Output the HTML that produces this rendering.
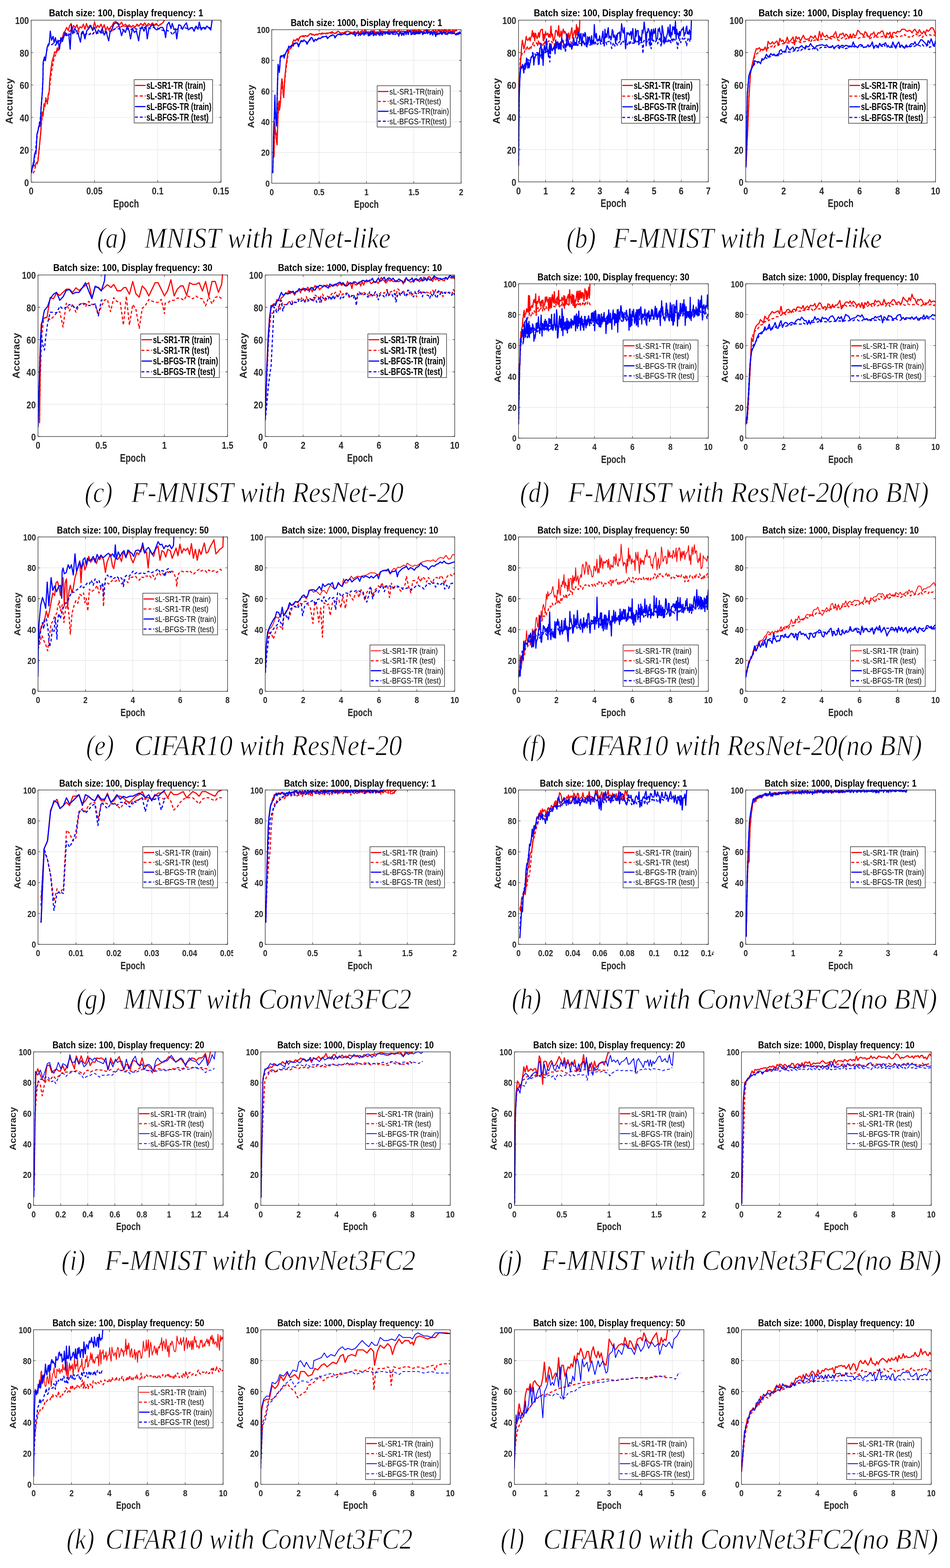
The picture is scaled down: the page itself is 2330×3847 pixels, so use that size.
<!DOCTYPE html>
<html><head><meta charset="utf-8"><title>Accuracy plots</title>
<style>html,body{margin:0;padding:0;background:#fff}svg{display:block}
text{font-family:"Liberation Sans",Arial,sans-serif}text.cap{font-family:"Liberation Serif","Times New Roman",serif;font-style:italic;stroke:#fff;stroke-width:1.3px}</style></head>
<body><svg width="2330" height="3847" viewBox="0 0 2330 3847">
<defs><clipPath id="ca1"><rect x="76.5" y="47.5" width="465.5" height="399.5"/></clipPath><clipPath id="ca2"><rect x="666.5" y="70.8" width="464.4" height="378.7"/></clipPath><clipPath id="cb1"><rect x="1271.7" y="47.5" width="465.6" height="398.8"/></clipPath><clipPath id="cb2"><rect x="1828.9" y="47.5" width="465.6" height="398.8"/></clipPath><clipPath id="cc1"><rect x="93.3" y="672.6" width="464.8" height="398.4"/></clipPath><clipPath id="cc2"><rect x="650.5" y="672.6" width="464.8" height="398.4"/></clipPath><clipPath id="cd1"><rect x="1271.7" y="694.3" width="465.6" height="380.7"/></clipPath><clipPath id="cd2"><rect x="1828.9" y="694.3" width="465.6" height="380.7"/></clipPath><clipPath id="ce1"><rect x="93.3" y="1315.4" width="464.8" height="380.8"/></clipPath><clipPath id="ce2"><rect x="650.5" y="1315.4" width="464.8" height="380.8"/></clipPath><clipPath id="cf1"><rect x="1271.7" y="1315.4" width="465.6" height="380.8"/></clipPath><clipPath id="cf2"><rect x="1828.9" y="1315.4" width="465.6" height="380.8"/></clipPath><clipPath id="cg1"><rect x="93.3" y="1936.3" width="464.8" height="380.7"/></clipPath><clipPath id="kg1"><rect x="0" y="0" width="572" height="3847"/></clipPath><clipPath id="cg2"><rect x="650.5" y="1936.3" width="464.8" height="380.7"/></clipPath><clipPath id="ch1"><rect x="1271.7" y="1936.3" width="465.6" height="380.7"/></clipPath><clipPath id="kh1"><rect x="0" y="0" width="1750" height="3847"/></clipPath><clipPath id="ch2"><rect x="1828.9" y="1936.3" width="465.6" height="380.7"/></clipPath><clipPath id="ci1"><rect x="82.4" y="2578.7" width="464.8" height="378.7"/></clipPath><clipPath id="ci2"><rect x="639.6" y="2578.7" width="464.8" height="378.7"/></clipPath><clipPath id="cj1"><rect x="1261.6" y="2578.7" width="464.8" height="378.7"/></clipPath><clipPath id="cj2"><rect x="1818.5" y="2578.7" width="465.5" height="378.7"/></clipPath><clipPath id="ck1"><rect x="82.4" y="3260.5" width="464.8" height="381.2"/></clipPath><clipPath id="ck2"><rect x="639.6" y="3260.5" width="464.8" height="381.2"/></clipPath><clipPath id="cl1"><rect x="1261.6" y="3260.5" width="464.8" height="381.2"/></clipPath><clipPath id="cl2"><rect x="1818.5" y="3260.5" width="465.5" height="381.2"/></clipPath></defs>
<rect width="2330" height="3847" fill="#fff"/>
<path d="M231.7 49.5V447.0M386.8 49.5V447.0M76.5 367.5H542.0M76.5 288.0H542.0M76.5 208.5H542.0M76.5 129.0H542.0" stroke="#e3e3e3" stroke-width="1.2" fill="none"/>
<g clip-path="url(#ca1)" fill="none" stroke-width="2.8" stroke-linejoin="round">
<path d="M80.0 412.0 83.0 405.0 86.0 408.0 88.5 400.0 91.0 402.0 93.3 394.0 95.3 372.0 97.5 350.0 99.5 330.0 101.5 300.0 103.7 275.0 105.5 285.0 107.8 255.0 110.0 262.0 112.6 240.0 114.5 250.0 116.6 249.3 118.5 230.0 120.6 225.2 121.7 199.4 124.8 171.0 128.0 149.0 131.1 139.5 134.3 126.9 137.4 130.1 140.6 117.5 143.7 123.8 146.9 108.0 150.0 98.6 153.2 92.3 156.3 79.7 159.5 76.5 163.6 67.1 167.4 74.9 170.5 63.9 174.3 57.6 177.4 73.4 180.6 62.3 184.7 68.6 188.8 60.8 192.6 73.4 196.3 65.5 200.4 68.6 204.5 59.2 208.3 71.8 212.1 57.6 216.2 70.2 220.3 62.3 224.1 67.1 227.8 71.8 231.9 54.5 236.0 68.6 239.8 62.3 243.6 67.1 247.7 59.2 251.8 70.2 255.6 60.8 259.3 74.9 263.4 65.5 266.6 73.4 270.7 67.1 274.5 63.9 279.2 54.5 283.9 52.9 288.6 56.0 293.4 60.8 298.1 54.5 302.8 63.9 307.5 59.2 312.3 65.5 317.0 60.8 321.7 67.1 326.4 62.3 331.2 67.1 335.9 59.2 340.6 63.9 345.3 57.6 350.1 62.3 354.8 56.0 359.5 63.9 364.2 57.6 369.0 62.3 373.7 56.0 378.4 62.3 383.1 57.6 387.9 63.9 392.6 60.8 397.3 57.6 400.5 54.5 403.0 49.7" stroke="#ff0000"/>
<path d="M81.0 425.0 84.0 420.0 86.0 412.0 88.0 405.0 90.0 400.0 92.0 395.0 94.0 385.0 96.0 370.0 98.0 345.0 100.0 325.0 102.0 300.0 104.0 285.0 106.0 280.0 108.0 265.0 110.0 250.0 113.0 245.0 116.0 255.0 119.0 236.0 122.0 215.0 123.3 199.4 126.4 177.3 130.2 155.3 133.3 139.5 137.4 133.2 141.5 120.6 145.3 114.3 149.1 104.9 153.2 97.0 157.9 89.1 162.6 82.8 167.4 79.7 172.1 74.9 176.8 78.1 181.5 79.7 186.3 76.5 191.0 74.9 195.7 79.7 200.4 82.8 205.2 79.7 209.9 84.4 214.6 81.2 219.3 84.4 224.1 79.7 228.8 82.8 233.5 76.5 238.2 79.7 243.0 76.5 247.7 78.1 252.4 74.9 257.1 76.5 261.9 78.1 266.6 73.4 271.3 70.2 276.0 74.9 280.8 70.2 285.5 67.1 290.2 65.5 294.9 67.1 299.7 63.9 304.4 67.1 309.1 63.9 313.8 67.1 318.6 63.9 323.3 65.5 328.0 68.6 332.7 65.5 337.5 63.9 342.2 62.3 346.9 60.8 351.6 62.3 356.4 60.8 361.1 63.9 365.8 62.3 370.5 60.8 375.3 59.2 380.0 62.3 384.7 59.2 389.4 60.8 394.2 59.2 400.5 57.6" stroke="#ff0000" stroke-dasharray="7 5"/>
<path d="M77.0 418.0 78.4 418.2 80.0 405.0 82.4 402.0 84.5 380.0 86.4 374.0 88.0 378.0 89.3 362.0 90.5 330.0 91.7 325.7 94.0 318.0 96.5 305.6 98.0 310.0 99.7 289.5 101.0 262.0 102.5 241.3 104.0 225.0 105.3 193.0 105.9 152.1 109.1 139.5 111.3 149.0 115.4 117.5 118.5 108.0 120.7 108.0 123.3 76.5 126.4 98.6 130.2 89.1 132.7 104.9 135.9 92.3 139.0 108.0 142.2 98.6 145.9 120.6 149.1 92.3 153.2 101.7 156.3 90.7 159.5 79.7 164.2 86.0 168.9 86.0 172.1 120.6 175.2 60.8 178.4 82.8 183.1 70.2 187.8 76.5 192.6 86.0 197.3 103.3 200.4 79.7 203.6 76.5 208.3 95.4 213.0 74.9 217.8 70.2 222.5 62.3 227.2 74.9 231.9 67.1 236.7 82.8 241.4 73.4 246.1 79.7 250.8 70.2 255.6 86.0 260.3 76.5 263.4 89.1 266.6 100.1 269.7 79.7 274.5 71.8 279.2 59.2 283.9 56.0 288.6 57.6 293.4 67.1 298.1 87.5 302.8 73.4 307.5 79.7 312.3 63.9 317.0 76.5 320.1 95.4 324.9 70.2 329.6 79.7 334.3 74.9 340.0 100.1 343.8 73.4 348.5 65.5 353.2 76.5 357.9 63.9 361.1 95.4 365.2 70.2 370.5 63.9 375.3 60.8 380.0 70.2 384.7 73.4 389.4 70.2 394.2 67.1 398.9 67.1 403.6 76.5 406.1 92.3 409.9 60.8 414.6 54.5 419.4 70.2 422.5 57.6 427.2 73.4 430.4 70.2 433.5 95.4 438.3 60.8 443.0 62.3 447.7 71.8 452.4 62.3 457.2 56.0 461.9 73.4 466.6 70.2 471.3 67.1 476.1 76.5 480.8 63.9 485.5 71.8 488.7 54.5 493.4 73.4 498.1 67.1 502.8 71.8 507.6 63.9 512.3 68.6 517.0 73.4 520.2 49.7" stroke="#0000ff"/>
<path d="M77.0 425.0 79.0 415.0 81.0 400.0 83.0 405.0 85.0 385.0 87.0 372.0 89.0 350.0 91.0 335.0 93.0 320.0 95.0 310.0 97.0 300.0 99.0 290.0 101.0 262.0 103.0 240.0 105.0 200.0 105.9 158.4 109.1 145.8 112.2 139.5 115.4 120.6 118.5 111.2 123.3 108.0 127.0 109.6 131.1 106.4 135.9 111.2 140.6 103.3 145.3 100.1 150.0 98.6 154.8 89.1 159.5 86.0 164.2 87.5 168.9 82.8 173.7 86.0 178.4 81.2 183.1 79.7 187.8 82.8 192.6 81.2 197.3 84.4 202.0 81.2 206.7 86.0 211.5 82.8 216.2 86.0 220.9 82.8 225.6 86.0 230.4 79.7 235.1 82.8 239.8 81.2 244.5 82.8 249.3 79.7 254.0 82.8 258.7 81.2 263.4 79.7 268.2 76.5 272.9 76.5 277.6 74.9 282.3 70.2 287.1 71.8 291.8 70.2 296.5 73.4 301.2 71.8 306.0 74.9 310.7 71.8 315.4 70.2 320.1 73.4 324.9 70.2 329.6 68.6 334.3 71.8 339.0 70.2 343.8 68.6 348.5 70.2 353.2 67.1 357.9 68.6 362.7 67.1 367.4 70.2 372.1 68.6 376.8 67.1 381.6 70.2 386.3 68.6 391.0 71.8 395.7 73.4 400.5 74.9 405.2 76.5 409.9 74.9 414.6 76.5 419.4 79.7 424.1 86.0 427.2 79.7 432.0 73.4 436.7 70.2 441.4 68.6 446.1 70.2 450.9 67.1 455.6 68.6 460.3 70.2 466.6 68.6 472.9 67.1 479.2 68.6 485.5 67.1 491.8 68.6 498.1 67.1 504.4 68.6 510.7 67.1 517.0 68.6" stroke="#0000ff" stroke-dasharray="7 5"/>
</g>
<path d="M76.5 447.0v-5.0M76.5 49.5v5.0M231.7 447.0v-5.0M231.7 49.5v5.0M386.8 447.0v-5.0M386.8 49.5v5.0M542.0 447.0v-5.0M542.0 49.5v5.0M76.5 447.0h5.0M542.0 447.0h-5.0M76.5 367.5h5.0M542.0 367.5h-5.0M76.5 288.0h5.0M542.0 288.0h-5.0M76.5 208.5h5.0M542.0 208.5h-5.0M76.5 129.0h5.0M542.0 129.0h-5.0M76.5 49.5h5.0M542.0 49.5h-5.0" stroke="#262626" stroke-width="1.1" fill="none"/>
<rect x="76.5" y="49.5" width="465.5" height="397.5" stroke="#262626" stroke-width="1.3" fill="none"/>
<text x="76.5" y="477.3" font-size="24.2" font-weight="bold" text-anchor="middle" fill="#262626" textLength="11.4" lengthAdjust="spacingAndGlyphs">0</text>
<text x="231.7" y="477.3" font-size="24.2" font-weight="bold" text-anchor="middle" fill="#262626" textLength="39.8" lengthAdjust="spacingAndGlyphs">0.05</text>
<text x="386.8" y="477.3" font-size="24.2" font-weight="bold" text-anchor="middle" fill="#262626" textLength="28.4" lengthAdjust="spacingAndGlyphs">0.1</text>
<text x="542.0" y="477.3" font-size="24.2" font-weight="bold" text-anchor="middle" fill="#262626" textLength="39.8" lengthAdjust="spacingAndGlyphs">0.15</text>
<text x="71.0" y="456.8" font-size="24.2" font-weight="bold" text-anchor="end" fill="#262626" textLength="11.4" lengthAdjust="spacingAndGlyphs">0</text>
<text x="71.0" y="377.3" font-size="24.2" font-weight="bold" text-anchor="end" fill="#262626" textLength="22.7" lengthAdjust="spacingAndGlyphs">20</text>
<text x="71.0" y="297.8" font-size="24.2" font-weight="bold" text-anchor="end" fill="#262626" textLength="22.7" lengthAdjust="spacingAndGlyphs">40</text>
<text x="71.0" y="218.3" font-size="24.2" font-weight="bold" text-anchor="end" fill="#262626" textLength="22.7" lengthAdjust="spacingAndGlyphs">60</text>
<text x="71.0" y="138.8" font-size="24.2" font-weight="bold" text-anchor="end" fill="#262626" textLength="22.7" lengthAdjust="spacingAndGlyphs">80</text>
<text x="71.0" y="59.3" font-size="24.2" font-weight="bold" text-anchor="end" fill="#262626" textLength="34.1" lengthAdjust="spacingAndGlyphs">100</text>
<text x="309.2" y="40.0" font-size="24.3" font-weight="bold" text-anchor="middle" fill="#000" textLength="378.4" lengthAdjust="spacingAndGlyphs">Batch size: 100, Display frequency: 1</text>
<text x="309.2" y="509.0" font-size="27.4" font-weight="bold" text-anchor="middle" fill="#262626" textLength="63.1" lengthAdjust="spacingAndGlyphs">Epoch</text>
<text transform="translate(31.0,248.2) rotate(-90)" x="0" y="0" font-size="23" font-weight="bold" text-anchor="middle" fill="#262626" textLength="112.5" lengthAdjust="spacingAndGlyphs">Accuracy</text>
<rect x="329.0" y="195.4" width="192.5" height="106.2" fill="#fff" stroke="#000" stroke-width="1.1"/>
<path d="M331.0 209.6h26" stroke="#ff0000" stroke-width="2.8"/>
<text x="359.0" y="217.9" font-size="23.4" font-weight="bold" text-anchor="start" fill="#000" textLength="144.8" lengthAdjust="spacingAndGlyphs">sL-SR1-TR (train)</text>
<path d="M331.0 235.5h26" stroke="#ff0000" stroke-width="2.8" stroke-dasharray="7 5"/>
<text x="359.0" y="243.8" font-size="23.4" font-weight="bold" text-anchor="start" fill="#000" textLength="138.0" lengthAdjust="spacingAndGlyphs">sL-SR1-TR (test)</text>
<path d="M331.0 261.5h26" stroke="#0000ff" stroke-width="2.8"/>
<text x="359.0" y="269.8" font-size="23.4" font-weight="bold" text-anchor="start" fill="#000" textLength="159.5" lengthAdjust="spacingAndGlyphs">sL-BFGS-TR (train)</text>
<path d="M331.0 287.4h26" stroke="#0000ff" stroke-width="2.8" stroke-dasharray="7 5"/>
<text x="359.0" y="295.7" font-size="23.4" font-weight="bold" text-anchor="start" fill="#000" textLength="152.7" lengthAdjust="spacingAndGlyphs">sL-BFGS-TR (test)</text>
<path d="M782.6 72.8V449.5M898.7 72.8V449.5M1014.8 72.8V449.5M666.5 374.2H1130.9M666.5 298.8H1130.9M666.5 223.5H1130.9M666.5 148.1H1130.9" stroke="#e3e3e3" stroke-width="1.2" fill="none"/>
<g clip-path="url(#ca2)" fill="none" stroke-width="2.8" stroke-linejoin="round">
<path d="M672.0 386.1 672.8 332.1 673.6 301.3 675.1 316.7 676.6 332.1 678.2 347.6 679.7 355.3 681.3 301.3 682.8 255.0 684.4 247.3 685.1 270.5 686.7 262.8 688.2 247.3 689.0 224.2 689.8 208.8 691.3 193.4 692.8 201.1 694.4 231.9 695.9 239.6 697.5 208.8 699.0 185.7 700.6 170.2 702.1 154.8 703.6 147.1 705.2 134.8 706.7 125.5 708.3 122.4 711.3 119.3 714.4 116.3 716.7 111.6 718.3 102.4 720.6 97.8 723.7 100.8 726.8 96.2 729.8 94.7 731.4 100.8 734.5 91.6 737.6 89.3 740.6 88.5 743.7 87.7 746.8 88.5 749.9 87.0 753.0 89.3 756.1 87.0 759.1 83.9 762.2 82.3 765.3 83.9 768.4 84.6 771.5 87.0 774.6 83.9 777.7 84.6 780.7 83.1 783.8 82.3 786.9 83.1 790.0 80.8 793.1 82.3 796.2 81.6 799.2 82.3 802.3 80.8 805.4 81.6 808.5 80.0 811.6 79.3 814.7 77.7 817.7 80.8 820.8 81.6 823.9 80.8 827.0 77.7 830.1 76.9 833.2 79.3 836.2 81.6 839.3 80.0 842.4 80.8 845.5 78.5 848.6 77.7 851.7 76.9 854.8 76.9 857.8 78.5 862.0 79.3 866.2 79.2 868.0 78.3 869.8 76.8 871.7 80.2 873.5 82.0 875.3 79.1 877.1 77.8 878.9 76.4 880.8 81.6 882.6 81.7 884.4 77.2 886.2 77.6 888.0 75.2 889.9 76.4 891.7 78.8 893.5 79.2 895.3 72.8 897.1 79.1 899.0 80.2 900.8 81.0 902.6 78.2 904.4 78.1 906.3 79.2 908.1 78.5 909.9 77.7 911.7 76.8 913.5 75.8 915.4 77.8 917.2 82.3 919.0 76.7 920.8 81.4 922.6 78.6 924.5 81.5 926.3 78.2 928.1 79.9 929.9 77.7 931.7 72.8 933.6 78.2 935.4 76.2 937.2 81.1 939.0 78.7 940.8 76.5 942.7 78.2 944.5 77.2 946.3 77.8 948.1 80.2 950.0 76.7 951.8 79.8 953.6 73.7 955.4 79.0 957.2 76.3 959.1 77.9 960.9 75.7 962.7 79.2 964.5 75.6 966.3 78.1 968.2 74.9 970.0 76.3 971.8 77.4 973.6 79.5 975.4 76.0 977.3 76.6 979.1 74.0 980.9 78.5 982.7 76.4 984.5 76.5 986.4 77.0 988.2 77.1 990.0 77.2 991.8 78.9 993.7 79.8 995.5 78.4 997.3 76.2 999.1 74.1 1000.9 75.2 1002.8 75.1 1004.6 75.7 1006.4 75.8 1008.2 77.0 1010.0 75.6 1011.9 73.3 1013.7 78.1 1015.5 78.9 1017.3 72.9 1019.1 76.7 1021.0 75.0 1022.8 75.2 1024.6 79.7 1026.4 72.8 1028.2 73.1 1030.1 76.7 1031.9 75.4 1033.7 76.8 1035.5 79.0 1037.4 77.2 1039.2 76.1 1041.0 74.4 1042.8 75.3 1044.6 76.8 1046.5 73.8 1048.3 78.6 1050.1 75.0 1051.9 74.3 1053.7 77.4 1055.6 80.8 1057.4 78.8 1059.2 76.1 1061.0 75.5 1062.8 73.1 1064.7 78.9 1066.5 76.6 1068.3 75.1 1070.1 76.9 1071.9 81.9 1073.8 74.6 1075.6 72.8 1077.4 74.1 1079.2 78.5 1081.1 77.3 1082.9 75.8 1084.7 72.8 1086.5 74.9 1088.3 76.0 1090.2 72.8 1092.0 76.4 1093.8 72.8 1095.6 77.7 1097.4 77.2 1099.3 74.5 1101.1 72.9 1102.9 74.6 1104.7 75.3 1106.5 80.1 1108.4 77.6 1110.2 77.3 1112.0 77.1 1113.8 74.6 1115.6 76.6 1117.5 74.1 1119.3 75.6 1120.3 72.8" stroke="#ff0000"/>
<path d="M672.0 378.4 673.6 316.7 676.6 324.4 679.7 332.1 681.3 293.6 683.6 262.8 686.7 255.0 689.0 231.9 691.3 208.8 693.6 216.5 695.9 224.2 698.2 201.1 700.6 177.9 702.9 159.4 705.2 142.5 707.5 128.6 709.8 122.4 712.9 119.3 716.0 114.7 719.1 105.5 722.1 100.8 725.2 99.3 728.3 97.0 731.4 99.3 734.5 93.1 737.6 90.8 740.6 90.0 743.7 89.3 746.8 90.0 749.9 88.5 753.0 89.3 756.1 87.7 759.1 85.4 762.2 84.6 765.3 85.4 768.4 85.4 771.5 87.0 774.6 85.4 777.7 85.4 780.7 84.6 783.8 83.9 786.9 83.9 790.0 83.1 793.1 83.1 796.2 83.1 799.2 83.1 802.3 82.3 805.4 82.3 808.5 81.6 811.6 81.6 814.7 80.8 817.7 81.6 820.8 82.3 823.9 81.6 827.0 80.0 830.1 79.3 833.2 80.8 836.2 82.3 839.3 81.6 842.4 81.6 845.5 80.0 848.6 79.3 851.7 79.3 854.8 78.5 857.8 79.3 862.0 80.0 866.2 80.3 868.0 79.8 869.8 80.7 871.7 81.1 873.5 78.3 875.3 80.0 877.1 80.6 878.9 76.6 880.8 80.9 882.6 82.3 884.4 82.5 886.2 80.8 888.0 78.6 889.9 78.2 891.7 77.6 893.5 76.2 895.3 76.4 897.1 78.4 899.0 77.0 900.8 78.3 902.6 80.5 904.4 77.9 906.3 79.3 908.1 79.8 909.9 75.6 911.7 77.9 913.5 80.3 915.4 79.5 917.2 74.9 919.0 79.8 920.8 77.9 922.6 78.1 924.5 78.3 926.3 78.1 928.1 80.1 929.9 80.1 931.7 79.5 933.6 79.8 935.4 77.6 937.2 76.2 939.0 80.8 940.8 78.0 942.7 80.9 944.5 80.4 946.3 79.5 948.1 78.8 950.0 79.8 951.8 83.9 953.6 76.3 955.4 79.4 957.2 80.1 959.1 77.6 960.9 80.0 962.7 81.6 964.5 77.9 966.3 78.0 968.2 80.4 970.0 77.2 971.8 78.1 973.6 80.9 975.4 75.4 977.3 78.2 979.1 80.9 980.9 77.8 982.7 78.4 984.5 76.8 986.4 81.2 988.2 76.6 990.0 76.8 991.8 77.2 993.7 77.4 995.5 76.0 997.3 77.1 999.1 78.3 1000.9 80.1 1002.8 76.3 1004.6 76.6 1006.4 77.9 1008.2 78.1 1010.0 77.0 1011.9 83.2 1013.7 77.8 1015.5 83.1 1017.3 77.9 1019.1 76.3 1021.0 74.7 1022.8 79.2 1024.6 77.4 1026.4 78.4 1028.2 82.5 1030.1 76.8 1031.9 78.2 1033.7 78.0 1035.5 79.9 1037.4 78.2 1039.2 77.9 1041.0 75.6 1042.8 77.5 1044.6 72.8 1046.5 78.8 1048.3 78.5 1050.1 78.1 1051.9 79.5 1053.7 75.1 1055.6 76.7 1057.4 80.3 1059.2 77.7 1061.0 75.7 1062.8 80.5 1064.7 77.5 1066.5 78.3 1068.3 73.3 1070.1 77.0 1071.9 78.5 1073.8 78.8 1075.6 74.1 1077.4 78.6 1079.2 73.3 1081.1 80.6 1082.9 78.0 1084.7 78.1 1086.5 78.9 1088.3 78.0 1090.2 76.2 1092.0 78.8 1093.8 80.2 1095.6 74.9 1097.4 74.7 1099.3 78.8 1101.1 76.8 1102.9 82.3 1104.7 75.4 1106.5 79.9 1108.4 78.4 1110.2 73.2 1112.0 79.7 1113.8 77.3 1115.6 79.3 1117.5 80.8 1119.3 79.5" stroke="#ff0000" stroke-dasharray="7 5"/>
<path d="M668.9 424.7 669.7 393.8 670.5 347.6 671.3 316.7 672.0 301.3 672.8 285.9 673.6 255.0 674.3 233.5 675.1 270.5 676.6 293.6 678.2 309.0 679.0 270.5 679.7 239.6 680.5 208.8 681.3 181.0 682.0 157.9 683.6 165.6 685.1 177.9 686.4 162.5 687.4 139.4 689.8 136.3 692.8 137.8 695.2 134.8 696.7 142.5 699.0 134.8 702.1 127.1 704.4 122.4 706.7 119.3 708.3 113.2 709.8 116.3 712.1 114.7 714.4 111.6 716.7 110.1 719.1 113.2 721.4 107.0 723.7 105.5 726.8 105.5 729.1 105.5 732.2 114.7 734.5 108.6 737.6 100.8 740.6 99.3 743.0 102.4 745.3 97.8 748.4 100.8 750.7 102.4 753.0 108.6 756.1 102.4 759.1 97.8 762.2 93.1 764.5 91.6 766.9 96.2 769.9 102.4 773.0 96.2 776.1 99.3 779.2 95.4 782.3 93.1 785.4 94.7 788.4 91.6 791.5 90.0 794.6 90.0 797.7 89.3 800.8 88.5 803.1 94.7 806.2 91.6 809.3 88.5 812.3 87.0 816.2 85.4 819.3 87.0 821.6 93.1 823.9 89.3 827.0 85.4 830.1 83.9 833.2 83.9 836.2 86.2 839.3 84.6 842.4 83.1 845.5 81.6 848.6 84.6 851.7 85.4 854.8 83.9 857.8 82.3 862.0 82.3 866.2 83.3 868.0 78.7 869.7 85.6 871.5 88.6 873.3 82.4 875.1 81.2 876.9 81.9 878.6 81.5 880.4 83.3 882.2 84.7 884.0 85.2 885.7 83.5 887.5 84.0 889.3 80.0 891.1 80.9 892.8 86.6 894.6 80.6 896.4 82.8 898.2 79.3 899.9 78.1 901.7 80.9 903.5 88.0 905.3 80.6 907.1 87.3 908.8 77.7 910.6 84.5 912.4 83.0 914.2 76.9 915.9 87.7 917.7 82.2 919.5 85.6 921.3 83.9 923.0 84.7 924.8 80.1 926.6 83.1 928.4 81.1 930.1 80.2 931.9 87.3 933.7 77.8 935.5 82.8 937.3 87.1 939.0 84.0 940.8 79.3 942.6 78.9 944.4 84.0 946.1 81.5 947.9 81.1 949.7 78.6 951.5 82.2 953.2 78.7 955.0 84.4 956.8 83.9 958.6 79.6 960.3 79.4 962.1 81.7 963.9 79.7 965.7 80.9 967.5 79.1 969.2 77.9 971.0 79.9 972.8 78.9 974.6 82.6 976.3 83.1 978.1 88.6 979.9 80.0 981.7 81.2 983.4 79.6 985.2 87.0 987.0 82.7 988.8 82.9 990.6 86.7 992.3 78.3 994.1 77.3 995.9 85.0 997.7 79.6 999.4 75.7 1001.2 84.7 1003.0 77.9 1004.8 76.0 1006.5 75.1 1008.3 85.0 1010.1 84.1 1011.9 80.1 1013.6 77.0 1015.4 84.6 1017.2 83.1 1019.0 84.2 1020.8 77.4 1022.5 82.5 1024.3 79.1 1026.1 78.9 1027.9 77.3 1029.6 79.6 1031.4 79.9 1033.2 77.3 1035.0 79.5 1036.7 84.8 1038.5 82.6 1040.3 78.2 1042.1 80.6 1043.8 82.1 1045.6 80.3 1047.4 72.8 1049.2 81.2 1051.0 79.6 1052.7 79.7 1054.5 82.0 1056.3 77.5 1058.1 78.5 1059.8 79.9 1061.6 85.4 1063.4 77.3 1065.2 78.9 1066.9 81.5 1068.7 89.6 1070.5 81.5 1072.3 85.0 1074.0 82.0 1075.8 82.9 1077.6 83.9 1079.4 78.2 1081.2 81.0 1082.9 77.6 1084.7 84.4 1086.5 82.0 1088.3 77.2 1090.0 80.5 1091.8 83.7 1093.6 84.3 1095.4 83.4 1097.1 81.8 1098.9 79.4 1100.7 81.1 1102.5 79.3 1104.3 79.0 1106.0 81.3 1107.8 77.7 1109.6 79.4 1111.4 82.2 1113.1 82.2 1114.9 81.8 1116.7 84.0 1118.5 85.9 1120.2 81.7 1122.0 83.4 1123.8 80.0 1125.6 83.7 1127.3 81.5 1129.1 81.2 1130.9 83.3" stroke="#0000ff"/>
<path d="M668.9 424.7 669.7 401.5 670.5 355.3 671.6 324.4 672.5 298.2 673.1 278.2 674.0 247.3 675.0 278.2 676.6 298.2 678.7 301.3 679.6 255.0 680.5 216.5 681.4 185.7 682.7 162.5 684.4 170.2 685.9 165.6 687.4 144.0 690.5 137.8 693.6 139.4 695.9 136.3 699.0 133.2 702.1 128.6 705.2 122.4 708.3 116.3 711.3 114.7 714.4 113.2 717.5 110.9 720.6 108.6 723.7 107.0 726.8 106.2 729.8 107.0 732.9 110.1 736.0 105.5 739.1 101.6 742.2 100.8 745.3 100.1 748.4 101.6 751.4 103.2 754.5 103.9 757.6 100.8 760.7 97.0 763.8 94.7 766.9 97.0 769.9 100.1 773.0 97.8 776.1 97.8 779.2 96.2 782.3 94.7 785.4 94.7 788.4 92.4 791.5 90.8 794.6 90.8 797.7 90.0 800.8 90.0 803.9 92.4 806.9 90.8 810.0 88.5 813.1 87.7 816.2 87.0 819.3 87.7 822.4 90.0 825.5 87.7 828.5 85.4 831.6 84.6 834.7 84.6 837.8 85.4 840.9 84.6 844.0 83.1 847.0 83.1 850.1 84.6 853.2 84.6 856.3 83.9 859.4 83.1 862.0 83.1 866.2 84.1 868.0 81.8 869.7 87.1 871.5 88.3 873.3 84.1 875.1 82.1 876.9 84.2 878.6 87.1 880.4 84.9 882.2 80.5 884.0 86.8 885.7 81.3 887.5 82.4 889.3 82.5 891.1 81.8 892.8 84.7 894.6 83.7 896.4 79.3 898.2 84.2 899.9 84.3 901.7 86.5 903.5 84.3 905.3 81.6 907.1 80.4 908.8 81.7 910.6 81.8 912.4 81.8 914.2 82.4 915.9 80.8 917.7 83.4 919.5 80.7 921.3 83.2 923.0 86.6 924.8 85.9 926.6 83.4 928.4 84.0 930.1 85.7 931.9 84.6 933.7 82.5 935.5 82.0 937.3 80.9 939.0 84.7 940.8 81.9 942.6 80.4 944.4 82.0 946.1 78.8 947.9 83.8 949.7 82.7 951.5 82.3 953.2 83.5 955.0 82.7 956.8 82.1 958.6 82.6 960.3 83.7 962.1 83.5 963.9 82.7 965.7 85.9 967.5 82.0 969.2 84.9 971.0 83.0 972.8 84.8 974.6 82.1 976.3 83.2 978.1 82.9 979.9 83.9 981.7 82.0 983.4 78.7 985.2 86.2 987.0 81.1 988.8 81.7 990.6 83.0 992.3 84.9 994.1 78.6 995.9 81.7 997.7 79.8 999.4 82.9 1001.2 83.7 1003.0 79.6 1004.8 80.3 1006.5 82.6 1008.3 82.4 1010.1 80.5 1011.9 83.6 1013.6 83.7 1015.4 81.9 1017.2 79.6 1019.0 79.9 1020.8 81.4 1022.5 78.9 1024.3 82.2 1026.1 83.0 1027.9 76.7 1029.6 83.0 1031.4 80.6 1033.2 80.7 1035.0 81.6 1036.7 81.4 1038.5 80.4 1040.3 80.7 1042.1 83.2 1043.8 81.9 1045.6 78.9 1047.4 80.3 1049.2 82.9 1051.0 81.8 1052.7 84.1 1054.5 84.8 1056.3 83.1 1058.1 78.4 1059.8 83.3 1061.6 86.3 1063.4 82.2 1065.2 83.5 1066.9 80.4 1068.7 79.3 1070.5 82.7 1072.3 81.7 1074.0 84.0 1075.8 79.4 1077.6 83.6 1079.4 82.0 1081.2 76.8 1082.9 84.1 1084.7 81.7 1086.5 82.2 1088.3 81.0 1090.0 81.0 1091.8 78.8 1093.6 81.0 1095.4 80.8 1097.1 84.8 1098.9 81.2 1100.7 85.0 1102.5 79.4 1104.3 82.2 1106.0 80.0 1107.8 83.2 1109.6 81.6 1111.4 81.9 1113.1 80.9 1114.9 82.4 1116.7 83.4 1118.5 83.0 1120.2 83.6 1122.0 84.2 1123.8 84.8 1125.6 85.4 1127.3 78.0 1129.1 83.8 1130.9 84.6" stroke="#0000ff" stroke-dasharray="7 5"/>
</g>
<path d="M666.5 449.5v-5.0M666.5 72.8v5.0M782.6 449.5v-5.0M782.6 72.8v5.0M898.7 449.5v-5.0M898.7 72.8v5.0M1014.8 449.5v-5.0M1014.8 72.8v5.0M1130.9 449.5v-5.0M1130.9 72.8v5.0M666.5 449.5h5.0M1130.9 449.5h-5.0M666.5 374.2h5.0M1130.9 374.2h-5.0M666.5 298.8h5.0M1130.9 298.8h-5.0M666.5 223.5h5.0M1130.9 223.5h-5.0M666.5 148.1h5.0M1130.9 148.1h-5.0M666.5 72.8h5.0M1130.9 72.8h-5.0" stroke="#262626" stroke-width="1.1" fill="none"/>
<rect x="666.5" y="72.8" width="464.4" height="376.7" stroke="#262626" stroke-width="1.3" fill="none"/>
<text x="666.5" y="478.7" font-size="22.4" font-weight="bold" text-anchor="middle" fill="#262626" textLength="10.5" lengthAdjust="spacingAndGlyphs">0</text>
<text x="782.6" y="478.7" font-size="22.4" font-weight="bold" text-anchor="middle" fill="#262626" textLength="26.3" lengthAdjust="spacingAndGlyphs">0.5</text>
<text x="898.7" y="478.7" font-size="22.4" font-weight="bold" text-anchor="middle" fill="#262626" textLength="10.5" lengthAdjust="spacingAndGlyphs">1</text>
<text x="1014.8" y="478.7" font-size="22.4" font-weight="bold" text-anchor="middle" fill="#262626" textLength="26.3" lengthAdjust="spacingAndGlyphs">1.5</text>
<text x="1130.9" y="478.7" font-size="22.4" font-weight="bold" text-anchor="middle" fill="#262626" textLength="10.5" lengthAdjust="spacingAndGlyphs">2</text>
<text x="661.5" y="457.7" font-size="22.4" font-weight="bold" text-anchor="end" fill="#262626" textLength="10.5" lengthAdjust="spacingAndGlyphs">0</text>
<text x="661.5" y="382.4" font-size="22.4" font-weight="bold" text-anchor="end" fill="#262626" textLength="21.1" lengthAdjust="spacingAndGlyphs">20</text>
<text x="661.5" y="307.0" font-size="22.4" font-weight="bold" text-anchor="end" fill="#262626" textLength="21.1" lengthAdjust="spacingAndGlyphs">40</text>
<text x="661.5" y="231.7" font-size="22.4" font-weight="bold" text-anchor="end" fill="#262626" textLength="21.1" lengthAdjust="spacingAndGlyphs">60</text>
<text x="661.5" y="156.3" font-size="22.4" font-weight="bold" text-anchor="end" fill="#262626" textLength="21.1" lengthAdjust="spacingAndGlyphs">80</text>
<text x="661.5" y="81.0" font-size="22.4" font-weight="bold" text-anchor="end" fill="#262626" textLength="31.6" lengthAdjust="spacingAndGlyphs">100</text>
<text x="898.7" y="64.0" font-size="23.2" font-weight="bold" text-anchor="middle" fill="#000" textLength="371.4" lengthAdjust="spacingAndGlyphs">Batch size: 1000, Display frequency: 1</text>
<text x="898.7" y="510.1" font-size="25.6" font-weight="bold" text-anchor="middle" fill="#262626" textLength="60.3" lengthAdjust="spacingAndGlyphs">Epoch</text>
<text transform="translate(622.8,261.1) rotate(-90)" x="0" y="0" font-size="22.7" font-weight="bold" text-anchor="middle" fill="#262626" textLength="106.5" lengthAdjust="spacingAndGlyphs">Accuracy</text>
<rect x="925.0" y="210.3" width="179.3" height="101.3" fill="#fff" stroke="#000" stroke-width="1.1"/>
<path d="M927.0 224.5h26" stroke="#ff0000" stroke-width="2.8"/>
<text x="955.0" y="231.7" font-size="20.2" font-weight="normal" text-anchor="start" fill="#000" textLength="132.7" lengthAdjust="spacingAndGlyphs">sL-SR1-TR(train)</text>
<path d="M927.0 248.8h26" stroke="#ff0000" stroke-width="2.8" stroke-dasharray="7 5"/>
<text x="955.0" y="256.0" font-size="20.2" font-weight="normal" text-anchor="start" fill="#000" textLength="126.9" lengthAdjust="spacingAndGlyphs">sL-SR1-TR(test)</text>
<path d="M927.0 273.1h26" stroke="#0000ff" stroke-width="2.8"/>
<text x="955.0" y="280.3" font-size="20.2" font-weight="normal" text-anchor="start" fill="#000" textLength="146.3" lengthAdjust="spacingAndGlyphs">sL-BFGS-TR(train)</text>
<path d="M927.0 297.4h26" stroke="#0000ff" stroke-width="2.8" stroke-dasharray="7 5"/>
<text x="955.0" y="304.6" font-size="20.2" font-weight="normal" text-anchor="start" fill="#000" textLength="140.5" lengthAdjust="spacingAndGlyphs">sL-BFGS-TR(test)</text>
<path d="M1338.2 49.5V446.3M1404.7 49.5V446.3M1471.2 49.5V446.3M1537.8 49.5V446.3M1604.3 49.5V446.3M1670.8 49.5V446.3M1271.7 366.9H1737.3M1271.7 287.6H1737.3M1271.7 208.2H1737.3M1271.7 128.9H1737.3" stroke="#e3e3e3" stroke-width="1.2" fill="none"/>
<g clip-path="url(#cb1)" fill="none" stroke-width="2.8" stroke-linejoin="round">
<path d="M1271.7 267.7 1273.6 198.2 1275.5 169.4 1277.4 143.3 1279.3 115.5 1281.2 98.7 1283.1 108.3 1285.0 120.2 1286.9 113.0 1288.7 102.5 1290.6 89.4 1292.5 96.5 1294.4 99.1 1296.3 96.9 1298.2 92.2 1300.1 100.3 1302.0 92.2 1303.9 88.7 1305.8 74.8 1307.7 91.1 1309.6 80.9 1311.5 100.1 1313.4 81.5 1315.3 88.1 1317.2 94.6 1319.1 89.4 1321.0 80.2 1322.8 91.9 1324.7 78.5 1326.6 73.5 1328.5 72.3 1330.4 72.0 1332.3 99.9 1334.2 84.0 1336.1 93.7 1338.0 77.7 1339.9 85.8 1341.8 84.0 1343.7 81.4 1345.6 91.3 1347.5 84.3 1349.4 91.9 1351.3 64.2 1353.2 88.6 1355.1 83.7 1356.9 100.7 1358.8 97.5 1360.7 91.0 1362.6 74.7 1364.5 74.6 1366.4 79.1 1368.3 87.7 1370.2 63.1 1372.1 90.9 1374.0 89.2 1375.9 76.2 1377.8 90.6 1379.7 78.3 1381.6 71.4 1383.5 81.6 1385.4 76.9 1387.3 80.5 1389.2 87.5 1391.0 111.8 1392.9 92.8 1394.8 81.0 1396.7 96.9 1398.6 86.4 1400.5 78.9 1402.4 67.9 1404.3 94.2 1406.2 85.7 1408.1 77.9 1410.0 74.5 1411.9 92.7 1413.8 60.6 1415.7 86.3 1417.6 67.2 1419.5 79.3 1421.4 72.9 1422.0 49.5" stroke="#ff0000"/>
<path d="M1271.7 267.7 1273.7 208.1 1275.7 144.6 1277.8 139.8 1279.8 133.7 1281.8 129.4 1283.8 131.2 1285.9 129.2 1287.9 119.9 1289.9 121.8 1291.9 112.8 1293.9 116.6 1296.0 123.3 1298.0 119.7 1300.0 116.2 1302.0 120.7 1304.1 109.9 1306.1 110.4 1308.1 104.2 1310.1 113.0 1312.1 109.7 1314.2 105.6 1316.2 104.7 1318.2 113.3 1320.2 100.5 1322.3 111.1 1324.3 101.9 1326.3 109.2 1328.3 109.7 1330.3 113.7 1332.4 108.0 1334.4 95.3 1336.4 110.3 1338.4 99.4 1340.5 100.4 1342.5 109.0 1344.5 101.5 1346.5 100.1 1348.6 108.5 1350.6 109.7 1352.6 101.4 1354.6 105.3 1356.6 96.4 1358.7 104.9 1360.7 112.8 1362.7 107.3 1364.7 112.9 1366.8 103.3 1368.8 103.5 1370.8 109.1 1372.8 111.5 1374.8 102.8 1376.9 109.2 1378.9 101.4 1380.9 112.5 1382.9 109.1 1385.0 110.5 1387.0 113.1 1389.0 94.5 1391.0 99.8 1393.0 111.4 1395.1 104.5 1397.1 117.5 1399.1 102.4 1401.1 103.4 1403.2 110.6 1405.2 110.7 1407.2 107.2 1409.2 105.6 1411.2 109.2 1413.3 111.2 1415.3 107.8 1417.3 108.1 1419.3 101.6 1421.4 104.6" stroke="#ff0000" stroke-dasharray="7 5"/>
<path d="M1271.7 406.6 1273.3 241.1 1275.0 194.6 1276.6 174.0 1278.2 163.4 1279.9 164.2 1281.5 157.9 1283.1 166.3 1284.7 179.1 1286.4 161.0 1288.0 155.6 1289.6 166.1 1291.3 142.3 1292.9 152.8 1294.5 167.1 1296.2 151.4 1297.8 166.4 1299.4 157.8 1301.1 150.0 1302.7 139.8 1304.3 139.4 1305.9 136.7 1307.6 130.3 1309.2 159.7 1310.8 144.5 1312.5 140.4 1314.1 135.2 1315.7 135.6 1317.4 132.5 1319.0 129.5 1320.6 158.3 1322.3 157.1 1323.9 118.1 1325.5 117.6 1327.1 106.6 1328.8 143.8 1330.4 120.3 1332.0 160.5 1333.7 125.5 1335.3 111.5 1336.9 120.8 1338.6 128.7 1340.2 95.3 1341.8 118.9 1343.5 125.8 1345.1 139.6 1346.7 119.2 1348.3 106.9 1350.0 132.6 1351.6 108.6 1353.2 120.3 1354.9 124.3 1356.5 118.9 1358.1 116.8 1359.8 111.1 1361.4 132.2 1363.0 97.8 1364.7 118.1 1366.3 104.2 1367.9 102.4 1369.5 120.7 1371.2 106.3 1372.8 118.0 1374.4 104.9 1376.1 121.6 1377.7 92.0 1379.3 101.3 1381.0 99.2 1382.6 107.8 1384.2 109.2 1385.9 110.3 1387.5 116.7 1389.1 113.5 1390.7 82.8 1392.4 93.9 1394.0 100.9 1395.6 109.5 1397.3 106.8 1398.9 114.6 1400.5 107.9 1402.2 120.5 1403.8 114.6 1405.4 100.9 1407.1 92.5 1408.7 104.5 1410.3 104.2 1411.9 104.4 1413.6 110.7 1415.2 93.2 1416.8 93.5 1418.5 81.0 1420.1 77.4 1421.7 100.7 1423.4 86.2 1425.0 82.0 1426.6 112.5 1428.3 98.3 1429.9 82.6 1431.5 84.9 1433.1 89.9 1434.8 79.6 1436.4 85.4 1438.0 114.1 1439.7 114.9 1441.3 90.2 1442.9 104.6 1444.6 91.7 1446.2 90.5 1447.8 104.4 1449.5 106.6 1451.1 87.6 1452.7 107.3 1454.3 99.2 1456.0 106.9 1457.6 60.5 1459.2 86.8 1460.9 93.5 1462.5 82.0 1464.1 99.5 1465.8 101.1 1467.4 96.5 1469.0 99.5 1470.7 87.8 1472.3 100.5 1473.9 101.4 1475.5 98.5 1477.2 86.3 1478.8 76.3 1480.4 100.3 1482.1 112.9 1483.7 71.9 1485.3 92.7 1487.0 83.3 1488.6 91.1 1490.2 76.0 1491.9 67.9 1493.5 93.6 1495.1 88.0 1496.7 89.2 1498.4 98.3 1500.0 90.6 1501.6 72.7 1503.3 75.4 1504.9 91.9 1506.5 85.9 1508.2 91.2 1509.8 106.6 1511.4 86.0 1513.1 98.3 1514.7 82.3 1516.3 80.9 1517.9 81.8 1519.6 78.3 1521.2 98.5 1522.8 87.0 1524.5 58.1 1526.1 68.5 1527.7 79.3 1529.4 80.9 1531.0 67.7 1532.6 92.8 1534.3 119.4 1535.9 101.1 1537.5 80.0 1539.1 84.3 1540.8 80.6 1542.4 82.2 1544.0 86.5 1545.7 81.7 1547.3 77.3 1548.9 96.4 1550.6 78.6 1552.2 69.8 1553.8 92.0 1555.5 106.1 1557.1 101.8 1558.7 71.1 1560.3 89.4 1562.0 76.1 1563.6 74.9 1565.2 75.1 1566.9 108.8 1568.5 88.6 1570.1 99.2 1571.8 92.3 1573.4 103.0 1575.0 74.0 1576.7 81.9 1578.3 72.1 1579.9 53.9 1581.5 69.7 1583.2 84.1 1584.8 112.3 1586.4 78.5 1588.1 80.0 1589.7 69.9 1591.3 72.5 1593.0 79.1 1594.6 112.5 1596.2 78.8 1597.9 72.2 1599.5 94.6 1601.1 83.0 1602.7 71.4 1604.4 82.4 1606.0 79.0 1607.6 69.7 1609.3 100.4 1610.9 95.0 1612.5 94.8 1614.2 71.1 1615.8 76.3 1617.4 68.1 1619.1 81.2 1620.7 83.9 1622.3 103.3 1623.9 63.1 1625.6 72.6 1627.2 84.6 1628.8 107.6 1630.5 90.7 1632.1 101.7 1633.7 95.2 1635.4 88.4 1637.0 81.9 1638.6 66.7 1640.3 79.7 1641.9 88.7 1643.5 60.7 1645.1 92.8 1646.8 79.7 1648.4 85.4 1650.0 65.7 1651.7 72.3 1653.3 65.9 1654.9 83.0 1656.6 52.1 1658.2 96.6 1659.8 72.0 1661.5 84.4 1663.1 81.8 1664.7 94.9 1666.3 77.2 1668.0 87.6 1669.6 78.6 1671.2 74.1 1672.9 71.0 1674.5 72.9 1676.1 66.3 1677.8 88.6 1679.4 80.9 1681.0 82.9 1682.7 68.9 1684.3 64.0 1685.9 83.1 1687.5 78.4 1689.2 84.3 1690.8 73.1 1692.4 80.1 1694.1 96.7 1695.8 49.5" stroke="#0000ff"/>
<path d="M1271.7 406.6 1273.7 215.2 1275.7 174.4 1277.8 168.1 1279.8 167.3 1281.8 163.1 1283.8 172.9 1285.8 159.8 1287.9 169.9 1289.9 158.3 1291.9 157.8 1293.9 142.5 1296.0 147.7 1298.0 148.2 1300.0 147.2 1302.0 141.8 1304.0 141.4 1306.1 128.7 1308.1 139.3 1310.1 141.1 1312.1 132.2 1314.1 135.9 1316.2 128.9 1318.2 129.5 1320.2 137.2 1322.2 129.9 1324.2 143.6 1326.3 129.6 1328.3 128.2 1330.3 122.1 1332.3 129.3 1334.3 129.5 1336.4 132.9 1338.4 123.4 1340.4 128.0 1342.4 125.5 1344.5 124.0 1346.5 121.4 1348.5 151.8 1350.5 119.1 1352.5 118.8 1354.6 124.6 1356.6 121.6 1358.6 117.1 1360.6 122.7 1362.6 110.2 1364.7 113.9 1366.7 116.1 1368.7 120.7 1370.7 112.5 1372.7 119.8 1374.8 110.1 1376.8 115.0 1378.8 113.6 1380.8 112.2 1382.8 121.1 1384.9 112.4 1386.9 128.6 1388.9 104.1 1390.9 109.7 1393.0 104.2 1395.0 109.5 1397.0 111.0 1399.0 109.7 1401.0 110.1 1403.1 115.6 1405.1 113.5 1407.1 114.5 1409.1 103.1 1411.1 111.1 1413.2 109.7 1415.2 108.2 1417.2 111.9 1419.2 102.3 1421.2 110.0 1423.3 106.5 1425.3 107.0 1427.3 110.6 1429.3 107.0 1431.4 98.6 1433.4 112.9 1435.4 103.5 1437.4 106.7 1439.4 108.2 1441.5 108.3 1443.5 105.7 1445.5 108.4 1447.5 111.2 1449.5 103.3 1451.6 109.6 1453.6 111.2 1455.6 111.4 1457.6 106.4 1459.6 100.0 1461.7 107.9 1463.7 105.4 1465.7 109.4 1467.7 103.2 1469.7 102.6 1471.8 103.2 1473.8 108.4 1475.8 99.6 1477.8 107.8 1479.9 104.1 1481.9 105.6 1483.9 103.9 1485.9 102.4 1487.9 109.1 1490.0 103.3 1492.0 101.9 1494.0 101.9 1496.0 99.2 1498.0 104.5 1500.1 118.8 1502.1 115.7 1504.1 104.7 1506.1 106.6 1508.1 113.1 1510.2 106.8 1512.2 107.0 1514.2 110.8 1516.2 109.6 1518.2 103.5 1520.3 101.7 1522.3 109.2 1524.3 104.7 1526.3 106.8 1528.4 101.0 1530.4 105.0 1532.4 99.4 1534.4 101.9 1536.4 105.0 1538.5 109.9 1540.5 105.0 1542.5 101.3 1544.5 110.6 1546.5 102.7 1548.6 101.0 1550.6 105.8 1552.6 105.6 1554.6 106.3 1556.6 102.7 1558.7 98.9 1560.7 106.1 1562.7 102.7 1564.7 100.7 1566.7 109.9 1568.8 103.3 1570.8 106.2 1572.8 103.4 1574.8 104.0 1576.9 131.5 1578.9 100.7 1580.9 98.0 1582.9 102.4 1584.9 100.7 1587.0 101.6 1589.0 104.2 1591.0 95.6 1593.0 110.5 1595.0 105.2 1597.1 119.3 1599.1 90.5 1601.1 103.9 1603.1 98.8 1605.1 103.3 1607.2 104.6 1609.2 99.4 1611.2 104.4 1613.2 107.6 1615.3 97.6 1617.3 96.8 1619.3 91.4 1621.3 115.0 1623.3 103.3 1625.4 105.4 1627.4 96.7 1629.4 104.0 1631.4 103.5 1633.4 96.8 1635.5 104.5 1637.5 105.3 1639.5 94.6 1641.5 101.2 1643.5 96.2 1645.6 105.1 1647.6 95.7 1649.6 102.6 1651.6 92.3 1653.6 97.7 1655.7 98.2 1657.7 100.8 1659.7 101.7 1661.7 119.0 1663.8 104.9 1665.8 103.0 1667.8 95.0 1669.8 104.5 1671.8 99.0 1673.9 93.4 1675.9 99.4 1677.9 95.3 1679.9 93.6 1681.9 100.8 1684.0 112.2 1686.0 101.9 1688.0 93.0 1690.0 92.7 1692.0 101.5 1694.1 86.0" stroke="#0000ff" stroke-dasharray="7 5"/>
</g>
<path d="M1271.7 446.3v-5.0M1271.7 49.5v5.0M1338.2 446.3v-5.0M1338.2 49.5v5.0M1404.7 446.3v-5.0M1404.7 49.5v5.0M1471.2 446.3v-5.0M1471.2 49.5v5.0M1537.8 446.3v-5.0M1537.8 49.5v5.0M1604.3 446.3v-5.0M1604.3 49.5v5.0M1670.8 446.3v-5.0M1670.8 49.5v5.0M1737.3 446.3v-5.0M1737.3 49.5v5.0M1271.7 446.3h5.0M1737.3 446.3h-5.0M1271.7 366.9h5.0M1737.3 366.9h-5.0M1271.7 287.6h5.0M1737.3 287.6h-5.0M1271.7 208.2h5.0M1737.3 208.2h-5.0M1271.7 128.9h5.0M1737.3 128.9h-5.0M1271.7 49.5h5.0M1737.3 49.5h-5.0" stroke="#262626" stroke-width="1.1" fill="none"/>
<rect x="1271.7" y="49.5" width="465.6" height="396.8" stroke="#262626" stroke-width="1.3" fill="none"/>
<text x="1271.7" y="476.6" font-size="24.2" font-weight="bold" text-anchor="middle" fill="#262626" textLength="11.4" lengthAdjust="spacingAndGlyphs">0</text>
<text x="1338.2" y="476.6" font-size="24.2" font-weight="bold" text-anchor="middle" fill="#262626" textLength="11.4" lengthAdjust="spacingAndGlyphs">1</text>
<text x="1404.7" y="476.6" font-size="24.2" font-weight="bold" text-anchor="middle" fill="#262626" textLength="11.4" lengthAdjust="spacingAndGlyphs">2</text>
<text x="1471.2" y="476.6" font-size="24.2" font-weight="bold" text-anchor="middle" fill="#262626" textLength="11.4" lengthAdjust="spacingAndGlyphs">3</text>
<text x="1537.8" y="476.6" font-size="24.2" font-weight="bold" text-anchor="middle" fill="#262626" textLength="11.4" lengthAdjust="spacingAndGlyphs">4</text>
<text x="1604.3" y="476.6" font-size="24.2" font-weight="bold" text-anchor="middle" fill="#262626" textLength="11.4" lengthAdjust="spacingAndGlyphs">5</text>
<text x="1670.8" y="476.6" font-size="24.2" font-weight="bold" text-anchor="middle" fill="#262626" textLength="11.4" lengthAdjust="spacingAndGlyphs">6</text>
<text x="1737.3" y="476.6" font-size="24.2" font-weight="bold" text-anchor="middle" fill="#262626" textLength="11.4" lengthAdjust="spacingAndGlyphs">7</text>
<text x="1266.2" y="456.1" font-size="24.2" font-weight="bold" text-anchor="end" fill="#262626" textLength="11.4" lengthAdjust="spacingAndGlyphs">0</text>
<text x="1266.2" y="376.7" font-size="24.2" font-weight="bold" text-anchor="end" fill="#262626" textLength="22.7" lengthAdjust="spacingAndGlyphs">20</text>
<text x="1266.2" y="297.4" font-size="24.2" font-weight="bold" text-anchor="end" fill="#262626" textLength="22.7" lengthAdjust="spacingAndGlyphs">40</text>
<text x="1266.2" y="218.0" font-size="24.2" font-weight="bold" text-anchor="end" fill="#262626" textLength="22.7" lengthAdjust="spacingAndGlyphs">60</text>
<text x="1266.2" y="138.7" font-size="24.2" font-weight="bold" text-anchor="end" fill="#262626" textLength="22.7" lengthAdjust="spacingAndGlyphs">80</text>
<text x="1266.2" y="59.3" font-size="24.2" font-weight="bold" text-anchor="end" fill="#262626" textLength="34.1" lengthAdjust="spacingAndGlyphs">100</text>
<text x="1504.5" y="40.0" font-size="24.3" font-weight="bold" text-anchor="middle" fill="#000" textLength="390.4" lengthAdjust="spacingAndGlyphs">Batch size: 100, Display frequency: 30</text>
<text x="1504.5" y="508.3" font-size="27.4" font-weight="bold" text-anchor="middle" fill="#262626" textLength="63.1" lengthAdjust="spacingAndGlyphs">Epoch</text>
<text transform="translate(1226.2,247.9) rotate(-90)" x="0" y="0" font-size="23" font-weight="bold" text-anchor="middle" fill="#262626" textLength="112.5" lengthAdjust="spacingAndGlyphs">Accuracy</text>
<rect x="1524.2" y="195.4" width="192.2" height="107.0" fill="#fff" stroke="#000" stroke-width="1.1"/>
<path d="M1526.2 209.6h26" stroke="#ff0000" stroke-width="2.8"/>
<text x="1554.2" y="217.9" font-size="23.4" font-weight="bold" text-anchor="start" fill="#000" textLength="144.6" lengthAdjust="spacingAndGlyphs">sL-SR1-TR (train)</text>
<path d="M1526.2 235.8h26" stroke="#ff0000" stroke-width="2.8" stroke-dasharray="7 5"/>
<text x="1554.2" y="244.1" font-size="23.4" font-weight="bold" text-anchor="start" fill="#000" textLength="137.7" lengthAdjust="spacingAndGlyphs">sL-SR1-TR (test)</text>
<path d="M1526.2 262.0h26" stroke="#0000ff" stroke-width="2.8"/>
<text x="1554.2" y="270.3" font-size="23.4" font-weight="bold" text-anchor="start" fill="#000" textLength="159.2" lengthAdjust="spacingAndGlyphs">sL-BFGS-TR (train)</text>
<path d="M1526.2 288.2h26" stroke="#0000ff" stroke-width="2.8" stroke-dasharray="7 5"/>
<text x="1554.2" y="296.5" font-size="23.4" font-weight="bold" text-anchor="start" fill="#000" textLength="152.4" lengthAdjust="spacingAndGlyphs">sL-BFGS-TR (test)</text>
<path d="M1922.0 49.5V446.3M2015.1 49.5V446.3M2108.3 49.5V446.3M2201.4 49.5V446.3M1828.9 366.9H2294.5M1828.9 287.6H2294.5M1828.9 208.2H2294.5M1828.9 128.9H2294.5" stroke="#e3e3e3" stroke-width="1.2" fill="none"/>
<g clip-path="url(#cb2)" fill="none" stroke-width="2.8" stroke-linejoin="round">
<path d="M1829.8 406.6 1833.4 329.7 1837.0 238.0 1840.6 179.2 1844.2 161.2 1847.8 145.6 1851.4 131.1 1855.0 119.3 1858.6 120.5 1862.2 116.9 1865.9 122.4 1869.5 121.0 1873.1 121.6 1876.7 115.4 1880.3 125.5 1883.9 101.3 1887.5 107.6 1891.1 107.1 1894.7 102.4 1898.3 107.9 1901.9 104.0 1905.5 100.6 1909.1 111.7 1912.7 94.2 1916.3 101.5 1919.9 98.3 1923.5 106.1 1927.1 103.5 1930.7 91.3 1934.3 102.1 1937.9 101.0 1941.5 96.1 1945.1 90.7 1948.7 109.9 1952.3 89.6 1955.9 95.3 1959.5 91.6 1963.1 100.9 1966.7 93.7 1970.3 86.6 1973.9 94.8 1977.5 97.1 1981.1 95.6 1984.7 95.7 1988.3 88.4 1991.9 91.0 1995.5 94.1 1999.1 87.1 2002.7 96.2 2006.3 97.5 2009.9 77.2 2013.5 92.5 2017.1 80.7 2020.7 89.3 2024.3 89.8 2027.9 85.9 2031.5 92.7 2035.1 92.5 2038.8 89.1 2042.4 89.9 2046.0 84.1 2049.6 77.7 2053.2 93.5 2056.8 91.8 2060.4 83.3 2064.0 84.4 2067.6 81.1 2071.2 90.5 2074.8 83.5 2078.4 86.7 2082.0 94.5 2085.6 83.8 2089.2 93.9 2092.8 83.0 2096.4 87.9 2100.0 86.5 2103.6 74.4 2107.2 77.3 2110.8 82.8 2114.4 82.7 2118.0 88.4 2121.6 77.9 2125.2 80.8 2128.8 88.2 2132.4 92.1 2136.0 83.3 2139.6 84.0 2143.2 78.5 2146.8 87.9 2150.4 86.9 2154.0 80.0 2157.6 81.5 2161.2 76.9 2164.8 75.8 2168.4 85.9 2172.0 93.1 2175.6 80.5 2179.2 84.3 2182.8 79.1 2186.4 94.0 2190.0 80.4 2193.6 79.2 2197.2 82.3 2200.8 76.6 2204.4 78.4 2208.0 77.5 2211.7 71.9 2215.3 71.6 2218.9 71.9 2222.5 75.9 2226.1 76.8 2229.7 74.4 2233.3 75.5 2236.9 80.6 2240.5 74.6 2244.1 71.7 2247.7 78.3 2251.3 81.5 2254.9 72.8 2258.5 79.3 2262.1 82.9 2265.7 76.3 2269.3 82.3 2272.9 72.9 2276.5 77.0 2280.1 73.7 2283.7 68.1 2287.3 67.9 2290.9 73.9 2294.5 84.7" stroke="#ff0000"/>
<path d="M1829.8 406.6 1833.4 329.2 1837.0 233.8 1840.6 179.7 1844.2 167.0 1847.8 151.5 1851.4 137.4 1855.0 133.0 1858.6 130.0 1862.2 130.2 1865.9 121.3 1869.5 124.9 1873.1 122.0 1876.7 120.4 1880.3 118.8 1883.9 118.4 1887.5 113.0 1891.1 115.1 1894.7 112.2 1898.3 116.5 1901.9 111.1 1905.5 111.8 1909.1 109.6 1912.7 109.0 1916.3 107.6 1919.9 107.7 1923.5 106.6 1927.1 106.1 1930.7 105.4 1934.3 105.3 1937.9 105.7 1941.5 103.6 1945.1 105.8 1948.7 99.4 1952.3 101.4 1955.9 99.5 1959.5 102.4 1963.1 104.3 1966.7 104.3 1970.3 102.5 1973.9 101.9 1977.5 101.1 1981.1 100.7 1984.7 98.4 1988.3 104.2 1991.9 95.7 1995.5 99.5 1999.1 98.1 2002.7 101.8 2006.3 97.3 2009.9 100.5 2013.5 96.2 2017.1 96.4 2020.7 96.4 2024.3 96.9 2027.9 96.8 2031.5 96.7 2035.1 94.0 2038.8 95.4 2042.4 94.9 2046.0 90.3 2049.6 94.7 2053.2 96.5 2056.8 99.0 2060.4 99.1 2064.0 93.7 2067.6 92.0 2071.2 95.6 2074.8 95.6 2078.4 93.4 2082.0 92.5 2085.6 90.7 2089.2 92.6 2092.8 93.4 2096.4 90.5 2100.0 93.6 2103.6 94.4 2107.2 93.5 2110.8 91.8 2114.4 91.9 2118.0 91.0 2121.6 90.8 2125.2 86.0 2128.8 89.9 2132.4 95.0 2136.0 93.5 2139.6 90.2 2143.2 92.1 2146.8 85.9 2150.4 91.2 2154.0 91.0 2157.6 89.9 2161.2 90.5 2164.8 88.9 2168.4 90.4 2172.0 89.2 2175.6 91.0 2179.2 95.0 2182.8 88.7 2186.4 86.2 2190.0 91.4 2193.6 90.5 2197.2 87.7 2200.8 90.3 2204.4 88.9 2208.0 89.5 2211.7 87.7 2215.3 89.2 2218.9 84.7 2222.5 88.6 2226.1 89.2 2229.7 91.5 2233.3 88.3 2236.9 90.3 2240.5 87.0 2244.1 87.1 2247.7 82.8 2251.3 89.7 2254.9 87.8 2258.5 85.8 2262.1 92.0 2265.7 86.5 2269.3 84.0 2272.9 87.5 2276.5 87.6 2280.1 85.0 2283.7 86.9 2287.3 86.7 2290.9 85.5 2294.5 88.8" stroke="#ff0000" stroke-dasharray="7 5"/>
<path d="M1829.4 410.6 1833.0 230.8 1836.6 186.2 1840.2 174.6 1843.8 167.5 1847.4 160.5 1851.0 148.8 1854.6 151.2 1858.2 151.6 1861.8 151.5 1865.4 156.4 1869.0 143.7 1872.6 146.6 1876.2 141.3 1879.8 133.1 1883.5 139.5 1887.1 137.3 1890.7 131.4 1894.3 135.2 1897.9 132.6 1901.5 137.0 1905.1 134.8 1908.7 136.7 1912.3 124.2 1915.9 121.8 1919.5 128.1 1923.1 125.6 1926.7 126.1 1930.3 112.0 1933.9 118.7 1937.5 122.9 1941.1 118.7 1944.7 115.2 1948.4 124.8 1952.0 117.0 1955.6 116.5 1959.2 118.4 1962.8 114.5 1966.4 112.0 1970.0 116.6 1973.6 118.0 1977.2 112.1 1980.8 115.1 1984.4 113.7 1988.0 106.6 1991.6 113.2 1995.2 114.8 1998.8 120.0 2002.4 112.3 2006.0 112.0 2009.7 110.7 2013.3 110.5 2016.9 109.7 2020.5 111.6 2024.1 112.0 2027.7 110.0 2031.3 115.4 2034.9 116.5 2038.5 116.5 2042.1 111.7 2045.7 119.8 2049.3 114.1 2052.9 112.8 2056.5 110.6 2060.1 116.3 2063.7 111.4 2067.3 111.5 2070.9 113.9 2074.6 111.2 2078.2 112.2 2081.8 116.1 2085.4 112.7 2089.0 115.1 2092.6 102.9 2096.2 112.0 2099.8 113.7 2103.4 117.1 2107.0 110.8 2110.6 109.2 2114.2 110.6 2117.8 116.7 2121.4 115.2 2125.0 115.4 2128.6 109.9 2132.2 114.4 2135.8 111.2 2139.5 103.0 2143.1 118.8 2146.7 111.9 2150.3 110.9 2153.9 117.3 2157.5 106.3 2161.1 111.9 2164.7 109.2 2168.3 108.3 2171.9 104.7 2175.5 113.6 2179.1 113.5 2182.7 116.3 2186.3 116.2 2189.9 103.0 2193.5 112.7 2197.1 118.3 2200.8 107.8 2204.4 103.0 2208.0 114.6 2211.6 110.3 2215.2 115.9 2218.8 118.4 2222.4 110.3 2226.0 114.4 2229.6 114.1 2233.2 108.7 2236.8 106.8 2240.4 109.2 2244.0 102.5 2247.6 110.7 2251.2 109.1 2254.8 103.6 2258.4 97.5 2262.0 98.1 2265.7 102.6 2269.3 105.9 2272.9 112.1 2276.5 99.6 2280.1 106.2 2283.7 95.4 2287.3 105.1 2290.9 113.6 2294.5 100.0" stroke="#0000ff"/>
<path d="M1829.4 410.6 1833.0 228.6 1836.6 187.8 1840.2 179.8 1843.8 167.2 1847.4 162.2 1851.0 156.4 1854.6 156.7 1858.2 154.1 1861.8 150.6 1865.4 150.3 1869.0 147.6 1872.6 146.3 1876.2 141.7 1879.8 142.3 1883.5 144.6 1887.1 139.4 1890.7 138.5 1894.3 137.8 1897.9 134.1 1901.5 133.5 1905.1 137.3 1908.7 130.7 1912.3 133.0 1915.9 131.9 1919.5 130.9 1923.1 129.2 1926.7 126.8 1930.3 130.1 1933.9 127.4 1937.5 128.0 1941.1 126.5 1944.7 126.3 1948.4 123.7 1952.0 122.7 1955.6 125.5 1959.2 122.6 1962.8 125.5 1966.4 121.5 1970.0 119.8 1973.6 121.4 1977.2 116.0 1980.8 119.4 1984.4 121.5 1988.0 119.0 1991.6 120.8 1995.2 118.1 1998.8 119.0 2002.4 118.4 2006.0 123.3 2009.7 119.4 2013.3 116.1 2016.9 115.8 2020.5 115.7 2024.1 116.6 2027.7 115.0 2031.3 115.1 2034.9 115.8 2038.5 114.5 2042.1 114.9 2045.7 117.5 2049.3 115.4 2052.9 114.6 2056.5 116.7 2060.1 120.1 2063.7 116.7 2067.3 115.6 2070.9 120.9 2074.6 118.8 2078.2 118.2 2081.8 112.6 2085.4 114.2 2089.0 116.3 2092.6 113.8 2096.2 114.8 2099.8 118.4 2103.4 116.1 2107.0 113.4 2110.6 115.7 2114.2 110.3 2117.8 115.9 2121.4 115.7 2125.0 115.3 2128.6 114.7 2132.2 114.7 2135.8 112.1 2139.5 110.4 2143.1 114.9 2146.7 117.4 2150.3 115.1 2153.9 114.0 2157.5 110.9 2161.1 112.7 2164.7 113.8 2168.3 108.4 2171.9 116.0 2175.5 116.0 2179.1 110.8 2182.7 112.3 2186.3 113.4 2189.9 115.8 2193.5 112.6 2197.1 112.7 2200.8 114.5 2204.4 113.0 2208.0 116.1 2211.6 111.0 2215.2 115.5 2218.8 111.3 2222.4 115.1 2226.0 115.1 2229.6 113.6 2233.2 114.8 2236.8 111.8 2240.4 115.0 2244.0 112.9 2247.6 111.8 2251.2 111.4 2254.8 111.4 2258.4 113.6 2262.0 109.3 2265.7 113.4 2269.3 114.3 2272.9 112.6 2276.5 109.4 2280.1 116.4 2283.7 114.1 2287.3 110.3 2290.9 112.9 2294.5 115.8" stroke="#0000ff" stroke-dasharray="7 5"/>
</g>
<path d="M1828.9 446.3v-5.0M1828.9 49.5v5.0M1922.0 446.3v-5.0M1922.0 49.5v5.0M2015.1 446.3v-5.0M2015.1 49.5v5.0M2108.3 446.3v-5.0M2108.3 49.5v5.0M2201.4 446.3v-5.0M2201.4 49.5v5.0M2294.5 446.3v-5.0M2294.5 49.5v5.0M1828.9 446.3h5.0M2294.5 446.3h-5.0M1828.9 366.9h5.0M2294.5 366.9h-5.0M1828.9 287.6h5.0M2294.5 287.6h-5.0M1828.9 208.2h5.0M2294.5 208.2h-5.0M1828.9 128.9h5.0M2294.5 128.9h-5.0M1828.9 49.5h5.0M2294.5 49.5h-5.0" stroke="#262626" stroke-width="1.1" fill="none"/>
<rect x="1828.9" y="49.5" width="465.6" height="396.8" stroke="#262626" stroke-width="1.3" fill="none"/>
<text x="1828.9" y="476.6" font-size="24.2" font-weight="bold" text-anchor="middle" fill="#262626" textLength="11.4" lengthAdjust="spacingAndGlyphs">0</text>
<text x="1922.0" y="476.6" font-size="24.2" font-weight="bold" text-anchor="middle" fill="#262626" textLength="11.4" lengthAdjust="spacingAndGlyphs">2</text>
<text x="2015.1" y="476.6" font-size="24.2" font-weight="bold" text-anchor="middle" fill="#262626" textLength="11.4" lengthAdjust="spacingAndGlyphs">4</text>
<text x="2108.3" y="476.6" font-size="24.2" font-weight="bold" text-anchor="middle" fill="#262626" textLength="11.4" lengthAdjust="spacingAndGlyphs">6</text>
<text x="2201.4" y="476.6" font-size="24.2" font-weight="bold" text-anchor="middle" fill="#262626" textLength="11.4" lengthAdjust="spacingAndGlyphs">8</text>
<text x="2294.5" y="476.6" font-size="24.2" font-weight="bold" text-anchor="middle" fill="#262626" textLength="22.7" lengthAdjust="spacingAndGlyphs">10</text>
<text x="1823.4" y="456.1" font-size="24.2" font-weight="bold" text-anchor="end" fill="#262626" textLength="11.4" lengthAdjust="spacingAndGlyphs">0</text>
<text x="1823.4" y="376.7" font-size="24.2" font-weight="bold" text-anchor="end" fill="#262626" textLength="22.7" lengthAdjust="spacingAndGlyphs">20</text>
<text x="1823.4" y="297.4" font-size="24.2" font-weight="bold" text-anchor="end" fill="#262626" textLength="22.7" lengthAdjust="spacingAndGlyphs">40</text>
<text x="1823.4" y="218.0" font-size="24.2" font-weight="bold" text-anchor="end" fill="#262626" textLength="22.7" lengthAdjust="spacingAndGlyphs">60</text>
<text x="1823.4" y="138.7" font-size="24.2" font-weight="bold" text-anchor="end" fill="#262626" textLength="22.7" lengthAdjust="spacingAndGlyphs">80</text>
<text x="1823.4" y="59.3" font-size="24.2" font-weight="bold" text-anchor="end" fill="#262626" textLength="34.1" lengthAdjust="spacingAndGlyphs">100</text>
<text x="2061.7" y="40.0" font-size="24.3" font-weight="bold" text-anchor="middle" fill="#000" textLength="402.4" lengthAdjust="spacingAndGlyphs">Batch size: 1000, Display frequency: 10</text>
<text x="2061.7" y="508.3" font-size="27.4" font-weight="bold" text-anchor="middle" fill="#262626" textLength="63.1" lengthAdjust="spacingAndGlyphs">Epoch</text>
<text transform="translate(1783.4,247.9) rotate(-90)" x="0" y="0" font-size="23" font-weight="bold" text-anchor="middle" fill="#262626" textLength="112.5" lengthAdjust="spacingAndGlyphs">Accuracy</text>
<rect x="2081.4" y="195.4" width="192.6" height="107.0" fill="#fff" stroke="#000" stroke-width="1.1"/>
<path d="M2083.4 209.6h26" stroke="#ff0000" stroke-width="2.8"/>
<text x="2111.4" y="217.9" font-size="23.4" font-weight="bold" text-anchor="start" fill="#000" textLength="144.9" lengthAdjust="spacingAndGlyphs">sL-SR1-TR (train)</text>
<path d="M2083.4 235.8h26" stroke="#ff0000" stroke-width="2.8" stroke-dasharray="7 5"/>
<text x="2111.4" y="244.1" font-size="23.4" font-weight="bold" text-anchor="start" fill="#000" textLength="138.1" lengthAdjust="spacingAndGlyphs">sL-SR1-TR (test)</text>
<path d="M2083.4 262.0h26" stroke="#0000ff" stroke-width="2.8"/>
<text x="2111.4" y="270.3" font-size="23.4" font-weight="bold" text-anchor="start" fill="#000" textLength="159.6" lengthAdjust="spacingAndGlyphs">sL-BFGS-TR (train)</text>
<path d="M2083.4 288.2h26" stroke="#0000ff" stroke-width="2.8" stroke-dasharray="7 5"/>
<text x="2111.4" y="296.5" font-size="23.4" font-weight="bold" text-anchor="start" fill="#000" textLength="152.7" lengthAdjust="spacingAndGlyphs">sL-BFGS-TR (test)</text>
<path d="M248.2 674.6V1071.0M403.2 674.6V1071.0M93.3 991.7H558.1M93.3 912.4H558.1M93.3 833.2H558.1M93.3 753.9H558.1" stroke="#e3e3e3" stroke-width="1.2" fill="none"/>
<g clip-path="url(#cc1)" fill="none" stroke-width="2.8" stroke-linejoin="round">
<path d="M96.9 1038.6 98.8 890.5 101.0 796.0 107.3 780.3 115.2 778.7 123.1 729.9 131.0 733.0 138.8 718.8 146.7 725.1 162.5 709.4 170.3 709.4 178.2 717.3 186.1 706.2 194.0 712.5 209.7 699.9 217.6 693.6 225.5 731.4 233.3 704.7 241.2 704.7 248.5 712.5 263.3 698.4 272.1 705.3 279.0 697.7 287.5 713.5 296.3 713.5 304.2 705.3 308.9 705.3 317.4 722.0 325.6 690.5 333.2 720.4 341.4 729.2 348.9 701.5 357.1 710.3 365.0 726.1 380.4 693.6 387.7 693.6 403.4 726.1 411.3 712.5 419.2 686.4 427.1 726.1 434.9 709.4 442.8 701.5 449.1 701.5 457.9 725.1 464.9 693.6 472.7 697.7 480.6 697.7 488.5 693.6 496.4 714.1 504.2 690.5 512.1 726.7 520.0 690.5 527.9 690.5 535.7 717.3 543.6 697.7 545.8 673.2" stroke="#ff0000"/>
<path d="M96.9 1032.3 98.8 922.0 102.6 821.2 107.3 781.8 115.2 777.1 123.1 785.0 131.0 777.1 138.8 767.7 146.7 764.5 154.6 802.3 162.5 744.0 170.3 762.9 178.2 745.6 186.1 766.1 194.0 748.8 201.8 742.5 209.7 752.5 217.6 739.3 225.5 747.2 233.3 745.6 241.2 770.8 248.5 751.9 256.3 736.2 263.3 734.6 271.1 764.5 279.0 730.5 286.9 739.9 294.8 740.9 302.6 797.6 309.9 726.7 317.4 797.6 325.6 747.2 333.2 758.2 341.4 805.5 348.9 756.6 357.1 748.8 365.0 734.6 372.9 738.7 380.4 741.8 387.7 741.8 395.6 734.6 403.4 769.2 405.0 744.0 411.3 743.1 419.2 736.8 427.1 736.8 434.9 731.4 442.8 731.4 450.7 736.8 457.9 725.1 464.9 728.3 472.7 733.0 480.6 726.7 488.5 731.4 496.4 733.0 504.2 750.3 512.1 728.3 520.0 745.6 527.9 729.9 535.7 726.7 545.8 734.6" stroke="#ff0000" stroke-dasharray="7 5"/>
<path d="M93.2 1048.0 97.9 877.9 99.5 827.5 102.6 792.9 108.9 761.4 116.8 751.9 123.1 733.0 131.0 722.0 138.8 717.3 146.7 736.8 154.6 728.3 162.5 712.5 170.3 710.3 178.2 721.0 186.1 717.3 194.0 717.3 201.8 706.2 209.7 693.6 217.6 714.1 225.5 733.0 233.3 702.1 241.2 706.2 248.5 714.1 256.3 688.9 257.6 673.2" stroke="#0000ff"/>
<path d="M93.2 1048.0 97.9 877.9 101.0 814.9 105.1 846.4 108.9 859.0 112.1 827.5 116.8 792.9 123.1 766.1 131.0 766.1 138.8 767.7 146.7 751.3 154.6 758.2 162.5 753.5 170.3 747.2 178.2 750.3 186.1 757.6 194.0 747.2 201.8 744.0 209.7 745.6 217.6 749.7 225.5 748.8 233.3 745.6 241.2 774.9 248.5 736.2 256.3 736.2" stroke="#0000ff" stroke-dasharray="7 5"/>
</g>
<path d="M93.3 1071.0v-5.0M93.3 674.6v5.0M248.2 1071.0v-5.0M248.2 674.6v5.0M403.2 1071.0v-5.0M403.2 674.6v5.0M558.1 1071.0v-5.0M558.1 674.6v5.0M93.3 1071.0h5.0M558.1 1071.0h-5.0M93.3 991.7h5.0M558.1 991.7h-5.0M93.3 912.4h5.0M558.1 912.4h-5.0M93.3 833.2h5.0M558.1 833.2h-5.0M93.3 753.9h5.0M558.1 753.9h-5.0M93.3 674.6h5.0M558.1 674.6h-5.0" stroke="#262626" stroke-width="1.1" fill="none"/>
<rect x="93.3" y="674.6" width="464.8" height="396.4" stroke="#262626" stroke-width="1.3" fill="none"/>
<text x="93.3" y="1101.3" font-size="24.2" font-weight="bold" text-anchor="middle" fill="#262626" textLength="11.4" lengthAdjust="spacingAndGlyphs">0</text>
<text x="248.2" y="1101.3" font-size="24.2" font-weight="bold" text-anchor="middle" fill="#262626" textLength="28.4" lengthAdjust="spacingAndGlyphs">0.5</text>
<text x="403.2" y="1101.3" font-size="24.2" font-weight="bold" text-anchor="middle" fill="#262626" textLength="11.4" lengthAdjust="spacingAndGlyphs">1</text>
<text x="558.1" y="1101.3" font-size="24.2" font-weight="bold" text-anchor="middle" fill="#262626" textLength="28.4" lengthAdjust="spacingAndGlyphs">1.5</text>
<text x="87.8" y="1080.8" font-size="24.2" font-weight="bold" text-anchor="end" fill="#262626" textLength="11.4" lengthAdjust="spacingAndGlyphs">0</text>
<text x="87.8" y="1001.5" font-size="24.2" font-weight="bold" text-anchor="end" fill="#262626" textLength="22.7" lengthAdjust="spacingAndGlyphs">20</text>
<text x="87.8" y="922.2" font-size="24.2" font-weight="bold" text-anchor="end" fill="#262626" textLength="22.7" lengthAdjust="spacingAndGlyphs">40</text>
<text x="87.8" y="843.0" font-size="24.2" font-weight="bold" text-anchor="end" fill="#262626" textLength="22.7" lengthAdjust="spacingAndGlyphs">60</text>
<text x="87.8" y="763.7" font-size="24.2" font-weight="bold" text-anchor="end" fill="#262626" textLength="22.7" lengthAdjust="spacingAndGlyphs">80</text>
<text x="87.8" y="684.4" font-size="24.2" font-weight="bold" text-anchor="end" fill="#262626" textLength="34.1" lengthAdjust="spacingAndGlyphs">100</text>
<text x="325.7" y="665.1" font-size="24.3" font-weight="bold" text-anchor="middle" fill="#000" textLength="390.4" lengthAdjust="spacingAndGlyphs">Batch size: 100, Display frequency: 30</text>
<text x="325.7" y="1133.0" font-size="27.4" font-weight="bold" text-anchor="middle" fill="#262626" textLength="63.1" lengthAdjust="spacingAndGlyphs">Epoch</text>
<text transform="translate(47.8,872.8) rotate(-90)" x="0" y="0" font-size="23" font-weight="bold" text-anchor="middle" fill="#262626" textLength="112.5" lengthAdjust="spacingAndGlyphs">Accuracy</text>
<rect x="345.0" y="819.3" width="193.0" height="107.0" fill="#fff" stroke="#000" stroke-width="1.1"/>
<path d="M347.0 833.5h26" stroke="#ff0000" stroke-width="2.8"/>
<text x="375.0" y="841.8" font-size="23.4" font-weight="bold" text-anchor="start" fill="#000" textLength="145.3" lengthAdjust="spacingAndGlyphs">sL-SR1-TR (train)</text>
<path d="M347.0 859.7h26" stroke="#ff0000" stroke-width="2.8" stroke-dasharray="7 5"/>
<text x="375.0" y="868.0" font-size="23.4" font-weight="bold" text-anchor="start" fill="#000" textLength="138.4" lengthAdjust="spacingAndGlyphs">sL-SR1-TR (test)</text>
<path d="M347.0 885.9h26" stroke="#0000ff" stroke-width="2.8"/>
<text x="375.0" y="894.2" font-size="23.4" font-weight="bold" text-anchor="start" fill="#000" textLength="160.0" lengthAdjust="spacingAndGlyphs">sL-BFGS-TR (train)</text>
<path d="M347.0 912.1h26" stroke="#0000ff" stroke-width="2.8" stroke-dasharray="7 5"/>
<text x="375.0" y="920.4" font-size="23.4" font-weight="bold" text-anchor="start" fill="#000" textLength="153.1" lengthAdjust="spacingAndGlyphs">sL-BFGS-TR (test)</text>
<path d="M743.5 674.6V1071.0M836.4 674.6V1071.0M929.4 674.6V1071.0M1022.3 674.6V1071.0M650.5 991.7H1115.3M650.5 912.4H1115.3M650.5 833.2H1115.3M650.5 753.9H1115.3" stroke="#e3e3e3" stroke-width="1.2" fill="none"/>
<g clip-path="url(#cc2)" fill="none" stroke-width="2.8" stroke-linejoin="round">
<path d="M650.5 1031.4 654.1 904.2 657.7 825.7 661.3 776.3 664.9 756.7 668.5 748.1 672.1 744.8 675.7 745.5 679.3 734.6 682.9 737.7 686.5 737.7 690.1 730.7 693.7 728.4 697.3 723.8 700.9 717.9 704.5 721.0 708.1 713.3 711.8 720.4 715.4 716.3 719.0 717.9 722.6 724.1 726.2 715.8 729.8 713.6 733.4 710.4 737.0 718.1 740.6 708.4 744.2 706.7 747.8 714.2 751.4 708.8 755.0 704.6 758.6 716.0 762.2 706.5 765.8 716.1 769.4 706.4 773.0 700.6 776.6 707.2 780.2 703.0 783.8 711.2 787.4 706.6 791.0 705.4 794.6 699.8 798.2 703.6 801.8 699.0 805.4 702.0 809.0 703.9 812.6 700.2 816.2 699.3 819.8 700.9 823.4 696.3 827.1 702.1 830.7 697.7 834.3 695.6 837.9 700.0 841.5 697.4 845.1 697.2 848.7 702.5 852.3 690.4 855.9 697.5 859.5 693.7 863.1 707.9 866.7 691.1 870.3 697.6 873.9 699.4 877.5 695.9 881.1 691.4 884.7 701.7 888.3 690.7 891.9 699.6 895.5 689.7 899.1 692.4 902.7 688.7 906.3 690.0 909.9 696.1 913.5 694.0 917.1 689.9 920.7 693.2 924.3 691.5 927.9 695.3 931.5 688.1 935.1 680.6 938.7 686.3 942.4 688.6 946.0 694.4 949.6 690.7 953.2 685.0 956.8 689.8 960.4 686.9 964.0 690.9 967.6 690.8 971.2 688.4 974.8 690.9 978.4 691.2 982.0 687.8 985.6 689.8 989.2 696.7 992.8 685.7 996.4 682.4 1000.0 687.1 1003.6 689.8 1007.2 692.3 1010.8 690.9 1014.4 688.3 1018.0 683.9 1021.6 687.3 1025.2 687.9 1028.8 691.3 1032.4 686.6 1036.0 689.9 1039.6 679.6 1043.2 685.0 1046.8 686.6 1050.4 679.2 1054.0 679.0 1057.7 685.5 1061.3 690.6 1064.9 680.6 1068.5 686.9 1072.1 682.3 1075.7 688.9 1079.3 686.3 1082.9 685.7 1086.5 687.9 1090.1 688.5 1093.7 680.3 1097.3 685.5 1100.9 678.8 1104.5 681.1 1108.1 682.8 1111.7 681.0 1115.3 684.4" stroke="#ff0000"/>
<path d="M650.5 1031.4 654.1 939.4 657.7 853.4 661.3 802.2 664.9 768.2 668.5 768.7 672.1 764.7 675.7 762.7 679.3 756.3 682.9 752.5 686.5 761.2 690.1 745.9 693.7 742.3 697.3 747.8 700.9 747.1 704.5 744.1 708.1 741.2 711.8 739.0 715.4 737.0 719.0 745.0 722.6 740.9 726.2 741.8 729.8 734.3 733.4 733.7 737.0 737.3 740.6 728.9 744.2 734.3 747.8 741.8 751.4 727.7 755.0 739.6 758.6 730.8 762.2 734.9 765.8 731.0 769.4 740.9 773.0 724.0 776.6 726.6 780.2 725.6 783.8 741.8 787.4 724.1 791.0 721.5 794.6 728.8 798.2 740.3 801.8 725.9 805.4 728.8 809.0 727.1 812.6 722.3 816.2 717.6 819.8 720.3 823.4 716.8 827.1 729.4 830.7 726.9 834.3 713.6 837.9 723.8 841.5 720.9 845.1 723.4 848.7 719.2 852.3 719.8 855.9 728.7 859.5 729.7 863.1 726.0 866.7 724.7 870.3 726.1 873.9 733.2 877.5 717.6 881.1 715.9 884.7 725.0 888.3 721.5 891.9 715.3 895.5 720.8 899.1 718.5 902.7 723.8 906.3 729.1 909.9 718.4 913.5 728.5 917.1 722.8 920.7 725.6 924.3 729.6 927.9 720.7 931.5 720.5 935.1 716.5 938.7 717.6 942.4 719.7 946.0 713.2 949.6 710.2 953.2 723.8 956.8 717.0 960.4 714.8 964.0 716.8 967.6 711.6 971.2 725.9 974.8 708.8 978.4 710.5 982.0 724.9 985.6 719.1 989.2 711.6 992.8 722.8 996.4 722.4 1000.0 722.9 1003.6 716.6 1007.2 725.8 1010.8 723.6 1014.4 717.9 1018.0 714.9 1021.6 728.4 1025.2 720.5 1028.8 717.6 1032.4 714.6 1036.0 717.3 1039.6 716.6 1043.2 715.3 1046.8 717.1 1050.4 717.9 1054.0 722.1 1057.7 713.7 1061.3 711.6 1064.9 719.4 1068.5 711.0 1072.1 718.1 1075.7 712.4 1079.3 715.5 1082.9 721.5 1086.5 727.6 1090.1 719.2 1093.7 716.9 1097.3 718.9 1100.9 716.4 1104.5 722.3 1108.1 722.4 1111.7 710.1 1115.3 715.8" stroke="#ff0000" stroke-dasharray="7 5"/>
<path d="M650.5 1031.4 654.1 913.5 657.7 834.6 661.3 779.1 664.9 749.5 668.5 752.1 672.1 747.9 675.7 749.5 679.3 739.1 682.9 736.5 686.5 725.9 690.1 717.2 693.7 723.8 697.3 722.9 700.9 719.6 704.5 721.1 708.1 720.7 711.8 714.7 715.4 716.8 719.0 714.5 722.6 720.8 726.2 714.9 729.8 716.0 733.4 708.1 737.0 710.7 740.6 711.1 744.2 710.4 747.8 708.0 751.4 710.5 755.0 711.6 758.6 710.2 762.2 706.1 765.8 705.4 769.4 711.8 773.0 711.5 776.6 702.5 780.2 703.6 783.8 700.1 787.4 700.3 791.0 702.9 794.6 701.4 798.2 700.9 801.8 704.4 805.4 706.9 809.0 696.9 812.6 699.1 816.2 702.6 819.8 697.9 823.4 699.2 827.1 695.7 830.7 693.8 834.3 692.3 837.9 696.8 841.5 693.5 845.1 700.6 848.7 700.9 852.3 700.6 855.9 695.2 859.5 693.4 863.1 695.8 866.7 693.6 870.3 691.2 873.9 693.8 877.5 696.9 881.1 693.8 884.7 691.4 888.3 688.3 891.9 688.0 895.5 690.8 899.1 687.1 902.7 690.5 906.3 687.4 909.9 687.3 913.5 682.6 917.1 692.5 920.7 692.1 924.3 688.0 927.9 681.9 931.5 690.2 935.1 688.9 938.7 684.4 942.4 680.0 946.0 689.4 949.6 684.3 953.2 681.5 956.8 683.2 960.4 687.0 964.0 682.4 967.6 687.6 971.2 691.1 974.8 688.5 978.4 684.4 982.0 687.2 985.6 688.7 989.2 692.6 992.8 691.7 996.4 680.9 1000.0 687.9 1003.6 687.0 1007.2 686.3 1010.8 682.0 1014.4 692.1 1018.0 685.4 1021.6 683.5 1025.2 688.1 1028.8 685.1 1032.4 680.7 1036.0 688.9 1039.6 687.9 1043.2 682.0 1046.8 688.9 1050.4 682.9 1054.0 686.8 1057.7 687.3 1061.3 681.9 1064.9 676.7 1068.5 680.3 1072.1 681.9 1075.7 683.4 1079.3 682.8 1082.9 685.0 1086.5 684.2 1090.1 683.0 1093.7 680.8 1097.3 685.4 1100.9 678.6 1104.5 675.2 1108.1 679.5 1111.7 677.2 1115.3 681.8" stroke="#0000ff"/>
<path d="M650.5 1031.4 654.1 996.0 657.7 952.4 661.3 922.1 664.9 897.7 668.5 825.8 672.1 753.2 675.7 759.0 679.3 767.7 682.9 760.7 686.5 742.7 690.1 737.0 693.7 762.9 697.3 750.5 700.9 748.4 704.5 746.2 708.1 743.4 711.8 741.7 715.4 750.5 719.0 740.0 722.6 742.3 726.2 741.7 729.8 743.3 733.4 735.1 737.0 739.8 740.6 737.7 744.2 735.3 747.8 741.2 751.4 735.0 755.0 735.1 758.6 738.6 762.2 734.1 765.8 736.9 769.4 729.7 773.0 730.1 776.6 741.8 780.2 736.1 783.8 727.3 787.4 741.6 791.0 729.0 794.6 734.6 798.2 730.5 801.8 735.8 805.4 733.4 809.0 725.4 812.6 737.2 816.2 724.2 819.8 735.4 823.4 724.2 827.1 724.8 830.7 728.8 834.3 733.1 837.9 726.3 841.5 730.8 845.1 725.9 848.7 723.3 852.3 717.7 855.9 725.1 859.5 730.1 863.1 724.7 866.7 731.3 870.3 724.8 873.9 749.6 877.5 720.3 881.1 725.9 884.7 719.0 888.3 720.8 891.9 723.2 895.5 721.2 899.1 725.8 902.7 729.3 906.3 716.2 909.9 722.1 913.5 725.4 917.1 723.7 920.7 715.6 924.3 721.8 927.9 735.7 931.5 724.1 935.1 722.0 938.7 724.3 942.4 728.5 946.0 729.5 949.6 714.5 953.2 725.6 956.8 720.7 960.4 720.3 964.0 727.7 967.6 720.0 971.2 740.9 974.8 725.1 978.4 718.4 982.0 725.3 985.6 718.5 989.2 715.8 992.8 724.5 996.4 728.3 1000.0 712.0 1003.6 712.5 1007.2 714.6 1010.8 725.3 1014.4 728.4 1018.0 718.2 1021.6 721.0 1025.2 716.2 1028.8 710.7 1032.4 718.0 1036.0 728.1 1039.6 716.7 1043.2 718.6 1046.8 723.7 1050.4 724.9 1054.0 731.9 1057.7 720.6 1061.3 727.8 1064.9 717.9 1068.5 727.2 1072.1 731.9 1075.7 713.7 1079.3 722.7 1082.9 714.3 1086.5 721.9 1090.1 717.2 1093.7 720.9 1097.3 718.4 1100.9 717.9 1104.5 718.4 1108.1 724.6 1111.7 717.4 1115.3 724.0" stroke="#0000ff" stroke-dasharray="7 5"/>
</g>
<path d="M650.5 1071.0v-5.0M650.5 674.6v5.0M743.5 1071.0v-5.0M743.5 674.6v5.0M836.4 1071.0v-5.0M836.4 674.6v5.0M929.4 1071.0v-5.0M929.4 674.6v5.0M1022.3 1071.0v-5.0M1022.3 674.6v5.0M1115.3 1071.0v-5.0M1115.3 674.6v5.0M650.5 1071.0h5.0M1115.3 1071.0h-5.0M650.5 991.7h5.0M1115.3 991.7h-5.0M650.5 912.4h5.0M1115.3 912.4h-5.0M650.5 833.2h5.0M1115.3 833.2h-5.0M650.5 753.9h5.0M1115.3 753.9h-5.0M650.5 674.6h5.0M1115.3 674.6h-5.0" stroke="#262626" stroke-width="1.1" fill="none"/>
<rect x="650.5" y="674.6" width="464.8" height="396.4" stroke="#262626" stroke-width="1.3" fill="none"/>
<text x="650.5" y="1101.3" font-size="24.2" font-weight="bold" text-anchor="middle" fill="#262626" textLength="11.4" lengthAdjust="spacingAndGlyphs">0</text>
<text x="743.5" y="1101.3" font-size="24.2" font-weight="bold" text-anchor="middle" fill="#262626" textLength="11.4" lengthAdjust="spacingAndGlyphs">2</text>
<text x="836.4" y="1101.3" font-size="24.2" font-weight="bold" text-anchor="middle" fill="#262626" textLength="11.4" lengthAdjust="spacingAndGlyphs">4</text>
<text x="929.4" y="1101.3" font-size="24.2" font-weight="bold" text-anchor="middle" fill="#262626" textLength="11.4" lengthAdjust="spacingAndGlyphs">6</text>
<text x="1022.3" y="1101.3" font-size="24.2" font-weight="bold" text-anchor="middle" fill="#262626" textLength="11.4" lengthAdjust="spacingAndGlyphs">8</text>
<text x="1115.3" y="1101.3" font-size="24.2" font-weight="bold" text-anchor="middle" fill="#262626" textLength="22.7" lengthAdjust="spacingAndGlyphs">10</text>
<text x="645.0" y="1080.8" font-size="24.2" font-weight="bold" text-anchor="end" fill="#262626" textLength="11.4" lengthAdjust="spacingAndGlyphs">0</text>
<text x="645.0" y="1001.5" font-size="24.2" font-weight="bold" text-anchor="end" fill="#262626" textLength="22.7" lengthAdjust="spacingAndGlyphs">20</text>
<text x="645.0" y="922.2" font-size="24.2" font-weight="bold" text-anchor="end" fill="#262626" textLength="22.7" lengthAdjust="spacingAndGlyphs">40</text>
<text x="645.0" y="843.0" font-size="24.2" font-weight="bold" text-anchor="end" fill="#262626" textLength="22.7" lengthAdjust="spacingAndGlyphs">60</text>
<text x="645.0" y="763.7" font-size="24.2" font-weight="bold" text-anchor="end" fill="#262626" textLength="22.7" lengthAdjust="spacingAndGlyphs">80</text>
<text x="645.0" y="684.4" font-size="24.2" font-weight="bold" text-anchor="end" fill="#262626" textLength="34.1" lengthAdjust="spacingAndGlyphs">100</text>
<text x="882.9" y="665.1" font-size="24.3" font-weight="bold" text-anchor="middle" fill="#000" textLength="402.4" lengthAdjust="spacingAndGlyphs">Batch size: 1000, Display frequency: 10</text>
<text x="882.9" y="1133.0" font-size="27.4" font-weight="bold" text-anchor="middle" fill="#262626" textLength="63.1" lengthAdjust="spacingAndGlyphs">Epoch</text>
<text transform="translate(605.0,872.8) rotate(-90)" x="0" y="0" font-size="23" font-weight="bold" text-anchor="middle" fill="#262626" textLength="112.5" lengthAdjust="spacingAndGlyphs">Accuracy</text>
<rect x="902.2" y="819.3" width="193.0" height="107.0" fill="#fff" stroke="#000" stroke-width="1.1"/>
<path d="M904.2 833.5h26" stroke="#ff0000" stroke-width="2.8"/>
<text x="932.2" y="841.8" font-size="23.4" font-weight="bold" text-anchor="start" fill="#000" textLength="145.3" lengthAdjust="spacingAndGlyphs">sL-SR1-TR (train)</text>
<path d="M904.2 859.7h26" stroke="#ff0000" stroke-width="2.8" stroke-dasharray="7 5"/>
<text x="932.2" y="868.0" font-size="23.4" font-weight="bold" text-anchor="start" fill="#000" textLength="138.4" lengthAdjust="spacingAndGlyphs">sL-SR1-TR (test)</text>
<path d="M904.2 885.9h26" stroke="#0000ff" stroke-width="2.8"/>
<text x="932.2" y="894.2" font-size="23.4" font-weight="bold" text-anchor="start" fill="#000" textLength="160.0" lengthAdjust="spacingAndGlyphs">sL-BFGS-TR (train)</text>
<path d="M904.2 912.1h26" stroke="#0000ff" stroke-width="2.8" stroke-dasharray="7 5"/>
<text x="932.2" y="920.4" font-size="23.4" font-weight="bold" text-anchor="start" fill="#000" textLength="153.1" lengthAdjust="spacingAndGlyphs">sL-BFGS-TR (test)</text>
<path d="M1364.8 696.3V1075.0M1457.9 696.3V1075.0M1551.1 696.3V1075.0M1644.2 696.3V1075.0M1271.7 999.3H1737.3M1271.7 923.5H1737.3M1271.7 847.8H1737.3M1271.7 772.0H1737.3" stroke="#e3e3e3" stroke-width="1.2" fill="none"/>
<g clip-path="url(#cd1)" fill="none" stroke-width="2.8" stroke-linejoin="round">
<path d="M1271.7 1029.6 1272.9 975.7 1274.0 919.5 1275.2 889.7 1276.4 846.9 1277.6 813.8 1278.7 827.0 1279.9 804.7 1281.1 802.4 1282.2 784.1 1283.4 776.9 1284.6 766.2 1285.8 761.4 1286.9 779.1 1288.1 770.7 1289.3 770.0 1290.4 766.7 1291.6 757.3 1292.8 759.4 1294.0 765.5 1295.1 762.9 1296.3 724.9 1297.5 767.9 1298.7 725.8 1299.8 762.5 1301.0 760.9 1302.2 752.9 1303.3 752.6 1304.5 749.2 1305.7 754.8 1306.9 751.1 1308.0 742.8 1309.2 736.0 1310.4 741.3 1311.5 734.1 1312.7 743.1 1313.9 721.0 1315.1 773.9 1316.2 747.1 1317.4 739.7 1318.6 743.9 1319.7 738.3 1320.9 738.3 1322.1 726.7 1323.3 742.9 1324.4 742.5 1325.6 751.6 1326.8 739.5 1327.9 744.7 1329.1 736.6 1330.3 743.6 1331.5 736.5 1332.6 745.4 1333.8 753.3 1335.0 746.5 1336.1 746.7 1337.3 728.8 1338.5 741.2 1339.7 735.3 1340.8 728.2 1342.0 732.6 1343.2 740.9 1344.4 735.4 1345.5 762.2 1346.7 730.0 1347.9 746.4 1349.0 757.2 1350.2 729.9 1351.4 741.1 1352.6 754.8 1353.7 729.7 1354.9 722.7 1356.1 736.2 1357.2 743.2 1358.4 729.8 1359.6 715.4 1360.8 744.7 1361.9 739.2 1363.1 742.6 1364.3 733.5 1365.4 734.1 1366.6 729.0 1367.8 738.8 1369.0 730.4 1370.1 712.6 1371.3 749.6 1372.5 737.4 1373.6 736.0 1374.8 738.4 1376.0 736.8 1377.2 737.0 1378.3 729.1 1379.5 737.2 1380.7 732.8 1381.9 734.2 1383.0 725.1 1384.2 756.5 1385.4 727.3 1386.5 748.7 1387.7 741.1 1388.9 734.2 1390.1 745.0 1391.2 728.7 1392.4 730.4 1393.6 723.3 1394.7 722.2 1395.9 744.7 1397.1 710.8 1398.3 729.7 1399.4 726.0 1400.6 740.4 1401.8 742.4 1402.9 721.9 1404.1 727.8 1405.3 749.4 1406.5 724.0 1407.6 726.8 1408.8 751.8 1410.0 754.9 1411.1 736.0 1412.3 738.8 1413.5 728.4 1414.7 717.1 1415.8 714.2 1417.0 738.1 1418.2 741.2 1419.3 714.2 1420.5 730.9 1421.7 734.7 1422.9 713.3 1424.0 722.4 1425.2 731.1 1426.4 717.6 1427.6 731.6 1428.7 718.0 1429.9 719.1 1431.1 724.8 1432.2 739.1 1433.4 729.0 1434.6 708.6 1435.8 713.6 1436.9 716.4 1438.1 734.9 1439.3 713.9 1440.4 733.3 1441.6 724.7 1442.8 718.5 1444.0 704.7 1445.1 731.5 1446.3 720.5 1447.0 696.3" stroke="#ff0000"/>
<path d="M1271.7 1029.6 1273.1 968.1 1274.4 907.3 1275.8 865.9 1277.2 850.9 1278.6 833.5 1279.9 830.2 1281.3 816.1 1282.7 806.7 1284.0 795.8 1285.4 793.9 1286.8 793.2 1288.2 787.6 1289.5 785.5 1290.9 792.7 1292.3 784.8 1293.6 784.6 1295.0 775.3 1296.4 775.9 1297.8 772.9 1299.1 768.7 1300.5 769.3 1301.9 775.5 1303.2 771.9 1304.6 766.0 1306.0 769.4 1307.4 769.7 1308.7 763.0 1310.1 762.6 1311.5 765.9 1312.8 765.0 1314.2 759.3 1315.6 763.4 1317.0 764.3 1318.3 757.8 1319.7 754.8 1321.1 764.2 1322.4 761.6 1323.8 756.0 1325.2 758.2 1326.6 755.1 1327.9 755.4 1329.3 747.7 1330.7 763.0 1332.0 754.1 1333.4 758.7 1334.8 762.7 1336.2 758.1 1337.5 756.5 1338.9 750.8 1340.3 754.3 1341.6 756.5 1343.0 756.4 1344.4 752.1 1345.8 750.4 1347.1 756.3 1348.5 751.4 1349.9 751.4 1351.2 752.7 1352.6 752.8 1354.0 752.4 1355.4 753.2 1356.7 754.0 1358.1 751.1 1359.5 751.3 1360.8 751.6 1362.2 754.4 1363.6 746.5 1365.0 750.0 1366.3 737.5 1367.7 739.2 1369.1 749.5 1370.5 740.7 1371.8 752.5 1373.2 755.2 1374.6 751.6 1375.9 749.6 1377.3 747.5 1378.7 740.6 1380.1 751.9 1381.4 748.2 1382.8 744.2 1384.2 747.2 1385.5 741.7 1386.9 744.1 1388.3 741.4 1389.7 743.6 1391.0 746.3 1392.4 746.2 1393.8 751.2 1395.1 746.2 1396.5 746.0 1397.9 747.3 1399.3 747.9 1400.6 747.4 1402.0 741.3 1403.4 746.6 1404.7 745.1 1406.1 744.3 1407.5 751.7 1408.9 747.1 1410.2 746.8 1411.6 755.2 1413.0 744.5 1414.3 748.3 1415.7 745.5 1417.1 742.0 1418.5 746.5 1419.8 747.3 1421.2 745.4 1422.6 741.2 1423.9 749.3 1425.3 749.2 1426.7 745.6 1428.1 746.9 1429.4 741.1 1430.8 745.3 1432.2 744.5 1433.5 745.9 1434.9 750.5 1436.3 742.3 1437.7 743.8 1439.0 744.9 1440.4 747.5 1441.8 740.3 1443.1 739.4 1444.5 740.3 1445.9 744.2 1447.3 747.7 1448.6 746.2" stroke="#ff0000" stroke-dasharray="7 5"/>
<path d="M1271.7 1040.9 1272.8 971.6 1273.9 896.1 1275.0 889.4 1276.1 831.4 1277.3 830.3 1278.4 828.9 1279.5 827.9 1280.6 808.1 1281.7 814.8 1282.8 811.7 1283.9 839.3 1285.0 815.7 1286.1 790.7 1287.3 808.9 1288.4 826.8 1289.5 819.2 1290.6 792.2 1291.7 780.5 1292.8 818.0 1293.9 793.9 1295.0 826.7 1296.1 806.6 1297.3 788.5 1298.4 828.2 1299.5 799.0 1300.6 818.3 1301.7 806.9 1302.8 804.1 1303.9 809.5 1305.0 814.0 1306.1 794.9 1307.3 798.5 1308.4 807.1 1309.5 837.2 1310.6 821.9 1311.7 831.0 1312.8 826.5 1313.9 816.5 1315.0 793.4 1316.1 813.0 1317.3 792.1 1318.4 805.8 1319.5 797.3 1320.6 777.4 1321.7 804.1 1322.8 809.7 1323.9 818.2 1325.0 797.9 1326.1 790.7 1327.3 773.2 1328.4 806.4 1329.5 824.5 1330.6 793.5 1331.7 795.8 1332.8 801.1 1333.9 810.0 1335.0 788.1 1336.2 809.6 1337.3 783.4 1338.4 801.2 1339.5 791.5 1340.6 787.9 1341.7 810.2 1342.8 795.8 1343.9 805.8 1345.0 804.2 1346.2 781.3 1347.3 782.4 1348.4 793.8 1349.5 790.7 1350.6 783.4 1351.7 803.9 1352.8 771.4 1353.9 808.1 1355.0 796.9 1356.2 810.8 1357.3 805.2 1358.4 791.3 1359.5 769.8 1360.6 797.6 1361.7 796.5 1362.8 809.8 1363.9 798.8 1365.0 760.2 1366.2 773.8 1367.3 829.3 1368.4 827.3 1369.5 810.5 1370.6 791.9 1371.7 781.9 1372.8 775.5 1373.9 803.5 1375.0 792.9 1376.2 783.0 1377.3 810.9 1378.4 757.4 1379.5 771.8 1380.6 823.5 1381.7 776.5 1382.8 797.5 1383.9 790.6 1385.0 807.9 1386.2 797.7 1387.3 789.5 1388.4 810.2 1389.5 803.5 1390.6 781.3 1391.7 817.0 1392.8 789.7 1393.9 787.5 1395.0 806.7 1396.2 790.6 1397.3 790.2 1398.4 801.0 1399.5 798.5 1400.6 782.4 1401.7 804.6 1402.8 785.8 1403.9 793.2 1405.0 787.6 1406.2 797.9 1407.3 790.7 1408.4 775.7 1409.5 794.3 1410.6 774.9 1411.7 811.9 1412.8 791.4 1413.9 770.2 1415.0 786.4 1416.2 805.7 1417.3 775.6 1418.4 798.5 1419.5 763.1 1420.6 788.1 1421.7 783.0 1422.8 792.7 1423.9 810.2 1425.0 783.2 1426.2 775.9 1427.3 797.1 1428.4 783.0 1429.5 802.9 1430.6 793.4 1431.7 810.4 1432.8 799.8 1433.9 782.5 1435.0 776.2 1436.2 797.3 1437.3 804.4 1438.4 789.0 1439.5 798.3 1440.6 785.2 1441.7 781.4 1442.8 790.0 1443.9 774.8 1445.0 786.3 1446.2 799.1 1447.3 783.6 1448.4 792.3 1449.5 788.6 1450.6 769.0 1451.7 782.5 1452.8 767.1 1453.9 767.6 1455.1 786.8 1456.2 777.6 1457.3 764.1 1458.4 811.4 1459.5 787.9 1460.6 761.6 1461.7 771.2 1462.8 793.3 1463.9 790.3 1465.1 787.4 1466.2 777.8 1467.3 771.3 1468.4 788.3 1469.5 801.7 1470.6 772.0 1471.7 783.2 1472.8 802.8 1473.9 800.3 1475.1 770.1 1476.2 794.9 1477.3 784.3 1478.4 777.6 1479.5 789.1 1480.6 773.1 1481.7 766.7 1482.8 788.7 1483.9 780.9 1485.1 782.8 1486.2 818.3 1487.3 799.2 1488.4 789.3 1489.5 782.5 1490.6 773.4 1491.7 793.5 1492.8 760.1 1493.9 771.2 1495.1 791.6 1496.2 787.7 1497.3 768.7 1498.4 791.7 1499.5 783.3 1500.6 808.2 1501.7 781.9 1502.8 768.1 1503.9 760.3 1505.1 781.7 1506.2 769.6 1507.3 798.2 1508.4 769.3 1509.5 792.4 1510.6 771.7 1511.7 791.5 1512.8 791.7 1513.9 759.8 1515.1 815.0 1516.2 759.3 1517.3 789.4 1518.4 769.5 1519.5 765.1 1520.6 783.2 1521.7 760.2 1522.8 749.9 1523.9 756.3 1525.1 778.2 1526.2 766.0 1527.3 765.9 1528.4 788.1 1529.5 770.4 1530.6 775.8 1531.7 778.7 1532.8 778.6 1533.9 778.8 1535.1 784.3 1536.2 761.2 1537.3 768.2 1538.4 775.8 1539.5 774.8 1540.6 785.2 1541.7 779.6 1542.8 810.5 1543.9 759.8 1545.1 758.0 1546.2 801.7 1547.3 797.4 1548.4 774.3 1549.5 798.0 1550.6 763.7 1551.7 770.2 1552.8 776.7 1553.9 758.9 1555.1 774.8 1556.2 793.3 1557.3 786.6 1558.4 772.6 1559.5 766.7 1560.6 798.1 1561.7 759.9 1562.8 796.4 1564.0 760.4 1565.1 801.9 1566.2 768.8 1567.3 758.3 1568.4 760.0 1569.5 775.3 1570.6 759.1 1571.7 752.9 1572.8 765.1 1574.0 795.4 1575.1 770.3 1576.2 779.6 1577.3 771.0 1578.4 774.5 1579.5 775.7 1580.6 767.6 1581.7 758.6 1582.8 770.3 1584.0 790.3 1585.1 794.5 1586.2 798.1 1587.3 767.7 1588.4 780.8 1589.5 778.0 1590.6 767.1 1591.7 762.6 1592.8 788.7 1594.0 779.3 1595.1 776.0 1596.2 782.8 1597.3 765.0 1598.4 758.8 1599.5 773.6 1600.6 761.5 1601.7 775.6 1602.8 775.4 1604.0 783.5 1605.1 772.5 1606.2 758.8 1607.3 751.4 1608.4 777.7 1609.5 771.7 1610.6 756.7 1611.7 783.9 1612.8 781.7 1614.0 774.1 1615.1 773.9 1616.2 777.6 1617.3 762.3 1618.4 780.7 1619.5 798.8 1620.6 757.0 1621.7 764.6 1622.8 738.1 1624.0 771.0 1625.1 753.2 1626.2 764.9 1627.3 780.7 1628.4 781.5 1629.5 778.1 1630.6 787.0 1631.7 782.5 1632.8 763.2 1634.0 743.6 1635.1 747.3 1636.2 772.6 1637.3 759.9 1638.4 771.0 1639.5 775.8 1640.6 784.9 1641.7 787.4 1642.8 761.8 1644.0 742.8 1645.1 755.0 1646.2 778.3 1647.3 786.8 1648.4 747.9 1649.5 783.5 1650.6 798.1 1651.7 796.1 1652.8 747.4 1654.0 788.2 1655.1 751.9 1656.2 768.1 1657.3 755.7 1658.4 747.1 1659.5 736.8 1660.6 765.2 1661.7 800.2 1662.8 768.5 1664.0 767.0 1665.1 782.7 1666.2 771.7 1667.3 775.9 1668.4 744.3 1669.5 744.9 1670.6 766.6 1671.7 765.7 1672.8 759.2 1674.0 745.2 1675.1 775.5 1676.2 763.1 1677.3 735.4 1678.4 762.8 1679.5 747.6 1680.6 798.4 1681.7 770.3 1682.9 752.5 1684.0 779.8 1685.1 774.9 1686.2 764.3 1687.3 767.9 1688.4 778.3 1689.5 764.2 1690.6 768.6 1691.7 781.7 1692.9 729.5 1694.0 773.4 1695.1 786.5 1696.2 765.6 1697.3 775.8 1698.4 759.5 1699.5 759.1 1700.6 748.7 1701.7 779.0 1702.9 759.7 1704.0 775.5 1705.1 764.0 1706.2 762.3 1707.3 753.3 1708.4 772.6 1709.5 762.5 1710.6 758.4 1711.7 775.4 1712.9 735.1 1714.0 748.3 1715.1 766.3 1716.2 753.9 1717.3 737.2 1718.4 754.6 1719.5 745.2 1720.6 725.6 1721.7 762.5 1722.9 785.3 1724.0 750.7 1725.1 758.4 1726.2 747.3 1727.3 754.2 1728.4 754.6 1729.5 764.4 1730.6 749.6 1731.7 755.5 1732.9 751.1 1734.0 748.0 1735.1 723.6 1736.2 758.3 1737.3 747.4" stroke="#0000ff"/>
<path d="M1271.7 1040.9 1273.3 948.7 1274.8 897.1 1276.4 849.0 1277.9 835.7 1279.5 843.6 1281.0 842.6 1282.6 843.6 1284.2 828.9 1285.7 828.2 1287.3 821.3 1288.8 830.1 1290.4 817.0 1291.9 814.3 1293.5 828.7 1295.1 817.8 1296.6 813.5 1298.2 815.5 1299.7 816.7 1301.3 817.7 1302.8 815.9 1304.4 815.4 1306.0 818.6 1307.5 816.7 1309.1 811.2 1310.6 804.9 1312.2 812.1 1313.7 816.9 1315.3 809.5 1316.9 802.7 1318.4 814.3 1320.0 811.1 1321.5 811.0 1323.1 804.7 1324.6 812.0 1326.2 808.4 1327.8 802.9 1329.3 808.1 1330.9 807.5 1332.4 806.0 1334.0 808.8 1335.5 799.9 1337.1 806.3 1338.7 807.7 1340.2 804.9 1341.8 810.0 1343.3 799.4 1344.9 813.6 1346.4 807.4 1348.0 798.3 1349.6 808.1 1351.1 806.1 1352.7 797.3 1354.2 805.7 1355.8 801.2 1357.3 804.4 1358.9 803.8 1360.5 792.0 1362.0 804.3 1363.6 798.0 1365.1 803.7 1366.7 792.9 1368.2 802.5 1369.8 799.1 1371.4 792.8 1372.9 793.9 1374.5 798.0 1376.0 799.5 1377.6 803.4 1379.1 794.5 1380.7 793.2 1382.3 810.8 1383.8 806.5 1385.4 797.8 1386.9 801.2 1388.5 793.1 1390.0 790.3 1391.6 796.1 1393.2 804.9 1394.7 799.1 1396.3 792.2 1397.8 804.6 1399.4 788.8 1400.9 797.4 1402.5 792.8 1404.1 793.2 1405.6 797.5 1407.2 797.2 1408.7 799.0 1410.3 791.9 1411.8 791.3 1413.4 790.6 1415.0 799.1 1416.5 804.2 1418.1 797.3 1419.6 799.1 1421.2 786.5 1422.7 780.5 1424.3 791.9 1425.9 799.9 1427.4 798.4 1429.0 791.0 1430.5 788.1 1432.1 789.3 1433.6 776.6 1435.2 788.5 1436.8 795.2 1438.3 784.9 1439.9 790.0 1441.4 795.4 1443.0 775.9 1444.5 791.2 1446.1 790.6 1447.7 788.7 1449.2 787.4 1450.8 794.1 1452.3 780.3 1453.9 786.7 1455.4 798.3 1457.0 795.6 1458.6 791.2 1460.1 789.9 1461.7 784.7 1463.2 784.8 1464.8 787.4 1466.3 795.8 1467.9 790.1 1469.5 781.1 1471.0 786.1 1472.6 785.7 1474.1 785.4 1475.7 783.0 1477.2 784.7 1478.8 787.4 1480.4 783.9 1481.9 780.3 1483.5 781.7 1485.0 787.1 1486.6 788.0 1488.1 777.1 1489.7 795.3 1491.3 782.5 1492.8 788.3 1494.4 784.6 1495.9 778.7 1497.5 788.1 1499.0 792.8 1500.6 781.2 1502.2 785.2 1503.7 780.5 1505.3 782.3 1506.8 779.5 1508.4 780.5 1510.0 791.6 1511.5 782.2 1513.1 781.6 1514.6 782.3 1516.2 781.8 1517.7 786.0 1519.3 784.6 1520.9 784.0 1522.4 784.2 1524.0 786.4 1525.5 788.5 1527.1 784.8 1528.6 768.6 1530.2 784.3 1531.8 765.5 1533.3 770.4 1534.9 782.1 1536.4 788.7 1538.0 776.4 1539.5 776.4 1541.1 782.4 1542.7 779.8 1544.2 784.7 1545.8 780.1 1547.3 769.6 1548.9 781.6 1550.4 787.7 1552.0 775.0 1553.6 777.2 1555.1 773.6 1556.7 777.8 1558.2 783.6 1559.8 780.6 1561.3 784.0 1562.9 777.4 1564.5 773.7 1566.0 777.6 1567.6 778.7 1569.1 784.1 1570.7 774.7 1572.2 777.7 1573.8 777.5 1575.4 776.6 1576.9 780.3 1578.5 775.0 1580.0 784.8 1581.6 774.2 1583.1 770.9 1584.7 778.0 1586.3 770.3 1587.8 768.2 1589.4 768.9 1590.9 780.3 1592.5 775.6 1594.0 770.2 1595.6 775.8 1597.2 768.7 1598.7 769.4 1600.3 779.9 1601.8 783.1 1603.4 776.0 1604.9 772.6 1606.5 770.6 1608.1 773.3 1609.6 774.2 1611.2 769.8 1612.7 772.6 1614.3 776.0 1615.8 765.7 1617.4 771.9 1619.0 768.8 1620.5 778.2 1622.1 774.6 1623.6 775.5 1625.2 769.3 1626.7 780.6 1628.3 780.5 1629.9 786.6 1631.4 769.1 1633.0 767.4 1634.5 766.9 1636.1 779.0 1637.6 777.3 1639.2 770.4 1640.8 771.2 1642.3 769.1 1643.9 772.0 1645.4 782.8 1647.0 777.7 1648.5 780.3 1650.1 771.3 1651.7 770.6 1653.2 771.6 1654.8 777.2 1656.3 765.7 1657.9 766.3 1659.4 766.1 1661.0 764.4 1662.6 772.7 1664.1 769.3 1665.7 776.3 1667.2 761.7 1668.8 775.1 1670.3 766.8 1671.9 774.3 1673.5 774.3 1675.0 774.1 1676.6 768.5 1678.1 759.7 1679.7 773.3 1681.2 769.2 1682.8 762.3 1684.4 766.4 1685.9 771.3 1687.5 769.4 1689.0 775.1 1690.6 771.1 1692.1 774.4 1693.7 769.5 1695.3 775.7 1696.8 769.0 1698.4 772.3 1699.9 768.0 1701.5 763.8 1703.0 768.0 1704.6 771.3 1706.2 769.1 1707.7 765.2 1709.3 768.7 1710.8 767.0 1712.4 766.8 1713.9 776.2 1715.5 768.0 1717.1 762.4 1718.6 766.6 1720.2 771.3 1721.7 771.9 1723.3 782.3 1724.8 767.7 1726.4 761.3 1728.0 769.8 1729.5 773.2 1731.1 766.4 1732.6 775.1 1734.2 781.6 1735.7 775.3 1737.3 766.8" stroke="#0000ff" stroke-dasharray="7 5"/>
</g>
<path d="M1271.7 1075.0v-5.0M1271.7 696.3v5.0M1364.8 1075.0v-5.0M1364.8 696.3v5.0M1457.9 1075.0v-5.0M1457.9 696.3v5.0M1551.1 1075.0v-5.0M1551.1 696.3v5.0M1644.2 1075.0v-5.0M1644.2 696.3v5.0M1737.3 1075.0v-5.0M1737.3 696.3v5.0M1271.7 1075.0h5.0M1737.3 1075.0h-5.0M1271.7 999.3h5.0M1737.3 999.3h-5.0M1271.7 923.5h5.0M1737.3 923.5h-5.0M1271.7 847.8h5.0M1737.3 847.8h-5.0M1271.7 772.0h5.0M1737.3 772.0h-5.0M1271.7 696.3h5.0M1737.3 696.3h-5.0" stroke="#262626" stroke-width="1.1" fill="none"/>
<rect x="1271.7" y="696.3" width="465.6" height="378.7" stroke="#262626" stroke-width="1.3" fill="none"/>
<text x="1271.7" y="1104.2" font-size="22.4" font-weight="bold" text-anchor="middle" fill="#262626" textLength="10.5" lengthAdjust="spacingAndGlyphs">0</text>
<text x="1364.8" y="1104.2" font-size="22.4" font-weight="bold" text-anchor="middle" fill="#262626" textLength="10.5" lengthAdjust="spacingAndGlyphs">2</text>
<text x="1457.9" y="1104.2" font-size="22.4" font-weight="bold" text-anchor="middle" fill="#262626" textLength="10.5" lengthAdjust="spacingAndGlyphs">4</text>
<text x="1551.1" y="1104.2" font-size="22.4" font-weight="bold" text-anchor="middle" fill="#262626" textLength="10.5" lengthAdjust="spacingAndGlyphs">6</text>
<text x="1644.2" y="1104.2" font-size="22.4" font-weight="bold" text-anchor="middle" fill="#262626" textLength="10.5" lengthAdjust="spacingAndGlyphs">8</text>
<text x="1737.3" y="1104.2" font-size="22.4" font-weight="bold" text-anchor="middle" fill="#262626" textLength="21.1" lengthAdjust="spacingAndGlyphs">10</text>
<text x="1266.7" y="1083.2" font-size="22.4" font-weight="bold" text-anchor="end" fill="#262626" textLength="10.5" lengthAdjust="spacingAndGlyphs">0</text>
<text x="1266.7" y="1007.5" font-size="22.4" font-weight="bold" text-anchor="end" fill="#262626" textLength="21.1" lengthAdjust="spacingAndGlyphs">20</text>
<text x="1266.7" y="931.7" font-size="22.4" font-weight="bold" text-anchor="end" fill="#262626" textLength="21.1" lengthAdjust="spacingAndGlyphs">40</text>
<text x="1266.7" y="856.0" font-size="22.4" font-weight="bold" text-anchor="end" fill="#262626" textLength="21.1" lengthAdjust="spacingAndGlyphs">60</text>
<text x="1266.7" y="780.2" font-size="22.4" font-weight="bold" text-anchor="end" fill="#262626" textLength="21.1" lengthAdjust="spacingAndGlyphs">80</text>
<text x="1266.7" y="704.5" font-size="22.4" font-weight="bold" text-anchor="end" fill="#262626" textLength="31.6" lengthAdjust="spacingAndGlyphs">100</text>
<text x="1504.5" y="687.5" font-size="23.2" font-weight="bold" text-anchor="middle" fill="#000" textLength="372.3" lengthAdjust="spacingAndGlyphs">Batch size: 100, Display frequency: 30</text>
<text x="1504.5" y="1135.6" font-size="25.6" font-weight="bold" text-anchor="middle" fill="#262626" textLength="60.3" lengthAdjust="spacingAndGlyphs">Epoch</text>
<text transform="translate(1228.0,885.6) rotate(-90)" x="0" y="0" font-size="22.7" font-weight="bold" text-anchor="middle" fill="#262626" textLength="106.5" lengthAdjust="spacingAndGlyphs">Accuracy</text>
<rect x="1528.2" y="834.2" width="183.8" height="102.1" fill="#fff" stroke="#000" stroke-width="1.1"/>
<path d="M1530.2 848.4h26" stroke="#ff0000" stroke-width="2.8"/>
<text x="1558.2" y="855.6" font-size="20.2" font-weight="normal" text-anchor="start" fill="#000" textLength="137.3" lengthAdjust="spacingAndGlyphs">sL-SR1-TR (train)</text>
<path d="M1530.2 873.0h26" stroke="#ff0000" stroke-width="2.8" stroke-dasharray="7 5"/>
<text x="1558.2" y="880.2" font-size="20.2" font-weight="normal" text-anchor="start" fill="#000" textLength="131.5" lengthAdjust="spacingAndGlyphs">sL-SR1-TR (test)</text>
<path d="M1530.2 897.5h26" stroke="#0000ff" stroke-width="2.8"/>
<text x="1558.2" y="904.7" font-size="20.2" font-weight="normal" text-anchor="start" fill="#000" textLength="150.8" lengthAdjust="spacingAndGlyphs">sL-BFGS-TR (train)</text>
<path d="M1530.2 922.1h26" stroke="#0000ff" stroke-width="2.8" stroke-dasharray="7 5"/>
<text x="1558.2" y="929.3" font-size="20.2" font-weight="normal" text-anchor="start" fill="#000" textLength="145.0" lengthAdjust="spacingAndGlyphs">sL-BFGS-TR (test)</text>
<path d="M1922.0 696.3V1075.0M2015.1 696.3V1075.0M2108.3 696.3V1075.0M2201.4 696.3V1075.0M1828.9 999.3H2294.5M1828.9 923.5H2294.5M1828.9 847.8H2294.5M1828.9 772.0H2294.5" stroke="#e3e3e3" stroke-width="1.2" fill="none"/>
<g clip-path="url(#cd2)" fill="none" stroke-width="2.8" stroke-linejoin="round">
<path d="M1828.9 1040.9 1832.5 1031.4 1836.1 969.9 1839.7 908.4 1843.3 829.3 1846.9 838.0 1850.6 810.4 1854.2 800.2 1857.8 796.0 1861.4 793.7 1865.0 783.9 1868.6 787.7 1872.2 792.5 1875.8 775.9 1879.4 780.5 1883.0 783.4 1886.6 773.7 1890.3 769.5 1893.9 763.9 1897.5 767.6 1901.1 766.8 1904.7 764.5 1908.3 762.4 1911.9 769.8 1915.5 751.5 1919.1 769.9 1922.7 766.4 1926.4 767.0 1930.0 760.5 1933.6 758.9 1937.2 761.9 1940.8 767.0 1944.4 760.2 1948.0 758.2 1951.6 761.6 1955.2 753.5 1958.8 753.3 1962.4 754.6 1966.1 757.1 1969.7 749.6 1973.3 761.3 1976.9 753.7 1980.5 751.0 1984.1 756.7 1987.7 748.9 1991.3 749.7 1994.9 750.3 1998.5 744.6 2002.1 755.5 2005.8 749.8 2009.4 742.7 2013.0 744.6 2016.6 754.5 2020.2 754.3 2023.8 752.0 2027.4 758.8 2031.0 745.3 2034.6 747.8 2038.2 756.5 2041.8 746.8 2045.5 754.4 2049.1 748.1 2052.7 749.2 2056.3 743.9 2059.9 736.9 2063.5 758.0 2067.1 752.9 2070.7 746.7 2074.3 741.4 2077.9 740.9 2081.6 744.0 2085.2 738.3 2088.8 746.3 2092.4 739.1 2096.0 741.6 2099.6 747.8 2103.2 748.6 2106.8 744.8 2110.4 754.2 2114.0 742.4 2117.6 756.9 2121.3 742.5 2124.9 747.8 2128.5 739.6 2132.1 746.5 2135.7 747.5 2139.3 744.4 2142.9 746.1 2146.5 736.5 2150.1 741.5 2153.7 738.1 2157.3 740.1 2161.0 748.1 2164.6 746.0 2168.2 734.5 2171.8 745.3 2175.4 745.5 2179.0 742.4 2182.6 744.9 2186.2 739.8 2189.8 735.1 2193.4 736.2 2197.0 743.1 2200.7 743.2 2204.3 740.0 2207.9 745.8 2211.5 742.8 2215.1 729.1 2218.7 734.3 2222.3 737.6 2225.9 741.3 2229.5 730.4 2233.1 737.5 2236.8 721.9 2240.4 732.1 2244.0 732.8 2247.6 744.7 2251.2 734.7 2254.8 736.7 2258.4 733.8 2262.0 737.6 2265.6 746.8 2269.2 748.0 2272.8 743.3 2276.5 743.0 2280.1 735.1 2283.7 741.7 2287.3 739.2 2290.9 738.7 2294.5 741.5" stroke="#ff0000"/>
<path d="M1828.9 1040.9 1832.5 1036.6 1836.1 982.9 1839.7 909.3 1843.3 840.0 1846.9 820.9 1850.6 812.8 1854.2 810.9 1857.8 808.1 1861.4 802.3 1865.0 797.3 1868.6 796.7 1872.2 795.1 1875.8 788.6 1879.4 789.6 1883.0 788.8 1886.6 784.6 1890.3 786.1 1893.9 781.9 1897.5 781.2 1901.1 778.8 1904.7 776.8 1908.3 777.2 1911.9 773.4 1915.5 773.7 1919.1 770.0 1922.7 768.1 1926.4 772.0 1930.0 770.4 1933.6 766.1 1937.2 765.5 1940.8 762.1 1944.4 764.1 1948.0 767.6 1951.6 762.1 1955.2 760.1 1958.8 764.0 1962.4 762.8 1966.1 764.9 1969.7 761.4 1973.3 761.2 1976.9 762.6 1980.5 758.8 1984.1 759.8 1987.7 757.0 1991.3 758.9 1994.9 764.0 1998.5 758.6 2002.1 757.0 2005.8 758.7 2009.4 757.0 2013.0 759.8 2016.6 755.9 2020.2 756.8 2023.8 762.3 2027.4 754.2 2031.0 753.8 2034.6 754.6 2038.2 755.8 2041.8 752.7 2045.5 752.9 2049.1 754.2 2052.7 753.0 2056.3 755.1 2059.9 752.3 2063.5 753.9 2067.1 747.5 2070.7 748.8 2074.3 749.3 2077.9 752.2 2081.6 751.4 2085.2 749.3 2088.8 753.3 2092.4 749.0 2096.0 753.4 2099.6 755.0 2103.2 748.3 2106.8 748.3 2110.4 750.9 2114.0 747.9 2117.6 749.4 2121.3 754.3 2124.9 753.2 2128.5 750.9 2132.1 747.6 2135.7 746.2 2139.3 753.2 2142.9 752.0 2146.5 746.2 2150.1 750.3 2153.7 750.2 2157.3 746.7 2161.0 748.2 2164.6 747.3 2168.2 746.7 2171.8 751.3 2175.4 747.1 2179.0 745.9 2182.6 751.7 2186.2 745.8 2189.8 746.9 2193.4 749.6 2197.0 746.3 2200.7 746.7 2204.3 749.4 2207.9 748.3 2211.5 743.8 2215.1 746.6 2218.7 748.9 2222.3 748.8 2225.9 745.3 2229.5 747.0 2233.1 748.1 2236.8 747.8 2240.4 746.9 2244.0 747.0 2247.6 744.4 2251.2 746.8 2254.8 748.2 2258.4 750.6 2262.0 748.3 2265.6 745.5 2269.2 743.3 2272.8 747.1 2276.5 748.9 2280.1 747.7 2283.7 746.0 2287.3 746.2 2290.9 750.1 2294.5 745.1" stroke="#ff0000" stroke-dasharray="7 5"/>
<path d="M1828.9 1040.9 1832.5 1017.6 1836.1 960.7 1839.7 891.9 1843.3 863.1 1846.9 853.8 1850.6 846.8 1854.2 836.5 1857.8 825.9 1861.4 819.1 1865.0 817.3 1868.6 814.7 1872.2 812.7 1875.8 801.9 1879.4 809.8 1883.0 805.4 1886.6 795.4 1890.3 810.4 1893.9 803.1 1897.5 800.3 1901.1 791.3 1904.7 804.4 1908.3 805.6 1911.9 794.4 1915.5 786.8 1919.1 803.3 1922.7 794.2 1926.4 790.8 1930.0 792.5 1933.6 797.1 1937.2 793.2 1940.8 790.9 1944.4 791.8 1948.0 795.2 1951.6 787.9 1955.2 784.8 1958.8 782.8 1962.4 785.5 1966.1 777.9 1969.7 782.5 1973.3 786.9 1976.9 786.4 1980.5 796.3 1984.1 785.8 1987.7 795.2 1991.3 786.6 1994.9 786.4 1998.5 776.9 2002.1 784.9 2005.8 781.2 2009.4 784.2 2013.0 790.1 2016.6 777.9 2020.2 782.0 2023.8 780.3 2027.4 781.6 2031.0 787.2 2034.6 779.0 2038.2 776.1 2041.8 774.7 2045.5 780.4 2049.1 788.3 2052.7 783.8 2056.3 777.3 2059.9 781.9 2063.5 776.4 2067.1 789.5 2070.7 780.6 2074.3 771.5 2077.9 774.4 2081.6 775.8 2085.2 784.2 2088.8 782.5 2092.4 780.9 2096.0 779.8 2099.6 778.5 2103.2 773.7 2106.8 774.7 2110.4 777.2 2114.0 772.4 2117.6 778.7 2121.3 784.6 2124.9 782.4 2128.5 785.6 2132.1 784.4 2135.7 784.1 2139.3 781.4 2142.9 781.9 2146.5 776.3 2150.1 779.7 2153.7 777.2 2157.3 776.9 2161.0 774.0 2164.6 792.0 2168.2 777.0 2171.8 779.8 2175.4 785.7 2179.0 774.1 2182.6 775.7 2186.2 776.4 2189.8 783.2 2193.4 781.2 2197.0 781.3 2200.7 774.3 2204.3 772.6 2207.9 771.7 2211.5 782.4 2215.1 778.8 2218.7 783.9 2222.3 779.1 2225.9 780.3 2229.5 780.4 2233.1 780.2 2236.8 777.5 2240.4 783.5 2244.0 782.0 2247.6 776.8 2251.2 785.3 2254.8 785.4 2258.4 779.3 2262.0 780.9 2265.6 772.9 2269.2 782.3 2272.8 774.6 2276.5 778.3 2280.1 777.9 2283.7 776.0 2287.3 771.7 2290.9 774.4 2294.5 774.4" stroke="#0000ff"/>
<path d="M1828.9 1040.9 1832.5 1024.7 1836.1 955.1 1839.7 889.3 1843.3 859.3 1846.9 848.0 1850.6 842.2 1854.2 837.5 1857.8 832.7 1861.4 824.6 1865.0 819.8 1868.6 818.1 1872.2 814.1 1875.8 808.1 1879.4 806.8 1883.0 807.4 1886.6 804.3 1890.3 803.1 1893.9 807.4 1897.5 801.3 1901.1 803.0 1904.7 800.8 1908.3 797.7 1911.9 800.3 1915.5 795.3 1919.1 799.0 1922.7 796.3 1926.4 800.7 1930.0 799.8 1933.6 798.1 1937.2 797.0 1940.8 797.6 1944.4 793.5 1948.0 795.1 1951.6 794.3 1955.2 794.7 1958.8 794.7 1962.4 795.3 1966.1 795.0 1969.7 791.4 1973.3 794.6 1976.9 793.7 1980.5 793.4 1984.1 790.9 1987.7 792.1 1991.3 791.8 1994.9 790.3 1998.5 790.7 2002.1 789.7 2005.8 790.5 2009.4 786.2 2013.0 784.2 2016.6 789.7 2020.2 789.9 2023.8 789.2 2027.4 789.8 2031.0 788.7 2034.6 789.6 2038.2 788.7 2041.8 787.5 2045.5 788.7 2049.1 788.1 2052.7 789.1 2056.3 787.7 2059.9 787.5 2063.5 788.2 2067.1 787.0 2070.7 787.5 2074.3 786.1 2077.9 787.0 2081.6 787.2 2085.2 786.2 2088.8 785.4 2092.4 787.0 2096.0 784.3 2099.6 783.8 2103.2 784.7 2106.8 787.3 2110.4 786.9 2114.0 786.8 2117.6 784.0 2121.3 785.7 2124.9 781.7 2128.5 782.9 2132.1 785.8 2135.7 786.9 2139.3 784.0 2142.9 785.3 2146.5 785.5 2150.1 785.9 2153.7 782.2 2157.3 784.6 2161.0 787.1 2164.6 785.5 2168.2 784.3 2171.8 785.8 2175.4 783.9 2179.0 785.0 2182.6 785.3 2186.2 784.3 2189.8 786.1 2193.4 784.9 2197.0 781.0 2200.7 784.6 2204.3 784.7 2207.9 786.1 2211.5 783.3 2215.1 784.6 2218.7 783.7 2222.3 783.4 2225.9 781.8 2229.5 781.1 2233.1 782.4 2236.8 782.1 2240.4 782.5 2244.0 779.9 2247.6 781.6 2251.2 782.5 2254.8 781.4 2258.4 782.0 2262.0 782.6 2265.6 782.5 2269.2 781.3 2272.8 779.0 2276.5 781.9 2280.1 782.1 2283.7 781.4 2287.3 782.3 2290.9 783.2 2294.5 780.0" stroke="#0000ff" stroke-dasharray="7 5"/>
</g>
<path d="M1828.9 1075.0v-5.0M1828.9 696.3v5.0M1922.0 1075.0v-5.0M1922.0 696.3v5.0M2015.1 1075.0v-5.0M2015.1 696.3v5.0M2108.3 1075.0v-5.0M2108.3 696.3v5.0M2201.4 1075.0v-5.0M2201.4 696.3v5.0M2294.5 1075.0v-5.0M2294.5 696.3v5.0M1828.9 1075.0h5.0M2294.5 1075.0h-5.0M1828.9 999.3h5.0M2294.5 999.3h-5.0M1828.9 923.5h5.0M2294.5 923.5h-5.0M1828.9 847.8h5.0M2294.5 847.8h-5.0M1828.9 772.0h5.0M2294.5 772.0h-5.0M1828.9 696.3h5.0M2294.5 696.3h-5.0" stroke="#262626" stroke-width="1.1" fill="none"/>
<rect x="1828.9" y="696.3" width="465.6" height="378.7" stroke="#262626" stroke-width="1.3" fill="none"/>
<text x="1828.9" y="1104.2" font-size="22.4" font-weight="bold" text-anchor="middle" fill="#262626" textLength="10.5" lengthAdjust="spacingAndGlyphs">0</text>
<text x="1922.0" y="1104.2" font-size="22.4" font-weight="bold" text-anchor="middle" fill="#262626" textLength="10.5" lengthAdjust="spacingAndGlyphs">2</text>
<text x="2015.1" y="1104.2" font-size="22.4" font-weight="bold" text-anchor="middle" fill="#262626" textLength="10.5" lengthAdjust="spacingAndGlyphs">4</text>
<text x="2108.3" y="1104.2" font-size="22.4" font-weight="bold" text-anchor="middle" fill="#262626" textLength="10.5" lengthAdjust="spacingAndGlyphs">6</text>
<text x="2201.4" y="1104.2" font-size="22.4" font-weight="bold" text-anchor="middle" fill="#262626" textLength="10.5" lengthAdjust="spacingAndGlyphs">8</text>
<text x="2294.5" y="1104.2" font-size="22.4" font-weight="bold" text-anchor="middle" fill="#262626" textLength="21.1" lengthAdjust="spacingAndGlyphs">10</text>
<text x="1823.9" y="1083.2" font-size="22.4" font-weight="bold" text-anchor="end" fill="#262626" textLength="10.5" lengthAdjust="spacingAndGlyphs">0</text>
<text x="1823.9" y="1007.5" font-size="22.4" font-weight="bold" text-anchor="end" fill="#262626" textLength="21.1" lengthAdjust="spacingAndGlyphs">20</text>
<text x="1823.9" y="931.7" font-size="22.4" font-weight="bold" text-anchor="end" fill="#262626" textLength="21.1" lengthAdjust="spacingAndGlyphs">40</text>
<text x="1823.9" y="856.0" font-size="22.4" font-weight="bold" text-anchor="end" fill="#262626" textLength="21.1" lengthAdjust="spacingAndGlyphs">60</text>
<text x="1823.9" y="780.2" font-size="22.4" font-weight="bold" text-anchor="end" fill="#262626" textLength="21.1" lengthAdjust="spacingAndGlyphs">80</text>
<text x="1823.9" y="704.5" font-size="22.4" font-weight="bold" text-anchor="end" fill="#262626" textLength="31.6" lengthAdjust="spacingAndGlyphs">100</text>
<text x="2061.7" y="687.5" font-size="23.2" font-weight="bold" text-anchor="middle" fill="#000" textLength="383.7" lengthAdjust="spacingAndGlyphs">Batch size: 1000, Display frequency: 10</text>
<text x="2061.7" y="1135.6" font-size="25.6" font-weight="bold" text-anchor="middle" fill="#262626" textLength="60.3" lengthAdjust="spacingAndGlyphs">Epoch</text>
<text transform="translate(1785.2,885.6) rotate(-90)" x="0" y="0" font-size="22.7" font-weight="bold" text-anchor="middle" fill="#262626" textLength="106.5" lengthAdjust="spacingAndGlyphs">Accuracy</text>
<rect x="2085.9" y="834.2" width="183.3" height="102.1" fill="#fff" stroke="#000" stroke-width="1.1"/>
<path d="M2087.9 848.4h26" stroke="#ff0000" stroke-width="2.8"/>
<text x="2115.9" y="855.6" font-size="20.2" font-weight="normal" text-anchor="start" fill="#000" textLength="136.8" lengthAdjust="spacingAndGlyphs">sL-SR1-TR (train)</text>
<path d="M2087.9 873.0h26" stroke="#ff0000" stroke-width="2.8" stroke-dasharray="7 5"/>
<text x="2115.9" y="880.2" font-size="20.2" font-weight="normal" text-anchor="start" fill="#000" textLength="131.0" lengthAdjust="spacingAndGlyphs">sL-SR1-TR (test)</text>
<path d="M2087.9 897.5h26" stroke="#0000ff" stroke-width="2.8"/>
<text x="2115.9" y="904.7" font-size="20.2" font-weight="normal" text-anchor="start" fill="#000" textLength="150.3" lengthAdjust="spacingAndGlyphs">sL-BFGS-TR (train)</text>
<path d="M2087.9 922.1h26" stroke="#0000ff" stroke-width="2.8" stroke-dasharray="7 5"/>
<text x="2115.9" y="929.3" font-size="20.2" font-weight="normal" text-anchor="start" fill="#000" textLength="144.5" lengthAdjust="spacingAndGlyphs">sL-BFGS-TR (test)</text>
<path d="M209.5 1317.4V1696.2M325.7 1317.4V1696.2M441.9 1317.4V1696.2M93.3 1620.4H558.1M93.3 1544.7H558.1M93.3 1468.9H558.1M93.3 1393.2H558.1" stroke="#e3e3e3" stroke-width="1.2" fill="none"/>
<g clip-path="url(#ce1)" fill="none" stroke-width="2.8" stroke-linejoin="round">
<path d="M93.2 1587.2 96.3 1562.0 101.0 1536.8 105.8 1530.5 110.5 1514.8 113.6 1499.0 117.7 1514.8 121.5 1499.0 125.3 1477.0 129.4 1454.9 134.1 1461.2 137.3 1429.7 141.0 1426.6 145.1 1442.3 148.3 1461.2 152.4 1436.0 154.6 1417.1 157.7 1486.4 159.9 1429.7 163.1 1420.3 165.6 1492.7 169.4 1448.6 172.5 1436.0 176.6 1454.9 179.8 1442.3 183.9 1417.1 187.7 1404.5 191.4 1388.8 195.5 1376.2 198.7 1429.7 200.9 1391.9 205.0 1379.3 208.1 1398.2 212.9 1385.6 217.6 1365.1 222.3 1379.3 227.0 1373.0 231.8 1369.9 236.5 1382.5 240.6 1369.9 244.4 1373.0 249.1 1363.6 253.8 1373.0 258.5 1404.5 262.6 1379.3 266.4 1369.9 271.1 1360.4 275.9 1388.8 279.0 1395.1 283.7 1366.7 288.5 1373.0 293.2 1365.1 297.9 1377.7 302.6 1352.5 307.4 1365.1 312.1 1360.4 316.8 1351.0 321.5 1369.9 326.3 1380.9 331.0 1368.3 335.7 1355.7 340.4 1360.4 345.2 1347.8 349.9 1341.5 354.6 1357.3 359.3 1354.1 363.4 1393.5 367.2 1351.0 371.9 1357.3 376.7 1365.1 381.4 1347.8 387.7 1339.9 392.4 1374.6 397.1 1351.0 401.9 1354.1 406.6 1366.7 411.3 1347.8 417.6 1351.0 422.3 1369.9 427.1 1357.3 431.8 1344.7 436.5 1363.6 441.2 1335.2 446.0 1357.3 450.7 1346.2 455.4 1351.0 460.1 1344.7 464.9 1360.4 469.6 1333.6 474.3 1369.9 479.0 1347.8 483.8 1374.6 488.5 1347.8 493.2 1360.4 497.9 1343.1 501.1 1332.1 505.8 1357.3 510.5 1354.1 515.3 1341.5 520.0 1333.6 524.7 1324.2 529.4 1358.8 534.2 1354.1 538.9 1347.8 543.6 1344.7 546.8 1341.5 547.4 1316.3" stroke="#ff0000"/>
<path d="M93.2 1593.5 97.9 1577.8 102.6 1558.9 107.3 1571.5 112.1 1580.9 116.8 1596.7 121.5 1558.9 125.3 1530.5 129.4 1524.2 134.1 1511.6 138.8 1505.3 142.0 1486.4 145.1 1473.8 148.3 1499.0 153.0 1483.3 156.8 1527.4 160.9 1492.7 165.6 1473.8 169.4 1511.6 172.5 1555.7 176.6 1505.3 181.4 1486.4 186.1 1473.8 190.8 1480.1 195.5 1458.1 200.3 1461.2 205.0 1454.9 208.1 1478.5 211.3 1467.5 215.4 1499.0 219.2 1445.5 223.9 1451.8 228.6 1448.6 233.3 1445.5 238.1 1436.0 242.8 1454.9 247.5 1442.3 252.2 1442.3 253.8 1488.0 257.0 1432.9 261.7 1428.1 266.4 1432.9 271.1 1428.1 275.9 1423.4 280.6 1426.6 285.3 1425.0 290.0 1420.3 294.8 1429.7 299.5 1432.9 304.2 1421.8 308.9 1423.4 313.7 1429.7 318.4 1414.0 323.1 1417.1 327.8 1414.0 332.6 1414.0 337.3 1420.3 342.0 1423.4 346.7 1415.5 351.5 1417.1 356.2 1412.4 360.9 1414.0 365.6 1410.8 370.4 1417.1 375.1 1410.8 379.8 1421.8 384.5 1410.8 389.3 1404.5 394.0 1410.8 398.7 1406.1 403.4 1414.0 408.2 1401.4 412.9 1404.5 417.6 1401.4 422.3 1401.4 427.1 1407.7 431.8 1420.3 433.4 1439.2 436.5 1410.8 441.2 1402.9 446.0 1401.4 450.7 1402.9 455.4 1401.4 460.1 1402.9 464.9 1399.8 469.6 1404.5 474.3 1409.2 479.0 1404.5 483.8 1399.8 488.5 1396.6 493.2 1401.4 497.9 1398.2 502.7 1399.8 507.4 1404.5 512.1 1398.2 516.8 1402.9 521.6 1401.4 526.3 1399.8 531.0 1404.5 535.7 1401.4 540.5 1396.6 546.8 1402.9" stroke="#ff0000" stroke-dasharray="7 5"/>
<path d="M93.2 1659.7 93.8 1593.5 95.7 1530.5 99.5 1486.4 104.2 1465.9 108.9 1480.1 112.1 1492.7 115.8 1428.1 119.9 1486.4 125.3 1417.1 129.4 1448.6 134.1 1437.6 138.8 1451.8 143.6 1439.2 148.3 1436.0 151.4 1467.5 152.4 1401.4 154.6 1393.5 157.7 1407.7 162.5 1404.5 167.2 1385.6 171.3 1395.1 175.1 1385.6 179.8 1410.8 183.9 1358.8 187.7 1401.4 191.4 1391.9 195.5 1377.7 200.3 1395.1 204.0 1373.0 208.1 1368.3 211.3 1385.6 214.4 1369.9 219.2 1376.2 223.9 1373.0 228.6 1365.1 233.3 1379.3 238.1 1360.4 242.8 1369.9 247.5 1362.0 252.2 1368.3 257.0 1365.1 261.7 1360.4 266.4 1357.3 271.1 1365.1 275.9 1358.8 280.6 1366.7 282.8 1336.8 285.3 1371.4 290.0 1354.1 294.8 1365.1 299.5 1355.7 304.2 1351.0 308.9 1368.3 313.7 1349.4 318.4 1354.1 323.1 1357.3 327.8 1365.1 332.6 1351.0 338.9 1349.4 345.2 1354.1 349.9 1332.1 354.6 1355.7 359.3 1347.8 364.1 1343.1 368.8 1351.0 373.5 1360.4 378.2 1354.1 383.0 1341.5 387.7 1328.9 392.4 1336.8 397.1 1335.2 401.9 1346.2 406.6 1338.4 411.3 1341.5 416.0 1336.8 420.8 1346.2 425.5 1338.4 426.4 1316.3" stroke="#0000ff"/>
<path d="M93.2 1625.0 93.8 1562.0 96.3 1574.6 99.5 1549.4 104.2 1527.4 107.3 1543.1 110.5 1517.9 113.6 1517.9 117.7 1543.1 121.5 1587.2 125.3 1571.5 128.4 1543.1 132.5 1549.4 135.7 1514.8 139.8 1568.3 140.4 1536.8 143.6 1505.3 148.3 1517.9 152.4 1495.9 156.2 1489.6 159.9 1480.1 164.0 1477.0 168.1 1470.7 171.9 1461.2 176.6 1451.8 181.4 1453.3 186.1 1448.6 190.8 1445.5 195.5 1442.3 200.3 1436.0 205.0 1442.3 209.7 1436.0 214.4 1429.7 219.2 1432.9 223.9 1423.4 228.6 1436.0 233.3 1420.3 238.1 1429.7 242.8 1423.4 247.5 1442.3 252.2 1429.7 253.8 1464.4 258.5 1420.3 263.3 1410.8 268.0 1417.1 272.7 1414.0 277.4 1420.3 282.2 1417.1 286.9 1414.0 291.6 1420.3 296.3 1417.1 301.1 1423.4 302.6 1439.2 307.4 1414.0 312.1 1410.8 316.8 1414.0 321.5 1407.7 326.3 1401.4 331.0 1407.7 335.7 1404.5 340.4 1407.7 345.2 1406.1 349.9 1404.5 354.6 1407.7 359.3 1404.5 364.1 1401.4 368.8 1406.1 373.5 1404.5 378.2 1401.4 383.0 1399.8 387.7 1395.1 392.4 1404.5 397.1 1399.8 401.9 1401.4 405.0 1414.0 408.2 1398.2 412.9 1395.1 417.6 1404.5 422.3 1401.4 425.5 1401.4" stroke="#0000ff" stroke-dasharray="7 5"/>
</g>
<path d="M93.3 1696.2v-5.0M93.3 1317.4v5.0M209.5 1696.2v-5.0M209.5 1317.4v5.0M325.7 1696.2v-5.0M325.7 1317.4v5.0M441.9 1696.2v-5.0M441.9 1317.4v5.0M558.1 1696.2v-5.0M558.1 1317.4v5.0M93.3 1696.2h5.0M558.1 1696.2h-5.0M93.3 1620.4h5.0M558.1 1620.4h-5.0M93.3 1544.7h5.0M558.1 1544.7h-5.0M93.3 1468.9h5.0M558.1 1468.9h-5.0M93.3 1393.2h5.0M558.1 1393.2h-5.0M93.3 1317.4h5.0M558.1 1317.4h-5.0" stroke="#262626" stroke-width="1.1" fill="none"/>
<rect x="93.3" y="1317.4" width="464.8" height="378.8" stroke="#262626" stroke-width="1.3" fill="none"/>
<text x="93.3" y="1725.4" font-size="22.4" font-weight="bold" text-anchor="middle" fill="#262626" textLength="10.5" lengthAdjust="spacingAndGlyphs">0</text>
<text x="209.5" y="1725.4" font-size="22.4" font-weight="bold" text-anchor="middle" fill="#262626" textLength="10.5" lengthAdjust="spacingAndGlyphs">2</text>
<text x="325.7" y="1725.4" font-size="22.4" font-weight="bold" text-anchor="middle" fill="#262626" textLength="10.5" lengthAdjust="spacingAndGlyphs">4</text>
<text x="441.9" y="1725.4" font-size="22.4" font-weight="bold" text-anchor="middle" fill="#262626" textLength="10.5" lengthAdjust="spacingAndGlyphs">6</text>
<text x="558.1" y="1725.4" font-size="22.4" font-weight="bold" text-anchor="middle" fill="#262626" textLength="10.5" lengthAdjust="spacingAndGlyphs">8</text>
<text x="88.3" y="1704.4" font-size="22.4" font-weight="bold" text-anchor="end" fill="#262626" textLength="10.5" lengthAdjust="spacingAndGlyphs">0</text>
<text x="88.3" y="1628.6" font-size="22.4" font-weight="bold" text-anchor="end" fill="#262626" textLength="21.1" lengthAdjust="spacingAndGlyphs">20</text>
<text x="88.3" y="1552.9" font-size="22.4" font-weight="bold" text-anchor="end" fill="#262626" textLength="21.1" lengthAdjust="spacingAndGlyphs">40</text>
<text x="88.3" y="1477.1" font-size="22.4" font-weight="bold" text-anchor="end" fill="#262626" textLength="21.1" lengthAdjust="spacingAndGlyphs">60</text>
<text x="88.3" y="1401.4" font-size="22.4" font-weight="bold" text-anchor="end" fill="#262626" textLength="21.1" lengthAdjust="spacingAndGlyphs">80</text>
<text x="88.3" y="1325.6" font-size="22.4" font-weight="bold" text-anchor="end" fill="#262626" textLength="31.6" lengthAdjust="spacingAndGlyphs">100</text>
<text x="325.7" y="1308.6" font-size="23.2" font-weight="bold" text-anchor="middle" fill="#000" textLength="372.3" lengthAdjust="spacingAndGlyphs">Batch size: 100, Display frequency: 50</text>
<text x="325.7" y="1756.8" font-size="25.6" font-weight="bold" text-anchor="middle" fill="#262626" textLength="60.3" lengthAdjust="spacingAndGlyphs">Epoch</text>
<text transform="translate(49.6,1506.8) rotate(-90)" x="0" y="0" font-size="22.7" font-weight="bold" text-anchor="middle" fill="#262626" textLength="106.5" lengthAdjust="spacingAndGlyphs">Accuracy</text>
<rect x="350.2" y="1455.4" width="183.4" height="102.1" fill="#fff" stroke="#000" stroke-width="1.1"/>
<path d="M352.2 1469.6h26" stroke="#ff0000" stroke-width="2.8"/>
<text x="380.2" y="1476.8" font-size="20.2" font-weight="normal" text-anchor="start" fill="#000" textLength="136.9" lengthAdjust="spacingAndGlyphs">sL-SR1-TR (train)</text>
<path d="M352.2 1494.2h26" stroke="#ff0000" stroke-width="2.8" stroke-dasharray="7 5"/>
<text x="380.2" y="1501.4" font-size="20.2" font-weight="normal" text-anchor="start" fill="#000" textLength="131.1" lengthAdjust="spacingAndGlyphs">sL-SR1-TR (test)</text>
<path d="M352.2 1518.7h26" stroke="#0000ff" stroke-width="2.8"/>
<text x="380.2" y="1525.9" font-size="20.2" font-weight="normal" text-anchor="start" fill="#000" textLength="150.4" lengthAdjust="spacingAndGlyphs">sL-BFGS-TR (train)</text>
<path d="M352.2 1543.3h26" stroke="#0000ff" stroke-width="2.8" stroke-dasharray="7 5"/>
<text x="380.2" y="1550.5" font-size="20.2" font-weight="normal" text-anchor="start" fill="#000" textLength="144.6" lengthAdjust="spacingAndGlyphs">sL-BFGS-TR (test)</text>
<path d="M743.5 1317.4V1696.2M836.4 1317.4V1696.2M929.4 1317.4V1696.2M1022.3 1317.4V1696.2M650.5 1620.4H1115.3M650.5 1544.7H1115.3M650.5 1468.9H1115.3M650.5 1393.2H1115.3" stroke="#e3e3e3" stroke-width="1.2" fill="none"/>
<g clip-path="url(#ce2)" fill="none" stroke-width="2.8" stroke-linejoin="round">
<path d="M650.7 1650.6 653.0 1586.9 656.1 1558.3 660.9 1542.4 665.7 1539.2 670.5 1529.6 675.2 1516.9 678.4 1513.7 683.2 1516.9 688.0 1507.3 692.8 1504.2 697.5 1507.3 702.3 1497.8 707.1 1494.6 711.9 1481.9 716.6 1483.5 721.4 1478.7 726.2 1477.1 731.0 1478.7 735.7 1469.1 740.5 1466.0 746.9 1464.4 751.7 1469.1 754.8 1461.2 759.6 1448.4 764.4 1448.4 769.2 1453.2 773.9 1450.0 778.7 1453.2 785.1 1459.6 789.9 1450.0 794.6 1448.4 801.0 1456.4 805.8 1443.7 810.6 1435.7 815.3 1440.5 820.1 1445.3 824.9 1442.1 829.7 1432.5 834.4 1435.7 839.2 1438.9 842.4 1419.8 847.2 1430.9 851.9 1429.3 856.7 1421.4 861.5 1413.4 866.3 1419.8 871.0 1416.6 877.4 1413.4 882.2 1415.0 887.0 1415.0 891.7 1411.8 896.5 1411.8 902.9 1408.7 907.7 1405.5 914.0 1405.5 918.8 1405.5 923.6 1408.7 928.3 1410.2 933.1 1402.3 937.9 1400.7 942.7 1400.7 947.5 1397.5 952.2 1400.7 957.0 1408.7 961.8 1399.1 966.6 1394.3 971.3 1397.5 976.1 1391.1 980.9 1392.7 985.7 1389.6 990.4 1386.4 995.2 1389.6 998.4 1381.6 1003.2 1384.8 1007.9 1388.0 1012.7 1389.6 1017.5 1386.4 1022.3 1388.0 1027.0 1384.8 1031.8 1381.6 1036.6 1378.4 1043.0 1376.8 1049.3 1375.2 1055.7 1376.8 1062.1 1373.6 1068.4 1378.4 1074.8 1370.4 1081.2 1367.3 1087.5 1370.4 1093.9 1362.5 1100.3 1372.0 1105.0 1370.4 1109.8 1360.9 1115.6 1360.9" stroke="#ff0000" stroke-width="2"/>
<path d="M650.7 1650.6 653.0 1586.9 656.1 1567.8 660.9 1551.9 665.7 1555.1 670.5 1567.8 675.2 1551.9 680.0 1539.2 684.8 1536.0 689.6 1539.2 692.8 1545.6 695.9 1513.7 700.7 1510.5 707.1 1520.1 711.9 1507.3 716.6 1491.4 723.0 1486.7 727.8 1489.8 734.1 1478.7 740.5 1481.9 746.9 1475.5 751.7 1475.5 756.4 1485.1 761.2 1491.4 767.6 1529.6 772.3 1475.5 777.1 1489.8 781.9 1526.5 786.7 1491.4 790.8 1563.1 794.6 1478.7 801.0 1485.1 805.8 1481.9 809.9 1510.5 815.3 1478.7 820.1 1475.5 826.5 1475.5 831.2 1472.3 836.0 1491.4 840.8 1462.8 847.2 1493.0 851.9 1459.6 856.7 1456.4 861.5 1466.0 866.3 1472.3 871.0 1458.0 875.8 1451.6 880.6 1466.0 885.4 1446.9 890.1 1456.4 894.9 1472.3 899.7 1453.2 904.5 1446.9 909.2 1438.9 914.0 1462.8 918.8 1448.4 923.6 1443.7 928.3 1437.3 933.1 1442.1 936.3 1429.3 941.1 1442.1 945.9 1437.3 950.6 1437.3 955.4 1466.0 960.2 1430.9 965.0 1446.9 969.7 1435.7 974.5 1437.3 979.3 1445.3 984.1 1451.6 988.8 1442.1 993.6 1434.1 996.8 1413.4 1001.6 1437.3 1007.9 1454.8 1012.7 1424.6 1017.5 1424.6 1022.3 1430.9 1027.0 1415.0 1031.8 1427.8 1036.6 1415.0 1041.4 1419.8 1046.1 1427.8 1050.9 1416.6 1055.7 1424.6 1060.5 1430.9 1065.2 1418.2 1071.6 1416.6 1076.4 1421.4 1081.2 1411.8 1085.9 1418.2 1090.7 1432.5 1095.5 1416.6 1100.3 1410.2 1105.0 1410.2 1109.8 1413.4 1115.6 1405.5" stroke="#ff0000" stroke-dasharray="7 5"/>
<path d="M650.7 1650.6 653.0 1583.8 656.1 1551.9 660.9 1539.2 665.7 1529.6 670.5 1520.1 675.2 1513.7 678.4 1501.0 683.2 1502.6 688.0 1513.7 692.1 1489.8 695.9 1510.5 700.7 1504.2 705.5 1494.6 710.3 1478.7 715.0 1485.1 719.8 1483.5 724.6 1475.5 729.4 1477.1 735.7 1472.3 740.5 1462.8 745.3 1459.6 750.1 1466.0 754.8 1461.2 758.0 1448.4 764.4 1446.9 769.2 1446.9 773.9 1450.0 778.7 1445.3 783.5 1438.9 788.3 1448.4 791.5 1432.5 796.2 1438.9 801.0 1435.7 805.8 1432.5 810.6 1434.1 815.3 1429.3 820.1 1445.3 824.9 1442.1 829.7 1429.3 834.4 1435.7 839.2 1438.9 844.0 1427.8 848.8 1421.4 853.5 1424.6 858.3 1419.8 863.1 1427.8 867.9 1423.0 872.6 1419.8 877.4 1416.6 882.2 1426.2 887.0 1413.4 891.7 1416.6 896.5 1413.4 901.3 1415.0 906.1 1418.2 910.8 1413.4 915.6 1418.2 920.4 1413.4 925.2 1410.2 928.3 1419.8 933.1 1403.9 937.9 1400.7 942.7 1399.1 947.5 1400.7 952.2 1395.9 957.0 1407.1 961.8 1402.3 966.6 1402.3 971.3 1399.1 974.5 1415.0 977.7 1403.9 982.5 1399.1 987.2 1394.3 992.0 1392.7 996.8 1389.6 1001.6 1397.5 1006.3 1392.7 1011.1 1394.3 1015.9 1399.1 1020.7 1392.7 1027.0 1389.6 1031.8 1381.6 1036.6 1388.0 1041.4 1389.6 1046.1 1391.1 1050.9 1397.5 1055.7 1391.1 1060.5 1388.0 1065.2 1389.6 1070.0 1384.8 1074.8 1383.2 1079.6 1378.4 1084.4 1381.6 1089.1 1376.8 1093.9 1381.6 1100.3 1383.2 1105.0 1381.6 1109.8 1380.0 1115.6 1378.4" stroke="#0000ff"/>
<path d="M650.7 1650.6 654.6 1602.9 659.3 1564.7 664.1 1551.9 668.9 1545.6 673.7 1539.2 680.0 1532.8 684.8 1520.1 689.6 1529.6 692.8 1536.0 695.9 1507.3 702.3 1510.5 707.1 1520.1 711.9 1494.6 718.2 1489.8 724.6 1488.2 729.4 1493.0 734.1 1485.1 738.9 1481.9 742.1 1510.5 746.9 1488.2 751.7 1481.9 756.4 1478.7 762.8 1475.5 769.2 1472.3 773.9 1485.1 778.7 1470.7 785.1 1469.1 789.9 1475.5 794.6 1464.4 799.4 1475.5 804.2 1472.3 809.0 1466.0 813.7 1469.1 818.5 1466.0 823.3 1496.2 828.1 1453.2 832.8 1456.4 837.6 1464.4 842.4 1458.0 848.8 1454.8 855.1 1456.4 861.5 1450.0 867.9 1451.6 874.2 1448.4 880.6 1450.0 885.4 1453.2 890.1 1451.6 894.9 1466.0 899.7 1477.1 904.5 1459.6 909.2 1442.1 914.0 1469.1 918.8 1453.2 923.6 1448.4 928.3 1453.2 933.1 1440.5 937.9 1435.7 942.7 1451.6 947.5 1437.3 952.2 1438.9 957.0 1437.3 961.8 1443.7 966.6 1440.5 971.3 1442.1 976.1 1438.9 982.5 1440.5 988.8 1445.3 995.2 1443.7 1001.6 1442.1 1007.9 1446.9 1014.3 1443.7 1020.7 1437.3 1025.5 1435.7 1030.2 1438.9 1035.0 1440.5 1039.8 1445.3 1044.6 1437.3 1049.3 1430.9 1054.1 1432.5 1058.9 1434.1 1063.7 1429.3 1068.4 1440.5 1073.2 1430.9 1078.0 1435.7 1082.8 1432.5 1087.5 1427.8 1090.7 1445.3 1095.5 1435.7 1100.3 1443.7 1105.0 1432.5 1109.8 1430.9 1115.6 1427.8" stroke="#0000ff" stroke-dasharray="7 5"/>
</g>
<path d="M650.5 1696.2v-5.0M650.5 1317.4v5.0M743.5 1696.2v-5.0M743.5 1317.4v5.0M836.4 1696.2v-5.0M836.4 1317.4v5.0M929.4 1696.2v-5.0M929.4 1317.4v5.0M1022.3 1696.2v-5.0M1022.3 1317.4v5.0M1115.3 1696.2v-5.0M1115.3 1317.4v5.0M650.5 1696.2h5.0M1115.3 1696.2h-5.0M650.5 1620.4h5.0M1115.3 1620.4h-5.0M650.5 1544.7h5.0M1115.3 1544.7h-5.0M650.5 1468.9h5.0M1115.3 1468.9h-5.0M650.5 1393.2h5.0M1115.3 1393.2h-5.0M650.5 1317.4h5.0M1115.3 1317.4h-5.0" stroke="#262626" stroke-width="1.1" fill="none"/>
<rect x="650.5" y="1317.4" width="464.8" height="378.8" stroke="#262626" stroke-width="1.3" fill="none"/>
<text x="650.5" y="1725.4" font-size="22.4" font-weight="bold" text-anchor="middle" fill="#262626" textLength="10.5" lengthAdjust="spacingAndGlyphs">0</text>
<text x="743.5" y="1725.4" font-size="22.4" font-weight="bold" text-anchor="middle" fill="#262626" textLength="10.5" lengthAdjust="spacingAndGlyphs">2</text>
<text x="836.4" y="1725.4" font-size="22.4" font-weight="bold" text-anchor="middle" fill="#262626" textLength="10.5" lengthAdjust="spacingAndGlyphs">4</text>
<text x="929.4" y="1725.4" font-size="22.4" font-weight="bold" text-anchor="middle" fill="#262626" textLength="10.5" lengthAdjust="spacingAndGlyphs">6</text>
<text x="1022.3" y="1725.4" font-size="22.4" font-weight="bold" text-anchor="middle" fill="#262626" textLength="10.5" lengthAdjust="spacingAndGlyphs">8</text>
<text x="1115.3" y="1725.4" font-size="22.4" font-weight="bold" text-anchor="middle" fill="#262626" textLength="21.1" lengthAdjust="spacingAndGlyphs">10</text>
<text x="645.5" y="1704.4" font-size="22.4" font-weight="bold" text-anchor="end" fill="#262626" textLength="10.5" lengthAdjust="spacingAndGlyphs">0</text>
<text x="645.5" y="1628.6" font-size="22.4" font-weight="bold" text-anchor="end" fill="#262626" textLength="21.1" lengthAdjust="spacingAndGlyphs">20</text>
<text x="645.5" y="1552.9" font-size="22.4" font-weight="bold" text-anchor="end" fill="#262626" textLength="21.1" lengthAdjust="spacingAndGlyphs">40</text>
<text x="645.5" y="1477.1" font-size="22.4" font-weight="bold" text-anchor="end" fill="#262626" textLength="21.1" lengthAdjust="spacingAndGlyphs">60</text>
<text x="645.5" y="1401.4" font-size="22.4" font-weight="bold" text-anchor="end" fill="#262626" textLength="21.1" lengthAdjust="spacingAndGlyphs">80</text>
<text x="645.5" y="1325.6" font-size="22.4" font-weight="bold" text-anchor="end" fill="#262626" textLength="31.6" lengthAdjust="spacingAndGlyphs">100</text>
<text x="882.9" y="1308.6" font-size="23.2" font-weight="bold" text-anchor="middle" fill="#000" textLength="383.7" lengthAdjust="spacingAndGlyphs">Batch size: 1000, Display frequency: 10</text>
<text x="882.9" y="1756.8" font-size="25.6" font-weight="bold" text-anchor="middle" fill="#262626" textLength="60.3" lengthAdjust="spacingAndGlyphs">Epoch</text>
<text transform="translate(606.8,1506.8) rotate(-90)" x="0" y="0" font-size="22.7" font-weight="bold" text-anchor="middle" fill="#262626" textLength="106.5" lengthAdjust="spacingAndGlyphs">Accuracy</text>
<rect x="907.4" y="1582.4" width="183.0" height="101.8" fill="#fff" stroke="#000" stroke-width="1.1"/>
<path d="M909.4 1596.6h26" stroke="#ff0000" stroke-width="2.0"/>
<text x="937.4" y="1603.8" font-size="20.2" font-weight="normal" text-anchor="start" fill="#000" textLength="136.5" lengthAdjust="spacingAndGlyphs">sL-SR1-TR (train)</text>
<path d="M909.4 1621.1h26" stroke="#ff0000" stroke-width="2.8" stroke-dasharray="7 5"/>
<text x="937.4" y="1628.3" font-size="20.2" font-weight="normal" text-anchor="start" fill="#000" textLength="130.8" lengthAdjust="spacingAndGlyphs">sL-SR1-TR (test)</text>
<path d="M909.4 1645.5h26" stroke="#0000ff" stroke-width="2.8"/>
<text x="937.4" y="1652.7" font-size="20.2" font-weight="normal" text-anchor="start" fill="#000" textLength="150.0" lengthAdjust="spacingAndGlyphs">sL-BFGS-TR (train)</text>
<path d="M909.4 1670.0h26" stroke="#0000ff" stroke-width="2.8" stroke-dasharray="7 5"/>
<text x="937.4" y="1677.2" font-size="20.2" font-weight="normal" text-anchor="start" fill="#000" textLength="144.2" lengthAdjust="spacingAndGlyphs">sL-BFGS-TR (test)</text>
<path d="M1364.8 1317.4V1696.2M1457.9 1317.4V1696.2M1551.1 1317.4V1696.2M1644.2 1317.4V1696.2M1271.7 1620.4H1737.3M1271.7 1544.7H1737.3M1271.7 1468.9H1737.3M1271.7 1393.2H1737.3" stroke="#e3e3e3" stroke-width="1.2" fill="none"/>
<g clip-path="url(#cf1)" fill="none" stroke-width="2.8" stroke-linejoin="round">
<path d="M1271.7 1650.7 1273.5 1647.7 1275.3 1606.7 1277.1 1635.3 1278.9 1640.6 1280.7 1610.2 1282.5 1606.0 1284.3 1593.1 1286.1 1601.2 1287.9 1570.8 1289.7 1576.4 1291.5 1547.3 1293.3 1572.3 1295.1 1575.0 1296.9 1558.0 1298.7 1563.7 1300.5 1583.0 1302.3 1557.4 1304.1 1572.9 1305.9 1543.0 1307.7 1562.9 1309.5 1545.7 1311.2 1555.9 1313.0 1535.8 1314.8 1516.5 1316.6 1514.5 1318.4 1533.7 1320.2 1539.7 1322.0 1508.8 1323.8 1524.1 1325.6 1521.8 1327.4 1498.8 1329.2 1521.2 1331.0 1490.4 1332.8 1482.8 1334.6 1492.1 1336.4 1499.8 1338.2 1485.7 1340.0 1457.6 1341.8 1470.4 1343.6 1451.3 1345.4 1462.5 1347.2 1458.7 1349.0 1456.7 1350.8 1456.5 1352.6 1453.0 1354.4 1444.6 1356.2 1438.9 1358.0 1455.9 1359.8 1465.5 1361.6 1460.6 1363.4 1463.2 1365.2 1476.8 1367.0 1448.0 1368.8 1456.8 1370.6 1420.5 1372.4 1451.1 1374.2 1461.1 1376.0 1435.4 1377.8 1439.2 1379.6 1426.0 1381.4 1434.1 1383.2 1409.5 1385.0 1442.6 1386.8 1428.6 1388.5 1436.5 1390.3 1436.2 1392.1 1451.1 1393.9 1419.6 1395.7 1449.2 1397.5 1421.1 1399.3 1419.1 1401.1 1418.9 1402.9 1444.7 1404.7 1411.7 1406.5 1431.1 1408.3 1415.6 1410.1 1424.9 1411.9 1392.9 1413.7 1425.9 1415.5 1420.3 1417.3 1412.6 1419.1 1435.2 1420.9 1421.1 1422.7 1416.8 1424.5 1409.6 1426.3 1416.8 1428.1 1387.2 1429.9 1384.4 1431.7 1392.9 1433.5 1408.9 1435.3 1398.9 1437.1 1378.3 1438.9 1381.4 1440.7 1394.9 1442.5 1410.0 1444.3 1386.1 1446.1 1390.0 1447.9 1398.1 1449.7 1399.9 1451.5 1414.9 1453.3 1415.6 1455.1 1411.7 1456.9 1389.5 1458.7 1389.7 1460.5 1401.6 1462.3 1394.6 1464.1 1371.9 1465.8 1406.1 1467.6 1395.3 1469.4 1405.2 1471.2 1361.9 1473.0 1393.0 1474.8 1368.2 1476.6 1376.5 1478.4 1394.8 1480.2 1377.1 1482.0 1382.2 1483.8 1377.9 1485.6 1381.1 1487.4 1374.7 1489.2 1374.6 1491.0 1392.3 1492.8 1371.3 1494.6 1391.4 1496.4 1397.8 1498.2 1384.9 1500.0 1391.1 1501.8 1387.6 1503.6 1392.6 1505.4 1366.3 1507.2 1365.6 1509.0 1385.6 1510.8 1358.9 1512.6 1377.6 1514.4 1386.2 1516.2 1389.5 1518.0 1370.0 1519.8 1376.6 1521.6 1371.6 1523.4 1335.3 1525.2 1361.9 1527.0 1375.3 1528.8 1388.4 1530.6 1379.5 1532.4 1383.3 1534.2 1382.2 1536.0 1405.8 1537.8 1372.1 1539.6 1388.9 1541.4 1344.4 1543.2 1377.3 1544.9 1361.5 1546.7 1369.3 1548.5 1384.4 1550.3 1371.1 1552.1 1379.6 1553.9 1378.9 1555.7 1374.3 1557.5 1399.9 1559.3 1354.7 1561.1 1365.7 1562.9 1375.1 1564.7 1354.3 1566.5 1386.1 1568.3 1406.7 1570.1 1369.1 1571.9 1384.0 1573.7 1373.3 1575.5 1379.6 1577.3 1375.2 1579.1 1385.4 1580.9 1372.7 1582.7 1361.9 1584.5 1366.6 1586.3 1348.2 1588.1 1363.3 1589.9 1365.6 1591.7 1368.2 1593.5 1363.5 1595.3 1372.8 1597.1 1388.0 1598.9 1384.9 1600.7 1394.7 1602.5 1373.5 1604.3 1368.7 1606.1 1363.8 1607.9 1354.8 1609.7 1375.9 1611.5 1398.3 1613.3 1378.6 1615.1 1369.7 1616.9 1394.7 1618.7 1385.8 1620.5 1383.8 1622.2 1341.8 1624.0 1354.0 1625.8 1378.0 1627.6 1374.9 1629.4 1367.0 1631.2 1364.8 1633.0 1365.1 1634.8 1383.4 1636.6 1380.7 1638.4 1349.1 1640.2 1367.7 1642.0 1353.4 1643.8 1367.2 1645.6 1363.4 1647.4 1362.9 1649.2 1370.1 1651.0 1350.2 1652.8 1354.8 1654.6 1366.8 1656.4 1363.7 1658.2 1344.3 1660.0 1378.3 1661.8 1354.3 1663.6 1350.0 1665.4 1343.8 1667.2 1345.3 1669.0 1375.4 1670.8 1353.5 1672.6 1369.0 1674.4 1353.1 1676.2 1361.8 1678.0 1351.9 1679.8 1372.7 1681.6 1361.3 1683.4 1356.2 1685.2 1356.0 1687.0 1350.9 1688.8 1338.4 1690.6 1375.2 1692.4 1361.9 1694.2 1385.4 1696.0 1354.9 1697.8 1342.0 1699.5 1360.9 1701.3 1347.7 1703.1 1336.5 1704.9 1358.2 1706.7 1351.9 1708.5 1351.5 1710.3 1374.4 1712.1 1380.8 1713.9 1370.0 1715.7 1376.5 1717.5 1356.8 1719.3 1395.4 1721.1 1392.8 1722.9 1390.3 1724.7 1363.0 1726.5 1369.4 1728.3 1368.7 1730.1 1371.2 1731.9 1373.0 1733.7 1377.2 1735.5 1364.1 1737.3 1369.8" stroke="#ff0000" stroke-width="2"/>
<path d="M1271.7 1650.7 1273.8 1639.6 1276.0 1634.0 1278.1 1624.8 1280.2 1626.0 1282.3 1618.5 1284.5 1612.9 1286.6 1605.6 1288.7 1590.9 1290.8 1587.9 1293.0 1588.5 1295.1 1584.2 1297.2 1572.6 1299.3 1577.3 1301.5 1570.9 1303.6 1563.1 1305.7 1556.1 1307.8 1551.9 1310.0 1554.8 1312.1 1553.6 1314.2 1548.9 1316.3 1539.1 1318.5 1535.9 1320.6 1528.7 1322.7 1526.6 1324.9 1522.2 1327.0 1526.8 1329.1 1523.6 1331.2 1516.0 1333.4 1510.9 1335.5 1512.0 1337.6 1500.6 1339.7 1508.4 1341.9 1499.1 1344.0 1498.7 1346.1 1490.2 1348.2 1488.1 1350.4 1489.5 1352.5 1485.2 1354.6 1479.9 1356.7 1485.8 1358.9 1484.3 1361.0 1483.4 1363.1 1479.3 1365.2 1480.1 1367.4 1481.8 1369.5 1471.0 1371.6 1476.9 1373.7 1479.7 1375.9 1467.6 1378.0 1472.9 1380.1 1464.8 1382.3 1461.3 1384.4 1468.0 1386.5 1467.2 1388.6 1457.0 1390.8 1466.4 1392.9 1463.2 1395.0 1460.2 1397.1 1458.7 1399.3 1449.5 1401.4 1453.4 1403.5 1458.5 1405.6 1444.6 1407.8 1446.4 1409.9 1448.0 1412.0 1439.3 1414.1 1442.0 1416.3 1441.8 1418.4 1446.4 1420.5 1443.4 1422.6 1436.8 1424.8 1439.4 1426.9 1442.1 1429.0 1445.7 1431.2 1438.0 1433.3 1438.4 1435.4 1434.6 1437.5 1435.5 1439.7 1434.4 1441.8 1437.3 1443.9 1435.6 1446.0 1438.4 1448.2 1435.0 1450.3 1434.5 1452.4 1434.3 1454.5 1438.3 1456.7 1433.4 1458.8 1435.2 1460.9 1438.2 1463.0 1433.9 1465.2 1431.2 1467.3 1435.1 1469.4 1427.0 1471.5 1431.3 1473.7 1428.2 1475.8 1429.4 1477.9 1438.3 1480.1 1438.3 1482.2 1429.2 1484.3 1432.2 1486.4 1432.3 1488.6 1427.9 1490.7 1428.2 1492.8 1428.2 1494.9 1432.5 1497.1 1423.3 1499.2 1436.6 1501.3 1424.0 1503.4 1429.5 1505.6 1424.1 1507.7 1426.8 1509.8 1425.8 1511.9 1421.3 1514.1 1429.0 1516.2 1434.5 1518.3 1428.8 1520.4 1435.2 1522.6 1428.6 1524.7 1428.9 1526.8 1423.9 1528.9 1427.9 1531.1 1424.0 1533.2 1430.9 1535.3 1423.8 1537.5 1425.6 1539.6 1420.9 1541.7 1415.6 1543.8 1421.4 1546.0 1420.6 1548.1 1427.2 1550.2 1426.1 1552.3 1416.5 1554.5 1429.5 1556.6 1423.9 1558.7 1420.8 1560.8 1418.7 1563.0 1424.1 1565.1 1421.7 1567.2 1419.4 1569.3 1416.2 1571.5 1420.7 1573.6 1421.6 1575.7 1415.7 1577.8 1416.3 1580.0 1421.9 1582.1 1418.3 1584.2 1419.8 1586.4 1418.8 1588.5 1425.2 1590.6 1417.7 1592.7 1418.6 1594.9 1422.9 1597.0 1418.1 1599.1 1420.9 1601.2 1419.4 1603.4 1417.6 1605.5 1407.8 1607.6 1411.1 1609.7 1418.9 1611.9 1409.7 1614.0 1415.0 1616.1 1408.1 1618.2 1410.0 1620.4 1407.2 1622.5 1408.5 1624.6 1414.2 1626.7 1415.1 1628.9 1412.6 1631.0 1412.6 1633.1 1409.4 1635.3 1405.1 1637.4 1413.7 1639.5 1407.3 1641.6 1413.2 1643.8 1413.2 1645.9 1419.4 1648.0 1415.3 1650.1 1413.2 1652.3 1416.5 1654.4 1418.4 1656.5 1415.6 1658.6 1411.4 1660.8 1412.2 1662.9 1418.2 1665.0 1412.2 1667.1 1416.5 1669.3 1417.4 1671.4 1410.4 1673.5 1413.9 1675.6 1415.2 1677.8 1415.9 1679.9 1427.6 1682.0 1412.3 1684.1 1410.2 1686.3 1425.8 1688.4 1425.8 1690.5 1417.7 1692.7 1411.7 1694.8 1414.1 1696.9 1413.2 1699.0 1418.3 1701.2 1418.9 1703.3 1413.4 1705.4 1419.7 1707.5 1409.8 1709.7 1411.6 1711.8 1414.6 1713.9 1417.0 1716.0 1407.7 1718.2 1413.9 1720.3 1420.4 1722.4 1416.8 1724.5 1420.8 1726.7 1410.0 1728.8 1417.2 1730.9 1413.0 1733.0 1410.9 1735.2 1407.5 1737.3 1417.9" stroke="#ff0000" stroke-dasharray="7 5"/>
<path d="M1271.7 1662.1 1273.1 1655.1 1274.5 1648.5 1275.9 1658.7 1277.4 1623.9 1278.8 1610.1 1280.2 1613.0 1281.6 1604.9 1283.0 1620.9 1284.4 1573.1 1285.9 1586.4 1287.3 1594.3 1288.7 1576.6 1290.1 1577.7 1291.5 1579.4 1292.9 1582.0 1294.3 1576.0 1295.8 1568.1 1297.2 1560.4 1298.6 1558.1 1300.0 1563.1 1301.4 1553.3 1302.8 1568.2 1304.2 1587.8 1305.7 1585.8 1307.1 1548.6 1308.5 1586.8 1309.9 1573.1 1311.3 1559.7 1312.7 1544.5 1314.2 1590.3 1315.6 1575.2 1317.0 1569.4 1318.4 1567.6 1319.8 1555.6 1321.2 1542.8 1322.6 1545.1 1324.1 1510.8 1325.5 1529.4 1326.9 1574.2 1328.3 1576.2 1329.7 1556.6 1331.1 1556.9 1332.6 1534.8 1334.0 1541.3 1335.4 1537.9 1336.8 1550.1 1338.2 1542.6 1339.6 1543.1 1341.0 1551.9 1342.5 1539.1 1343.9 1569.4 1345.3 1532.5 1346.7 1537.4 1348.1 1501.7 1349.5 1547.0 1351.0 1569.4 1352.4 1555.0 1353.8 1547.7 1355.2 1556.2 1356.6 1563.0 1358.0 1549.4 1359.4 1564.7 1360.9 1524.9 1362.3 1565.4 1363.7 1532.6 1365.1 1525.7 1366.5 1533.8 1367.9 1518.9 1369.3 1533.4 1370.8 1525.7 1372.2 1552.1 1373.6 1557.4 1375.0 1546.0 1376.4 1535.2 1377.8 1521.8 1379.3 1555.4 1380.7 1546.1 1382.1 1547.9 1383.5 1523.0 1384.9 1543.7 1386.3 1517.1 1387.7 1539.5 1389.2 1545.2 1390.6 1544.6 1392.0 1559.7 1393.4 1573.8 1394.8 1541.9 1396.2 1544.4 1397.7 1500.1 1399.1 1525.6 1400.5 1518.2 1401.9 1529.5 1403.3 1534.4 1404.7 1553.7 1406.1 1550.6 1407.6 1508.6 1409.0 1537.8 1410.4 1537.4 1411.8 1518.2 1413.2 1533.1 1414.6 1533.1 1416.1 1498.0 1417.5 1523.0 1418.9 1534.6 1420.3 1534.5 1421.7 1539.1 1423.1 1522.2 1424.5 1518.9 1426.0 1536.3 1427.4 1530.9 1428.8 1551.4 1430.2 1531.3 1431.6 1515.7 1433.0 1541.2 1434.4 1527.8 1435.9 1536.8 1437.3 1532.8 1438.7 1520.7 1440.1 1540.1 1441.5 1507.5 1442.9 1504.7 1444.4 1506.1 1445.8 1538.0 1447.2 1553.1 1448.6 1532.3 1450.0 1521.4 1451.4 1523.8 1452.8 1525.7 1454.3 1522.3 1455.7 1528.0 1457.1 1512.3 1458.5 1544.0 1459.9 1516.3 1461.3 1514.1 1462.8 1530.6 1464.2 1465.1 1465.6 1517.2 1467.0 1517.4 1468.4 1539.9 1469.8 1517.2 1471.2 1517.6 1472.7 1503.7 1474.1 1528.1 1475.5 1503.6 1476.9 1540.8 1478.3 1520.1 1479.7 1547.6 1481.1 1520.3 1482.6 1508.6 1484.0 1543.5 1485.4 1509.2 1486.8 1512.6 1488.2 1544.0 1489.6 1534.5 1491.1 1527.5 1492.5 1511.4 1493.9 1497.9 1495.3 1529.3 1496.7 1533.8 1498.1 1524.8 1499.5 1560.3 1501.0 1511.7 1502.4 1520.8 1503.8 1523.1 1505.2 1497.7 1506.6 1522.2 1508.0 1528.8 1509.5 1501.7 1510.9 1523.7 1512.3 1515.8 1513.7 1520.9 1515.1 1516.2 1516.5 1512.1 1517.9 1510.2 1519.4 1532.3 1520.8 1494.4 1522.2 1519.9 1523.6 1520.0 1525.0 1500.5 1526.4 1519.9 1527.9 1505.3 1529.3 1495.0 1530.7 1498.0 1532.1 1517.9 1533.5 1495.7 1534.9 1513.8 1536.3 1522.1 1537.8 1522.5 1539.2 1504.7 1540.6 1519.4 1542.0 1489.0 1543.4 1496.2 1544.8 1499.4 1546.2 1490.6 1547.7 1493.3 1549.1 1518.9 1550.5 1469.5 1551.9 1528.8 1553.3 1504.0 1554.7 1533.9 1556.2 1510.1 1557.6 1512.3 1559.0 1526.2 1560.4 1497.1 1561.8 1503.4 1563.2 1504.7 1564.6 1520.2 1566.1 1483.1 1567.5 1507.4 1568.9 1492.8 1570.3 1526.1 1571.7 1481.8 1573.1 1508.3 1574.6 1488.2 1576.0 1508.8 1577.4 1503.3 1578.8 1495.0 1580.2 1502.6 1581.6 1469.7 1583.0 1504.1 1584.5 1505.1 1585.9 1484.6 1587.3 1498.0 1588.7 1514.5 1590.1 1504.4 1591.5 1488.5 1592.9 1498.5 1594.4 1482.3 1595.8 1516.5 1597.2 1494.3 1598.6 1510.0 1600.0 1503.8 1601.4 1507.3 1602.9 1510.5 1604.3 1462.2 1605.7 1495.0 1607.1 1485.4 1608.5 1491.3 1609.9 1467.3 1611.3 1504.8 1612.8 1515.5 1614.2 1486.5 1615.6 1509.9 1617.0 1473.4 1618.4 1509.1 1619.8 1499.0 1621.3 1484.8 1622.7 1511.2 1624.1 1498.7 1625.5 1489.2 1626.9 1515.8 1628.3 1495.2 1629.7 1514.6 1631.2 1495.9 1632.6 1468.6 1634.0 1471.9 1635.4 1495.6 1636.8 1495.5 1638.2 1503.3 1639.7 1480.2 1641.1 1481.0 1642.5 1512.2 1643.9 1505.2 1645.3 1510.3 1646.7 1488.4 1648.1 1487.3 1649.6 1488.7 1651.0 1481.5 1652.4 1481.8 1653.8 1490.5 1655.2 1482.3 1656.6 1497.9 1658.0 1478.9 1659.5 1474.5 1660.9 1522.0 1662.3 1465.4 1663.7 1491.0 1665.1 1478.8 1666.5 1489.0 1668.0 1466.3 1669.4 1489.8 1670.8 1483.1 1672.2 1497.2 1673.6 1488.8 1675.0 1482.3 1676.4 1503.3 1677.9 1491.2 1679.3 1496.9 1680.7 1487.2 1682.1 1473.8 1683.5 1486.0 1684.9 1468.6 1686.4 1498.0 1687.8 1493.0 1689.2 1490.4 1690.6 1501.2 1692.0 1481.6 1693.4 1497.7 1694.8 1498.1 1696.3 1482.6 1697.7 1497.7 1699.1 1486.0 1700.5 1486.9 1701.9 1468.7 1703.3 1463.3 1704.8 1476.6 1706.2 1494.4 1707.6 1471.5 1709.0 1446.8 1710.4 1488.6 1711.8 1486.3 1713.2 1462.8 1714.7 1483.4 1716.1 1487.2 1717.5 1464.2 1718.9 1494.6 1720.3 1466.1 1721.7 1492.9 1723.1 1472.4 1724.6 1481.1 1726.0 1492.1 1727.4 1466.8 1728.8 1500.5 1730.2 1470.0 1731.6 1480.9 1733.1 1462.1 1734.5 1495.5 1735.9 1463.1 1737.3 1446.1" stroke="#0000ff"/>
<path d="M1271.7 1662.1 1273.5 1652.7 1275.3 1639.1 1277.1 1630.3 1278.9 1618.8 1280.7 1597.3 1282.5 1598.2 1284.3 1595.6 1286.1 1586.4 1287.9 1579.2 1289.7 1579.0 1291.5 1576.8 1293.3 1582.5 1295.1 1571.7 1296.9 1571.6 1298.7 1578.1 1300.5 1574.7 1302.3 1567.1 1304.1 1572.3 1305.9 1571.0 1307.7 1569.9 1309.5 1561.9 1311.2 1567.1 1313.0 1563.5 1314.8 1559.2 1316.6 1555.4 1318.4 1554.8 1320.2 1555.6 1322.0 1555.9 1323.8 1566.1 1325.6 1557.5 1327.4 1552.1 1329.2 1552.5 1331.0 1557.6 1332.8 1552.1 1334.6 1554.7 1336.4 1553.2 1338.2 1554.4 1340.0 1556.8 1341.8 1559.3 1343.6 1557.7 1345.4 1552.9 1347.2 1537.4 1349.0 1557.7 1350.8 1546.9 1352.6 1543.7 1354.4 1543.8 1356.2 1546.4 1358.0 1545.3 1359.8 1544.2 1361.6 1547.1 1363.4 1546.5 1365.2 1544.3 1367.0 1543.8 1368.8 1542.7 1370.6 1546.9 1372.4 1537.8 1374.2 1540.4 1376.0 1544.2 1377.8 1548.9 1379.6 1547.7 1381.4 1543.6 1383.2 1542.4 1385.0 1545.3 1386.8 1537.3 1388.5 1546.7 1390.3 1534.5 1392.1 1547.7 1393.9 1537.0 1395.7 1544.3 1397.5 1546.7 1399.3 1540.1 1401.1 1539.7 1402.9 1539.0 1404.7 1535.6 1406.5 1539.4 1408.3 1542.6 1410.1 1536.8 1411.9 1532.0 1413.7 1533.4 1415.5 1543.5 1417.3 1540.6 1419.1 1538.8 1420.9 1538.1 1422.7 1545.8 1424.5 1539.5 1426.3 1540.4 1428.1 1541.0 1429.9 1527.2 1431.7 1533.3 1433.5 1532.9 1435.3 1530.6 1437.1 1534.3 1438.9 1530.1 1440.7 1529.6 1442.5 1530.4 1444.3 1531.3 1446.1 1528.0 1447.9 1530.6 1449.7 1532.7 1451.5 1530.1 1453.3 1528.8 1455.1 1533.3 1456.9 1529.8 1458.7 1532.7 1460.5 1529.8 1462.3 1527.1 1464.1 1523.6 1465.8 1519.7 1467.6 1523.8 1469.4 1531.9 1471.2 1529.1 1473.0 1537.6 1474.8 1530.2 1476.6 1531.0 1478.4 1526.0 1480.2 1525.0 1482.0 1521.3 1483.8 1524.4 1485.6 1531.2 1487.4 1526.3 1489.2 1514.8 1491.0 1521.3 1492.8 1520.7 1494.6 1521.9 1496.4 1533.2 1498.2 1523.6 1500.0 1522.5 1501.8 1526.8 1503.6 1523.9 1505.4 1517.7 1507.2 1520.7 1509.0 1520.3 1510.8 1521.8 1512.6 1519.4 1514.4 1517.9 1516.2 1518.9 1518.0 1523.5 1519.8 1522.2 1521.6 1525.4 1523.4 1514.0 1525.2 1518.2 1527.0 1512.3 1528.8 1512.5 1530.6 1522.1 1532.4 1517.1 1534.2 1513.9 1536.0 1524.6 1537.8 1514.7 1539.6 1515.4 1541.4 1517.7 1543.2 1512.1 1544.9 1519.8 1546.7 1513.3 1548.5 1508.1 1550.3 1515.7 1552.1 1508.1 1553.9 1515.4 1555.7 1513.0 1557.5 1507.5 1559.3 1509.8 1561.1 1507.7 1562.9 1505.9 1564.7 1503.9 1566.5 1515.0 1568.3 1502.5 1570.1 1510.7 1571.9 1507.9 1573.7 1510.5 1575.5 1501.9 1577.3 1506.6 1579.1 1516.4 1580.9 1511.8 1582.7 1510.4 1584.5 1508.9 1586.3 1507.5 1588.1 1506.2 1589.9 1509.1 1591.7 1507.8 1593.5 1507.6 1595.3 1508.5 1597.1 1500.9 1598.9 1505.9 1600.7 1504.7 1602.5 1503.0 1604.3 1508.0 1606.1 1498.3 1607.9 1504.8 1609.7 1499.1 1611.5 1504.9 1613.3 1499.6 1615.1 1502.9 1616.9 1506.3 1618.7 1505.5 1620.5 1509.6 1622.2 1499.1 1624.0 1507.2 1625.8 1509.4 1627.6 1496.7 1629.4 1503.3 1631.2 1499.1 1633.0 1501.3 1634.8 1507.5 1636.6 1501.2 1638.4 1495.5 1640.2 1502.1 1642.0 1508.4 1643.8 1495.6 1645.6 1500.6 1647.4 1498.7 1649.2 1502.3 1651.0 1497.6 1652.8 1503.2 1654.6 1505.3 1656.4 1494.4 1658.2 1496.9 1660.0 1491.3 1661.8 1502.7 1663.6 1496.7 1665.4 1501.9 1667.2 1488.9 1669.0 1499.7 1670.8 1494.7 1672.6 1502.1 1674.4 1498.3 1676.2 1498.5 1678.0 1495.7 1679.8 1496.2 1681.6 1491.1 1683.4 1494.2 1685.2 1490.3 1687.0 1497.8 1688.8 1493.8 1690.6 1502.9 1692.4 1491.7 1694.2 1496.1 1696.0 1504.9 1697.8 1494.1 1699.5 1497.4 1701.3 1487.5 1703.1 1495.7 1704.9 1491.8 1706.7 1491.6 1708.5 1488.4 1710.3 1483.0 1712.1 1490.3 1713.9 1493.7 1715.7 1488.7 1717.5 1490.9 1719.3 1491.2 1721.1 1490.1 1722.9 1495.2 1724.7 1486.0 1726.5 1487.2 1728.3 1488.0 1730.1 1489.1 1731.9 1489.3 1733.7 1485.7 1735.5 1490.7 1737.3 1489.5" stroke="#0000ff" stroke-dasharray="7 5"/>
</g>
<path d="M1271.7 1696.2v-5.0M1271.7 1317.4v5.0M1364.8 1696.2v-5.0M1364.8 1317.4v5.0M1457.9 1696.2v-5.0M1457.9 1317.4v5.0M1551.1 1696.2v-5.0M1551.1 1317.4v5.0M1644.2 1696.2v-5.0M1644.2 1317.4v5.0M1737.3 1696.2v-5.0M1737.3 1317.4v5.0M1271.7 1696.2h5.0M1737.3 1696.2h-5.0M1271.7 1620.4h5.0M1737.3 1620.4h-5.0M1271.7 1544.7h5.0M1737.3 1544.7h-5.0M1271.7 1468.9h5.0M1737.3 1468.9h-5.0M1271.7 1393.2h5.0M1737.3 1393.2h-5.0M1271.7 1317.4h5.0M1737.3 1317.4h-5.0" stroke="#262626" stroke-width="1.1" fill="none"/>
<rect x="1271.7" y="1317.4" width="465.6" height="378.8" stroke="#262626" stroke-width="1.3" fill="none"/>
<text x="1271.7" y="1725.4" font-size="22.4" font-weight="bold" text-anchor="middle" fill="#262626" textLength="10.5" lengthAdjust="spacingAndGlyphs">0</text>
<text x="1364.8" y="1725.4" font-size="22.4" font-weight="bold" text-anchor="middle" fill="#262626" textLength="10.5" lengthAdjust="spacingAndGlyphs">2</text>
<text x="1457.9" y="1725.4" font-size="22.4" font-weight="bold" text-anchor="middle" fill="#262626" textLength="10.5" lengthAdjust="spacingAndGlyphs">4</text>
<text x="1551.1" y="1725.4" font-size="22.4" font-weight="bold" text-anchor="middle" fill="#262626" textLength="10.5" lengthAdjust="spacingAndGlyphs">6</text>
<text x="1644.2" y="1725.4" font-size="22.4" font-weight="bold" text-anchor="middle" fill="#262626" textLength="10.5" lengthAdjust="spacingAndGlyphs">8</text>
<text x="1737.3" y="1725.4" font-size="22.4" font-weight="bold" text-anchor="middle" fill="#262626" textLength="21.1" lengthAdjust="spacingAndGlyphs">10</text>
<text x="1266.7" y="1704.4" font-size="22.4" font-weight="bold" text-anchor="end" fill="#262626" textLength="10.5" lengthAdjust="spacingAndGlyphs">0</text>
<text x="1266.7" y="1628.6" font-size="22.4" font-weight="bold" text-anchor="end" fill="#262626" textLength="21.1" lengthAdjust="spacingAndGlyphs">20</text>
<text x="1266.7" y="1552.9" font-size="22.4" font-weight="bold" text-anchor="end" fill="#262626" textLength="21.1" lengthAdjust="spacingAndGlyphs">40</text>
<text x="1266.7" y="1477.1" font-size="22.4" font-weight="bold" text-anchor="end" fill="#262626" textLength="21.1" lengthAdjust="spacingAndGlyphs">60</text>
<text x="1266.7" y="1401.4" font-size="22.4" font-weight="bold" text-anchor="end" fill="#262626" textLength="21.1" lengthAdjust="spacingAndGlyphs">80</text>
<text x="1266.7" y="1325.6" font-size="22.4" font-weight="bold" text-anchor="end" fill="#262626" textLength="31.6" lengthAdjust="spacingAndGlyphs">100</text>
<text x="1504.5" y="1308.6" font-size="23.2" font-weight="bold" text-anchor="middle" fill="#000" textLength="372.3" lengthAdjust="spacingAndGlyphs">Batch size: 100, Display frequency: 50</text>
<text x="1504.5" y="1756.8" font-size="25.6" font-weight="bold" text-anchor="middle" fill="#262626" textLength="60.3" lengthAdjust="spacingAndGlyphs">Epoch</text>
<text transform="translate(1228.0,1506.8) rotate(-90)" x="0" y="0" font-size="22.7" font-weight="bold" text-anchor="middle" fill="#262626" textLength="106.5" lengthAdjust="spacingAndGlyphs">Accuracy</text>
<rect x="1528.2" y="1582.4" width="184.6" height="101.8" fill="#fff" stroke="#000" stroke-width="1.1"/>
<path d="M1530.2 1596.6h26" stroke="#ff0000" stroke-width="2.0"/>
<text x="1558.2" y="1603.8" font-size="20.2" font-weight="normal" text-anchor="start" fill="#000" textLength="138.0" lengthAdjust="spacingAndGlyphs">sL-SR1-TR (train)</text>
<path d="M1530.2 1621.1h26" stroke="#ff0000" stroke-width="2.8" stroke-dasharray="7 5"/>
<text x="1558.2" y="1628.3" font-size="20.2" font-weight="normal" text-anchor="start" fill="#000" textLength="132.2" lengthAdjust="spacingAndGlyphs">sL-SR1-TR (test)</text>
<path d="M1530.2 1645.5h26" stroke="#0000ff" stroke-width="2.8"/>
<text x="1558.2" y="1652.7" font-size="20.2" font-weight="normal" text-anchor="start" fill="#000" textLength="151.6" lengthAdjust="spacingAndGlyphs">sL-BFGS-TR (train)</text>
<path d="M1530.2 1670.0h26" stroke="#0000ff" stroke-width="2.8" stroke-dasharray="7 5"/>
<text x="1558.2" y="1677.2" font-size="20.2" font-weight="normal" text-anchor="start" fill="#000" textLength="145.8" lengthAdjust="spacingAndGlyphs">sL-BFGS-TR (test)</text>
<path d="M1922.0 1317.4V1696.2M2015.1 1317.4V1696.2M2108.3 1317.4V1696.2M2201.4 1317.4V1696.2M1828.9 1620.4H2294.5M1828.9 1544.7H2294.5M1828.9 1468.9H2294.5M1828.9 1393.2H2294.5" stroke="#e3e3e3" stroke-width="1.2" fill="none"/>
<g clip-path="url(#cf2)" fill="none" stroke-width="2.8" stroke-linejoin="round">
<path d="M1828.9 1650.7 1832.5 1642.0 1836.1 1621.9 1839.7 1619.2 1843.3 1614.8 1846.9 1597.4 1850.6 1592.1 1854.2 1584.1 1857.8 1584.2 1861.4 1573.5 1865.0 1571.7 1868.6 1570.9 1872.2 1567.9 1875.8 1560.7 1879.4 1559.0 1883.0 1549.8 1886.6 1550.8 1890.3 1554.6 1893.9 1549.3 1897.5 1553.5 1901.1 1548.0 1904.7 1550.6 1908.3 1550.2 1911.9 1546.5 1915.5 1537.4 1919.1 1547.9 1922.7 1538.8 1926.4 1537.4 1930.0 1540.3 1933.6 1534.4 1937.2 1532.6 1940.8 1519.7 1944.4 1529.1 1948.0 1528.1 1951.6 1518.6 1955.2 1522.1 1958.8 1511.0 1962.4 1521.7 1966.1 1518.9 1969.7 1521.4 1973.3 1517.8 1976.9 1509.7 1980.5 1507.1 1984.1 1508.6 1987.7 1508.3 1991.3 1510.4 1994.9 1497.8 1998.5 1494.9 2002.1 1495.0 2005.8 1489.5 2009.4 1499.7 2013.0 1505.0 2016.6 1510.0 2020.2 1503.5 2023.8 1497.2 2027.4 1490.8 2031.0 1495.4 2034.6 1499.6 2038.2 1483.3 2041.8 1480.3 2045.5 1492.5 2049.1 1481.3 2052.7 1497.5 2056.3 1483.2 2059.9 1495.8 2063.5 1489.7 2067.1 1480.7 2070.7 1483.2 2074.3 1474.3 2077.9 1484.6 2081.6 1476.8 2085.2 1475.2 2088.8 1479.3 2092.4 1476.4 2096.0 1472.3 2099.6 1473.9 2103.2 1473.0 2106.8 1474.5 2110.4 1480.9 2114.0 1476.9 2117.6 1476.3 2121.3 1464.6 2124.9 1476.9 2128.5 1474.0 2132.1 1482.6 2135.7 1466.6 2139.3 1470.4 2142.9 1465.1 2146.5 1463.7 2150.1 1463.3 2153.7 1456.7 2157.3 1456.8 2161.0 1457.8 2164.6 1456.5 2168.2 1462.3 2171.8 1467.9 2175.4 1458.6 2179.0 1460.2 2182.6 1455.9 2186.2 1462.0 2189.8 1458.9 2193.4 1461.3 2197.0 1453.8 2200.7 1456.3 2204.3 1458.6 2207.9 1452.7 2211.5 1458.4 2215.1 1458.1 2218.7 1455.9 2222.3 1452.3 2225.9 1453.1 2229.5 1447.1 2233.1 1453.2 2236.8 1449.6 2240.4 1454.8 2244.0 1457.1 2247.6 1449.2 2251.2 1439.8 2254.8 1437.4 2258.4 1439.3 2262.0 1450.4 2265.6 1444.6 2269.2 1445.0 2272.8 1442.8 2276.5 1440.2 2280.1 1440.0 2283.7 1436.4 2287.3 1431.9 2290.9 1429.2 2294.5 1438.4" stroke="#ff0000" stroke-width="2"/>
<path d="M1828.9 1650.7 1832.5 1638.5 1836.1 1630.7 1839.7 1620.8 1843.3 1606.6 1846.9 1606.8 1850.6 1595.9 1854.2 1589.4 1857.8 1589.2 1861.4 1580.6 1865.0 1571.8 1868.6 1574.1 1872.2 1572.8 1875.8 1566.6 1879.4 1563.6 1883.0 1557.2 1886.6 1556.7 1890.3 1556.6 1893.9 1557.2 1897.5 1552.4 1901.1 1553.8 1904.7 1552.2 1908.3 1545.3 1911.9 1546.4 1915.5 1548.5 1919.1 1541.6 1922.7 1541.0 1926.4 1544.8 1930.0 1536.2 1933.6 1541.9 1937.2 1535.2 1940.8 1534.6 1944.4 1535.6 1948.0 1534.5 1951.6 1523.6 1955.2 1526.7 1958.8 1526.4 1962.4 1524.8 1966.1 1521.6 1969.7 1517.9 1973.3 1517.5 1976.9 1514.6 1980.5 1516.1 1984.1 1516.8 1987.7 1508.3 1991.3 1504.7 1994.9 1511.8 1998.5 1508.5 2002.1 1503.7 2005.8 1501.9 2009.4 1505.4 2013.0 1504.5 2016.6 1497.7 2020.2 1498.4 2023.8 1501.7 2027.4 1499.8 2031.0 1496.6 2034.6 1493.9 2038.2 1495.2 2041.8 1490.7 2045.5 1492.3 2049.1 1490.1 2052.7 1486.0 2056.3 1487.2 2059.9 1489.7 2063.5 1491.8 2067.1 1484.3 2070.7 1487.5 2074.3 1487.9 2077.9 1483.5 2081.6 1489.1 2085.2 1484.2 2088.8 1482.6 2092.4 1483.9 2096.0 1486.9 2099.6 1484.1 2103.2 1481.1 2106.8 1483.7 2110.4 1477.3 2114.0 1477.7 2117.6 1482.3 2121.3 1480.1 2124.9 1475.7 2128.5 1472.7 2132.1 1475.1 2135.7 1472.9 2139.3 1469.9 2142.9 1472.3 2146.5 1478.4 2150.1 1467.2 2153.7 1468.7 2157.3 1470.9 2161.0 1462.6 2164.6 1469.4 2168.2 1469.8 2171.8 1467.5 2175.4 1461.6 2179.0 1470.5 2182.6 1465.7 2186.2 1466.2 2189.8 1460.1 2193.4 1465.8 2197.0 1457.0 2200.7 1463.8 2204.3 1463.4 2207.9 1466.8 2211.5 1464.4 2215.1 1458.7 2218.7 1460.0 2222.3 1462.9 2225.9 1455.4 2229.5 1454.9 2233.1 1462.0 2236.8 1459.2 2240.4 1460.6 2244.0 1458.4 2247.6 1456.2 2251.2 1459.1 2254.8 1456.3 2258.4 1451.6 2262.0 1457.9 2265.6 1454.5 2269.2 1451.2 2272.8 1451.9 2276.5 1456.2 2280.1 1450.4 2283.7 1453.2 2287.3 1453.1 2290.9 1449.6 2294.5 1449.5" stroke="#ff0000" stroke-dasharray="7 5"/>
<path d="M1828.9 1662.1 1832.5 1643.6 1836.1 1630.0 1839.7 1618.3 1843.3 1613.6 1846.9 1602.9 1850.6 1584.9 1854.2 1597.1 1857.8 1589.7 1861.4 1577.4 1865.0 1588.1 1868.6 1580.4 1872.2 1583.2 1875.8 1572.4 1879.4 1588.3 1883.0 1569.5 1886.6 1571.5 1890.3 1571.8 1893.9 1578.5 1897.5 1555.1 1901.1 1566.5 1904.7 1574.7 1908.3 1571.4 1911.9 1572.6 1915.5 1561.5 1919.1 1558.8 1922.7 1564.2 1926.4 1559.4 1930.0 1563.6 1933.6 1564.2 1937.2 1558.3 1940.8 1553.5 1944.4 1557.8 1948.0 1564.7 1951.6 1554.3 1955.2 1570.1 1958.8 1553.0 1962.4 1549.3 1966.1 1556.7 1969.7 1553.8 1973.3 1557.1 1976.9 1557.8 1980.5 1564.8 1984.1 1568.5 1987.7 1554.2 1991.3 1554.5 1994.9 1563.9 1998.5 1562.6 2002.1 1551.1 2005.8 1549.6 2009.4 1545.4 2013.0 1547.6 2016.6 1560.3 2020.2 1563.0 2023.8 1550.7 2027.4 1556.1 2031.0 1550.9 2034.6 1544.8 2038.2 1541.2 2041.8 1560.3 2045.5 1548.8 2049.1 1558.4 2052.7 1556.7 2056.3 1541.1 2059.9 1556.9 2063.5 1557.8 2067.1 1548.0 2070.7 1555.1 2074.3 1550.4 2077.9 1551.1 2081.6 1549.8 2085.2 1537.4 2088.8 1547.8 2092.4 1548.6 2096.0 1545.3 2099.6 1540.9 2103.2 1551.9 2106.8 1549.1 2110.4 1556.9 2114.0 1536.2 2117.6 1551.5 2121.3 1542.3 2124.9 1541.6 2128.5 1548.6 2132.1 1550.2 2135.7 1547.2 2139.3 1540.0 2142.9 1555.7 2146.5 1545.9 2150.1 1538.1 2153.7 1545.9 2157.3 1534.9 2161.0 1551.3 2164.6 1546.0 2168.2 1539.2 2171.8 1547.1 2175.4 1560.2 2179.0 1551.7 2182.6 1547.2 2186.2 1538.9 2189.8 1540.4 2193.4 1548.1 2197.0 1539.6 2200.7 1551.3 2204.3 1537.0 2207.9 1547.0 2211.5 1539.3 2215.1 1549.2 2218.7 1543.8 2222.3 1539.2 2225.9 1553.0 2229.5 1544.2 2233.1 1550.2 2236.8 1543.2 2240.4 1545.4 2244.0 1537.5 2247.6 1547.9 2251.2 1552.4 2254.8 1539.6 2258.4 1542.8 2262.0 1546.7 2265.6 1549.5 2269.2 1545.0 2272.8 1534.9 2276.5 1535.4 2280.1 1540.1 2283.7 1536.5 2287.3 1543.6 2290.9 1536.0 2294.5 1533.2" stroke="#0000ff"/>
<path d="M1828.9 1662.1 1832.5 1645.3 1836.1 1630.4 1839.7 1618.1 1843.3 1609.9 1846.9 1602.1 1850.6 1591.4 1854.2 1588.8 1857.8 1585.7 1861.4 1582.1 1865.0 1578.0 1868.6 1579.5 1872.2 1574.2 1875.8 1570.5 1879.4 1566.7 1883.0 1569.2 1886.6 1568.3 1890.3 1566.2 1893.9 1565.2 1897.5 1568.1 1901.1 1563.7 1904.7 1561.3 1908.3 1560.3 1911.9 1563.3 1915.5 1559.1 1919.1 1561.4 1922.7 1559.3 1926.4 1555.8 1930.0 1558.1 1933.6 1561.7 1937.2 1559.3 1940.8 1557.2 1944.4 1554.6 1948.0 1558.3 1951.6 1556.9 1955.2 1556.8 1958.8 1555.3 1962.4 1554.9 1966.1 1556.3 1969.7 1555.0 1973.3 1559.5 1976.9 1555.8 1980.5 1555.7 1984.1 1554.7 1987.7 1553.7 1991.3 1553.2 1994.9 1554.4 1998.5 1552.7 2002.1 1552.1 2005.8 1552.3 2009.4 1552.5 2013.0 1551.4 2016.6 1550.5 2020.2 1550.8 2023.8 1551.5 2027.4 1552.7 2031.0 1549.7 2034.6 1549.7 2038.2 1549.7 2041.8 1549.7 2045.5 1550.0 2049.1 1546.2 2052.7 1547.6 2056.3 1548.3 2059.9 1547.2 2063.5 1548.2 2067.1 1545.1 2070.7 1548.1 2074.3 1548.6 2077.9 1546.9 2081.6 1547.0 2085.2 1544.7 2088.8 1547.4 2092.4 1545.5 2096.0 1543.1 2099.6 1544.8 2103.2 1541.2 2106.8 1544.8 2110.4 1546.2 2114.0 1544.6 2117.6 1541.1 2121.3 1541.4 2124.9 1544.9 2128.5 1544.0 2132.1 1542.0 2135.7 1544.5 2139.3 1544.1 2142.9 1545.9 2146.5 1543.3 2150.1 1541.2 2153.7 1543.8 2157.3 1545.5 2161.0 1542.7 2164.6 1543.9 2168.2 1541.5 2171.8 1543.9 2175.4 1541.1 2179.0 1541.4 2182.6 1541.4 2186.2 1545.2 2189.8 1544.9 2193.4 1542.2 2197.0 1544.8 2200.7 1544.3 2204.3 1543.4 2207.9 1542.3 2211.5 1543.3 2215.1 1541.3 2218.7 1541.5 2222.3 1542.1 2225.9 1543.2 2229.5 1543.8 2233.1 1541.0 2236.8 1539.3 2240.4 1541.9 2244.0 1541.9 2247.6 1543.6 2251.2 1544.4 2254.8 1540.3 2258.4 1543.3 2262.0 1542.7 2265.6 1541.1 2269.2 1539.4 2272.8 1542.2 2276.5 1540.3 2280.1 1538.2 2283.7 1541.2 2287.3 1545.0 2290.9 1542.1 2294.5 1539.8" stroke="#0000ff" stroke-dasharray="7 5"/>
</g>
<path d="M1828.9 1696.2v-5.0M1828.9 1317.4v5.0M1922.0 1696.2v-5.0M1922.0 1317.4v5.0M2015.1 1696.2v-5.0M2015.1 1317.4v5.0M2108.3 1696.2v-5.0M2108.3 1317.4v5.0M2201.4 1696.2v-5.0M2201.4 1317.4v5.0M2294.5 1696.2v-5.0M2294.5 1317.4v5.0M1828.9 1696.2h5.0M2294.5 1696.2h-5.0M1828.9 1620.4h5.0M2294.5 1620.4h-5.0M1828.9 1544.7h5.0M2294.5 1544.7h-5.0M1828.9 1468.9h5.0M2294.5 1468.9h-5.0M1828.9 1393.2h5.0M2294.5 1393.2h-5.0M1828.9 1317.4h5.0M2294.5 1317.4h-5.0" stroke="#262626" stroke-width="1.1" fill="none"/>
<rect x="1828.9" y="1317.4" width="465.6" height="378.8" stroke="#262626" stroke-width="1.3" fill="none"/>
<text x="1828.9" y="1725.4" font-size="22.4" font-weight="bold" text-anchor="middle" fill="#262626" textLength="10.5" lengthAdjust="spacingAndGlyphs">0</text>
<text x="1922.0" y="1725.4" font-size="22.4" font-weight="bold" text-anchor="middle" fill="#262626" textLength="10.5" lengthAdjust="spacingAndGlyphs">2</text>
<text x="2015.1" y="1725.4" font-size="22.4" font-weight="bold" text-anchor="middle" fill="#262626" textLength="10.5" lengthAdjust="spacingAndGlyphs">4</text>
<text x="2108.3" y="1725.4" font-size="22.4" font-weight="bold" text-anchor="middle" fill="#262626" textLength="10.5" lengthAdjust="spacingAndGlyphs">6</text>
<text x="2201.4" y="1725.4" font-size="22.4" font-weight="bold" text-anchor="middle" fill="#262626" textLength="10.5" lengthAdjust="spacingAndGlyphs">8</text>
<text x="2294.5" y="1725.4" font-size="22.4" font-weight="bold" text-anchor="middle" fill="#262626" textLength="21.1" lengthAdjust="spacingAndGlyphs">10</text>
<text x="1823.9" y="1704.4" font-size="22.4" font-weight="bold" text-anchor="end" fill="#262626" textLength="10.5" lengthAdjust="spacingAndGlyphs">0</text>
<text x="1823.9" y="1628.6" font-size="22.4" font-weight="bold" text-anchor="end" fill="#262626" textLength="21.1" lengthAdjust="spacingAndGlyphs">20</text>
<text x="1823.9" y="1552.9" font-size="22.4" font-weight="bold" text-anchor="end" fill="#262626" textLength="21.1" lengthAdjust="spacingAndGlyphs">40</text>
<text x="1823.9" y="1477.1" font-size="22.4" font-weight="bold" text-anchor="end" fill="#262626" textLength="21.1" lengthAdjust="spacingAndGlyphs">60</text>
<text x="1823.9" y="1401.4" font-size="22.4" font-weight="bold" text-anchor="end" fill="#262626" textLength="21.1" lengthAdjust="spacingAndGlyphs">80</text>
<text x="1823.9" y="1325.6" font-size="22.4" font-weight="bold" text-anchor="end" fill="#262626" textLength="31.6" lengthAdjust="spacingAndGlyphs">100</text>
<text x="2061.7" y="1308.6" font-size="23.2" font-weight="bold" text-anchor="middle" fill="#000" textLength="383.7" lengthAdjust="spacingAndGlyphs">Batch size: 1000, Display frequency: 10</text>
<text x="2061.7" y="1756.8" font-size="25.6" font-weight="bold" text-anchor="middle" fill="#262626" textLength="60.3" lengthAdjust="spacingAndGlyphs">Epoch</text>
<text transform="translate(1785.2,1506.8) rotate(-90)" x="0" y="0" font-size="22.7" font-weight="bold" text-anchor="middle" fill="#262626" textLength="106.5" lengthAdjust="spacingAndGlyphs">Accuracy</text>
<rect x="2085.9" y="1582.4" width="183.3" height="101.8" fill="#fff" stroke="#000" stroke-width="1.1"/>
<path d="M2087.9 1596.6h26" stroke="#ff0000" stroke-width="2.0"/>
<text x="2115.9" y="1603.8" font-size="20.2" font-weight="normal" text-anchor="start" fill="#000" textLength="136.8" lengthAdjust="spacingAndGlyphs">sL-SR1-TR (train)</text>
<path d="M2087.9 1621.1h26" stroke="#ff0000" stroke-width="2.8" stroke-dasharray="7 5"/>
<text x="2115.9" y="1628.3" font-size="20.2" font-weight="normal" text-anchor="start" fill="#000" textLength="131.0" lengthAdjust="spacingAndGlyphs">sL-SR1-TR (test)</text>
<path d="M2087.9 1645.5h26" stroke="#0000ff" stroke-width="2.8"/>
<text x="2115.9" y="1652.7" font-size="20.2" font-weight="normal" text-anchor="start" fill="#000" textLength="150.3" lengthAdjust="spacingAndGlyphs">sL-BFGS-TR (train)</text>
<path d="M2087.9 1670.0h26" stroke="#0000ff" stroke-width="2.8" stroke-dasharray="7 5"/>
<text x="2115.9" y="1677.2" font-size="20.2" font-weight="normal" text-anchor="start" fill="#000" textLength="144.5" lengthAdjust="spacingAndGlyphs">sL-BFGS-TR (test)</text>
<path d="M186.3 1938.3V2317.0M279.2 1938.3V2317.0M372.2 1938.3V2317.0M465.1 1938.3V2317.0M93.3 2241.3H558.1M93.3 2165.5H558.1M93.3 2089.8H558.1M93.3 2014.0H558.1" stroke="#e3e3e3" stroke-width="1.2" fill="none"/>
<g clip-path="url(#cg1)" fill="none" stroke-width="2.8" stroke-linejoin="round">
<path d="M100.7 2264.0 108.2 2082.2 116.5 2063.3 124.0 1987.5 132.3 1968.6 139.8 1961.0 147.2 1983.7 155.6 1976.2 163.0 1968.6 170.5 1976.2 178.8 1953.4 186.3 1953.4 193.7 1949.7 202.1 1972.4 209.5 1964.8 216.9 1953.4 225.3 1961.0 232.7 1964.8 240.2 1953.4 248.5 1964.8 256.0 1964.8 263.4 1945.9 271.8 1968.6 279.2 1964.8 286.7 1953.4 295.0 1953.4 302.5 1957.2 309.9 1964.8 318.3 1968.6 325.7 1961.0 333.1 1953.4 341.5 1949.7 348.9 1942.1 356.4 1957.2 364.7 1957.2 372.2 1961.0 379.6 1953.4 388.0 1945.9 395.4 1945.9 402.9 1942.1 411.2 1957.2 418.7 1942.1 426.1 1949.7 434.5 1949.7 441.9 1945.9 449.3 1942.1 457.7 1957.2 465.1 1949.7 472.6 1942.1 480.9 1945.9 488.4 1953.4 495.8 1942.1 504.2 1942.1 511.6 1945.9 519.1 1949.7 527.4 1953.4 534.9 1942.1 544.2 1938.3" stroke="#ff0000"/>
<path d="M100.7 2203.4 108.2 2089.8 116.5 2108.7 124.0 2146.6 132.3 2211.0 139.8 2180.7 147.2 2192.0 155.6 2176.9 163.0 2036.8 170.5 2044.3 178.8 2063.3 186.3 2055.7 193.7 1995.1 202.1 1983.7 209.5 1991.3 216.9 1976.2 225.3 1968.6 232.7 1968.6 240.2 2010.3 248.5 1972.4 256.0 1968.6 263.4 1972.4 271.8 1972.4 279.2 1968.6 286.7 1976.2 295.0 1983.7 302.5 1972.4 309.9 1964.8 318.3 1972.4 325.7 1972.4 333.1 1964.8 341.5 1961.0 348.9 1957.2 356.4 1961.0 364.7 1957.2 372.2 1961.0 379.6 1961.0 388.0 1957.2 395.4 1957.2 402.9 1961.0 411.2 1957.2 418.7 1964.8 426.1 1987.5 434.5 1980.0 441.9 1968.6 449.3 1961.0 457.7 1957.2 465.1 1957.2 472.6 1957.2 480.9 1964.8 488.4 1972.4 495.8 1961.0 504.2 1957.2 511.6 1957.2 519.1 1961.0 527.4 1964.8 534.9 1957.2 544.2 1957.2" stroke="#ff0000" stroke-dasharray="7 5"/>
<path d="M100.7 2264.0 108.2 2082.2 116.5 2063.3 124.0 1991.3 132.3 1964.8 139.8 1968.6 147.2 1983.7 155.6 1976.2 163.0 1957.2 170.5 1972.4 178.8 1964.8 186.3 1957.2 193.7 1949.7 202.1 1976.2 209.5 1949.7 216.9 1953.4 225.3 1961.0 232.7 1964.8 240.2 1949.7 248.5 1961.0 256.0 1961.0 263.4 1949.7 271.8 1968.6 279.2 1961.0 286.7 1949.7 295.0 1961.0 302.5 1953.4 309.9 1957.2 318.3 1953.4 325.7 1953.4 333.1 1949.7 341.5 1945.9 348.9 1949.7 356.4 1957.2 364.7 1949.7 372.2 1964.8 379.6 1949.7 388.0 1953.4 395.4 1945.9 404.7 1938.3" stroke="#0000ff"/>
<path d="M100.7 2222.3 108.2 2082.2 116.5 2108.7 124.0 2146.6 132.3 2233.7 139.8 2192.0 147.2 2188.2 155.6 2192.0 163.0 2063.3 170.5 2078.4 178.8 2063.3 186.3 2040.5 193.7 1991.3 202.1 1987.5 209.5 1995.1 216.9 1987.5 225.3 1976.2 232.7 1972.4 240.2 2025.4 248.5 1968.6 256.0 1976.2 263.4 1983.7 271.8 1972.4 279.2 1972.4 286.7 1976.2 295.0 1968.6 302.5 1968.6 309.9 1972.4 318.3 1980.0 325.7 1964.8 333.1 1968.6 341.5 1961.0 348.9 1957.2 356.4 1991.3 364.7 1957.2 372.2 1961.0 379.6 1961.0 388.0 1957.2 395.4 1987.5 404.7 1957.2" stroke="#0000ff" stroke-dasharray="7 5"/>
</g>
<path d="M93.3 2317.0v-5.0M93.3 1938.3v5.0M186.3 2317.0v-5.0M186.3 1938.3v5.0M279.2 2317.0v-5.0M279.2 1938.3v5.0M372.2 2317.0v-5.0M372.2 1938.3v5.0M465.1 2317.0v-5.0M465.1 1938.3v5.0M558.1 2317.0v-5.0M558.1 1938.3v5.0M93.3 2317.0h5.0M558.1 2317.0h-5.0M93.3 2241.3h5.0M558.1 2241.3h-5.0M93.3 2165.5h5.0M558.1 2165.5h-5.0M93.3 2089.8h5.0M558.1 2089.8h-5.0M93.3 2014.0h5.0M558.1 2014.0h-5.0M93.3 1938.3h5.0M558.1 1938.3h-5.0" stroke="#262626" stroke-width="1.1" fill="none"/>
<rect x="93.3" y="1938.3" width="464.8" height="378.7" stroke="#262626" stroke-width="1.3" fill="none"/>
<text x="93.3" y="2346.2" font-size="22.4" font-weight="bold" text-anchor="middle" fill="#262626" textLength="10.5" lengthAdjust="spacingAndGlyphs" clip-path="url(#kg1)">0</text>
<text x="186.3" y="2346.2" font-size="22.4" font-weight="bold" text-anchor="middle" fill="#262626" textLength="36.8" lengthAdjust="spacingAndGlyphs" clip-path="url(#kg1)">0.01</text>
<text x="279.2" y="2346.2" font-size="22.4" font-weight="bold" text-anchor="middle" fill="#262626" textLength="36.8" lengthAdjust="spacingAndGlyphs" clip-path="url(#kg1)">0.02</text>
<text x="372.2" y="2346.2" font-size="22.4" font-weight="bold" text-anchor="middle" fill="#262626" textLength="36.8" lengthAdjust="spacingAndGlyphs" clip-path="url(#kg1)">0.03</text>
<text x="465.1" y="2346.2" font-size="22.4" font-weight="bold" text-anchor="middle" fill="#262626" textLength="36.8" lengthAdjust="spacingAndGlyphs" clip-path="url(#kg1)">0.04</text>
<text x="558.1" y="2346.2" font-size="22.4" font-weight="bold" text-anchor="middle" fill="#262626" textLength="36.8" lengthAdjust="spacingAndGlyphs" clip-path="url(#kg1)">0.05</text>
<text x="88.3" y="2325.2" font-size="22.4" font-weight="bold" text-anchor="end" fill="#262626" textLength="10.5" lengthAdjust="spacingAndGlyphs">0</text>
<text x="88.3" y="2249.5" font-size="22.4" font-weight="bold" text-anchor="end" fill="#262626" textLength="21.1" lengthAdjust="spacingAndGlyphs">20</text>
<text x="88.3" y="2173.7" font-size="22.4" font-weight="bold" text-anchor="end" fill="#262626" textLength="21.1" lengthAdjust="spacingAndGlyphs">40</text>
<text x="88.3" y="2098.0" font-size="22.4" font-weight="bold" text-anchor="end" fill="#262626" textLength="21.1" lengthAdjust="spacingAndGlyphs">60</text>
<text x="88.3" y="2022.2" font-size="22.4" font-weight="bold" text-anchor="end" fill="#262626" textLength="21.1" lengthAdjust="spacingAndGlyphs">80</text>
<text x="88.3" y="1946.5" font-size="22.4" font-weight="bold" text-anchor="end" fill="#262626" textLength="31.6" lengthAdjust="spacingAndGlyphs">100</text>
<text x="325.7" y="1929.5" font-size="23.2" font-weight="bold" text-anchor="middle" fill="#000" textLength="360.9" lengthAdjust="spacingAndGlyphs">Batch size: 100, Display frequency: 1</text>
<text x="325.7" y="2377.6" font-size="25.6" font-weight="bold" text-anchor="middle" fill="#262626" textLength="60.3" lengthAdjust="spacingAndGlyphs">Epoch</text>
<text transform="translate(49.6,2127.7) rotate(-90)" x="0" y="0" font-size="22.7" font-weight="bold" text-anchor="middle" fill="#262626" textLength="106.5" lengthAdjust="spacingAndGlyphs">Accuracy</text>
<rect x="350.2" y="2077.4" width="183.4" height="100.9" fill="#fff" stroke="#000" stroke-width="1.1"/>
<path d="M352.2 2091.6h26" stroke="#ff0000" stroke-width="2.8"/>
<text x="380.2" y="2098.8" font-size="20.2" font-weight="normal" text-anchor="start" fill="#000" textLength="136.9" lengthAdjust="spacingAndGlyphs">sL-SR1-TR (train)</text>
<path d="M352.2 2115.8h26" stroke="#ff0000" stroke-width="2.8" stroke-dasharray="7 5"/>
<text x="380.2" y="2123.0" font-size="20.2" font-weight="normal" text-anchor="start" fill="#000" textLength="131.1" lengthAdjust="spacingAndGlyphs">sL-SR1-TR (test)</text>
<path d="M352.2 2139.9h26" stroke="#0000ff" stroke-width="2.8"/>
<text x="380.2" y="2147.1" font-size="20.2" font-weight="normal" text-anchor="start" fill="#000" textLength="150.4" lengthAdjust="spacingAndGlyphs">sL-BFGS-TR (train)</text>
<path d="M352.2 2164.1h26" stroke="#0000ff" stroke-width="2.8" stroke-dasharray="7 5"/>
<text x="380.2" y="2171.3" font-size="20.2" font-weight="normal" text-anchor="start" fill="#000" textLength="144.6" lengthAdjust="spacingAndGlyphs">sL-BFGS-TR (test)</text>
<path d="M766.7 1938.3V2317.0M882.9 1938.3V2317.0M999.1 1938.3V2317.0M650.5 2241.3H1115.3M650.5 2165.5H1115.3M650.5 2089.8H1115.3M650.5 2014.0H1115.3" stroke="#e3e3e3" stroke-width="1.2" fill="none"/>
<g clip-path="url(#cg2)" fill="none" stroke-width="2.8" stroke-linejoin="round">
<path d="M651.7 2264.0 653.3 2192.5 654.9 2120.7 656.5 2073.7 658.1 2029.0 659.7 2005.0 661.3 1991.2 662.9 1978.1 664.5 1975.6 666.1 1971.2 667.7 1964.0 669.3 1958.5 670.9 1957.6 672.5 1949.7 674.1 1949.1 675.7 1950.4 677.4 1949.3 679.0 1950.6 680.6 1948.0 682.2 1945.2 683.8 1948.1 685.4 1945.4 687.0 1947.6 688.6 1945.7 690.2 1945.1 691.8 1943.6 693.4 1945.5 695.0 1949.2 696.6 1947.1 698.2 1947.9 699.8 1948.3 701.4 1946.2 703.0 1946.3 704.7 1945.0 706.3 1945.6 707.9 1943.5 709.5 1947.6 711.1 1947.5 712.7 1946.7 714.3 1944.3 715.9 1946.2 717.5 1942.6 719.1 1945.3 720.7 1946.5 722.3 1944.6 723.9 1940.6 725.5 1942.4 727.1 1943.5 728.7 1942.3 730.3 1943.6 732.0 1945.7 733.6 1945.3 735.2 1944.1 736.8 1941.7 738.4 1945.4 740.0 1944.9 741.6 1940.1 743.2 1942.1 744.8 1944.8 746.4 1942.4 748.0 1944.0 749.6 1942.9 751.2 1943.7 752.8 1943.1 754.4 1944.4 756.0 1947.2 757.6 1943.9 759.2 1943.9 760.9 1940.9 762.5 1946.3 764.1 1941.4 765.7 1944.9 767.3 1943.3 768.9 1941.1 770.5 1940.6 772.1 1942.8 773.7 1942.7 775.3 1939.4 776.9 1944.0 778.5 1938.3 780.1 1943.1 781.7 1942.9 783.3 1943.2 784.9 1944.6 786.5 1940.0 788.2 1941.0 789.8 1942.0 791.4 1942.7 793.0 1938.3 794.6 1942.3 796.2 1947.0 797.8 1938.5 799.4 1941.6 801.0 1942.1 802.6 1939.3 804.2 1941.4 805.8 1941.9 807.4 1939.5 809.0 1941.8 810.6 1940.1 812.2 1940.7 813.8 1940.6 815.5 1942.9 817.1 1941.2 818.7 1938.3 820.3 1940.8 821.9 1946.5 823.5 1941.5 825.1 1944.2 826.7 1942.2 828.3 1942.4 829.9 1940.8 831.5 1940.0 833.1 1941.6 834.7 1940.2 836.3 1939.5 837.9 1940.6 839.5 1942.7 841.1 1941.6 842.7 1940.5 844.4 1938.3 846.0 1941.4 847.6 1941.9 849.2 1943.6 850.8 1938.7 852.4 1938.3 854.0 1943.8 855.6 1941.9 857.2 1941.3 858.8 1940.0 860.4 1941.7 862.0 1940.2 863.6 1942.6 865.2 1942.5 866.8 1939.3 868.4 1938.5 870.0 1939.5 871.7 1943.4 873.3 1943.1 874.9 1938.3 876.5 1940.3 878.1 1942.1 879.7 1941.2 881.3 1942.1 882.9 1944.3 884.5 1939.5 886.1 1939.1 887.7 1942.3 889.3 1939.6 890.9 1939.1 892.5 1938.3 894.1 1938.3 895.7 1939.3 897.3 1945.7 899.0 1942.8 900.6 1939.4 902.2 1940.7 903.8 1940.7 905.4 1940.1 907.0 1940.2 908.6 1941.7 910.2 1942.6 911.8 1942.2 913.4 1941.0 915.0 1938.8 916.6 1940.6 918.2 1940.3 919.8 1939.7 921.4 1940.4 923.0 1942.4 924.6 1940.6 926.3 1941.3 927.9 1942.4 929.5 1941.5 931.1 1941.8 932.7 1940.1 934.3 1944.1 935.9 1942.7 937.5 1939.8 939.1 1942.6 940.7 1944.3 942.3 1940.7 943.9 1939.8 945.5 1941.2 947.1 1939.1 948.7 1938.3 950.3 1938.3 951.9 1941.7 953.5 1940.1 955.2 1938.3 956.8 1938.4 958.4 1941.7 960.0 1941.3 961.6 1939.6 963.2 1940.2 964.8 1938.3 966.4 1938.9 968.0 1942.1 969.6 1941.1 971.2 1938.7 972.5 1938.3" stroke="#ff0000"/>
<path d="M651.7 2264.0 653.3 2220.3 654.9 2175.9 656.5 2149.0 658.1 2132.1 659.7 2106.4 661.3 2101.5 662.9 2078.5 664.5 2042.2 666.1 2022.7 667.7 2005.1 669.3 1992.4 670.9 1982.2 672.5 1976.9 674.1 1970.3 675.7 1968.9 677.4 1970.6 679.0 1962.1 680.6 1968.8 682.2 1962.3 683.8 1960.5 685.4 1960.2 687.0 1955.0 688.6 1954.0 690.2 1955.1 691.8 1957.0 693.4 1956.0 695.0 1957.6 696.6 1955.2 698.2 1959.6 699.8 1953.4 701.4 1955.5 703.0 1953.6 704.7 1950.7 706.3 1951.8 707.9 1951.7 709.5 1951.4 711.1 1949.9 712.7 1951.4 714.3 1953.1 715.9 1949.1 717.5 1950.1 719.1 1950.3 720.7 1950.2 722.3 1951.8 723.9 1951.2 725.5 1950.3 727.1 1948.5 728.7 1953.0 730.3 1952.2 732.0 1944.8 733.6 1951.4 735.2 1949.0 736.8 1946.0 738.4 1949.3 740.0 1947.7 741.6 1954.0 743.2 1948.3 744.8 1950.0 746.4 1946.1 748.0 1948.1 749.6 1949.0 751.2 1943.3 752.8 1947.6 754.4 1945.4 756.0 1949.8 757.6 1945.9 759.2 1951.8 760.9 1948.2 762.5 1952.7 764.1 1943.8 765.7 1952.4 767.3 1946.3 768.9 1947.2 770.5 1947.4 772.1 1946.4 773.7 1946.6 775.3 1947.2 776.9 1946.8 778.5 1950.3 780.1 1945.6 781.7 1946.1 783.3 1952.1 784.9 1947.0 786.5 1942.5 788.2 1946.8 789.8 1945.6 791.4 1948.1 793.0 1945.7 794.6 1949.1 796.2 1949.4 797.8 1945.1 799.4 1944.1 801.0 1945.8 802.6 1947.6 804.2 1945.8 805.8 1947.6 807.4 1952.1 809.0 1946.0 810.6 1944.1 812.2 1947.2 813.8 1948.6 815.5 1947.9 817.1 1944.1 818.7 1946.6 820.3 1942.2 821.9 1941.7 823.5 1945.3 825.1 1945.5 826.7 1943.3 828.3 1948.4 829.9 1944.5 831.5 1946.2 833.1 1944.2 834.7 1945.3 836.3 1945.7 837.9 1943.7 839.5 1945.6 841.1 1947.5 842.7 1943.4 844.4 1946.5 846.0 1941.8 847.6 1944.7 849.2 1941.7 850.8 1945.0 852.4 1942.7 854.0 1946.6 855.6 1945.7 857.2 1940.4 858.8 1946.5 860.4 1950.8 862.0 1945.8 863.6 1944.6 865.2 1944.3 866.8 1944.6 868.4 1947.1 870.0 1946.1 871.7 1944.4 873.3 1946.7 874.9 1946.2 876.5 1946.3 878.1 1946.1 879.7 1939.7 881.3 1944.9 882.9 1945.0 884.5 1945.5 886.1 1946.6 887.7 1942.3 889.3 1945.1 890.9 1942.3 892.5 1946.3 894.1 1944.2 895.7 1946.5 897.3 1941.0 899.0 1941.8 900.6 1943.7 902.2 1942.3 903.8 1939.6 905.4 1945.1 907.0 1942.2 908.6 1946.7 910.2 1944.1 911.8 1942.4 913.4 1946.1 915.0 1944.6 916.6 1942.0 918.2 1941.2 919.8 1939.0 921.4 1946.1 923.0 1945.0 924.6 1943.8 926.3 1947.5 927.9 1941.8 929.5 1947.3 931.1 1945.9 932.7 1944.7 934.3 1948.3 935.9 1946.7 937.5 1942.2 939.1 1945.3 940.7 1941.2 942.3 1942.4 943.9 1941.9 945.5 1941.2 947.1 1943.5 948.7 1947.7 950.3 1946.5 951.9 1943.4 953.5 1946.5 955.2 1942.2 956.8 1943.0 958.4 1947.8 960.0 1944.1 961.6 1947.0 963.2 1947.0 964.8 1940.8 966.4 1946.1 968.0 1943.7 969.6 1942.6 971.2 1943.5" stroke="#ff0000" stroke-dasharray="7 5"/>
<path d="M651.7 2264.0 653.3 2197.6 654.9 2129.7 656.5 2069.1 658.1 2025.7 659.7 2005.2 661.4 1994.9 663.0 1981.9 664.6 1972.0 666.2 1972.0 667.8 1966.4 669.4 1964.4 671.1 1962.1 672.7 1956.1 674.3 1950.2 675.9 1950.0 677.5 1945.7 679.1 1952.5 680.8 1949.1 682.4 1946.2 684.0 1948.7 685.6 1947.4 687.2 1948.8 688.8 1948.3 690.5 1946.0 692.1 1944.1 693.7 1944.9 695.3 1948.2 696.9 1945.4 698.5 1948.6 700.2 1950.2 701.8 1945.8 703.4 1944.9 705.0 1947.7 706.6 1946.0 708.2 1943.8 709.9 1942.1 711.5 1945.9 713.1 1945.1 714.7 1943.6 716.3 1945.0 717.9 1944.2 719.6 1942.4 721.2 1942.7 722.8 1940.2 724.4 1943.2 726.0 1941.0 727.6 1939.6 729.2 1943.6 730.9 1943.3 732.5 1943.2 734.1 1943.3 735.7 1940.5 737.3 1942.2 738.9 1944.8 740.6 1942.6 742.2 1941.9 743.8 1943.4 745.4 1945.2 747.0 1940.9 748.6 1939.9 750.3 1943.1 751.9 1946.9 753.5 1941.6 755.1 1938.8 756.7 1941.8 758.3 1941.3 760.0 1943.1 761.6 1940.1 763.2 1941.5 764.8 1947.1 766.4 1938.3 768.0 1942.6 769.7 1941.8 771.3 1942.5 772.9 1942.5 774.5 1942.0 776.1 1943.1 777.7 1939.1 779.4 1941.8 781.0 1941.8 782.6 1942.8 784.2 1942.1 785.8 1945.1 787.4 1941.9 789.1 1940.7 790.7 1941.5 792.3 1942.9 793.9 1940.1 795.5 1945.7 797.1 1938.3 798.8 1942.3 800.4 1941.6 802.0 1943.7 803.6 1941.8 805.2 1939.6 806.8 1943.0 808.5 1940.0 810.1 1941.5 811.7 1939.8 813.3 1942.0 814.9 1939.1 816.5 1940.7 818.2 1942.1 819.8 1942.1 821.4 1944.7 823.0 1938.7 824.6 1941.6 826.2 1939.5 827.9 1938.3 829.5 1942.0 831.1 1942.4 832.7 1941.6 834.3 1939.4 835.9 1939.4 837.5 1940.2 839.2 1940.5 840.8 1938.7 842.4 1938.7 844.0 1938.5 845.6 1942.2 847.2 1938.7 848.9 1941.7 850.5 1939.9 852.1 1939.8 853.7 1941.0 855.3 1939.0 856.9 1942.8 858.6 1938.8 860.2 1939.1 861.8 1938.3 863.4 1941.2 865.0 1939.6 866.6 1940.1 868.3 1939.3 869.9 1939.5 871.5 1938.3 873.1 1941.0 874.7 1942.8 876.3 1939.3 878.0 1943.3 879.6 1940.9 881.2 1938.3 882.8 1940.9 884.4 1938.6 886.0 1938.4 887.7 1938.3 889.3 1939.4 890.9 1940.5 892.5 1941.1 894.1 1942.3 895.7 1940.9 897.4 1940.6 899.0 1940.0 900.6 1942.8 902.2 1938.4 903.8 1940.0 905.4 1943.0 907.1 1938.3 908.7 1938.9 910.3 1939.5 911.9 1939.6 913.5 1940.3 915.1 1942.3 916.8 1939.7 918.4 1938.6 920.0 1939.1 921.6 1941.4 923.2 1940.2 924.8 1940.8 926.5 1941.9 928.1 1941.6 929.7 1944.7 931.3 1941.8 932.9 1939.9 934.5 1938.9 936.2 1940.0 937.8 1940.6 939.4 1939.3 941.0 1938.3 942.2 1938.3" stroke="#0000ff"/>
<path d="M651.7 2264.0 653.3 2194.8 654.9 2142.9 656.5 2111.7 658.1 2078.8 659.7 2053.5 661.4 2028.5 663.0 2009.2 664.6 2005.0 666.2 1997.2 667.8 1994.1 669.4 1986.8 671.1 1979.9 672.7 1980.8 674.3 1975.6 675.9 1970.2 677.5 1971.3 679.1 1967.2 680.8 1965.5 682.4 1964.0 684.0 1964.9 685.6 1963.0 687.2 1962.5 688.8 1960.6 690.5 1960.6 692.1 1955.5 693.7 1955.2 695.3 1953.4 696.9 1956.2 698.5 1951.0 700.2 1952.8 701.8 1949.2 703.4 1952.4 705.0 1951.1 706.6 1951.4 708.2 1948.4 709.9 1950.2 711.5 1948.6 713.1 1947.9 714.7 1950.6 716.3 1949.5 717.9 1946.6 719.6 1947.0 721.2 1945.1 722.8 1949.1 724.4 1946.1 726.0 1946.3 727.6 1945.7 729.2 1946.3 730.9 1946.7 732.5 1948.9 734.1 1948.6 735.7 1949.1 737.3 1947.4 738.9 1947.4 740.6 1947.4 742.2 1942.9 743.8 1947.8 745.4 1944.4 747.0 1945.5 748.6 1945.3 750.3 1949.5 751.9 1943.5 753.5 1945.3 755.1 1945.9 756.7 1944.7 758.3 1945.2 760.0 1943.3 761.6 1946.8 763.2 1947.4 764.8 1943.4 766.4 1944.7 768.0 1944.9 769.7 1945.2 771.3 1946.1 772.9 1943.6 774.5 1946.0 776.1 1944.5 777.7 1942.7 779.4 1943.2 781.0 1944.7 782.6 1943.4 784.2 1944.2 785.8 1943.7 787.4 1943.3 789.1 1942.8 790.7 1941.2 792.3 1946.0 793.9 1944.8 795.5 1943.9 797.1 1944.1 798.8 1943.2 800.4 1944.3 802.0 1942.8 803.6 1943.0 805.2 1946.1 806.8 1941.8 808.5 1940.9 810.1 1944.4 811.7 1942.8 813.3 1945.4 814.9 1943.7 816.5 1943.3 818.2 1946.0 819.8 1943.4 821.4 1942.3 823.0 1943.4 824.6 1945.1 826.2 1942.8 827.9 1940.8 829.5 1944.5 831.1 1945.0 832.7 1945.3 834.3 1941.2 835.9 1939.9 837.5 1944.3 839.2 1945.2 840.8 1944.3 842.4 1945.0 844.0 1941.3 845.6 1939.8 847.2 1943.1 848.9 1943.6 850.5 1943.2 852.1 1943.2 853.7 1945.6 855.3 1942.2 856.9 1941.2 858.6 1945.2 860.2 1944.0 861.8 1941.8 863.4 1944.6 865.0 1942.2 866.6 1942.3 868.3 1942.9 869.9 1946.8 871.5 1944.8 873.1 1941.7 874.7 1941.7 876.3 1945.3 878.0 1944.5 879.6 1941.2 881.2 1944.4 882.8 1945.2 884.4 1943.3 886.0 1943.0 887.7 1939.0 889.3 1944.1 890.9 1939.3 892.5 1941.7 894.1 1947.1 895.7 1944.4 897.4 1941.6 899.0 1945.2 900.6 1941.2 902.2 1940.3 903.8 1942.1 905.4 1938.9 907.1 1944.8 908.7 1944.8 910.3 1941.7 911.9 1942.9 913.5 1944.5 915.1 1945.2 916.8 1940.4 918.4 1940.0 920.0 1941.6 921.6 1944.0 923.2 1942.8 924.8 1938.9 926.5 1941.5 928.1 1942.7 929.7 1942.0 931.3 1945.1 932.9 1939.9 934.5 1940.3 936.2 1943.3 937.8 1942.5 939.4 1942.4 941.0 1941.7" stroke="#0000ff" stroke-dasharray="7 5"/>
</g>
<path d="M650.5 2317.0v-5.0M650.5 1938.3v5.0M766.7 2317.0v-5.0M766.7 1938.3v5.0M882.9 2317.0v-5.0M882.9 1938.3v5.0M999.1 2317.0v-5.0M999.1 1938.3v5.0M1115.3 2317.0v-5.0M1115.3 1938.3v5.0M650.5 2317.0h5.0M1115.3 2317.0h-5.0M650.5 2241.3h5.0M1115.3 2241.3h-5.0M650.5 2165.5h5.0M1115.3 2165.5h-5.0M650.5 2089.8h5.0M1115.3 2089.8h-5.0M650.5 2014.0h5.0M1115.3 2014.0h-5.0M650.5 1938.3h5.0M1115.3 1938.3h-5.0" stroke="#262626" stroke-width="1.1" fill="none"/>
<rect x="650.5" y="1938.3" width="464.8" height="378.7" stroke="#262626" stroke-width="1.3" fill="none"/>
<text x="650.5" y="2346.2" font-size="22.4" font-weight="bold" text-anchor="middle" fill="#262626" textLength="10.5" lengthAdjust="spacingAndGlyphs">0</text>
<text x="766.7" y="2346.2" font-size="22.4" font-weight="bold" text-anchor="middle" fill="#262626" textLength="26.3" lengthAdjust="spacingAndGlyphs">0.5</text>
<text x="882.9" y="2346.2" font-size="22.4" font-weight="bold" text-anchor="middle" fill="#262626" textLength="10.5" lengthAdjust="spacingAndGlyphs">1</text>
<text x="999.1" y="2346.2" font-size="22.4" font-weight="bold" text-anchor="middle" fill="#262626" textLength="26.3" lengthAdjust="spacingAndGlyphs">1.5</text>
<text x="1115.3" y="2346.2" font-size="22.4" font-weight="bold" text-anchor="middle" fill="#262626" textLength="10.5" lengthAdjust="spacingAndGlyphs">2</text>
<text x="645.5" y="2325.2" font-size="22.4" font-weight="bold" text-anchor="end" fill="#262626" textLength="10.5" lengthAdjust="spacingAndGlyphs">0</text>
<text x="645.5" y="2249.5" font-size="22.4" font-weight="bold" text-anchor="end" fill="#262626" textLength="21.1" lengthAdjust="spacingAndGlyphs">20</text>
<text x="645.5" y="2173.7" font-size="22.4" font-weight="bold" text-anchor="end" fill="#262626" textLength="21.1" lengthAdjust="spacingAndGlyphs">40</text>
<text x="645.5" y="2098.0" font-size="22.4" font-weight="bold" text-anchor="end" fill="#262626" textLength="21.1" lengthAdjust="spacingAndGlyphs">60</text>
<text x="645.5" y="2022.2" font-size="22.4" font-weight="bold" text-anchor="end" fill="#262626" textLength="21.1" lengthAdjust="spacingAndGlyphs">80</text>
<text x="645.5" y="1946.5" font-size="22.4" font-weight="bold" text-anchor="end" fill="#262626" textLength="31.6" lengthAdjust="spacingAndGlyphs">100</text>
<text x="882.9" y="1929.5" font-size="23.2" font-weight="bold" text-anchor="middle" fill="#000" textLength="372.3" lengthAdjust="spacingAndGlyphs">Batch size: 1000, Display frequency: 1</text>
<text x="882.9" y="2377.6" font-size="25.6" font-weight="bold" text-anchor="middle" fill="#262626" textLength="60.3" lengthAdjust="spacingAndGlyphs">Epoch</text>
<text transform="translate(606.8,2127.7) rotate(-90)" x="0" y="0" font-size="22.7" font-weight="bold" text-anchor="middle" fill="#262626" textLength="106.5" lengthAdjust="spacingAndGlyphs">Accuracy</text>
<rect x="907.4" y="2077.4" width="183.0" height="100.9" fill="#fff" stroke="#000" stroke-width="1.1"/>
<path d="M909.4 2091.6h26" stroke="#ff0000" stroke-width="2.8"/>
<text x="937.4" y="2098.8" font-size="20.2" font-weight="normal" text-anchor="start" fill="#000" textLength="136.5" lengthAdjust="spacingAndGlyphs">sL-SR1-TR (train)</text>
<path d="M909.4 2115.8h26" stroke="#ff0000" stroke-width="2.8" stroke-dasharray="7 5"/>
<text x="937.4" y="2123.0" font-size="20.2" font-weight="normal" text-anchor="start" fill="#000" textLength="130.8" lengthAdjust="spacingAndGlyphs">sL-SR1-TR (test)</text>
<path d="M909.4 2139.9h26" stroke="#0000ff" stroke-width="2.8"/>
<text x="937.4" y="2147.1" font-size="20.2" font-weight="normal" text-anchor="start" fill="#000" textLength="150.0" lengthAdjust="spacingAndGlyphs">sL-BFGS-TR (train)</text>
<path d="M909.4 2164.1h26" stroke="#0000ff" stroke-width="2.8" stroke-dasharray="7 5"/>
<text x="937.4" y="2171.3" font-size="20.2" font-weight="normal" text-anchor="start" fill="#000" textLength="144.2" lengthAdjust="spacingAndGlyphs">sL-BFGS-TR (test)</text>
<path d="M1338.2 1938.3V2317.0M1404.7 1938.3V2317.0M1471.2 1938.3V2317.0M1537.8 1938.3V2317.0M1604.3 1938.3V2317.0M1670.8 1938.3V2317.0M1271.7 2241.3H1737.3M1271.7 2165.5H1737.3M1271.7 2089.8H1737.3M1271.7 2014.0H1737.3" stroke="#e3e3e3" stroke-width="1.2" fill="none"/>
<g clip-path="url(#ch1)" fill="none" stroke-width="2.8" stroke-linejoin="round">
<path d="M1275.0 2229.9 1277.2 2235.2 1279.4 2202.1 1281.6 2206.8 1283.9 2197.7 1286.1 2183.8 1288.3 2194.8 1290.5 2171.5 1292.7 2150.3 1294.9 2125.8 1297.1 2128.8 1299.3 2099.4 1301.5 2092.1 1303.7 2089.0 1305.9 2073.8 1308.1 2057.4 1310.4 2035.8 1312.6 2025.5 1314.8 2017.1 1317.0 2004.1 1319.2 2008.0 1321.4 1998.0 1323.6 2003.2 1325.8 1988.4 1328.0 1998.9 1330.2 1984.6 1332.4 1991.5 1334.6 1987.3 1336.8 1987.3 1339.1 1997.5 1341.3 1991.3 1343.5 1983.4 1345.7 1981.4 1347.9 1989.1 1350.1 1985.4 1352.3 1976.0 1354.5 1978.9 1356.7 1981.4 1358.9 1973.1 1361.1 1966.7 1363.3 1964.7 1365.5 1984.4 1367.8 1957.8 1370.0 1962.7 1372.2 1944.8 1374.4 1946.7 1376.6 1953.3 1378.8 1966.8 1381.0 1962.7 1383.2 1958.0 1385.4 1959.9 1387.6 1960.4 1389.8 1954.8 1392.0 1958.5 1394.2 1950.4 1396.5 1962.1 1398.7 1953.3 1400.9 1955.4 1403.1 1952.6 1405.3 1965.0 1407.5 1946.0 1409.7 1950.2 1411.9 1959.1 1414.1 1956.6 1416.3 1946.1 1418.5 1947.3 1420.7 1961.6 1423.0 1959.8 1425.2 1956.1 1427.4 1956.0 1429.6 1945.1 1431.8 1956.1 1434.0 1957.1 1436.2 1959.3 1438.4 1955.6 1440.6 1952.6 1442.8 1956.8 1445.0 1941.9 1447.2 1956.2 1449.4 1954.4 1451.7 1954.5 1453.9 1962.3 1456.1 1956.9 1458.3 1960.2 1460.5 1938.3 1462.7 1950.1 1464.9 1938.3 1467.1 1956.9 1469.3 1952.6 1471.5 1959.8 1473.7 1950.1 1475.9 1942.6 1478.1 1958.0 1480.4 1952.2 1482.6 1959.5 1484.8 1962.2 1487.0 1951.4 1489.2 1949.1 1491.4 1938.9 1493.6 1953.6 1495.8 1950.7 1498.0 1951.2 1500.2 1965.6 1502.4 1946.0 1504.6 1952.7 1506.8 1956.1 1509.1 1955.0 1511.3 1947.3 1513.5 1962.4 1515.7 1952.2 1517.9 1940.8 1520.1 1946.3 1522.3 1946.8 1524.5 1959.0 1526.7 1954.1 1528.9 1954.5 1531.1 1957.3 1533.3 1940.4 1535.5 1943.2 1537.8 1952.2 1538.8 1938.3" stroke="#ff0000"/>
<path d="M1275.0 2229.9 1277.5 2220.6 1280.0 2204.1 1282.4 2193.0 1284.9 2192.0 1287.4 2191.1 1289.9 2174.2 1292.3 2173.4 1294.8 2154.3 1297.3 2149.7 1299.7 2138.7 1302.2 2113.3 1304.7 2084.6 1307.2 2059.3 1309.6 2056.2 1312.1 2045.8 1314.6 2035.2 1317.0 2026.1 1319.5 2020.1 1322.0 2005.0 1324.5 2005.5 1326.9 1999.1 1329.4 1993.7 1331.9 2004.0 1334.3 2001.7 1336.8 2003.0 1339.3 1993.3 1341.8 2000.8 1344.2 1987.0 1346.7 1985.5 1349.2 1982.9 1351.6 1982.7 1354.1 1985.5 1356.6 1979.5 1359.1 1976.8 1361.5 1971.0 1364.0 1975.4 1366.5 1968.7 1368.9 1971.4 1371.4 1966.6 1373.9 1976.9 1376.4 1969.5 1378.8 1971.3 1381.3 1972.0 1383.8 1970.2 1386.2 1970.0 1388.7 1964.0 1391.2 1967.2 1393.7 1962.5 1396.1 1966.3 1398.6 1965.1 1401.1 1966.4 1403.5 1965.3 1406.0 1961.2 1408.5 1958.3 1411.0 1967.4 1413.4 1972.3 1415.9 1967.4 1418.4 1960.3 1420.8 1964.1 1423.3 1963.4 1425.8 1960.8 1428.3 1963.3 1430.7 1962.7 1433.2 1957.9 1435.7 1962.6 1438.1 1959.2 1440.6 1951.7 1443.1 1959.2 1445.6 1965.8 1448.0 1961.9 1450.5 1962.2 1453.0 1962.9 1455.4 1959.9 1457.9 1961.7 1460.4 1961.1 1462.9 1963.5 1465.3 1961.2 1467.8 1968.2 1470.3 1954.4 1472.7 1966.5 1475.2 1958.7 1477.7 1955.6 1480.2 1959.4 1482.6 1962.7 1485.1 1959.7 1487.6 1953.9 1490.0 1961.8 1492.5 1957.0 1495.0 1962.0 1497.5 1956.7 1499.9 1957.7 1502.4 1958.8 1504.9 1956.9 1507.3 1951.6 1509.8 1962.6 1512.3 1953.9 1514.8 1957.5 1517.2 1958.8 1519.7 1960.7 1522.2 1961.3 1524.6 1958.4 1527.1 1955.4 1529.6 1965.7 1532.1 1957.4 1534.5 1961.8 1537.0 1959.7 1539.5 1957.1 1541.9 1957.2 1544.4 1950.8" stroke="#ff0000" stroke-dasharray="7 5"/>
<path d="M1275.0 2301.9 1277.2 2269.4 1279.4 2227.9 1281.5 2236.6 1283.7 2187.9 1285.8 2186.5 1288.0 2174.2 1290.2 2133.7 1292.3 2118.4 1294.5 2116.7 1296.7 2098.2 1298.8 2070.9 1301.0 2074.4 1303.2 2056.6 1305.3 2034.5 1307.5 2045.9 1309.7 2026.0 1311.8 2034.3 1314.0 2029.2 1316.1 2007.8 1318.3 2004.7 1320.5 2007.2 1322.6 1995.0 1324.8 2000.8 1327.0 2007.5 1329.1 1996.3 1331.3 2011.1 1333.5 2007.5 1335.6 2009.6 1337.8 2020.6 1340.0 1999.4 1342.1 2012.5 1344.3 1991.2 1346.4 2001.9 1348.6 1987.0 1350.8 1982.5 1352.9 1985.9 1355.1 1990.6 1357.3 1980.6 1359.4 1978.7 1361.6 1975.9 1363.8 1976.3 1365.9 1985.3 1368.1 1964.3 1370.3 1954.8 1372.4 1966.0 1374.6 1967.5 1376.8 1968.8 1378.9 1966.2 1381.1 1964.2 1383.2 1956.6 1385.4 1965.3 1387.6 1969.8 1389.7 1962.2 1391.9 1968.1 1394.1 1960.6 1396.2 1971.0 1398.4 1969.2 1400.6 1969.4 1402.7 1965.3 1404.9 1960.1 1407.1 1955.5 1409.2 1965.2 1411.4 1954.0 1413.5 1965.7 1415.7 1971.8 1417.9 1957.3 1420.0 1959.4 1422.2 1976.9 1424.4 1968.3 1426.5 1967.8 1428.7 1957.6 1430.9 1965.9 1433.0 1968.9 1435.2 1961.0 1437.4 1970.4 1439.5 1970.3 1441.7 1954.2 1443.8 1958.0 1446.0 1952.9 1448.2 1973.3 1450.3 1962.2 1452.5 1956.2 1454.7 1956.9 1456.8 1965.2 1459.0 1950.4 1461.2 1946.2 1463.3 1949.7 1465.5 1954.9 1467.7 1969.4 1469.8 1984.3 1472.0 1956.0 1474.1 1987.6 1476.3 1961.8 1478.5 1962.5 1480.6 1945.2 1482.8 1954.3 1485.0 1941.9 1487.1 1956.3 1489.3 1957.8 1491.5 1953.0 1493.6 1956.6 1495.8 1963.2 1498.0 1969.6 1500.1 1952.3 1502.3 1960.8 1504.4 1952.0 1506.6 1948.7 1508.8 1959.0 1510.9 1959.3 1513.1 1958.2 1515.3 1964.1 1517.4 1945.7 1519.6 1972.1 1521.8 1943.5 1523.9 1952.0 1526.1 1947.5 1528.3 1948.8 1530.4 1962.9 1532.6 1963.0 1534.7 1970.5 1536.9 1974.8 1539.1 1966.1 1541.2 1950.1 1543.4 1956.2 1545.6 1957.9 1547.7 1951.2 1549.9 1966.4 1552.1 1961.3 1554.2 1973.1 1556.4 1970.2 1558.6 1955.7 1560.7 1952.4 1562.9 1956.5 1565.0 1961.6 1567.2 1942.7 1569.4 1980.3 1571.5 1968.4 1573.7 1977.5 1575.9 1959.1 1578.0 1954.6 1580.2 1959.2 1582.4 1946.3 1584.5 1941.3 1586.7 1961.8 1588.9 1955.5 1591.0 1953.4 1593.2 1963.4 1595.4 1946.8 1597.5 1947.8 1599.7 1955.0 1601.8 1955.9 1604.0 1955.2 1606.2 1938.7 1608.3 1950.5 1610.5 1954.5 1612.7 1943.0 1614.8 1952.5 1617.0 1952.7 1619.2 1970.6 1621.3 1955.9 1623.5 1943.6 1625.7 1956.0 1627.8 1956.2 1630.0 1958.2 1632.1 1943.2 1634.3 1952.8 1636.5 1951.8 1638.6 1966.2 1640.8 1959.3 1643.0 1947.7 1645.1 1941.9 1647.3 1956.0 1649.5 1957.3 1651.6 1952.8 1653.8 1968.7 1656.0 1951.1 1658.1 1963.1 1660.3 1972.1 1662.4 1959.9 1664.6 1955.3 1666.8 1960.7 1668.9 1975.0 1671.1 1952.4 1673.3 1987.2 1675.4 1957.3 1677.6 1957.9 1679.8 1948.2 1681.9 1976.0 1684.1 1940.1 1685.7 1938.3" stroke="#0000ff"/>
<path d="M1275.0 2279.1 1277.3 2247.5 1279.6 2237.4 1281.9 2204.4 1284.2 2192.4 1286.5 2174.6 1288.7 2163.7 1291.0 2138.0 1293.3 2127.0 1295.6 2101.4 1297.9 2086.6 1300.2 2074.3 1302.4 2063.0 1304.7 2057.0 1307.0 2044.4 1309.3 2038.3 1311.6 2032.8 1313.9 2021.0 1316.2 2019.8 1318.4 2018.1 1320.7 2014.6 1323.0 2012.1 1325.3 2010.5 1327.6 2000.8 1329.9 2009.0 1332.2 1998.5 1334.4 1998.0 1336.7 1997.0 1339.0 1999.3 1341.3 1996.4 1343.6 2001.2 1345.9 1993.7 1348.2 1990.8 1350.4 1990.7 1352.7 1990.0 1355.0 1981.8 1357.3 1985.8 1359.6 1981.8 1361.9 1980.3 1364.2 1976.0 1366.4 1973.5 1368.7 1978.8 1371.0 1977.0 1373.3 1981.7 1375.6 1972.8 1377.9 1976.6 1380.1 1969.4 1382.4 1971.3 1384.7 1965.4 1387.0 1965.8 1389.3 1976.1 1391.6 1963.2 1393.9 1974.9 1396.1 1968.9 1398.4 1970.4 1400.7 1974.4 1403.0 1964.8 1405.3 1968.0 1407.6 1967.4 1409.9 1975.4 1412.1 1968.2 1414.4 1966.5 1416.7 1963.2 1419.0 1969.0 1421.3 1966.3 1423.6 1964.2 1425.9 1963.4 1428.1 1966.6 1430.4 1963.7 1432.7 1968.3 1435.0 1965.1 1437.3 1957.9 1439.6 1960.9 1441.9 1958.5 1444.1 1967.4 1446.4 1964.9 1448.7 1959.7 1451.0 1963.8 1453.3 1966.8 1455.6 1958.8 1457.8 1968.0 1460.1 1964.7 1462.4 1964.6 1464.7 1964.0 1467.0 1960.0 1469.3 1957.0 1471.6 1961.8 1473.8 1961.5 1476.1 1963.9 1478.4 1965.3 1480.7 1969.5 1483.0 1957.4 1485.3 1960.5 1487.6 1968.0 1489.8 1967.3 1492.1 1961.2 1494.4 1966.0 1496.7 1958.0 1499.0 1962.8 1501.3 1964.9 1503.6 1964.5 1505.8 1962.7 1508.1 1963.9 1510.4 1965.2 1512.7 1962.8 1515.0 1962.8 1517.3 1961.9 1519.5 1967.3 1521.8 1961.5 1524.1 1958.4 1526.4 1963.6 1528.7 1965.6 1531.0 1961.2 1533.3 1970.7 1535.5 1972.4 1537.8 1968.2 1540.1 1966.3 1542.4 1962.2 1544.7 1965.7 1547.0 1967.8 1549.3 1974.3 1551.5 1971.7 1553.8 1968.3 1556.1 1966.3 1558.4 1962.6 1560.7 1970.8 1563.0 1972.8 1565.3 1966.6 1567.5 1966.5 1569.8 1969.8 1572.1 1963.6 1574.4 1963.3 1576.7 1965.8 1579.0 1964.6 1581.3 1974.3 1583.5 1957.5 1585.8 1965.4 1588.1 1974.1 1590.4 1967.7 1592.7 1967.2 1595.0 1964.4 1597.2 1960.9 1599.5 1963.2 1601.8 1958.1 1604.1 1964.6 1606.4 1959.9 1608.7 1960.9 1611.0 1963.2 1613.2 1968.6 1615.5 1967.6 1617.8 1960.2 1620.1 1961.9 1622.4 1961.7 1624.7 1961.5 1627.0 1963.2 1629.2 1961.8 1631.5 1960.7 1633.8 1961.0 1636.1 1957.7 1638.4 1958.5 1640.7 1960.5 1643.0 1952.1 1645.2 1959.7 1647.5 1959.7 1649.8 1962.0 1652.1 1962.6 1654.4 1958.6 1656.7 1955.1 1659.0 1954.4 1661.2 1957.7 1663.5 1953.1 1665.8 1964.0 1668.1 1951.5 1670.4 1951.6 1672.7 1965.1 1674.9 1957.1 1677.2 1954.8 1679.5 1956.2 1681.8 1952.3 1684.1 1955.1" stroke="#0000ff" stroke-dasharray="7 5"/>
</g>
<path d="M1271.7 2317.0v-5.0M1271.7 1938.3v5.0M1338.2 2317.0v-5.0M1338.2 1938.3v5.0M1404.7 2317.0v-5.0M1404.7 1938.3v5.0M1471.2 2317.0v-5.0M1471.2 1938.3v5.0M1537.8 2317.0v-5.0M1537.8 1938.3v5.0M1604.3 2317.0v-5.0M1604.3 1938.3v5.0M1670.8 2317.0v-5.0M1670.8 1938.3v5.0M1737.3 2317.0v-5.0M1737.3 1938.3v5.0M1271.7 2317.0h5.0M1737.3 2317.0h-5.0M1271.7 2241.3h5.0M1737.3 2241.3h-5.0M1271.7 2165.5h5.0M1737.3 2165.5h-5.0M1271.7 2089.8h5.0M1737.3 2089.8h-5.0M1271.7 2014.0h5.0M1737.3 2014.0h-5.0M1271.7 1938.3h5.0M1737.3 1938.3h-5.0" stroke="#262626" stroke-width="1.1" fill="none"/>
<rect x="1271.7" y="1938.3" width="465.6" height="378.7" stroke="#262626" stroke-width="1.3" fill="none"/>
<text x="1271.7" y="2346.2" font-size="22.4" font-weight="bold" text-anchor="middle" fill="#262626" textLength="10.5" lengthAdjust="spacingAndGlyphs" clip-path="url(#kh1)">0</text>
<text x="1338.2" y="2346.2" font-size="22.4" font-weight="bold" text-anchor="middle" fill="#262626" textLength="36.8" lengthAdjust="spacingAndGlyphs" clip-path="url(#kh1)">0.02</text>
<text x="1404.7" y="2346.2" font-size="22.4" font-weight="bold" text-anchor="middle" fill="#262626" textLength="36.8" lengthAdjust="spacingAndGlyphs" clip-path="url(#kh1)">0.04</text>
<text x="1471.2" y="2346.2" font-size="22.4" font-weight="bold" text-anchor="middle" fill="#262626" textLength="36.8" lengthAdjust="spacingAndGlyphs" clip-path="url(#kh1)">0.06</text>
<text x="1537.8" y="2346.2" font-size="22.4" font-weight="bold" text-anchor="middle" fill="#262626" textLength="36.8" lengthAdjust="spacingAndGlyphs" clip-path="url(#kh1)">0.08</text>
<text x="1604.3" y="2346.2" font-size="22.4" font-weight="bold" text-anchor="middle" fill="#262626" textLength="26.3" lengthAdjust="spacingAndGlyphs" clip-path="url(#kh1)">0.1</text>
<text x="1670.8" y="2346.2" font-size="22.4" font-weight="bold" text-anchor="middle" fill="#262626" textLength="36.8" lengthAdjust="spacingAndGlyphs" clip-path="url(#kh1)">0.12</text>
<text x="1737.3" y="2346.2" font-size="22.4" font-weight="bold" text-anchor="middle" fill="#262626" textLength="36.8" lengthAdjust="spacingAndGlyphs" clip-path="url(#kh1)">0.14</text>
<text x="1266.7" y="2325.2" font-size="22.4" font-weight="bold" text-anchor="end" fill="#262626" textLength="10.5" lengthAdjust="spacingAndGlyphs">0</text>
<text x="1266.7" y="2249.5" font-size="22.4" font-weight="bold" text-anchor="end" fill="#262626" textLength="21.1" lengthAdjust="spacingAndGlyphs">20</text>
<text x="1266.7" y="2173.7" font-size="22.4" font-weight="bold" text-anchor="end" fill="#262626" textLength="21.1" lengthAdjust="spacingAndGlyphs">40</text>
<text x="1266.7" y="2098.0" font-size="22.4" font-weight="bold" text-anchor="end" fill="#262626" textLength="21.1" lengthAdjust="spacingAndGlyphs">60</text>
<text x="1266.7" y="2022.2" font-size="22.4" font-weight="bold" text-anchor="end" fill="#262626" textLength="21.1" lengthAdjust="spacingAndGlyphs">80</text>
<text x="1266.7" y="1946.5" font-size="22.4" font-weight="bold" text-anchor="end" fill="#262626" textLength="31.6" lengthAdjust="spacingAndGlyphs">100</text>
<text x="1504.5" y="1929.5" font-size="23.2" font-weight="bold" text-anchor="middle" fill="#000" textLength="360.9" lengthAdjust="spacingAndGlyphs">Batch size: 100, Display frequency: 1</text>
<text x="1504.5" y="2377.6" font-size="25.6" font-weight="bold" text-anchor="middle" fill="#262626" textLength="60.3" lengthAdjust="spacingAndGlyphs">Epoch</text>
<text transform="translate(1228.0,2127.7) rotate(-90)" x="0" y="0" font-size="22.7" font-weight="bold" text-anchor="middle" fill="#262626" textLength="106.5" lengthAdjust="spacingAndGlyphs">Accuracy</text>
<rect x="1528.2" y="2077.4" width="184.6" height="100.9" fill="#fff" stroke="#000" stroke-width="1.1"/>
<path d="M1530.2 2091.6h26" stroke="#ff0000" stroke-width="2.8"/>
<text x="1558.2" y="2098.8" font-size="20.2" font-weight="normal" text-anchor="start" fill="#000" textLength="138.0" lengthAdjust="spacingAndGlyphs">sL-SR1-TR (train)</text>
<path d="M1530.2 2115.8h26" stroke="#ff0000" stroke-width="2.8" stroke-dasharray="7 5"/>
<text x="1558.2" y="2123.0" font-size="20.2" font-weight="normal" text-anchor="start" fill="#000" textLength="132.2" lengthAdjust="spacingAndGlyphs">sL-SR1-TR (test)</text>
<path d="M1530.2 2139.9h26" stroke="#0000ff" stroke-width="2.8"/>
<text x="1558.2" y="2147.1" font-size="20.2" font-weight="normal" text-anchor="start" fill="#000" textLength="151.6" lengthAdjust="spacingAndGlyphs">sL-BFGS-TR (train)</text>
<path d="M1530.2 2164.1h26" stroke="#0000ff" stroke-width="2.8" stroke-dasharray="7 5"/>
<text x="1558.2" y="2171.3" font-size="20.2" font-weight="normal" text-anchor="start" fill="#000" textLength="145.8" lengthAdjust="spacingAndGlyphs">sL-BFGS-TR (test)</text>
<path d="M1945.3 1938.3V2317.0M2061.7 1938.3V2317.0M2178.1 1938.3V2317.0M1828.9 2241.3H2294.5M1828.9 2165.5H2294.5M1828.9 2089.8H2294.5M1828.9 2014.0H2294.5" stroke="#e3e3e3" stroke-width="1.2" fill="none"/>
<g clip-path="url(#ch2)" fill="none" stroke-width="2.8" stroke-linejoin="round">
<path d="M1830.1 2298.1 1831.3 2240.1 1832.5 2182.0 1833.6 2139.7 1834.8 2110.7 1836.0 2116.7 1837.2 2113.4 1838.4 2071.8 1839.6 2028.8 1840.8 2018.9 1842.0 2001.7 1843.2 1991.8 1844.4 1986.2 1845.6 1974.2 1846.8 1966.3 1848.0 1966.1 1849.2 1964.9 1850.3 1968.6 1851.5 1961.9 1852.7 1965.3 1853.9 1966.7 1855.1 1961.0 1856.3 1955.4 1857.5 1959.8 1858.7 1958.0 1859.9 1955.7 1861.1 1957.6 1862.3 1953.0 1863.5 1956.8 1864.7 1954.7 1865.9 1957.1 1867.1 1952.1 1868.2 1951.8 1869.4 1950.7 1870.6 1951.3 1871.8 1954.0 1873.0 1949.3 1874.2 1949.8 1875.4 1947.3 1876.6 1950.5 1877.8 1948.9 1879.0 1946.8 1880.2 1946.6 1881.4 1953.0 1882.6 1947.9 1883.8 1952.4 1885.0 1950.9 1886.1 1948.6 1887.3 1948.3 1888.5 1946.6 1889.7 1947.1 1890.9 1948.2 1892.1 1952.0 1893.3 1949.1 1894.5 1951.6 1895.7 1950.5 1896.9 1947.7 1898.1 1947.3 1899.3 1945.8 1900.5 1944.3 1901.7 1948.4 1902.9 1944.9 1904.0 1950.0 1905.2 1947.3 1906.4 1949.8 1907.6 1945.8 1908.8 1945.7 1910.0 1944.0 1911.2 1949.1 1912.4 1946.9 1913.6 1944.9 1914.8 1946.3 1916.0 1948.4 1917.2 1949.0 1918.4 1945.0 1919.6 1943.4 1920.8 1945.6 1921.9 1943.3 1923.1 1946.8 1924.3 1943.1 1925.5 1945.9 1926.7 1945.6 1927.9 1946.4 1929.1 1945.6 1930.3 1942.8 1931.5 1943.7 1932.7 1939.7 1933.9 1945.0 1935.1 1945.0 1936.3 1946.3 1937.5 1942.5 1938.6 1943.8 1939.8 1943.3 1941.0 1945.7 1942.2 1944.9 1943.4 1942.9 1944.6 1944.5 1945.8 1944.9 1947.0 1942.6 1948.2 1946.2 1949.4 1945.2 1950.6 1947.7 1951.8 1945.7 1953.0 1942.6 1954.2 1944.6 1955.4 1943.2 1956.5 1943.6 1957.7 1942.5 1958.9 1940.8 1960.1 1946.6 1961.3 1941.5 1962.5 1944.0 1963.7 1942.5 1964.9 1946.8 1966.1 1948.5 1967.3 1939.9 1968.5 1943.8 1969.7 1944.1 1970.9 1946.2 1972.1 1947.1 1973.3 1941.5 1974.4 1943.7 1975.6 1941.3 1976.8 1943.2 1978.0 1945.4 1979.2 1942.0 1980.4 1947.4 1981.6 1942.8 1982.8 1941.0 1984.0 1942.3 1985.2 1946.2 1986.4 1942.5 1987.6 1943.5 1988.8 1941.6 1990.0 1943.3 1991.2 1944.9 1992.3 1944.9 1993.5 1945.3 1994.7 1942.2 1995.9 1945.2 1997.1 1945.3 1998.3 1944.9 1999.5 1941.5 2000.7 1943.3 2001.9 1942.9 2003.1 1940.1 2004.3 1945.6 2005.5 1940.3 2006.7 1942.3 2007.9 1942.8 2009.1 1944.5 2010.2 1943.9 2011.4 1940.3 2012.6 1941.2 2013.8 1942.1 2015.0 1943.2 2016.2 1943.8 2017.4 1943.0 2018.6 1944.5 2019.8 1941.7 2021.0 1940.9 2022.2 1944.0 2023.4 1943.0 2024.6 1943.7 2025.8 1942.9 2026.9 1940.3 2028.1 1940.9 2029.3 1941.9 2030.5 1941.3 2031.7 1944.1 2032.9 1940.0 2034.1 1941.0 2035.3 1940.5 2036.5 1941.8 2037.7 1943.9 2038.9 1939.2 2040.1 1943.2 2041.3 1942.6 2042.5 1942.5 2043.7 1943.8 2044.8 1942.5 2046.0 1942.6 2047.2 1939.2 2048.4 1941.4 2049.6 1943.6 2050.8 1942.1 2052.0 1942.9 2053.2 1942.1 2054.4 1941.4 2055.6 1942.0 2056.8 1941.6 2058.0 1942.1 2059.2 1942.7 2060.4 1941.0 2061.6 1943.0 2062.7 1944.4 2063.9 1942.4 2065.1 1939.8 2066.3 1941.9 2067.5 1940.7 2068.5 1938.3" stroke="#ff0000"/>
<path d="M1830.1 2298.1 1831.3 2238.7 1832.5 2182.3 1833.6 2142.8 1834.8 2111.4 1836.0 2115.1 1837.2 2112.2 1838.4 2068.9 1839.6 2031.4 1840.8 2017.3 1842.0 2005.7 1843.2 1992.0 1844.4 1983.1 1845.6 1974.8 1846.8 1970.1 1848.0 1968.0 1849.2 1965.7 1850.3 1965.9 1851.5 1962.5 1852.7 1961.0 1853.9 1958.1 1855.1 1960.2 1856.3 1955.6 1857.5 1959.6 1858.7 1957.1 1859.9 1958.2 1861.1 1953.9 1862.3 1956.0 1863.5 1956.0 1864.7 1954.0 1865.9 1957.1 1867.1 1954.6 1868.2 1954.8 1869.4 1950.8 1870.6 1951.7 1871.8 1950.0 1873.0 1949.7 1874.2 1947.6 1875.4 1950.2 1876.6 1950.9 1877.8 1948.0 1879.0 1951.1 1880.2 1949.4 1881.4 1949.3 1882.6 1947.9 1883.8 1952.5 1885.0 1947.6 1886.1 1948.3 1887.3 1949.9 1888.5 1950.0 1889.7 1946.6 1890.9 1949.3 1892.1 1951.0 1893.3 1947.4 1894.5 1950.0 1895.7 1947.4 1896.9 1947.3 1898.1 1944.7 1899.3 1948.3 1900.5 1947.8 1901.7 1949.1 1902.9 1945.3 1904.0 1945.4 1905.2 1948.1 1906.4 1947.2 1907.6 1945.9 1908.8 1945.5 1910.0 1947.3 1911.2 1941.8 1912.4 1945.9 1913.6 1944.8 1914.8 1943.8 1916.0 1948.9 1917.2 1946.7 1918.4 1944.7 1919.6 1946.2 1920.8 1945.5 1921.9 1946.1 1923.1 1947.9 1924.3 1946.8 1925.5 1945.2 1926.7 1943.3 1927.9 1947.1 1929.1 1943.5 1930.3 1944.3 1931.5 1944.9 1932.7 1945.1 1933.9 1946.8 1935.1 1943.5 1936.3 1943.0 1937.5 1942.0 1938.6 1945.9 1939.8 1943.5 1941.0 1942.8 1942.2 1942.1 1943.4 1942.5 1944.6 1948.1 1945.8 1944.0 1947.0 1947.1 1948.2 1942.5 1949.4 1940.0 1950.6 1943.5 1951.8 1942.4 1953.0 1940.9 1954.2 1945.7 1955.4 1945.6 1956.5 1944.7 1957.7 1942.1 1958.9 1944.5 1960.1 1940.8 1961.3 1942.0 1962.5 1943.6 1963.7 1945.5 1964.9 1943.0 1966.1 1942.9 1967.3 1940.4 1968.5 1941.4 1969.7 1943.7 1970.9 1942.9 1972.1 1942.4 1973.3 1944.2 1974.4 1942.4 1975.6 1945.5 1976.8 1941.6 1978.0 1944.5 1979.2 1941.7 1980.4 1942.1 1981.6 1945.0 1982.8 1942.8 1984.0 1945.2 1985.2 1940.4 1986.4 1944.6 1987.6 1944.7 1988.8 1942.7 1990.0 1943.9 1991.2 1945.5 1992.3 1944.7 1993.5 1942.2 1994.7 1945.8 1995.9 1942.9 1997.1 1945.3 1998.3 1945.4 1999.5 1943.0 2000.7 1945.2 2001.9 1944.6 2003.1 1941.9 2004.3 1946.0 2005.5 1940.3 2006.7 1941.1 2007.9 1939.3 2009.1 1941.2 2010.2 1943.0 2011.4 1942.5 2012.6 1942.2 2013.8 1943.1 2015.0 1942.8 2016.2 1940.9 2017.4 1943.3 2018.6 1944.9 2019.8 1942.2 2021.0 1944.0 2022.2 1944.1 2023.4 1940.7 2024.6 1943.2 2025.8 1943.3 2026.9 1941.9 2028.1 1944.3 2029.3 1941.2 2030.5 1943.7 2031.7 1941.8 2032.9 1943.9 2034.1 1942.5 2035.3 1942.2 2036.5 1944.0 2037.7 1943.7 2038.9 1939.9 2040.1 1942.6 2041.3 1940.9 2042.5 1943.4 2043.7 1945.2 2044.8 1939.7 2046.0 1940.8 2047.2 1941.7 2048.4 1941.6 2049.6 1942.4 2050.8 1943.8 2052.0 1943.3 2053.2 1942.6 2054.4 1943.0 2055.6 1941.4 2056.8 1943.1 2058.0 1944.1 2059.2 1944.4 2060.4 1941.2 2061.6 1939.3 2062.7 1942.0 2063.9 1943.1 2065.1 1940.8 2066.3 1944.3 2067.5 1942.7" stroke="#ff0000" stroke-dasharray="7 5"/>
<path d="M1830.1 2298.1 1831.5 2218.1 1832.9 2151.1 1834.3 2104.3 1835.7 2066.8 1837.1 2038.3 1838.5 2012.9 1840.0 2001.2 1841.4 1992.7 1842.8 1983.3 1844.2 1975.8 1845.6 1968.6 1847.0 1961.4 1848.5 1959.2 1849.9 1962.3 1851.3 1964.1 1852.7 1957.5 1854.1 1957.5 1855.5 1958.5 1856.9 1957.2 1858.4 1954.0 1859.8 1952.8 1861.2 1954.9 1862.6 1954.7 1864.0 1950.9 1865.4 1951.9 1866.8 1954.1 1868.3 1951.8 1869.7 1950.2 1871.1 1951.5 1872.5 1951.0 1873.9 1950.4 1875.3 1948.0 1876.7 1951.0 1878.2 1948.0 1879.6 1952.5 1881.0 1949.2 1882.4 1949.6 1883.8 1948.3 1885.2 1947.8 1886.6 1947.8 1888.1 1942.2 1889.5 1946.0 1890.9 1953.6 1892.3 1950.1 1893.7 1945.9 1895.1 1953.5 1896.5 1949.2 1898.0 1947.1 1899.4 1948.8 1900.8 1947.7 1902.2 1950.3 1903.6 1946.8 1905.0 1949.3 1906.4 1947.6 1907.9 1949.0 1909.3 1949.5 1910.7 1946.6 1912.1 1947.2 1913.5 1945.6 1914.9 1945.4 1916.3 1944.5 1917.8 1945.1 1919.2 1944.0 1920.6 1945.9 1922.0 1945.0 1923.4 1946.5 1924.8 1944.0 1926.2 1944.9 1927.7 1949.1 1929.1 1942.0 1930.5 1945.4 1931.9 1945.2 1933.3 1945.1 1934.7 1946.3 1936.1 1942.4 1937.6 1944.2 1939.0 1944.0 1940.4 1943.1 1941.8 1942.5 1943.2 1943.4 1944.6 1941.9 1946.0 1942.8 1947.5 1945.7 1948.9 1942.7 1950.3 1943.9 1951.7 1944.6 1953.1 1945.8 1954.5 1943.5 1955.9 1946.0 1957.4 1944.2 1958.8 1944.4 1960.2 1941.9 1961.6 1947.0 1963.0 1944.5 1964.4 1944.2 1965.8 1944.7 1967.3 1939.9 1968.7 1939.4 1970.1 1942.9 1971.5 1943.6 1972.9 1943.9 1974.3 1939.7 1975.7 1944.0 1977.2 1943.2 1978.6 1944.3 1980.0 1939.3 1981.4 1942.3 1982.8 1944.4 1984.2 1944.3 1985.6 1945.4 1987.1 1941.7 1988.5 1942.8 1989.9 1943.4 1991.3 1944.4 1992.7 1949.0 1994.1 1943.4 1995.5 1945.7 1997.0 1945.7 1998.4 1939.0 1999.8 1942.5 2001.2 1944.3 2002.6 1943.1 2004.0 1941.1 2005.4 1943.3 2006.9 1938.3 2008.3 1942.3 2009.7 1941.2 2011.1 1944.0 2012.5 1940.0 2013.9 1938.3 2015.3 1942.0 2016.8 1940.8 2018.2 1946.2 2019.6 1941.0 2021.0 1943.7 2022.4 1939.9 2023.8 1940.6 2025.2 1943.6 2026.7 1940.7 2028.1 1940.7 2029.5 1943.0 2030.9 1945.0 2032.3 1939.9 2033.7 1941.2 2035.1 1941.6 2036.6 1941.9 2038.0 1939.6 2039.4 1946.3 2040.8 1942.1 2042.2 1941.8 2043.6 1941.3 2045.0 1942.3 2046.5 1940.6 2047.9 1942.6 2049.3 1940.9 2050.7 1940.7 2052.1 1940.8 2053.5 1943.4 2054.9 1940.7 2056.4 1940.4 2057.8 1939.4 2059.2 1942.4 2060.6 1944.0 2062.0 1940.5 2063.4 1939.8 2064.8 1941.5 2066.3 1944.9 2067.7 1939.3 2069.1 1943.3 2070.5 1943.4 2071.9 1941.4 2073.3 1942.8 2074.7 1941.7 2076.2 1938.8 2077.6 1942.2 2079.0 1939.5 2080.4 1941.3 2081.8 1940.3 2083.2 1938.7 2084.6 1944.2 2086.1 1943.8 2087.5 1943.6 2088.9 1938.3 2090.3 1940.0 2091.7 1941.5 2093.1 1944.6 2094.5 1941.2 2096.0 1939.3 2097.4 1941.1 2098.8 1940.9 2100.2 1940.7 2101.6 1940.5 2103.0 1939.2 2104.4 1942.6 2105.9 1938.7 2107.3 1939.1 2108.7 1941.8 2110.1 1939.8 2111.5 1939.2 2112.9 1940.4 2114.3 1941.5 2115.8 1941.6 2117.2 1938.3 2118.6 1939.1 2120.0 1943.7 2121.4 1940.6 2122.8 1941.1 2124.2 1942.7 2125.7 1939.0 2127.1 1942.4 2128.5 1941.7 2129.9 1941.2 2131.3 1940.4 2132.7 1942.0 2134.1 1941.4 2135.6 1941.5 2137.0 1938.3 2138.4 1941.4 2139.8 1938.3 2141.2 1939.2 2142.6 1939.0 2144.0 1939.9 2145.5 1942.5 2146.9 1939.0 2148.3 1945.3 2149.7 1938.7 2151.1 1944.4 2152.5 1941.0 2153.9 1941.4 2155.4 1945.2 2156.8 1940.9 2158.2 1938.3 2159.6 1939.6 2161.0 1940.3 2162.4 1939.3 2163.8 1940.6 2165.3 1939.9 2166.7 1940.1 2168.1 1938.8 2169.5 1938.3 2170.9 1939.8 2172.3 1938.8 2173.7 1940.1 2175.2 1941.3 2176.6 1940.2 2178.0 1940.7 2179.4 1944.2 2180.8 1938.3 2182.2 1938.4 2183.6 1939.5 2185.1 1943.2 2186.5 1940.4 2187.9 1938.3 2189.3 1941.1 2190.7 1940.4 2192.1 1940.1 2193.5 1939.3 2195.0 1942.5 2196.4 1938.3 2197.8 1938.3 2199.2 1940.3 2200.6 1939.1 2202.0 1939.2 2203.4 1940.6 2204.9 1938.3 2206.3 1940.3 2207.7 1938.9 2209.1 1938.3 2210.5 1938.3 2211.9 1941.3 2213.3 1939.6 2214.8 1942.3 2216.2 1940.2 2217.6 1941.2 2219.0 1939.2 2220.4 1942.6 2221.8 1943.7 2223.2 1938.3 2224.7 1941.2" stroke="#0000ff"/>
<path d="M1830.1 2298.1 1831.5 2216.8 1832.9 2147.6 1834.3 2103.8 1835.7 2068.7 1837.1 2037.9 1838.5 2012.0 1840.0 2002.6 1841.4 1992.8 1842.8 1985.0 1844.2 1975.7 1845.6 1969.9 1847.0 1963.0 1848.5 1962.0 1849.9 1959.7 1851.3 1961.6 1852.7 1959.2 1854.1 1959.1 1855.5 1956.1 1856.9 1955.4 1858.4 1955.1 1859.8 1956.0 1861.2 1953.0 1862.6 1953.6 1864.0 1951.9 1865.4 1954.1 1866.8 1952.3 1868.3 1957.6 1869.7 1952.3 1871.1 1950.8 1872.5 1949.6 1873.9 1950.9 1875.3 1948.7 1876.7 1946.4 1878.2 1947.2 1879.6 1948.6 1881.0 1949.0 1882.4 1948.4 1883.8 1948.2 1885.2 1949.3 1886.6 1948.8 1888.1 1947.9 1889.5 1946.6 1890.9 1946.2 1892.3 1948.1 1893.7 1949.0 1895.1 1946.8 1896.5 1949.3 1898.0 1946.0 1899.4 1946.2 1900.8 1947.5 1902.2 1945.4 1903.6 1945.6 1905.0 1948.1 1906.4 1946.9 1907.9 1945.2 1909.3 1946.5 1910.7 1945.0 1912.1 1943.7 1913.5 1945.1 1914.9 1945.8 1916.3 1944.5 1917.8 1945.1 1919.2 1947.2 1920.6 1945.9 1922.0 1947.3 1923.4 1944.0 1924.8 1945.8 1926.2 1942.9 1927.7 1945.8 1929.1 1943.3 1930.5 1943.3 1931.9 1946.2 1933.3 1948.4 1934.7 1945.3 1936.1 1945.1 1937.6 1942.7 1939.0 1943.0 1940.4 1943.4 1941.8 1942.7 1943.2 1942.7 1944.6 1944.9 1946.0 1942.4 1947.5 1943.2 1948.9 1943.1 1950.3 1945.6 1951.7 1943.8 1953.1 1945.4 1954.5 1945.9 1955.9 1943.7 1957.4 1945.6 1958.8 1946.4 1960.2 1945.0 1961.6 1942.5 1963.0 1943.4 1964.4 1941.7 1965.8 1945.0 1967.3 1942.5 1968.7 1944.4 1970.1 1943.8 1971.5 1942.4 1972.9 1943.4 1974.3 1942.8 1975.7 1944.0 1977.2 1945.6 1978.6 1943.1 1980.0 1942.6 1981.4 1943.0 1982.8 1944.6 1984.2 1944.3 1985.6 1946.7 1987.1 1943.2 1988.5 1946.2 1989.9 1943.7 1991.3 1944.0 1992.7 1941.9 1994.1 1947.0 1995.5 1947.0 1997.0 1946.1 1998.4 1941.9 1999.8 1943.2 2001.2 1940.8 2002.6 1944.0 2004.0 1941.2 2005.4 1941.4 2006.9 1942.6 2008.3 1943.0 2009.7 1943.1 2011.1 1943.8 2012.5 1939.9 2013.9 1943.0 2015.3 1943.9 2016.8 1944.9 2018.2 1944.8 2019.6 1942.2 2021.0 1946.3 2022.4 1943.3 2023.8 1940.1 2025.2 1944.0 2026.7 1944.3 2028.1 1942.1 2029.5 1942.6 2030.9 1942.7 2032.3 1943.7 2033.7 1942.6 2035.1 1940.9 2036.6 1941.4 2038.0 1943.8 2039.4 1944.2 2040.8 1941.4 2042.2 1942.9 2043.6 1944.2 2045.0 1941.7 2046.5 1943.2 2047.9 1941.5 2049.3 1941.9 2050.7 1942.8 2052.1 1944.6 2053.5 1944.1 2054.9 1941.4 2056.4 1944.3 2057.8 1944.9 2059.2 1942.7 2060.6 1939.6 2062.0 1941.5 2063.4 1941.7 2064.8 1942.4 2066.3 1943.0 2067.7 1941.9 2069.1 1941.8 2070.5 1939.8 2071.9 1943.8 2073.3 1942.8 2074.7 1944.4 2076.2 1943.5 2077.6 1943.9 2079.0 1943.2 2080.4 1942.2 2081.8 1938.3 2083.2 1941.2 2084.6 1943.0 2086.1 1943.3 2087.5 1938.4 2088.9 1941.3 2090.3 1942.7 2091.7 1942.2 2093.1 1942.2 2094.5 1939.1 2096.0 1940.9 2097.4 1940.8 2098.8 1940.0 2100.2 1941.6 2101.6 1944.2 2103.0 1943.0 2104.4 1943.1 2105.9 1940.8 2107.3 1941.3 2108.7 1941.7 2110.1 1942.8 2111.5 1943.6 2112.9 1941.9 2114.3 1941.6 2115.8 1941.5 2117.2 1942.2 2118.6 1939.9 2120.0 1940.1 2121.4 1940.1 2122.8 1942.5 2124.2 1941.7 2125.7 1944.2 2127.1 1942.1 2128.5 1940.0 2129.9 1943.0 2131.3 1940.4 2132.7 1941.0 2134.1 1941.0 2135.6 1941.1 2137.0 1941.9 2138.4 1943.7 2139.8 1940.7 2141.2 1943.8 2142.6 1941.6 2144.0 1939.9 2145.5 1941.9 2146.9 1939.7 2148.3 1940.8 2149.7 1940.2 2151.1 1939.4 2152.5 1942.7 2153.9 1942.3 2155.4 1941.6 2156.8 1938.3 2158.2 1942.8 2159.6 1939.6 2161.0 1941.3 2162.4 1938.3 2163.8 1940.3 2165.3 1941.1 2166.7 1944.2 2168.1 1940.4 2169.5 1940.8 2170.9 1941.6 2172.3 1941.0 2173.7 1940.2 2175.2 1943.6 2176.6 1939.9 2178.0 1942.7 2179.4 1941.6 2180.8 1940.6 2182.2 1938.5 2183.6 1938.9 2185.1 1940.7 2186.5 1941.4 2187.9 1938.4 2189.3 1938.8 2190.7 1938.3 2192.1 1941.9 2193.5 1939.9 2195.0 1940.2 2196.4 1941.9 2197.8 1941.8 2199.2 1939.8 2200.6 1940.9 2202.0 1940.2 2203.4 1939.6 2204.9 1941.4 2206.3 1941.0 2207.7 1940.1 2209.1 1943.2 2210.5 1941.8 2211.9 1940.5 2213.3 1942.4 2214.8 1940.0 2216.2 1940.2 2217.6 1942.0 2219.0 1939.1 2220.4 1942.1 2221.8 1943.4 2223.2 1941.9 2224.7 1939.7" stroke="#0000ff" stroke-dasharray="7 5"/>
</g>
<path d="M1828.9 2317.0v-5.0M1828.9 1938.3v5.0M1945.3 2317.0v-5.0M1945.3 1938.3v5.0M2061.7 2317.0v-5.0M2061.7 1938.3v5.0M2178.1 2317.0v-5.0M2178.1 1938.3v5.0M2294.5 2317.0v-5.0M2294.5 1938.3v5.0M1828.9 2317.0h5.0M2294.5 2317.0h-5.0M1828.9 2241.3h5.0M2294.5 2241.3h-5.0M1828.9 2165.5h5.0M2294.5 2165.5h-5.0M1828.9 2089.8h5.0M2294.5 2089.8h-5.0M1828.9 2014.0h5.0M2294.5 2014.0h-5.0M1828.9 1938.3h5.0M2294.5 1938.3h-5.0" stroke="#262626" stroke-width="1.1" fill="none"/>
<rect x="1828.9" y="1938.3" width="465.6" height="378.7" stroke="#262626" stroke-width="1.3" fill="none"/>
<text x="1828.9" y="2346.2" font-size="22.4" font-weight="bold" text-anchor="middle" fill="#262626" textLength="10.5" lengthAdjust="spacingAndGlyphs">0</text>
<text x="1945.3" y="2346.2" font-size="22.4" font-weight="bold" text-anchor="middle" fill="#262626" textLength="10.5" lengthAdjust="spacingAndGlyphs">1</text>
<text x="2061.7" y="2346.2" font-size="22.4" font-weight="bold" text-anchor="middle" fill="#262626" textLength="10.5" lengthAdjust="spacingAndGlyphs">2</text>
<text x="2178.1" y="2346.2" font-size="22.4" font-weight="bold" text-anchor="middle" fill="#262626" textLength="10.5" lengthAdjust="spacingAndGlyphs">3</text>
<text x="2294.5" y="2346.2" font-size="22.4" font-weight="bold" text-anchor="middle" fill="#262626" textLength="10.5" lengthAdjust="spacingAndGlyphs">4</text>
<text x="1823.9" y="2325.2" font-size="22.4" font-weight="bold" text-anchor="end" fill="#262626" textLength="10.5" lengthAdjust="spacingAndGlyphs">0</text>
<text x="1823.9" y="2249.5" font-size="22.4" font-weight="bold" text-anchor="end" fill="#262626" textLength="21.1" lengthAdjust="spacingAndGlyphs">20</text>
<text x="1823.9" y="2173.7" font-size="22.4" font-weight="bold" text-anchor="end" fill="#262626" textLength="21.1" lengthAdjust="spacingAndGlyphs">40</text>
<text x="1823.9" y="2098.0" font-size="22.4" font-weight="bold" text-anchor="end" fill="#262626" textLength="21.1" lengthAdjust="spacingAndGlyphs">60</text>
<text x="1823.9" y="2022.2" font-size="22.4" font-weight="bold" text-anchor="end" fill="#262626" textLength="21.1" lengthAdjust="spacingAndGlyphs">80</text>
<text x="1823.9" y="1946.5" font-size="22.4" font-weight="bold" text-anchor="end" fill="#262626" textLength="31.6" lengthAdjust="spacingAndGlyphs">100</text>
<text x="2061.7" y="1929.5" font-size="23.2" font-weight="bold" text-anchor="middle" fill="#000" textLength="372.3" lengthAdjust="spacingAndGlyphs">Batch size: 1000, Display frequency: 1</text>
<text x="2061.7" y="2377.6" font-size="25.6" font-weight="bold" text-anchor="middle" fill="#262626" textLength="60.3" lengthAdjust="spacingAndGlyphs">Epoch</text>
<text transform="translate(1785.2,2127.7) rotate(-90)" x="0" y="0" font-size="22.7" font-weight="bold" text-anchor="middle" fill="#262626" textLength="106.5" lengthAdjust="spacingAndGlyphs">Accuracy</text>
<rect x="2085.9" y="2077.4" width="183.3" height="100.9" fill="#fff" stroke="#000" stroke-width="1.1"/>
<path d="M2087.9 2091.6h26" stroke="#ff0000" stroke-width="2.8"/>
<text x="2115.9" y="2098.8" font-size="20.2" font-weight="normal" text-anchor="start" fill="#000" textLength="136.8" lengthAdjust="spacingAndGlyphs">sL-SR1-TR (train)</text>
<path d="M2087.9 2115.8h26" stroke="#ff0000" stroke-width="2.8" stroke-dasharray="7 5"/>
<text x="2115.9" y="2123.0" font-size="20.2" font-weight="normal" text-anchor="start" fill="#000" textLength="131.0" lengthAdjust="spacingAndGlyphs">sL-SR1-TR (test)</text>
<path d="M2087.9 2139.9h26" stroke="#0000ff" stroke-width="2.8"/>
<text x="2115.9" y="2147.1" font-size="20.2" font-weight="normal" text-anchor="start" fill="#000" textLength="150.3" lengthAdjust="spacingAndGlyphs">sL-BFGS-TR (train)</text>
<path d="M2087.9 2164.1h26" stroke="#0000ff" stroke-width="2.8" stroke-dasharray="7 5"/>
<text x="2115.9" y="2171.3" font-size="20.2" font-weight="normal" text-anchor="start" fill="#000" textLength="144.5" lengthAdjust="spacingAndGlyphs">sL-BFGS-TR (test)</text>
<path d="M148.8 2580.7V2957.4M215.2 2580.7V2957.4M281.6 2580.7V2957.4M348.0 2580.7V2957.4M414.4 2580.7V2957.4M480.8 2580.7V2957.4M82.4 2882.1H547.2M82.4 2806.7H547.2M82.4 2731.4H547.2M82.4 2656.0H547.2" stroke="#e3e3e3" stroke-width="1.2" fill="none"/>
<g clip-path="url(#ci1)" fill="none" stroke-width="2.8" stroke-linejoin="round">
<path d="M83.8 2890.0 85.7 2764.0 87.9 2638.0 92.6 2622.3 97.3 2634.9 103.6 2647.5 109.9 2653.8 114.7 2616.0 121.0 2612.8 127.3 2631.7 132.0 2627.0 138.3 2622.3 143.0 2627.0 147.7 2628.6 154.0 2614.4 158.8 2627.0 165.1 2614.4 171.4 2595.5 176.1 2604.9 182.4 2622.3 187.1 2590.8 193.4 2608.1 199.1 2590.8 204.4 2606.5 209.2 2609.7 215.5 2590.8 221.1 2614.4 226.5 2604.9 232.8 2606.5 237.5 2595.5 243.2 2597.1 248.5 2595.5 254.8 2600.2 259.6 2606.5 265.9 2622.3 271.5 2595.5 276.9 2609.7 281.6 2604.9 287.3 2600.2 292.6 2592.3 297.4 2609.7 303.7 2623.8 308.4 2612.8 313.7 2611.2 319.4 2623.8 325.7 2601.8 332.0 2603.4 336.7 2608.1 343.0 2614.4 348.4 2595.5 354.1 2616.0 360.4 2612.8 366.7 2617.5 371.4 2622.3 376.1 2627.0 381.8 2614.4 387.1 2612.8 392.5 2609.7 398.2 2606.5 403.8 2604.9 409.2 2598.6 414.5 2592.3 420.2 2595.5 426.5 2601.8 431.2 2604.9 437.5 2601.8 443.8 2597.1 448.6 2604.9 454.9 2611.2 459.6 2604.9 464.9 2601.8 470.6 2595.5 476.3 2597.1 481.6 2601.8 487.9 2595.5 494.2 2595.5 499.0 2592.3 503.7 2584.5 510.0 2608.1 516.3 2579.7" stroke="#ff0000"/>
<path d="M83.8 2905.8 86.3 2732.5 88.8 2694.7 91.0 2669.5 94.2 2652.2 98.3 2658.5 103.6 2688.4 108.4 2663.2 111.5 2653.8 116.2 2647.5 121.0 2652.2 125.7 2645.9 130.4 2639.6 136.1 2645.9 143.0 2641.2 147.7 2636.4 152.5 2631.7 157.2 2633.3 161.9 2630.1 168.2 2630.1 174.5 2628.6 180.8 2628.6 187.1 2627.0 192.8 2628.6 199.1 2631.7 204.4 2636.4 209.8 2628.6 215.5 2625.4 221.8 2630.1 228.1 2627.0 234.4 2625.4 240.7 2623.8 247.0 2625.4 253.3 2625.4 259.6 2628.6 265.9 2627.0 272.2 2623.8 278.5 2630.1 284.8 2627.0 290.4 2622.3 295.8 2627.0 302.1 2625.4 307.4 2628.6 313.1 2625.4 319.4 2627.0 325.7 2630.1 332.0 2627.0 338.3 2623.8 344.6 2619.1 350.9 2620.7 357.2 2623.8 363.5 2627.0 369.8 2625.4 374.5 2633.3 380.8 2625.4 387.1 2622.3 393.4 2622.3 399.7 2623.8 406.0 2623.8 412.3 2625.4 418.6 2622.3 424.9 2622.3 431.2 2620.7 437.5 2619.1 443.8 2622.3 450.1 2620.7 456.4 2617.5 462.7 2619.1 469.0 2620.7 475.3 2617.5 481.6 2619.1 487.9 2620.7 494.2 2619.1 500.5 2620.7 506.8 2622.3 513.1 2617.5" stroke="#ff0000" stroke-dasharray="7 5"/>
<path d="M83.2 2937.3 84.7 2827.0 86.9 2628.6 92.6 2638.0 98.9 2625.4 105.2 2644.3 111.5 2625.4 116.2 2609.7 121.6 2606.5 127.3 2627.0 132.0 2633.3 138.3 2622.3 143.0 2606.5 149.3 2622.3 154.0 2609.7 160.3 2612.8 165.7 2620.7 171.4 2587.6 176.1 2606.5 182.4 2606.5 187.1 2595.5 193.4 2611.2 199.7 2601.8 206.0 2617.5 212.3 2611.2 220.2 2595.5 226.5 2601.8 232.8 2595.5 239.1 2603.4 247.0 2606.5 253.3 2609.7 259.6 2595.5 264.3 2625.4 270.6 2603.4 276.9 2617.5 283.2 2598.6 287.9 2606.5 294.2 2603.4 298.9 2603.4 304.3 2625.4 310.0 2598.6 315.6 2622.3 321.0 2611.2 325.7 2600.2 332.0 2591.4 336.7 2609.7 343.0 2616.0 348.4 2609.7 354.1 2623.8 360.4 2612.8 365.1 2611.2 370.4 2616.0 376.1 2628.6 381.8 2603.4 387.1 2595.5 392.5 2603.4 398.2 2606.5 403.8 2601.8 409.2 2603.4 414.5 2597.1 420.2 2589.2 426.5 2598.6 431.2 2606.5 437.5 2600.2 443.8 2595.5 448.6 2600.2 454.9 2616.0 459.6 2604.9 464.9 2595.5 470.6 2601.8 476.3 2603.4 481.6 2604.9 487.9 2612.8 494.2 2604.9 499.0 2598.6 503.7 2589.2 509.0 2614.4 514.7 2604.9 520.4 2587.6 525.7 2598.6 527.9 2579.7" stroke="#0000ff" stroke-width="2"/>
<path d="M83.8 2921.5 85.7 2748.3 87.9 2682.1 91.0 2663.2 94.2 2650.6 98.9 2647.5 103.6 2649.0 108.4 2645.9 113.1 2642.7 117.8 2641.2 122.5 2650.6 127.3 2653.8 132.0 2650.6 136.7 2658.5 141.4 2647.5 146.2 2639.6 150.9 2633.3 157.2 2634.9 161.9 2641.2 168.2 2633.3 174.5 2631.7 180.8 2628.6 187.1 2630.1 193.4 2633.3 199.7 2638.0 205.4 2645.9 212.3 2641.2 218.6 2639.6 224.9 2636.4 231.2 2633.3 237.5 2636.4 243.8 2642.7 250.1 2638.0 256.4 2638.0 262.7 2638.0 269.0 2636.4 275.3 2638.0 281.6 2631.7 287.9 2627.0 294.2 2625.4 300.5 2627.0 306.8 2630.1 313.1 2628.6 319.4 2634.9 325.7 2630.1 332.0 2631.7 338.3 2628.6 344.6 2625.4 350.9 2623.8 357.2 2625.4 363.5 2627.0 368.2 2625.4 374.5 2630.1 380.8 2628.6 387.1 2627.0 393.4 2625.4 399.7 2625.4 406.0 2627.0 412.3 2625.4 418.6 2623.8 424.9 2625.4 431.2 2622.3 437.5 2623.8 443.8 2627.0 450.1 2622.3 456.4 2622.3 462.7 2623.8 469.0 2620.7 475.3 2619.1 481.6 2620.7 487.9 2622.3 494.2 2622.3 500.5 2627.0 503.7 2631.7 510.0 2627.0 516.3 2625.4 521.0 2625.4 525.7 2620.7" stroke="#0000ff" stroke-dasharray="7 5" stroke-width="2"/>
</g>
<path d="M82.4 2957.4v-5.0M82.4 2580.7v5.0M148.8 2957.4v-5.0M148.8 2580.7v5.0M215.2 2957.4v-5.0M215.2 2580.7v5.0M281.6 2957.4v-5.0M281.6 2580.7v5.0M348.0 2957.4v-5.0M348.0 2580.7v5.0M414.4 2957.4v-5.0M414.4 2580.7v5.0M480.8 2957.4v-5.0M480.8 2580.7v5.0M547.2 2957.4v-5.0M547.2 2580.7v5.0M82.4 2957.4h5.0M547.2 2957.4h-5.0M82.4 2882.1h5.0M547.2 2882.1h-5.0M82.4 2806.7h5.0M547.2 2806.7h-5.0M82.4 2731.4h5.0M547.2 2731.4h-5.0M82.4 2656.0h5.0M547.2 2656.0h-5.0M82.4 2580.7h5.0M547.2 2580.7h-5.0" stroke="#262626" stroke-width="1.1" fill="none"/>
<rect x="82.4" y="2580.7" width="464.8" height="376.7" stroke="#262626" stroke-width="1.3" fill="none"/>
<text x="82.4" y="2986.6" font-size="22.4" font-weight="bold" text-anchor="middle" fill="#262626" textLength="10.5" lengthAdjust="spacingAndGlyphs">0</text>
<text x="148.8" y="2986.6" font-size="22.4" font-weight="bold" text-anchor="middle" fill="#262626" textLength="26.3" lengthAdjust="spacingAndGlyphs">0.2</text>
<text x="215.2" y="2986.6" font-size="22.4" font-weight="bold" text-anchor="middle" fill="#262626" textLength="26.3" lengthAdjust="spacingAndGlyphs">0.4</text>
<text x="281.6" y="2986.6" font-size="22.4" font-weight="bold" text-anchor="middle" fill="#262626" textLength="26.3" lengthAdjust="spacingAndGlyphs">0.6</text>
<text x="348.0" y="2986.6" font-size="22.4" font-weight="bold" text-anchor="middle" fill="#262626" textLength="26.3" lengthAdjust="spacingAndGlyphs">0.8</text>
<text x="414.4" y="2986.6" font-size="22.4" font-weight="bold" text-anchor="middle" fill="#262626" textLength="10.5" lengthAdjust="spacingAndGlyphs">1</text>
<text x="480.8" y="2986.6" font-size="22.4" font-weight="bold" text-anchor="middle" fill="#262626" textLength="26.3" lengthAdjust="spacingAndGlyphs">1.2</text>
<text x="547.2" y="2986.6" font-size="22.4" font-weight="bold" text-anchor="middle" fill="#262626" textLength="26.3" lengthAdjust="spacingAndGlyphs">1.4</text>
<text x="77.4" y="2965.6" font-size="22.4" font-weight="bold" text-anchor="end" fill="#262626" textLength="10.5" lengthAdjust="spacingAndGlyphs">0</text>
<text x="77.4" y="2890.3" font-size="22.4" font-weight="bold" text-anchor="end" fill="#262626" textLength="21.1" lengthAdjust="spacingAndGlyphs">20</text>
<text x="77.4" y="2814.9" font-size="22.4" font-weight="bold" text-anchor="end" fill="#262626" textLength="21.1" lengthAdjust="spacingAndGlyphs">40</text>
<text x="77.4" y="2739.6" font-size="22.4" font-weight="bold" text-anchor="end" fill="#262626" textLength="21.1" lengthAdjust="spacingAndGlyphs">60</text>
<text x="77.4" y="2664.2" font-size="22.4" font-weight="bold" text-anchor="end" fill="#262626" textLength="21.1" lengthAdjust="spacingAndGlyphs">80</text>
<text x="77.4" y="2588.9" font-size="22.4" font-weight="bold" text-anchor="end" fill="#262626" textLength="31.6" lengthAdjust="spacingAndGlyphs">100</text>
<text x="314.8" y="2571.9" font-size="23.2" font-weight="bold" text-anchor="middle" fill="#000" textLength="372.3" lengthAdjust="spacingAndGlyphs">Batch size: 100, Display frequency: 20</text>
<text x="314.8" y="3018.0" font-size="25.6" font-weight="bold" text-anchor="middle" fill="#262626" textLength="60.3" lengthAdjust="spacingAndGlyphs">Epoch</text>
<text transform="translate(38.7,2769.1) rotate(-90)" x="0" y="0" font-size="22.7" font-weight="bold" text-anchor="middle" fill="#262626" textLength="106.5" lengthAdjust="spacingAndGlyphs">Accuracy</text>
<rect x="339.0" y="2718.2" width="183.7" height="101.8" fill="#fff" stroke="#000" stroke-width="1.1"/>
<path d="M341.0 2732.4h26" stroke="#ff0000" stroke-width="2.8"/>
<text x="369.0" y="2739.6" font-size="20.2" font-weight="normal" text-anchor="start" fill="#000" textLength="137.2" lengthAdjust="spacingAndGlyphs">sL-SR1-TR (train)</text>
<path d="M341.0 2756.9h26" stroke="#ff0000" stroke-width="2.8" stroke-dasharray="7 5"/>
<text x="369.0" y="2764.1" font-size="20.2" font-weight="normal" text-anchor="start" fill="#000" textLength="131.4" lengthAdjust="spacingAndGlyphs">sL-SR1-TR (test)</text>
<path d="M341.0 2781.3h26" stroke="#0000ff" stroke-width="2.0"/>
<text x="369.0" y="2788.5" font-size="20.2" font-weight="normal" text-anchor="start" fill="#000" textLength="150.7" lengthAdjust="spacingAndGlyphs">sL-BFGS-TR (train)</text>
<path d="M341.0 2805.8h26" stroke="#0000ff" stroke-width="2.0" stroke-dasharray="7 5"/>
<text x="369.0" y="2813.0" font-size="20.2" font-weight="normal" text-anchor="start" fill="#000" textLength="144.9" lengthAdjust="spacingAndGlyphs">sL-BFGS-TR (test)</text>
<path d="M732.6 2580.7V2957.4M825.5 2580.7V2957.4M918.5 2580.7V2957.4M1011.4 2580.7V2957.4M639.6 2882.1H1104.4M639.6 2806.7H1104.4M639.6 2731.4H1104.4M639.6 2656.0H1104.4" stroke="#e3e3e3" stroke-width="1.2" fill="none"/>
<g clip-path="url(#ci2)" fill="none" stroke-width="2.8" stroke-linejoin="round">
<path d="M640.5 2863.2 644.9 2645.7 649.4 2626.9 653.8 2621.9 658.2 2621.3 662.6 2617.6 667.0 2618.8 671.4 2612.5 675.9 2613.6 680.3 2614.4 684.7 2611.1 689.1 2609.5 693.5 2604.7 697.9 2609.4 702.3 2608.3 706.8 2604.2 711.2 2602.6 715.6 2605.4 720.0 2606.4 724.4 2600.4 728.8 2602.3 733.3 2599.6 737.7 2595.9 742.1 2599.5 746.5 2600.5 750.9 2604.2 755.3 2600.5 759.8 2598.3 764.2 2606.6 768.6 2595.3 773.0 2597.8 777.4 2596.5 781.8 2592.0 786.2 2598.2 790.7 2594.2 795.1 2593.2 799.5 2584.8 803.9 2596.2 808.3 2593.2 812.7 2598.4 817.2 2588.0 821.6 2588.0 826.0 2595.0 830.4 2593.8 834.8 2593.1 839.2 2588.4 843.6 2594.2 848.1 2591.0 852.5 2593.2 856.9 2588.2 861.3 2590.4 865.7 2591.1 870.1 2590.9 874.6 2592.0 879.0 2591.1 883.4 2589.3 887.8 2594.5 892.2 2587.9 896.6 2588.6 901.1 2592.4 905.5 2589.6 909.9 2588.2 914.3 2587.1 918.7 2586.1 923.1 2586.1 927.5 2585.5 932.0 2583.2 936.4 2583.0 940.8 2584.1 945.2 2584.5 949.6 2585.6 954.0 2585.5 958.5 2584.0 962.9 2584.4 967.3 2586.8 971.7 2584.8 976.1 2582.1 980.5 2580.9 984.9 2584.4 989.4 2592.6 993.8 2580.7 998.2 2583.0 1002.6 2583.1 1007.0 2581.2 1011.4 2581.8 1012.9 2580.7" stroke="#ff0000"/>
<path d="M640.5 2863.2 644.9 2746.0 649.4 2652.7 653.8 2641.7 658.2 2636.2 662.6 2626.1 667.0 2629.3 671.4 2625.1 675.9 2632.7 680.3 2625.6 684.7 2624.8 689.1 2624.5 693.5 2624.7 697.9 2624.5 702.3 2623.6 706.8 2623.5 711.2 2625.1 715.6 2622.7 720.0 2619.5 724.4 2618.3 728.8 2621.1 733.3 2621.8 737.7 2618.1 742.1 2619.6 746.5 2619.0 750.9 2617.3 755.3 2620.6 759.8 2617.9 764.2 2617.7 768.6 2618.1 773.0 2619.6 777.4 2613.9 781.8 2614.0 786.2 2617.1 790.7 2613.8 795.1 2617.2 799.5 2617.7 803.9 2613.3 808.3 2615.3 812.7 2612.5 817.2 2610.4 821.6 2615.1 826.0 2613.5 830.4 2614.8 834.8 2613.8 839.2 2611.7 843.6 2611.9 848.1 2611.3 852.5 2607.3 856.9 2613.1 861.3 2607.7 865.7 2610.6 870.1 2613.4 874.6 2612.2 879.0 2606.5 883.4 2609.7 887.8 2611.5 892.2 2607.4 896.6 2608.4 901.1 2609.6 905.5 2611.0 909.9 2612.6 914.3 2609.5 918.7 2609.4 923.1 2612.6 927.5 2611.7 932.0 2608.9 936.4 2611.8 940.8 2612.3 945.2 2612.1 949.6 2613.5 954.0 2613.2 958.5 2604.5 962.9 2608.3 967.3 2608.8 971.7 2610.7 976.1 2607.6 980.5 2611.9 984.9 2611.2 989.4 2610.6 993.8 2611.8 998.2 2607.3 1002.6 2608.4 1007.0 2608.9 1011.4 2607.0" stroke="#ff0000" stroke-dasharray="7 5"/>
<path d="M640.5 2938.6 645.0 2648.1 649.4 2622.9 653.9 2621.8 658.3 2617.2 662.8 2609.2 667.3 2612.3 671.7 2609.3 676.2 2611.2 680.6 2615.2 685.1 2610.0 689.5 2611.6 694.0 2614.5 698.4 2618.0 702.9 2601.8 707.4 2611.8 711.8 2605.5 716.3 2605.3 720.7 2606.7 725.2 2606.3 729.6 2603.1 734.1 2607.8 738.5 2604.9 743.0 2597.0 747.4 2598.6 751.9 2603.6 756.4 2602.1 760.8 2594.0 765.3 2603.3 769.7 2595.3 774.2 2598.8 778.6 2600.1 783.1 2604.8 787.5 2599.5 792.0 2595.2 796.4 2600.7 800.9 2597.8 805.4 2596.0 809.8 2596.8 814.3 2591.7 818.7 2599.8 823.2 2591.1 827.6 2598.0 832.1 2590.2 836.5 2595.3 841.0 2595.6 845.4 2592.9 849.9 2595.5 854.4 2593.5 858.8 2598.1 863.3 2593.5 867.7 2587.1 872.2 2590.7 876.6 2589.1 881.1 2595.4 885.5 2591.9 890.0 2593.5 894.5 2591.4 898.9 2587.0 903.4 2585.7 907.8 2588.8 912.3 2594.3 916.7 2589.1 921.2 2591.5 925.6 2585.1 930.1 2584.4 934.5 2586.9 939.0 2585.9 943.5 2587.8 947.9 2589.3 952.4 2589.0 956.8 2587.0 961.3 2585.0 965.7 2584.7 970.2 2584.2 974.6 2584.4 979.1 2585.6 983.5 2585.8 988.0 2591.6 992.5 2588.4 996.9 2582.5 1001.4 2587.2 1005.8 2584.7 1010.3 2584.6 1014.7 2585.7 1019.2 2582.2 1023.6 2580.7 1028.1 2580.7 1032.5 2585.1 1037.0 2580.7" stroke="#0000ff" stroke-width="2"/>
<path d="M640.5 2938.6 645.0 2651.7 649.4 2634.1 653.9 2634.4 658.3 2631.4 662.8 2625.8 667.3 2624.2 671.7 2629.5 676.2 2629.2 680.6 2628.0 685.1 2622.8 689.5 2625.5 694.0 2620.5 698.4 2621.9 702.9 2622.2 707.4 2619.0 711.8 2617.4 716.3 2618.0 720.7 2616.6 725.2 2615.0 729.6 2613.1 734.1 2613.5 738.5 2613.1 743.0 2614.2 747.4 2617.4 751.9 2610.3 756.4 2614.0 760.8 2616.7 765.3 2612.4 769.7 2612.8 774.2 2609.9 778.6 2612.1 783.1 2611.5 787.5 2615.7 792.0 2613.5 796.4 2610.1 800.9 2614.6 805.4 2612.4 809.8 2612.4 814.3 2612.7 818.7 2611.4 823.2 2613.7 827.6 2610.9 832.1 2611.5 836.5 2612.5 841.0 2612.7 845.4 2609.3 849.9 2607.2 854.4 2610.3 858.8 2607.5 863.3 2612.7 867.7 2610.8 872.2 2608.0 876.6 2605.9 881.1 2609.4 885.5 2609.8 890.0 2609.6 894.5 2611.5 898.9 2611.0 903.4 2607.4 907.8 2610.2 912.3 2611.0 916.7 2609.1 921.2 2608.5 925.6 2608.2 930.1 2609.9 934.5 2609.4 939.0 2606.0 943.5 2606.3 947.9 2609.8 952.4 2607.7 956.8 2607.1 961.3 2604.6 965.7 2606.8 970.2 2605.0 974.6 2607.8 979.1 2607.5 983.5 2611.8 988.0 2606.0 992.5 2605.4 996.9 2607.6 1001.4 2611.6 1005.8 2604.1 1010.3 2608.8 1014.7 2605.9 1019.2 2607.2 1023.6 2608.3 1028.1 2609.1 1032.5 2604.2 1037.0 2604.5" stroke="#0000ff" stroke-dasharray="7 5" stroke-width="2"/>
</g>
<path d="M639.6 2957.4v-5.0M639.6 2580.7v5.0M732.6 2957.4v-5.0M732.6 2580.7v5.0M825.5 2957.4v-5.0M825.5 2580.7v5.0M918.5 2957.4v-5.0M918.5 2580.7v5.0M1011.4 2957.4v-5.0M1011.4 2580.7v5.0M1104.4 2957.4v-5.0M1104.4 2580.7v5.0M639.6 2957.4h5.0M1104.4 2957.4h-5.0M639.6 2882.1h5.0M1104.4 2882.1h-5.0M639.6 2806.7h5.0M1104.4 2806.7h-5.0M639.6 2731.4h5.0M1104.4 2731.4h-5.0M639.6 2656.0h5.0M1104.4 2656.0h-5.0M639.6 2580.7h5.0M1104.4 2580.7h-5.0" stroke="#262626" stroke-width="1.1" fill="none"/>
<rect x="639.6" y="2580.7" width="464.8" height="376.7" stroke="#262626" stroke-width="1.3" fill="none"/>
<text x="639.6" y="2986.6" font-size="22.4" font-weight="bold" text-anchor="middle" fill="#262626" textLength="10.5" lengthAdjust="spacingAndGlyphs">0</text>
<text x="732.6" y="2986.6" font-size="22.4" font-weight="bold" text-anchor="middle" fill="#262626" textLength="10.5" lengthAdjust="spacingAndGlyphs">2</text>
<text x="825.5" y="2986.6" font-size="22.4" font-weight="bold" text-anchor="middle" fill="#262626" textLength="10.5" lengthAdjust="spacingAndGlyphs">4</text>
<text x="918.5" y="2986.6" font-size="22.4" font-weight="bold" text-anchor="middle" fill="#262626" textLength="10.5" lengthAdjust="spacingAndGlyphs">6</text>
<text x="1011.4" y="2986.6" font-size="22.4" font-weight="bold" text-anchor="middle" fill="#262626" textLength="10.5" lengthAdjust="spacingAndGlyphs">8</text>
<text x="1104.4" y="2986.6" font-size="22.4" font-weight="bold" text-anchor="middle" fill="#262626" textLength="21.1" lengthAdjust="spacingAndGlyphs">10</text>
<text x="634.6" y="2965.6" font-size="22.4" font-weight="bold" text-anchor="end" fill="#262626" textLength="10.5" lengthAdjust="spacingAndGlyphs">0</text>
<text x="634.6" y="2890.3" font-size="22.4" font-weight="bold" text-anchor="end" fill="#262626" textLength="21.1" lengthAdjust="spacingAndGlyphs">20</text>
<text x="634.6" y="2814.9" font-size="22.4" font-weight="bold" text-anchor="end" fill="#262626" textLength="21.1" lengthAdjust="spacingAndGlyphs">40</text>
<text x="634.6" y="2739.6" font-size="22.4" font-weight="bold" text-anchor="end" fill="#262626" textLength="21.1" lengthAdjust="spacingAndGlyphs">60</text>
<text x="634.6" y="2664.2" font-size="22.4" font-weight="bold" text-anchor="end" fill="#262626" textLength="21.1" lengthAdjust="spacingAndGlyphs">80</text>
<text x="634.6" y="2588.9" font-size="22.4" font-weight="bold" text-anchor="end" fill="#262626" textLength="31.6" lengthAdjust="spacingAndGlyphs">100</text>
<text x="872.0" y="2571.9" font-size="23.2" font-weight="bold" text-anchor="middle" fill="#000" textLength="383.7" lengthAdjust="spacingAndGlyphs">Batch size: 1000, Display frequency: 10</text>
<text x="872.0" y="3018.0" font-size="25.6" font-weight="bold" text-anchor="middle" fill="#262626" textLength="60.3" lengthAdjust="spacingAndGlyphs">Epoch</text>
<text transform="translate(595.9,2769.1) rotate(-90)" x="0" y="0" font-size="22.7" font-weight="bold" text-anchor="middle" fill="#262626" textLength="106.5" lengthAdjust="spacingAndGlyphs">Accuracy</text>
<rect x="896.5" y="2718.2" width="183.0" height="101.8" fill="#fff" stroke="#000" stroke-width="1.1"/>
<path d="M898.5 2732.4h26" stroke="#ff0000" stroke-width="2.8"/>
<text x="926.5" y="2739.6" font-size="20.2" font-weight="normal" text-anchor="start" fill="#000" textLength="136.5" lengthAdjust="spacingAndGlyphs">sL-SR1-TR (train)</text>
<path d="M898.5 2756.9h26" stroke="#ff0000" stroke-width="2.8" stroke-dasharray="7 5"/>
<text x="926.5" y="2764.1" font-size="20.2" font-weight="normal" text-anchor="start" fill="#000" textLength="130.8" lengthAdjust="spacingAndGlyphs">sL-SR1-TR (test)</text>
<path d="M898.5 2781.3h26" stroke="#0000ff" stroke-width="2.0"/>
<text x="926.5" y="2788.5" font-size="20.2" font-weight="normal" text-anchor="start" fill="#000" textLength="150.0" lengthAdjust="spacingAndGlyphs">sL-BFGS-TR (train)</text>
<path d="M898.5 2805.8h26" stroke="#0000ff" stroke-width="2.0" stroke-dasharray="7 5"/>
<text x="926.5" y="2813.0" font-size="20.2" font-weight="normal" text-anchor="start" fill="#000" textLength="144.2" lengthAdjust="spacingAndGlyphs">sL-BFGS-TR (test)</text>
<path d="M1377.8 2580.7V2957.4M1494.0 2580.7V2957.4M1610.2 2580.7V2957.4M1261.6 2882.1H1726.4M1261.6 2806.7H1726.4M1261.6 2731.4H1726.4M1261.6 2656.0H1726.4" stroke="#e3e3e3" stroke-width="1.2" fill="none"/>
<g clip-path="url(#cj1)" fill="none" stroke-width="2.8" stroke-linejoin="round">
<path d="M1262.4 2921.5 1263.7 2732.5 1265.9 2682.1 1269.0 2652.2 1272.2 2656.9 1275.3 2669.5 1278.5 2660.1 1281.6 2644.3 1284.8 2617.5 1287.9 2630.1 1292.0 2614.4 1295.2 2628.6 1299.0 2625.4 1302.1 2622.3 1306.8 2627.0 1310.0 2622.3 1314.1 2622.3 1317.9 2641.2 1322.6 2590.8 1325.7 2598.6 1328.9 2636.4 1331.1 2660.1 1333.6 2604.9 1336.8 2603.4 1339.9 2604.9 1343.1 2620.7 1347.8 2608.1 1352.5 2601.8 1357.2 2616.0 1362.0 2612.8 1366.7 2603.4 1371.4 2592.3 1376.1 2601.8 1380.9 2616.0 1384.0 2595.5 1388.7 2612.8 1392.8 2600.2 1396.6 2616.0 1401.3 2606.5 1406.1 2612.8 1409.2 2600.2 1413.9 2628.6 1418.7 2625.4 1423.4 2612.8 1428.1 2606.5 1431.3 2587.6 1434.4 2612.8 1439.1 2603.4 1443.9 2625.4 1447.0 2616.0 1450.8 2606.5 1454.9 2622.3 1458.0 2603.4 1462.1 2619.1 1465.9 2614.4 1469.7 2609.7 1473.8 2606.5 1477.9 2604.9 1481.7 2612.8 1485.4 2603.4 1488.0 2593.9 1491.7 2581.3" stroke="#ff0000"/>
<path d="M1262.4 2921.5 1264.3 2732.5 1267.5 2675.8 1272.2 2666.4 1276.9 2664.8 1281.6 2650.6 1286.4 2647.5 1291.1 2642.7 1295.8 2639.6 1300.5 2641.2 1305.3 2638.0 1310.0 2641.2 1314.7 2636.4 1319.4 2638.0 1324.2 2639.6 1328.9 2634.9 1333.6 2636.4 1338.3 2638.0 1343.1 2634.9 1347.8 2630.1 1352.5 2630.1 1358.8 2630.1 1365.1 2628.6 1371.4 2627.0 1377.7 2627.0 1384.0 2630.1 1390.3 2633.3 1396.6 2630.1 1402.9 2628.6 1409.2 2627.0 1415.5 2630.1 1421.8 2628.6 1428.1 2627.0 1434.4 2623.8 1440.7 2625.4 1447.0 2627.0 1453.3 2625.4 1459.6 2625.4 1465.9 2625.4 1472.2 2625.4 1478.5 2625.4 1484.8 2627.0 1491.1 2625.4" stroke="#ff0000" stroke-dasharray="7 5"/>
<path d="M1262.4 2953.0 1263.7 2764.0 1265.9 2679.0 1269.0 2669.5 1272.2 2672.7 1275.3 2682.1 1278.5 2663.2 1281.6 2644.3 1286.4 2636.4 1289.5 2633.3 1293.3 2636.4 1297.4 2642.7 1300.5 2645.9 1303.7 2638.0 1308.4 2633.3 1313.1 2630.1 1317.9 2633.3 1321.0 2608.1 1324.2 2603.4 1327.3 2638.0 1331.1 2631.7 1335.2 2611.2 1339.3 2638.0 1342.4 2622.3 1346.2 2627.0 1350.0 2616.0 1354.1 2606.5 1358.2 2622.3 1362.0 2627.0 1366.7 2612.8 1371.4 2622.3 1375.2 2606.5 1379.3 2612.8 1383.4 2601.8 1387.2 2622.3 1390.9 2609.7 1395.0 2606.5 1399.1 2630.1 1402.9 2604.9 1407.6 2616.0 1411.7 2616.0 1415.5 2627.0 1419.3 2609.7 1423.4 2628.6 1428.1 2609.7 1431.3 2603.4 1435.0 2622.3 1438.2 2593.9 1442.3 2636.4 1446.4 2609.7 1450.2 2619.1 1453.9 2638.0 1458.0 2619.1 1462.1 2625.4 1465.9 2622.3 1469.7 2609.7 1473.8 2608.1 1478.5 2606.5 1482.3 2604.9 1486.4 2603.4 1490.5 2616.0 1493.6 2600.2 1497.4 2589.2 1500.6 2604.9 1505.3 2600.2 1510.0 2606.5 1514.7 2600.2 1519.5 2612.8 1524.2 2604.9 1528.9 2603.4 1533.6 2598.6 1536.8 2593.9 1540.9 2611.2 1545.3 2609.7 1549.4 2603.4 1554.1 2597.1 1558.8 2630.1 1562.0 2603.4 1566.1 2597.1 1569.9 2604.9 1573.6 2609.7 1577.7 2619.1 1581.8 2603.4 1585.6 2606.5 1588.8 2600.2 1591.9 2616.0 1595.1 2600.2 1598.2 2616.0 1601.4 2603.4 1604.5 2609.7 1609.2 2603.4 1614.0 2593.9 1618.7 2590.8 1623.4 2604.9 1627.2 2601.8 1631.3 2597.1 1634.4 2604.9 1637.6 2606.5 1641.7 2587.6 1645.5 2609.7 1649.2 2614.4 1651.8 2581.3" stroke="#0000ff" stroke-width="2"/>
<path d="M1262.4 2953.0 1264.3 2732.5 1267.5 2682.1 1272.2 2669.5 1276.9 2660.1 1281.6 2663.2 1287.9 2664.8 1291.1 2652.2 1295.8 2645.9 1300.5 2649.0 1305.3 2644.3 1310.0 2644.3 1314.7 2641.2 1319.4 2636.4 1324.2 2641.2 1328.9 2641.2 1333.6 2642.7 1338.3 2644.3 1343.1 2639.6 1347.8 2638.0 1352.5 2642.7 1357.2 2639.6 1362.0 2649.0 1366.7 2638.0 1371.4 2636.4 1376.1 2639.6 1380.9 2641.2 1385.6 2638.0 1390.3 2636.4 1395.0 2636.4 1399.8 2639.6 1404.5 2636.4 1409.2 2639.6 1413.9 2638.0 1418.7 2636.4 1423.4 2634.9 1428.1 2638.0 1432.8 2636.4 1437.6 2638.0 1440.1 2650.6 1443.9 2633.3 1448.6 2631.7 1453.3 2633.3 1458.0 2630.1 1462.8 2630.1 1467.5 2628.6 1472.2 2630.1 1476.9 2628.6 1481.7 2630.1 1486.4 2631.7 1491.1 2633.3 1495.8 2639.6 1500.6 2633.3 1505.3 2630.1 1510.0 2627.0 1514.7 2625.4 1519.5 2625.4 1524.2 2627.0 1528.9 2625.4 1533.6 2627.0 1538.4 2627.0 1543.1 2625.4 1547.8 2627.0 1552.5 2627.0 1557.3 2628.6 1560.4 2636.4 1563.6 2628.6 1568.3 2625.4 1573.0 2623.8 1577.7 2625.4 1582.5 2622.3 1587.2 2623.8 1591.9 2622.3 1596.6 2625.4 1601.4 2622.3 1606.1 2622.3 1610.8 2623.8 1615.5 2623.8 1620.3 2625.4 1625.0 2627.0 1629.7 2625.4 1634.4 2623.8 1639.2 2623.8 1643.9 2622.3 1648.6 2619.1" stroke="#0000ff" stroke-dasharray="7 5" stroke-width="2"/>
</g>
<path d="M1261.6 2957.4v-5.0M1261.6 2580.7v5.0M1377.8 2957.4v-5.0M1377.8 2580.7v5.0M1494.0 2957.4v-5.0M1494.0 2580.7v5.0M1610.2 2957.4v-5.0M1610.2 2580.7v5.0M1726.4 2957.4v-5.0M1726.4 2580.7v5.0M1261.6 2957.4h5.0M1726.4 2957.4h-5.0M1261.6 2882.1h5.0M1726.4 2882.1h-5.0M1261.6 2806.7h5.0M1726.4 2806.7h-5.0M1261.6 2731.4h5.0M1726.4 2731.4h-5.0M1261.6 2656.0h5.0M1726.4 2656.0h-5.0M1261.6 2580.7h5.0M1726.4 2580.7h-5.0" stroke="#262626" stroke-width="1.1" fill="none"/>
<rect x="1261.6" y="2580.7" width="464.8" height="376.7" stroke="#262626" stroke-width="1.3" fill="none"/>
<text x="1261.6" y="2986.6" font-size="22.4" font-weight="bold" text-anchor="middle" fill="#262626" textLength="10.5" lengthAdjust="spacingAndGlyphs">0</text>
<text x="1377.8" y="2986.6" font-size="22.4" font-weight="bold" text-anchor="middle" fill="#262626" textLength="26.3" lengthAdjust="spacingAndGlyphs">0.5</text>
<text x="1494.0" y="2986.6" font-size="22.4" font-weight="bold" text-anchor="middle" fill="#262626" textLength="10.5" lengthAdjust="spacingAndGlyphs">1</text>
<text x="1610.2" y="2986.6" font-size="22.4" font-weight="bold" text-anchor="middle" fill="#262626" textLength="26.3" lengthAdjust="spacingAndGlyphs">1.5</text>
<text x="1726.4" y="2986.6" font-size="22.4" font-weight="bold" text-anchor="middle" fill="#262626" textLength="10.5" lengthAdjust="spacingAndGlyphs">2</text>
<text x="1256.6" y="2965.6" font-size="22.4" font-weight="bold" text-anchor="end" fill="#262626" textLength="10.5" lengthAdjust="spacingAndGlyphs">0</text>
<text x="1256.6" y="2890.3" font-size="22.4" font-weight="bold" text-anchor="end" fill="#262626" textLength="21.1" lengthAdjust="spacingAndGlyphs">20</text>
<text x="1256.6" y="2814.9" font-size="22.4" font-weight="bold" text-anchor="end" fill="#262626" textLength="21.1" lengthAdjust="spacingAndGlyphs">40</text>
<text x="1256.6" y="2739.6" font-size="22.4" font-weight="bold" text-anchor="end" fill="#262626" textLength="21.1" lengthAdjust="spacingAndGlyphs">60</text>
<text x="1256.6" y="2664.2" font-size="22.4" font-weight="bold" text-anchor="end" fill="#262626" textLength="21.1" lengthAdjust="spacingAndGlyphs">80</text>
<text x="1256.6" y="2588.9" font-size="22.4" font-weight="bold" text-anchor="end" fill="#262626" textLength="31.6" lengthAdjust="spacingAndGlyphs">100</text>
<text x="1494.0" y="2571.9" font-size="23.2" font-weight="bold" text-anchor="middle" fill="#000" textLength="372.3" lengthAdjust="spacingAndGlyphs">Batch size: 100, Display frequency: 20</text>
<text x="1494.0" y="3018.0" font-size="25.6" font-weight="bold" text-anchor="middle" fill="#262626" textLength="60.3" lengthAdjust="spacingAndGlyphs">Epoch</text>
<text transform="translate(1217.9,2769.1) rotate(-90)" x="0" y="0" font-size="22.7" font-weight="bold" text-anchor="middle" fill="#262626" textLength="106.5" lengthAdjust="spacingAndGlyphs">Accuracy</text>
<rect x="1518.2" y="2718.2" width="183.3" height="101.8" fill="#fff" stroke="#000" stroke-width="1.1"/>
<path d="M1520.2 2732.4h26" stroke="#ff0000" stroke-width="2.8"/>
<text x="1548.2" y="2739.6" font-size="20.2" font-weight="normal" text-anchor="start" fill="#000" textLength="136.8" lengthAdjust="spacingAndGlyphs">sL-SR1-TR (train)</text>
<path d="M1520.2 2756.9h26" stroke="#ff0000" stroke-width="2.8" stroke-dasharray="7 5"/>
<text x="1548.2" y="2764.1" font-size="20.2" font-weight="normal" text-anchor="start" fill="#000" textLength="131.0" lengthAdjust="spacingAndGlyphs">sL-SR1-TR (test)</text>
<path d="M1520.2 2781.3h26" stroke="#0000ff" stroke-width="2.0"/>
<text x="1548.2" y="2788.5" font-size="20.2" font-weight="normal" text-anchor="start" fill="#000" textLength="150.3" lengthAdjust="spacingAndGlyphs">sL-BFGS-TR (train)</text>
<path d="M1520.2 2805.8h26" stroke="#0000ff" stroke-width="2.0" stroke-dasharray="7 5"/>
<text x="1548.2" y="2813.0" font-size="20.2" font-weight="normal" text-anchor="start" fill="#000" textLength="144.5" lengthAdjust="spacingAndGlyphs">sL-BFGS-TR (test)</text>
<path d="M1911.6 2580.7V2957.4M2004.7 2580.7V2957.4M2097.8 2580.7V2957.4M2190.9 2580.7V2957.4M1818.5 2882.1H2284.0M1818.5 2806.7H2284.0M1818.5 2731.4H2284.0M1818.5 2656.0H2284.0" stroke="#e3e3e3" stroke-width="1.2" fill="none"/>
<g clip-path="url(#cj2)" fill="none" stroke-width="2.8" stroke-linejoin="round">
<path d="M1819.4 2949.9 1823.0 2700.1 1826.6 2655.5 1830.2 2652.1 1833.8 2645.7 1837.4 2643.1 1841.0 2636.1 1844.6 2627.6 1848.2 2632.8 1851.8 2623.8 1855.4 2625.4 1859.0 2623.7 1862.6 2624.4 1866.2 2621.6 1869.8 2621.9 1873.5 2620.0 1877.1 2619.9 1880.7 2620.8 1884.3 2619.4 1887.9 2616.3 1891.5 2618.1 1895.1 2615.4 1898.7 2616.6 1902.3 2620.6 1905.9 2611.7 1909.5 2614.2 1913.1 2610.7 1916.7 2612.2 1920.3 2617.0 1923.9 2611.5 1927.5 2612.9 1931.1 2618.2 1934.7 2613.8 1938.3 2614.7 1941.9 2608.8 1945.5 2609.6 1949.1 2617.8 1952.7 2612.7 1956.3 2609.6 1959.9 2612.0 1963.5 2614.4 1967.1 2607.6 1970.7 2616.7 1974.3 2605.7 1977.9 2606.1 1981.5 2608.7 1985.1 2604.6 1988.7 2614.5 1992.3 2610.4 1995.9 2607.9 1999.5 2609.7 2003.1 2608.6 2006.7 2607.8 2010.3 2609.2 2013.9 2604.9 2017.5 2602.3 2021.1 2605.3 2024.7 2608.9 2028.3 2608.4 2031.9 2607.0 2035.5 2604.9 2039.1 2604.3 2042.7 2608.3 2046.3 2599.3 2049.9 2608.7 2053.5 2603.5 2057.1 2602.0 2060.7 2602.8 2064.3 2602.7 2067.9 2605.4 2071.5 2599.5 2075.1 2601.3 2078.7 2604.4 2082.3 2600.6 2085.9 2598.6 2089.5 2602.3 2093.1 2599.2 2096.7 2602.6 2100.3 2591.6 2103.9 2601.9 2107.5 2595.8 2111.1 2593.7 2114.7 2596.1 2118.3 2596.1 2121.9 2595.2 2125.5 2599.4 2129.1 2596.7 2132.7 2596.7 2136.3 2590.5 2139.9 2596.6 2143.5 2593.2 2147.2 2596.3 2150.8 2597.1 2154.4 2591.1 2158.0 2591.3 2161.6 2593.8 2165.2 2593.8 2168.8 2593.2 2172.4 2594.5 2176.0 2596.7 2179.6 2589.9 2183.2 2594.5 2186.8 2597.5 2190.4 2596.4 2194.0 2593.2 2197.6 2586.1 2201.2 2587.1 2204.8 2591.7 2208.4 2597.2 2212.0 2593.9 2215.6 2595.8 2219.2 2593.6 2222.8 2591.2 2226.4 2590.0 2230.0 2594.0 2233.6 2594.2 2237.2 2590.7 2240.8 2596.4 2244.4 2590.7 2248.0 2591.8 2251.6 2589.9 2255.2 2595.1 2258.8 2589.5 2262.4 2589.3 2266.0 2596.5 2269.6 2593.4 2273.2 2598.9 2276.8 2591.0 2280.4 2585.7 2284.0 2591.4" stroke="#ff0000"/>
<path d="M1819.4 2949.9 1823.0 2814.4 1826.6 2685.7 1830.2 2651.4 1833.8 2648.5 1837.4 2645.2 1841.0 2641.1 1844.6 2633.3 1848.2 2630.8 1851.8 2631.8 1855.4 2631.0 1859.0 2628.8 1862.6 2633.0 1866.2 2631.9 1869.8 2632.7 1873.5 2628.9 1877.1 2628.2 1880.7 2626.3 1884.3 2629.5 1887.9 2625.3 1891.5 2625.5 1895.1 2625.3 1898.7 2624.2 1902.3 2622.2 1905.9 2626.8 1909.5 2621.8 1913.1 2622.1 1916.7 2621.2 1920.3 2618.4 1923.9 2623.4 1927.5 2620.8 1931.1 2621.1 1934.7 2620.3 1938.3 2618.8 1941.9 2618.9 1945.5 2619.9 1949.1 2618.2 1952.7 2617.9 1956.3 2618.2 1959.9 2619.5 1963.5 2616.5 1967.1 2618.2 1970.7 2618.6 1974.3 2618.7 1977.9 2618.6 1981.5 2613.8 1985.1 2615.9 1988.7 2617.2 1992.3 2617.4 1995.9 2616.3 1999.5 2616.1 2003.1 2614.8 2006.7 2618.8 2010.3 2616.6 2013.9 2616.8 2017.5 2615.1 2021.1 2617.5 2024.7 2616.3 2028.3 2618.4 2031.9 2611.2 2035.5 2615.5 2039.1 2615.3 2042.7 2610.1 2046.3 2616.1 2049.9 2618.7 2053.5 2611.2 2057.1 2611.0 2060.7 2611.6 2064.3 2612.2 2067.9 2610.6 2071.5 2615.9 2075.1 2617.9 2078.7 2614.4 2082.3 2610.7 2085.9 2612.3 2089.5 2613.4 2093.1 2612.0 2096.7 2610.6 2100.3 2612.3 2103.9 2612.2 2107.5 2611.0 2111.1 2612.6 2114.7 2614.0 2118.3 2614.4 2121.9 2613.1 2125.5 2613.0 2129.1 2610.8 2132.7 2611.3 2136.3 2612.6 2139.9 2612.5 2143.5 2610.2 2147.2 2611.6 2150.8 2610.3 2154.4 2612.9 2158.0 2610.9 2161.6 2612.0 2165.2 2613.3 2168.8 2614.8 2172.4 2611.0 2176.0 2609.4 2179.6 2609.0 2183.2 2610.6 2186.8 2610.9 2190.4 2613.1 2194.0 2610.5 2197.6 2612.2 2201.2 2611.9 2204.8 2612.7 2208.4 2611.4 2212.0 2611.3 2215.6 2613.3 2219.2 2610.1 2222.8 2610.6 2226.4 2608.5 2230.0 2608.9 2233.6 2610.6 2237.2 2608.3 2240.8 2611.8 2244.4 2614.6 2248.0 2611.0 2251.6 2611.6 2255.2 2612.9 2258.8 2613.5 2262.4 2608.1 2266.0 2612.8 2269.6 2611.7 2273.2 2611.6 2276.8 2610.1 2280.4 2609.9 2284.0 2608.5" stroke="#ff0000" stroke-dasharray="7 5"/>
<path d="M1819.4 2953.6 1823.0 2698.0 1826.6 2659.6 1830.2 2653.3 1833.8 2646.1 1837.4 2646.4 1841.0 2636.1 1844.6 2639.7 1848.2 2635.5 1851.8 2638.3 1855.4 2632.4 1859.0 2629.1 1862.6 2627.6 1866.2 2628.5 1869.8 2635.7 1873.5 2629.7 1877.1 2627.2 1880.7 2623.4 1884.3 2626.2 1887.9 2622.7 1891.5 2623.5 1895.1 2625.5 1898.7 2618.7 1902.3 2620.0 1905.9 2621.3 1909.5 2618.7 1913.1 2614.5 1916.7 2619.4 1920.3 2622.8 1923.9 2616.9 1927.5 2625.6 1931.1 2618.7 1934.7 2615.4 1938.3 2617.4 1941.9 2617.9 1945.5 2621.0 1949.1 2621.2 1952.7 2617.5 1956.3 2621.7 1959.9 2611.8 1963.5 2617.5 1967.1 2613.1 1970.7 2612.8 1974.3 2616.3 1977.9 2612.9 1981.5 2614.9 1985.1 2615.4 1988.7 2616.3 1992.3 2617.2 1995.9 2614.4 1999.5 2616.1 2003.1 2620.1 2006.7 2614.6 2010.3 2615.7 2013.9 2620.3 2017.5 2613.7 2021.1 2618.0 2024.7 2618.3 2028.3 2613.0 2031.9 2622.2 2035.5 2606.4 2039.1 2618.0 2042.7 2607.2 2046.3 2619.1 2049.9 2615.6 2053.5 2619.1 2057.1 2617.2 2060.7 2616.1 2064.3 2613.1 2067.9 2617.1 2071.5 2611.9 2075.1 2616.4 2078.7 2608.8 2082.3 2613.8 2085.9 2614.9 2089.5 2614.6 2093.1 2612.4 2096.7 2619.5 2100.3 2612.2 2103.9 2617.0 2107.5 2613.6 2111.1 2612.8 2114.7 2619.0 2118.3 2615.6 2121.9 2616.7 2125.5 2615.4 2129.1 2609.7 2132.7 2608.1 2136.3 2607.4 2139.9 2614.7 2143.5 2615.8 2147.2 2614.8 2150.8 2613.9 2154.4 2610.8 2158.0 2611.4 2161.6 2618.0 2165.2 2609.4 2168.8 2610.4 2172.4 2616.6 2176.0 2617.1 2179.6 2614.2 2183.2 2617.7 2186.8 2615.3 2190.4 2614.8 2194.0 2608.4 2197.6 2611.4 2201.2 2619.3 2204.8 2612.1 2208.4 2616.7 2212.0 2612.4 2215.6 2609.7 2219.2 2610.5 2222.8 2614.7 2226.4 2609.5 2230.0 2613.5 2233.6 2612.3 2237.2 2610.7 2240.8 2612.2 2244.4 2610.9 2248.0 2616.7 2251.6 2616.0 2255.2 2616.4 2258.8 2613.2 2262.4 2615.0 2266.0 2614.6 2269.6 2610.7 2273.2 2616.2 2276.8 2616.5 2280.4 2615.9 2284.0 2615.4" stroke="#0000ff" stroke-width="2"/>
<path d="M1819.4 2953.6 1823.0 2700.8 1826.6 2666.3 1830.2 2653.5 1833.8 2650.1 1837.4 2644.3 1841.0 2641.9 1844.6 2639.5 1848.2 2636.1 1851.8 2635.7 1855.4 2632.4 1859.0 2632.4 1862.6 2629.3 1866.2 2631.7 1869.8 2630.6 1873.5 2631.3 1877.1 2629.7 1880.7 2628.5 1884.3 2629.1 1887.9 2627.9 1891.5 2628.8 1895.1 2626.5 1898.7 2628.7 1902.3 2624.6 1905.9 2626.2 1909.5 2626.9 1913.1 2628.3 1916.7 2626.0 1920.3 2622.0 1923.9 2624.6 1927.5 2626.8 1931.1 2625.8 1934.7 2627.7 1938.3 2623.0 1941.9 2626.3 1945.5 2624.8 1949.1 2623.5 1952.7 2624.5 1956.3 2627.5 1959.9 2623.2 1963.5 2622.4 1967.1 2625.9 1970.7 2623.0 1974.3 2624.0 1977.9 2624.1 1981.5 2624.7 1985.1 2618.8 1988.7 2622.8 1992.3 2624.8 1995.9 2620.8 1999.5 2623.4 2003.1 2621.0 2006.7 2622.7 2010.3 2625.1 2013.9 2621.8 2017.5 2622.8 2021.1 2618.5 2024.7 2620.3 2028.3 2623.6 2031.9 2622.0 2035.5 2622.6 2039.1 2624.9 2042.7 2621.7 2046.3 2623.4 2049.9 2623.4 2053.5 2620.5 2057.1 2621.3 2060.7 2622.9 2064.3 2619.5 2067.9 2621.2 2071.5 2616.6 2075.1 2623.9 2078.7 2620.8 2082.3 2622.1 2085.9 2621.9 2089.5 2620.7 2093.1 2619.5 2096.7 2622.7 2100.3 2619.6 2103.9 2618.9 2107.5 2620.2 2111.1 2621.1 2114.7 2620.3 2118.3 2622.2 2121.9 2619.5 2125.5 2619.0 2129.1 2619.7 2132.7 2620.7 2136.3 2624.6 2139.9 2619.6 2143.5 2620.9 2147.2 2617.7 2150.8 2623.2 2154.4 2618.3 2158.0 2617.9 2161.6 2621.2 2165.2 2619.3 2168.8 2616.9 2172.4 2621.8 2176.0 2618.0 2179.6 2621.3 2183.2 2622.0 2186.8 2622.3 2190.4 2618.7 2194.0 2617.2 2197.6 2620.6 2201.2 2619.6 2204.8 2621.1 2208.4 2620.0 2212.0 2617.5 2215.6 2623.0 2219.2 2619.1 2222.8 2623.8 2226.4 2619.9 2230.0 2616.3 2233.6 2619.4 2237.2 2620.3 2240.8 2617.2 2244.4 2621.4 2248.0 2620.7 2251.6 2621.9 2255.2 2618.6 2258.8 2618.5 2262.4 2620.5 2266.0 2619.7 2269.6 2621.1 2273.2 2620.1 2276.8 2620.8 2280.4 2619.6 2284.0 2620.0" stroke="#0000ff" stroke-dasharray="7 5" stroke-width="2"/>
</g>
<path d="M1818.5 2957.4v-5.0M1818.5 2580.7v5.0M1911.6 2957.4v-5.0M1911.6 2580.7v5.0M2004.7 2957.4v-5.0M2004.7 2580.7v5.0M2097.8 2957.4v-5.0M2097.8 2580.7v5.0M2190.9 2957.4v-5.0M2190.9 2580.7v5.0M2284.0 2957.4v-5.0M2284.0 2580.7v5.0M1818.5 2957.4h5.0M2284.0 2957.4h-5.0M1818.5 2882.1h5.0M2284.0 2882.1h-5.0M1818.5 2806.7h5.0M2284.0 2806.7h-5.0M1818.5 2731.4h5.0M2284.0 2731.4h-5.0M1818.5 2656.0h5.0M2284.0 2656.0h-5.0M1818.5 2580.7h5.0M2284.0 2580.7h-5.0" stroke="#262626" stroke-width="1.1" fill="none"/>
<rect x="1818.5" y="2580.7" width="465.5" height="376.7" stroke="#262626" stroke-width="1.3" fill="none"/>
<text x="1818.5" y="2986.6" font-size="22.4" font-weight="bold" text-anchor="middle" fill="#262626" textLength="10.5" lengthAdjust="spacingAndGlyphs">0</text>
<text x="1911.6" y="2986.6" font-size="22.4" font-weight="bold" text-anchor="middle" fill="#262626" textLength="10.5" lengthAdjust="spacingAndGlyphs">2</text>
<text x="2004.7" y="2986.6" font-size="22.4" font-weight="bold" text-anchor="middle" fill="#262626" textLength="10.5" lengthAdjust="spacingAndGlyphs">4</text>
<text x="2097.8" y="2986.6" font-size="22.4" font-weight="bold" text-anchor="middle" fill="#262626" textLength="10.5" lengthAdjust="spacingAndGlyphs">6</text>
<text x="2190.9" y="2986.6" font-size="22.4" font-weight="bold" text-anchor="middle" fill="#262626" textLength="10.5" lengthAdjust="spacingAndGlyphs">8</text>
<text x="2284.0" y="2986.6" font-size="22.4" font-weight="bold" text-anchor="middle" fill="#262626" textLength="21.1" lengthAdjust="spacingAndGlyphs">10</text>
<text x="1813.5" y="2965.6" font-size="22.4" font-weight="bold" text-anchor="end" fill="#262626" textLength="10.5" lengthAdjust="spacingAndGlyphs">0</text>
<text x="1813.5" y="2890.3" font-size="22.4" font-weight="bold" text-anchor="end" fill="#262626" textLength="21.1" lengthAdjust="spacingAndGlyphs">20</text>
<text x="1813.5" y="2814.9" font-size="22.4" font-weight="bold" text-anchor="end" fill="#262626" textLength="21.1" lengthAdjust="spacingAndGlyphs">40</text>
<text x="1813.5" y="2739.6" font-size="22.4" font-weight="bold" text-anchor="end" fill="#262626" textLength="21.1" lengthAdjust="spacingAndGlyphs">60</text>
<text x="1813.5" y="2664.2" font-size="22.4" font-weight="bold" text-anchor="end" fill="#262626" textLength="21.1" lengthAdjust="spacingAndGlyphs">80</text>
<text x="1813.5" y="2588.9" font-size="22.4" font-weight="bold" text-anchor="end" fill="#262626" textLength="31.6" lengthAdjust="spacingAndGlyphs">100</text>
<text x="2051.2" y="2571.9" font-size="23.2" font-weight="bold" text-anchor="middle" fill="#000" textLength="383.7" lengthAdjust="spacingAndGlyphs">Batch size: 1000, Display frequency: 10</text>
<text x="2051.2" y="3018.0" font-size="25.6" font-weight="bold" text-anchor="middle" fill="#262626" textLength="60.3" lengthAdjust="spacingAndGlyphs">Epoch</text>
<text transform="translate(1774.8,2769.1) rotate(-90)" x="0" y="0" font-size="22.7" font-weight="bold" text-anchor="middle" fill="#262626" textLength="106.5" lengthAdjust="spacingAndGlyphs">Accuracy</text>
<rect x="2076.6" y="2718.2" width="183.0" height="101.8" fill="#fff" stroke="#000" stroke-width="1.1"/>
<path d="M2078.6 2732.4h26" stroke="#ff0000" stroke-width="2.8"/>
<text x="2106.6" y="2739.6" font-size="20.2" font-weight="normal" text-anchor="start" fill="#000" textLength="136.5" lengthAdjust="spacingAndGlyphs">sL-SR1-TR (train)</text>
<path d="M2078.6 2756.9h26" stroke="#ff0000" stroke-width="2.8" stroke-dasharray="7 5"/>
<text x="2106.6" y="2764.1" font-size="20.2" font-weight="normal" text-anchor="start" fill="#000" textLength="130.8" lengthAdjust="spacingAndGlyphs">sL-SR1-TR (test)</text>
<path d="M2078.6 2781.3h26" stroke="#0000ff" stroke-width="2.0"/>
<text x="2106.6" y="2788.5" font-size="20.2" font-weight="normal" text-anchor="start" fill="#000" textLength="150.0" lengthAdjust="spacingAndGlyphs">sL-BFGS-TR (train)</text>
<path d="M2078.6 2805.8h26" stroke="#0000ff" stroke-width="2.0" stroke-dasharray="7 5"/>
<text x="2106.6" y="2813.0" font-size="20.2" font-weight="normal" text-anchor="start" fill="#000" textLength="144.2" lengthAdjust="spacingAndGlyphs">sL-BFGS-TR (test)</text>
<path d="M175.4 3262.5V3641.7M268.3 3262.5V3641.7M361.3 3262.5V3641.7M454.2 3262.5V3641.7M82.4 3565.9H547.2M82.4 3490.0H547.2M82.4 3414.2H547.2M82.4 3338.3H547.2" stroke="#e3e3e3" stroke-width="1.2" fill="none"/>
<g clip-path="url(#ck1)" fill="none" stroke-width="2.8" stroke-linejoin="round">
<path d="M82.4 3565.9 84.2 3485.4 86.0 3408.1 87.8 3409.9 89.6 3421.2 91.4 3419.3 93.2 3395.9 95.0 3404.5 96.8 3384.9 98.6 3400.5 100.3 3366.3 102.1 3363.7 103.9 3395.2 105.7 3390.8 107.5 3371.7 109.3 3395.4 111.1 3402.0 112.9 3399.3 114.7 3380.7 116.5 3376.9 118.3 3391.7 120.1 3395.1 121.9 3362.5 123.7 3383.1 125.5 3401.9 127.3 3383.2 129.1 3370.3 130.9 3368.9 132.6 3356.0 134.4 3375.0 136.2 3380.5 138.0 3380.8 139.8 3358.8 141.6 3363.6 143.4 3364.8 145.2 3357.2 147.0 3369.7 148.8 3362.4 150.6 3359.5 152.4 3366.8 154.2 3347.2 156.0 3360.2 157.8 3361.0 159.6 3351.9 161.4 3362.1 163.2 3375.3 165.0 3341.3 166.7 3383.2 168.5 3360.6 170.3 3344.2 172.1 3362.4 173.9 3350.3 175.7 3358.6 177.5 3346.4 179.3 3373.8 181.1 3353.5 182.9 3332.7 184.7 3359.2 186.5 3347.8 188.3 3351.6 190.1 3331.8 191.9 3366.5 193.7 3362.2 195.5 3355.9 197.3 3351.1 199.0 3352.0 200.8 3333.6 202.6 3357.5 204.4 3364.3 206.2 3355.3 208.0 3355.3 209.8 3335.1 211.6 3341.2 213.4 3326.1 215.2 3354.2 217.0 3351.4 218.8 3338.0 220.6 3336.8 222.4 3318.7 224.2 3336.5 226.0 3321.7 227.8 3343.0 229.6 3335.5 231.4 3345.1 233.1 3340.7 234.9 3331.0 236.7 3329.2 238.5 3332.1 240.3 3323.4 242.1 3351.3 243.9 3322.8 245.7 3311.4 247.5 3346.8 249.3 3317.9 251.1 3319.7 252.9 3311.9 254.7 3334.9 256.5 3325.4 258.3 3329.6 260.1 3316.6 261.9 3338.0 263.7 3327.6 265.4 3324.7 267.2 3324.7 269.0 3306.2 270.8 3328.3 272.6 3339.9 274.4 3305.1 276.2 3315.4 278.0 3322.0 279.8 3326.8 281.6 3318.9 283.4 3319.2 285.2 3335.3 287.0 3313.9 288.8 3305.4 290.6 3309.2 292.4 3330.5 294.2 3324.1 296.0 3313.9 297.8 3308.4 299.5 3316.6 301.3 3312.4 303.1 3327.9 304.9 3314.6 306.7 3315.1 308.5 3285.3 310.3 3323.6 312.1 3300.5 313.9 3310.2 315.7 3295.1 317.5 3311.6 319.3 3329.5 321.1 3314.1 322.9 3308.5 324.7 3330.3 326.5 3327.8 328.3 3323.0 330.1 3310.9 331.8 3335.2 333.6 3318.7 335.4 3318.3 337.2 3342.8 339.0 3313.9 340.8 3318.2 342.6 3313.2 344.4 3321.2 346.2 3333.0 348.0 3329.4 349.8 3314.5 351.6 3290.6 353.4 3307.1 355.2 3315.4 357.0 3313.7 358.8 3287.8 360.6 3313.4 362.4 3305.5 364.2 3286.7 365.9 3330.4 367.7 3312.0 369.5 3292.9 371.3 3303.4 373.1 3324.4 374.9 3317.2 376.7 3314.7 378.5 3302.1 380.3 3307.2 382.1 3320.4 383.9 3307.4 385.7 3324.6 387.5 3308.9 389.3 3303.5 391.1 3307.8 392.9 3296.4 394.7 3298.2 396.5 3282.0 398.2 3314.1 400.0 3295.2 401.8 3289.8 403.6 3301.4 405.4 3310.1 407.2 3285.3 409.0 3302.6 410.8 3316.5 412.6 3300.9 414.4 3329.2 416.2 3304.4 418.0 3295.5 419.8 3300.1 421.6 3290.2 423.4 3294.7 425.2 3304.3 427.0 3314.2 428.8 3316.5 430.6 3314.9 432.3 3302.5 434.1 3278.0 435.9 3290.1 437.7 3293.1 439.5 3297.9 441.3 3294.9 443.1 3282.2 444.9 3300.1 446.7 3291.1 448.5 3290.9 450.3 3280.8 452.1 3314.0 453.9 3300.5 455.7 3290.3 457.5 3281.8 459.3 3308.8 461.1 3295.0 462.9 3289.1 464.6 3304.8 466.4 3298.2 468.2 3290.1 470.0 3311.2 471.8 3288.7 473.6 3310.7 475.4 3289.8 477.2 3278.4 479.0 3294.0 480.8 3288.4 482.6 3304.9 484.4 3302.1 486.2 3301.7 488.0 3308.6 489.8 3301.9 491.6 3287.7 493.4 3294.1 495.2 3287.3 497.0 3305.0 498.7 3302.9 500.5 3296.3 502.3 3303.4 504.1 3291.7 505.9 3292.2 507.7 3284.9 509.5 3296.1 511.3 3287.0 513.1 3302.6 514.9 3288.7 516.7 3279.3 518.5 3287.3 520.3 3275.7 522.1 3296.8 523.9 3283.6 525.7 3298.2 527.5 3295.2 529.3 3291.6 531.0 3297.4 532.8 3306.1 534.6 3273.3 536.4 3297.5 538.2 3312.9 540.0 3276.6 541.8 3290.5 543.6 3280.5 545.4 3286.0 547.2 3278.8" stroke="#ff0000" stroke-width="2"/>
<path d="M82.4 3565.9 84.4 3525.6 86.5 3511.4 88.5 3497.2 90.5 3484.8 92.5 3474.3 94.6 3462.7 96.6 3464.6 98.6 3458.5 100.7 3460.6 102.7 3458.3 104.7 3455.3 106.8 3447.4 108.8 3445.1 110.8 3437.5 112.8 3438.8 114.9 3437.3 116.9 3433.8 118.9 3433.1 121.0 3432.7 123.0 3434.3 125.0 3425.3 127.1 3428.9 129.1 3420.4 131.1 3426.8 133.1 3425.7 135.2 3425.3 137.2 3423.5 139.2 3426.4 141.3 3427.8 143.3 3413.0 145.3 3423.5 147.4 3428.0 149.4 3424.2 151.4 3420.2 153.4 3423.1 155.5 3415.2 157.5 3414.9 159.5 3414.7 161.6 3404.5 163.6 3406.1 165.6 3415.9 167.6 3413.1 169.7 3409.1 171.7 3415.3 173.7 3400.3 175.8 3405.9 177.8 3397.7 179.8 3409.8 181.9 3408.9 183.9 3405.4 185.9 3401.6 187.9 3404.5 190.0 3396.6 192.0 3399.9 194.0 3402.7 196.1 3405.1 198.1 3405.6 200.1 3394.2 202.2 3385.7 204.2 3406.2 206.2 3390.1 208.2 3407.3 210.3 3403.6 212.3 3404.6 214.3 3396.8 216.4 3406.7 218.4 3395.9 220.4 3396.0 222.4 3396.1 224.5 3402.8 226.5 3405.0 228.5 3387.8 230.6 3391.5 232.6 3392.6 234.6 3392.7 236.7 3396.3 238.7 3391.7 240.7 3391.6 242.7 3393.5 244.8 3394.6 246.8 3387.6 248.8 3390.7 250.9 3391.8 252.9 3397.3 254.9 3394.3 257.0 3385.3 259.0 3389.1 261.0 3386.9 263.0 3389.1 265.1 3389.9 267.1 3382.7 269.1 3388.1 271.2 3392.4 273.2 3384.3 275.2 3379.0 277.3 3386.4 279.3 3388.1 281.3 3386.4 283.3 3384.4 285.4 3377.7 287.4 3387.0 289.4 3387.6 291.5 3387.3 293.5 3380.1 295.5 3382.1 297.5 3382.5 299.6 3377.0 301.6 3382.4 303.6 3387.9 305.7 3384.5 307.7 3385.4 309.7 3385.5 311.8 3377.4 313.8 3387.3 315.8 3382.1 317.8 3374.4 319.9 3385.6 321.9 3386.1 323.9 3379.1 326.0 3384.9 328.0 3380.6 330.0 3382.7 332.1 3378.2 334.1 3383.7 336.1 3372.4 338.1 3383.0 340.2 3384.5 342.2 3386.4 344.2 3381.3 346.3 3368.9 348.3 3382.0 350.3 3382.0 352.3 3382.9 354.4 3379.6 356.4 3377.0 358.4 3371.9 360.5 3375.1 362.5 3376.4 364.5 3378.9 366.6 3376.5 368.6 3375.4 370.6 3375.1 372.6 3379.7 374.7 3377.6 376.7 3379.2 378.7 3373.0 380.8 3377.4 382.8 3379.3 384.8 3383.5 386.9 3379.2 388.9 3372.9 390.9 3374.7 392.9 3379.8 395.0 3377.5 397.0 3377.9 399.0 3372.5 401.1 3373.8 403.1 3374.3 405.1 3378.3 407.2 3372.6 409.2 3370.2 411.2 3375.2 413.2 3369.3 415.3 3377.7 417.3 3373.8 419.3 3378.9 421.4 3376.0 423.4 3374.4 425.4 3384.5 427.4 3378.8 429.5 3371.2 431.5 3377.3 433.5 3371.6 435.6 3368.4 437.6 3374.5 439.6 3380.1 441.7 3375.5 443.7 3374.0 445.7 3376.4 447.7 3381.0 449.8 3370.0 451.8 3368.4 453.8 3377.3 455.9 3363.7 457.9 3372.2 459.9 3380.9 462.0 3375.3 464.0 3367.9 466.0 3367.0 468.0 3369.4 470.1 3373.5 472.1 3372.1 474.1 3370.1 476.2 3370.9 478.2 3371.1 480.2 3375.1 482.2 3369.8 484.3 3366.3 486.3 3361.4 488.3 3366.7 490.4 3370.5 492.4 3371.1 494.4 3370.7 496.5 3366.0 498.5 3367.3 500.5 3366.2 502.5 3365.0 504.6 3369.0 506.6 3365.8 508.6 3370.8 510.7 3369.6 512.7 3370.1 514.7 3367.1 516.8 3364.4 518.8 3357.9 520.8 3370.0 522.8 3353.3 524.9 3364.5 526.9 3363.6 528.9 3362.4 531.0 3352.3 533.0 3362.3 535.0 3361.3 537.1 3365.8 539.1 3357.5 541.1 3360.8 543.1 3365.1 545.2 3362.5 547.2 3361.9" stroke="#ff0000" stroke-dasharray="7 5"/>
<path d="M82.4 3622.7 84.1 3476.4 85.8 3412.4 87.5 3412.3 89.3 3422.2 91.0 3411.6 92.7 3417.5 94.4 3396.9 96.1 3404.8 97.8 3390.5 99.5 3405.7 101.3 3390.6 103.0 3373.8 104.7 3392.4 106.4 3374.6 108.1 3380.9 109.8 3371.9 111.5 3347.0 113.2 3365.5 115.0 3373.4 116.7 3359.4 118.4 3349.8 120.1 3365.9 121.8 3348.5 123.5 3361.7 125.2 3343.4 127.0 3335.6 128.7 3343.9 130.4 3339.7 132.1 3344.5 133.8 3345.5 135.5 3355.1 137.2 3328.4 139.0 3337.2 140.7 3336.6 142.4 3334.1 144.1 3320.4 145.8 3317.1 147.5 3326.6 149.2 3322.7 150.9 3322.0 152.7 3341.3 154.4 3334.0 156.1 3337.5 157.8 3314.8 159.5 3336.8 161.2 3362.3 162.9 3302.9 164.7 3333.1 166.4 3327.0 168.1 3333.1 169.8 3302.6 171.5 3323.5 173.2 3336.9 174.9 3330.1 176.7 3330.0 178.4 3321.3 180.1 3317.4 181.8 3326.5 183.5 3332.5 185.2 3309.6 186.9 3332.9 188.6 3333.7 190.4 3308.7 192.1 3321.1 193.8 3305.9 195.5 3317.5 197.2 3330.2 198.9 3310.6 200.6 3314.1 202.4 3310.8 204.1 3330.9 205.8 3292.3 207.5 3308.6 209.2 3321.9 210.9 3305.2 212.6 3298.9 214.4 3302.8 216.1 3309.5 217.8 3297.5 219.5 3289.7 221.2 3294.4 222.9 3291.8 224.6 3281.4 226.3 3294.0 228.1 3293.0 229.8 3305.3 231.5 3280.1 233.2 3291.7 234.9 3302.1 236.6 3302.3 238.3 3282.2 240.1 3281.3 241.8 3305.8 243.5 3273.5 245.2 3283.5 246.9 3288.7 248.6 3284.0 250.3 3284.7 252.1 3262.5" stroke="#0000ff"/>
<path d="M82.4 3584.8 84.3 3549.6 86.2 3515.4 88.1 3482.1 90.0 3477.1 91.9 3457.6 93.8 3449.8 95.7 3447.1 97.6 3431.7 99.6 3443.8 101.5 3434.5 103.4 3434.0 105.3 3437.1 107.2 3427.9 109.1 3421.6 111.0 3421.3 112.9 3406.6 114.8 3415.0 116.7 3421.0 118.6 3417.3 120.5 3405.1 122.4 3404.9 124.3 3406.4 126.2 3406.5 128.1 3405.8 130.1 3404.9 132.0 3394.8 133.9 3399.2 135.8 3408.3 137.7 3388.7 139.6 3394.7 141.5 3392.6 143.4 3385.9 145.3 3387.9 147.2 3388.7 149.1 3383.4 151.0 3389.4 152.9 3387.0 154.8 3376.4 156.7 3376.4 158.6 3390.9 160.6 3390.4 162.5 3394.5 164.4 3378.9 166.3 3393.3 168.2 3388.2 170.1 3376.6 172.0 3379.2 173.9 3374.5 175.8 3380.8 177.7 3374.6 179.6 3383.2 181.5 3372.6 183.4 3384.5 185.3 3377.8 187.2 3376.3 189.1 3374.4 191.1 3373.4 193.0 3371.5 194.9 3381.4 196.8 3386.3 198.7 3380.5 200.6 3365.3 202.5 3375.0 204.4 3368.4 206.3 3366.9 208.2 3375.6 210.1 3377.4 212.0 3367.3 213.9 3373.6 215.8 3380.6 217.7 3367.9 219.6 3363.7 221.6 3375.5 223.5 3368.2 225.4 3373.4 227.3 3373.8 229.2 3367.4 231.1 3372.0 233.0 3363.8 234.9 3373.5 236.8 3370.6 238.7 3363.0 240.6 3361.4 242.5 3365.6 244.4 3369.4 246.3 3367.0 248.2 3370.4 250.1 3360.3 252.1 3362.6" stroke="#0000ff" stroke-dasharray="7 5"/>
</g>
<path d="M82.4 3641.7v-5.0M82.4 3262.5v5.0M175.4 3641.7v-5.0M175.4 3262.5v5.0M268.3 3641.7v-5.0M268.3 3262.5v5.0M361.3 3641.7v-5.0M361.3 3262.5v5.0M454.2 3641.7v-5.0M454.2 3262.5v5.0M547.2 3641.7v-5.0M547.2 3262.5v5.0M82.4 3641.7h5.0M547.2 3641.7h-5.0M82.4 3565.9h5.0M547.2 3565.9h-5.0M82.4 3490.0h5.0M547.2 3490.0h-5.0M82.4 3414.2h5.0M547.2 3414.2h-5.0M82.4 3338.3h5.0M547.2 3338.3h-5.0M82.4 3262.5h5.0M547.2 3262.5h-5.0" stroke="#262626" stroke-width="1.1" fill="none"/>
<rect x="82.4" y="3262.5" width="464.8" height="379.2" stroke="#262626" stroke-width="1.3" fill="none"/>
<text x="82.4" y="3670.9" font-size="22.4" font-weight="bold" text-anchor="middle" fill="#262626" textLength="10.5" lengthAdjust="spacingAndGlyphs">0</text>
<text x="175.4" y="3670.9" font-size="22.4" font-weight="bold" text-anchor="middle" fill="#262626" textLength="10.5" lengthAdjust="spacingAndGlyphs">2</text>
<text x="268.3" y="3670.9" font-size="22.4" font-weight="bold" text-anchor="middle" fill="#262626" textLength="10.5" lengthAdjust="spacingAndGlyphs">4</text>
<text x="361.3" y="3670.9" font-size="22.4" font-weight="bold" text-anchor="middle" fill="#262626" textLength="10.5" lengthAdjust="spacingAndGlyphs">6</text>
<text x="454.2" y="3670.9" font-size="22.4" font-weight="bold" text-anchor="middle" fill="#262626" textLength="10.5" lengthAdjust="spacingAndGlyphs">8</text>
<text x="547.2" y="3670.9" font-size="22.4" font-weight="bold" text-anchor="middle" fill="#262626" textLength="21.1" lengthAdjust="spacingAndGlyphs">10</text>
<text x="77.4" y="3649.9" font-size="22.4" font-weight="bold" text-anchor="end" fill="#262626" textLength="10.5" lengthAdjust="spacingAndGlyphs">0</text>
<text x="77.4" y="3574.1" font-size="22.4" font-weight="bold" text-anchor="end" fill="#262626" textLength="21.1" lengthAdjust="spacingAndGlyphs">20</text>
<text x="77.4" y="3498.2" font-size="22.4" font-weight="bold" text-anchor="end" fill="#262626" textLength="21.1" lengthAdjust="spacingAndGlyphs">40</text>
<text x="77.4" y="3422.4" font-size="22.4" font-weight="bold" text-anchor="end" fill="#262626" textLength="21.1" lengthAdjust="spacingAndGlyphs">60</text>
<text x="77.4" y="3346.5" font-size="22.4" font-weight="bold" text-anchor="end" fill="#262626" textLength="21.1" lengthAdjust="spacingAndGlyphs">80</text>
<text x="77.4" y="3270.7" font-size="22.4" font-weight="bold" text-anchor="end" fill="#262626" textLength="31.6" lengthAdjust="spacingAndGlyphs">100</text>
<text x="314.8" y="3253.7" font-size="23.2" font-weight="bold" text-anchor="middle" fill="#000" textLength="372.3" lengthAdjust="spacingAndGlyphs">Batch size: 100, Display frequency: 50</text>
<text x="314.8" y="3702.3" font-size="25.6" font-weight="bold" text-anchor="middle" fill="#262626" textLength="60.3" lengthAdjust="spacingAndGlyphs">Epoch</text>
<text transform="translate(38.7,3452.1) rotate(-90)" x="0" y="0" font-size="22.7" font-weight="bold" text-anchor="middle" fill="#262626" textLength="106.5" lengthAdjust="spacingAndGlyphs">Accuracy</text>
<rect x="339.0" y="3401.6" width="183.7" height="101.7" fill="#fff" stroke="#000" stroke-width="1.1"/>
<path d="M341.0 3415.8h26" stroke="#ff0000" stroke-width="2.0"/>
<text x="369.0" y="3423.0" font-size="20.2" font-weight="normal" text-anchor="start" fill="#000" textLength="137.2" lengthAdjust="spacingAndGlyphs">sL-SR1-TR (train)</text>
<path d="M341.0 3440.2h26" stroke="#ff0000" stroke-width="2.8" stroke-dasharray="7 5"/>
<text x="369.0" y="3447.4" font-size="20.2" font-weight="normal" text-anchor="start" fill="#000" textLength="131.4" lengthAdjust="spacingAndGlyphs">sL-SR1-TR (test)</text>
<path d="M341.0 3464.7h26" stroke="#0000ff" stroke-width="2.8"/>
<text x="369.0" y="3471.9" font-size="20.2" font-weight="normal" text-anchor="start" fill="#000" textLength="150.7" lengthAdjust="spacingAndGlyphs">sL-BFGS-TR (train)</text>
<path d="M341.0 3489.1h26" stroke="#0000ff" stroke-width="2.8" stroke-dasharray="7 5"/>
<text x="369.0" y="3496.3" font-size="20.2" font-weight="normal" text-anchor="start" fill="#000" textLength="144.9" lengthAdjust="spacingAndGlyphs">sL-BFGS-TR (test)</text>
<path d="M732.6 3262.5V3641.7M825.5 3262.5V3641.7M918.5 3262.5V3641.7M1011.4 3262.5V3641.7M639.6 3565.9H1104.4M639.6 3490.0H1104.4M639.6 3414.2H1104.4M639.6 3338.3H1104.4" stroke="#e3e3e3" stroke-width="1.2" fill="none"/>
<g clip-path="url(#ck2)" fill="none" stroke-width="2.8" stroke-linejoin="round">
<path d="M639.6 3584.8 641.9 3459.7 646.6 3436.9 653.5 3433.1 660.5 3433.1 667.5 3399.0 674.5 3406.6 681.4 3399.0 688.4 3376.3 695.4 3387.6 704.7 3368.7 711.6 3380.1 723.3 3372.5 732.6 3383.8 737.2 3364.9 746.5 3364.9 755.8 3376.3 765.1 3372.5 772.1 3357.3 779.0 3361.1 788.3 3349.7 795.3 3345.9 802.3 3353.5 816.2 3342.1 825.5 3345.9 834.8 3327.0 841.8 3323.2 846.4 3342.1 853.4 3327.0 862.7 3323.2 872.0 3327.0 876.6 3311.8 890.6 3311.8 899.9 3319.4 909.2 3308.0 916.2 3315.6 918.5 3349.7 925.5 3315.6 932.4 3300.4 941.7 3308.0 951.0 3296.6 958.0 3304.2 962.6 3323.2 969.6 3300.4 978.9 3285.3 985.9 3296.6 992.8 3289.0 1002.1 3289.0 1006.8 3296.6 1011.4 3292.8 1013.8 3300.4 1020.7 3281.5 1030.0 3277.7 1039.3 3281.5 1048.6 3285.3 1057.9 3281.5 1067.2 3281.5 1076.5 3270.1 1085.8 3270.1 1095.1 3270.1 1104.4 3272.0" stroke="#ff0000"/>
<path d="M639.6 3584.8 644.2 3490.0 651.2 3471.1 658.2 3436.9 667.5 3433.1 676.8 3425.6 686.1 3410.4 695.4 3402.8 704.7 3395.2 714.0 3406.6 723.3 3414.2 730.2 3429.3 741.9 3418.0 751.2 3414.2 755.8 3399.0 765.1 3395.2 774.4 3387.6 783.7 3376.3 793.0 3387.6 802.3 3380.1 816.2 3376.3 825.5 3372.5 834.8 3372.5 848.8 3368.7 862.7 3364.9 872.0 3361.1 885.9 3364.9 899.9 3361.1 909.2 3353.5 913.8 3357.3 917.1 3410.4 920.8 3368.7 927.8 3357.3 941.7 3357.3 951.0 3353.5 955.7 3357.3 959.4 3399.0 965.0 3353.5 978.9 3357.3 992.8 3353.5 1002.1 3353.5 1011.4 3357.3 1025.4 3353.5 1039.3 3357.3 1048.6 3353.5 1062.6 3349.7 1067.2 3361.1 1071.9 3349.7 1085.8 3345.9 1104.4 3345.9" stroke="#ff0000" stroke-dasharray="7 5"/>
<path d="M639.6 3603.8 641.9 3452.1 646.6 3433.1 653.5 3425.6 660.5 3425.6 667.5 3391.4 674.5 3395.2 681.4 3387.6 686.1 3372.5 695.4 3376.3 704.7 3364.9 709.3 3376.3 718.6 3361.1 727.9 3364.9 732.6 3342.1 737.2 3338.3 746.5 3353.5 751.2 3342.1 760.4 3357.3 767.4 3357.3 769.7 3338.3 779.0 3334.5 788.3 3330.8 795.3 3319.4 802.3 3330.8 811.6 3323.2 820.9 3327.0 830.2 3311.8 839.5 3304.2 846.4 3311.8 853.4 3308.0 862.7 3311.8 872.0 3308.0 881.3 3296.6 888.3 3289.0 895.2 3296.6 904.5 3304.2 911.5 3292.8 918.5 3300.4 925.5 3300.4 932.4 3281.5 941.7 3289.0 951.0 3289.0 960.3 3285.3 969.6 3289.0 978.9 3273.9 988.2 3281.5 997.5 3281.5 1006.8 3281.5 1011.4 3285.3 1018.4 3273.9 1025.4 3270.1 1039.3 3277.7 1048.6 3277.7 1057.9 3281.5 1067.2 3270.1 1081.2 3270.1 1095.1 3272.0 1104.4 3272.0" stroke="#0000ff" stroke-width="2"/>
<path d="M639.6 3603.8 644.2 3497.6 651.2 3482.4 658.2 3444.5 667.5 3436.9 676.8 3421.8 686.1 3414.2 695.4 3399.0 704.7 3391.4 714.0 3383.8 723.3 3402.8 732.6 3391.4 741.9 3387.6 755.8 3391.4 765.1 3383.8 779.0 3380.1 788.3 3376.3 802.3 3372.5 816.2 3368.7 825.5 3380.1 834.8 3368.7 848.8 3368.7 862.7 3364.9 872.0 3372.5 881.3 3368.7 895.2 3364.9 909.2 3364.9 918.5 3368.7 932.4 3364.9 941.7 3364.9 955.7 3368.7 965.0 3364.9 978.9 3372.5 988.2 3364.9 1011.4 3364.9 1025.4 3364.9 1039.3 3368.7 1057.9 3364.9 1071.9 3368.7 1085.8 3368.7 1104.4 3368.7" stroke="#0000ff" stroke-dasharray="7 5" stroke-width="2"/>
</g>
<path d="M639.6 3641.7v-5.0M639.6 3262.5v5.0M732.6 3641.7v-5.0M732.6 3262.5v5.0M825.5 3641.7v-5.0M825.5 3262.5v5.0M918.5 3641.7v-5.0M918.5 3262.5v5.0M1011.4 3641.7v-5.0M1011.4 3262.5v5.0M1104.4 3641.7v-5.0M1104.4 3262.5v5.0M639.6 3641.7h5.0M1104.4 3641.7h-5.0M639.6 3565.9h5.0M1104.4 3565.9h-5.0M639.6 3490.0h5.0M1104.4 3490.0h-5.0M639.6 3414.2h5.0M1104.4 3414.2h-5.0M639.6 3338.3h5.0M1104.4 3338.3h-5.0M639.6 3262.5h5.0M1104.4 3262.5h-5.0" stroke="#262626" stroke-width="1.1" fill="none"/>
<rect x="639.6" y="3262.5" width="464.8" height="379.2" stroke="#262626" stroke-width="1.3" fill="none"/>
<text x="639.6" y="3670.9" font-size="22.4" font-weight="bold" text-anchor="middle" fill="#262626" textLength="10.5" lengthAdjust="spacingAndGlyphs">0</text>
<text x="732.6" y="3670.9" font-size="22.4" font-weight="bold" text-anchor="middle" fill="#262626" textLength="10.5" lengthAdjust="spacingAndGlyphs">2</text>
<text x="825.5" y="3670.9" font-size="22.4" font-weight="bold" text-anchor="middle" fill="#262626" textLength="10.5" lengthAdjust="spacingAndGlyphs">4</text>
<text x="918.5" y="3670.9" font-size="22.4" font-weight="bold" text-anchor="middle" fill="#262626" textLength="10.5" lengthAdjust="spacingAndGlyphs">6</text>
<text x="1011.4" y="3670.9" font-size="22.4" font-weight="bold" text-anchor="middle" fill="#262626" textLength="10.5" lengthAdjust="spacingAndGlyphs">8</text>
<text x="1104.4" y="3670.9" font-size="22.4" font-weight="bold" text-anchor="middle" fill="#262626" textLength="21.1" lengthAdjust="spacingAndGlyphs">10</text>
<text x="634.6" y="3649.9" font-size="22.4" font-weight="bold" text-anchor="end" fill="#262626" textLength="10.5" lengthAdjust="spacingAndGlyphs">0</text>
<text x="634.6" y="3574.1" font-size="22.4" font-weight="bold" text-anchor="end" fill="#262626" textLength="21.1" lengthAdjust="spacingAndGlyphs">20</text>
<text x="634.6" y="3498.2" font-size="22.4" font-weight="bold" text-anchor="end" fill="#262626" textLength="21.1" lengthAdjust="spacingAndGlyphs">40</text>
<text x="634.6" y="3422.4" font-size="22.4" font-weight="bold" text-anchor="end" fill="#262626" textLength="21.1" lengthAdjust="spacingAndGlyphs">60</text>
<text x="634.6" y="3346.5" font-size="22.4" font-weight="bold" text-anchor="end" fill="#262626" textLength="21.1" lengthAdjust="spacingAndGlyphs">80</text>
<text x="634.6" y="3270.7" font-size="22.4" font-weight="bold" text-anchor="end" fill="#262626" textLength="31.6" lengthAdjust="spacingAndGlyphs">100</text>
<text x="872.0" y="3253.7" font-size="23.2" font-weight="bold" text-anchor="middle" fill="#000" textLength="383.7" lengthAdjust="spacingAndGlyphs">Batch size: 1000, Display frequency: 10</text>
<text x="872.0" y="3702.3" font-size="25.6" font-weight="bold" text-anchor="middle" fill="#262626" textLength="60.3" lengthAdjust="spacingAndGlyphs">Epoch</text>
<text transform="translate(595.9,3452.1) rotate(-90)" x="0" y="0" font-size="22.7" font-weight="bold" text-anchor="middle" fill="#262626" textLength="106.5" lengthAdjust="spacingAndGlyphs">Accuracy</text>
<rect x="896.5" y="3527.5" width="183.0" height="102.5" fill="#fff" stroke="#000" stroke-width="1.1"/>
<path d="M898.5 3541.7h26" stroke="#ff0000" stroke-width="2.8"/>
<text x="926.5" y="3548.9" font-size="20.2" font-weight="normal" text-anchor="start" fill="#000" textLength="136.5" lengthAdjust="spacingAndGlyphs">sL-SR1-TR (train)</text>
<path d="M898.5 3566.4h26" stroke="#ff0000" stroke-width="2.8" stroke-dasharray="7 5"/>
<text x="926.5" y="3573.6" font-size="20.2" font-weight="normal" text-anchor="start" fill="#000" textLength="130.8" lengthAdjust="spacingAndGlyphs">sL-SR1-TR (test)</text>
<path d="M898.5 3591.1h26" stroke="#0000ff" stroke-width="2.0"/>
<text x="926.5" y="3598.3" font-size="20.2" font-weight="normal" text-anchor="start" fill="#000" textLength="150.0" lengthAdjust="spacingAndGlyphs">sL-BFGS-TR (train)</text>
<path d="M898.5 3615.8h26" stroke="#0000ff" stroke-width="2.0" stroke-dasharray="7 5"/>
<text x="926.5" y="3623.0" font-size="20.2" font-weight="normal" text-anchor="start" fill="#000" textLength="144.2" lengthAdjust="spacingAndGlyphs">sL-BFGS-TR (test)</text>
<path d="M1339.1 3262.5V3641.7M1416.5 3262.5V3641.7M1494.0 3262.5V3641.7M1571.5 3262.5V3641.7M1648.9 3262.5V3641.7M1261.6 3565.9H1726.4M1261.6 3490.0H1726.4M1261.6 3414.2H1726.4M1261.6 3338.3H1726.4" stroke="#e3e3e3" stroke-width="1.2" fill="none"/>
<g clip-path="url(#cl1)" fill="none" stroke-width="2.8" stroke-linejoin="round">
<path d="M1261.6 3584.8 1265.5 3490.0 1269.3 3474.9 1273.2 3444.5 1277.1 3463.5 1281.0 3471.1 1284.8 3459.7 1288.7 3421.8 1292.6 3406.6 1296.5 3410.4 1300.3 3395.2 1304.2 3414.2 1308.1 3391.4 1312.0 3387.6 1315.8 3395.2 1319.7 3399.0 1323.6 3402.8 1327.4 3399.0 1331.3 3380.1 1335.2 3342.1 1339.1 3391.4 1342.9 3376.3 1346.8 3353.5 1350.7 3361.1 1354.6 3383.8 1358.4 3376.3 1362.3 3368.7 1366.2 3376.3 1370.1 3330.8 1373.9 3383.8 1377.8 3349.7 1381.7 3349.7 1385.5 3376.3 1389.4 3364.9 1393.3 3353.5 1397.2 3357.3 1401.0 3345.9 1404.9 3353.5 1408.8 3327.0 1412.7 3345.9 1416.5 3319.4 1420.4 3323.2 1424.3 3308.0 1428.2 3319.4 1432.0 3334.5 1435.9 3330.8 1439.8 3315.6 1443.6 3315.6 1447.5 3342.1 1451.4 3315.6 1455.3 3304.2 1459.1 3323.2 1463.0 3330.8 1466.9 3315.6 1470.8 3330.8 1474.6 3319.4 1478.5 3338.3 1482.4 3345.9 1486.3 3349.7 1490.1 3327.0 1494.0 3285.3 1501.7 3300.4 1509.5 3311.8 1517.2 3300.4 1525.0 3296.6 1528.9 3300.4 1532.7 3281.5 1540.5 3308.0 1544.4 3289.0 1548.2 3292.8 1556.0 3311.8 1563.7 3285.3 1571.5 3281.5 1575.3 3289.0 1579.2 3270.1 1587.0 3289.0 1594.7 3296.6 1602.5 3281.5 1610.2 3270.1 1614.1 3292.8 1617.9 3300.4 1621.8 3281.5 1625.7 3292.8 1629.6 3285.3 1633.4 3289.0 1637.3 3262.5" stroke="#ff0000"/>
<path d="M1261.6 3584.8 1263.9 3546.9 1266.2 3527.9 1269.3 3509.0 1273.2 3497.6 1277.1 3490.0 1284.8 3471.1 1292.6 3459.7 1300.3 3452.1 1308.1 3440.7 1315.8 3433.1 1323.6 3425.6 1331.3 3421.8 1339.1 3421.8 1354.6 3414.2 1370.1 3406.6 1385.5 3402.8 1401.0 3399.0 1416.5 3395.2 1432.0 3391.4 1447.5 3391.4 1463.0 3387.6 1478.5 3383.8 1494.0 3383.8 1509.5 3387.6 1525.0 3383.8 1540.5 3383.8 1556.0 3380.1 1571.5 3380.1 1587.0 3383.8 1602.5 3376.3 1617.9 3376.3 1633.4 3376.3" stroke="#ff0000" stroke-dasharray="7 5"/>
<path d="M1261.6 3603.8 1263.9 3509.0 1265.5 3471.1 1267.8 3490.0 1270.9 3482.4 1273.2 3463.5 1277.1 3482.4 1281.0 3467.3 1284.8 3474.9 1288.7 3436.9 1291.0 3467.3 1296.5 3444.5 1300.3 3402.8 1304.2 3444.5 1308.1 3402.8 1312.0 3440.7 1315.8 3421.8 1319.7 3410.4 1323.6 3402.8 1327.4 3429.3 1331.3 3478.6 1335.2 3414.2 1339.1 3406.6 1342.9 3395.2 1346.8 3372.5 1350.7 3399.0 1354.6 3391.4 1358.4 3399.0 1362.3 3380.1 1366.2 3368.7 1370.1 3402.8 1373.9 3353.5 1377.8 3421.8 1381.7 3433.1 1385.5 3402.8 1389.4 3368.7 1393.3 3402.8 1397.2 3391.4 1401.0 3395.2 1404.9 3376.3 1408.8 3387.6 1412.7 3338.3 1416.5 3334.5 1420.4 3353.5 1424.3 3387.6 1428.2 3334.5 1432.0 3353.5 1439.8 3342.1 1443.6 3364.9 1451.4 3338.3 1459.1 3372.5 1466.9 3338.3 1470.8 3353.5 1478.5 3338.3 1486.3 3368.7 1490.1 3364.9 1494.0 3323.2 1501.7 3315.6 1505.6 3296.6 1509.5 3330.8 1517.2 3311.8 1525.0 3323.2 1532.7 3296.6 1540.5 3308.0 1548.2 3308.0 1556.0 3323.2 1563.7 3296.6 1571.5 3315.6 1579.2 3304.2 1583.1 3285.3 1590.8 3308.0 1598.6 3292.8 1606.3 3304.2 1614.1 3296.6 1617.9 3323.2 1625.7 3296.6 1633.4 3304.2 1641.2 3292.8 1648.9 3308.0 1652.8 3285.3 1660.6 3277.7 1668.3 3262.5" stroke="#0000ff" stroke-width="2"/>
<path d="M1261.6 3565.9 1265.5 3509.0 1269.3 3482.4 1277.1 3474.9 1284.8 3459.7 1292.6 3463.5 1300.3 3452.1 1308.1 3440.7 1315.8 3429.3 1323.6 3425.6 1331.3 3425.6 1339.1 3425.6 1346.8 3421.8 1354.6 3425.6 1362.3 3418.0 1370.1 3421.8 1377.8 3433.1 1385.5 3429.3 1393.3 3418.0 1401.0 3414.2 1408.8 3414.2 1416.5 3406.6 1432.0 3399.0 1447.5 3395.2 1463.0 3391.4 1478.5 3391.4 1494.0 3387.6 1509.5 3387.6 1525.0 3383.8 1540.5 3383.8 1556.0 3380.1 1571.5 3380.1 1587.0 3380.1 1602.5 3380.1 1617.9 3376.3 1633.4 3380.1 1648.9 3380.1 1656.7 3383.8 1664.4 3368.7 1668.3 3368.7" stroke="#0000ff" stroke-dasharray="7 5" stroke-width="2"/>
</g>
<path d="M1261.6 3641.7v-5.0M1261.6 3262.5v5.0M1339.1 3641.7v-5.0M1339.1 3262.5v5.0M1416.5 3641.7v-5.0M1416.5 3262.5v5.0M1494.0 3641.7v-5.0M1494.0 3262.5v5.0M1571.5 3641.7v-5.0M1571.5 3262.5v5.0M1648.9 3641.7v-5.0M1648.9 3262.5v5.0M1726.4 3641.7v-5.0M1726.4 3262.5v5.0M1261.6 3641.7h5.0M1726.4 3641.7h-5.0M1261.6 3565.9h5.0M1726.4 3565.9h-5.0M1261.6 3490.0h5.0M1726.4 3490.0h-5.0M1261.6 3414.2h5.0M1726.4 3414.2h-5.0M1261.6 3338.3h5.0M1726.4 3338.3h-5.0M1261.6 3262.5h5.0M1726.4 3262.5h-5.0" stroke="#262626" stroke-width="1.1" fill="none"/>
<rect x="1261.6" y="3262.5" width="464.8" height="379.2" stroke="#262626" stroke-width="1.3" fill="none"/>
<text x="1261.6" y="3670.9" font-size="22.4" font-weight="bold" text-anchor="middle" fill="#262626" textLength="10.5" lengthAdjust="spacingAndGlyphs">0</text>
<text x="1339.1" y="3670.9" font-size="22.4" font-weight="bold" text-anchor="middle" fill="#262626" textLength="10.5" lengthAdjust="spacingAndGlyphs">1</text>
<text x="1416.5" y="3670.9" font-size="22.4" font-weight="bold" text-anchor="middle" fill="#262626" textLength="10.5" lengthAdjust="spacingAndGlyphs">2</text>
<text x="1494.0" y="3670.9" font-size="22.4" font-weight="bold" text-anchor="middle" fill="#262626" textLength="10.5" lengthAdjust="spacingAndGlyphs">3</text>
<text x="1571.5" y="3670.9" font-size="22.4" font-weight="bold" text-anchor="middle" fill="#262626" textLength="10.5" lengthAdjust="spacingAndGlyphs">4</text>
<text x="1648.9" y="3670.9" font-size="22.4" font-weight="bold" text-anchor="middle" fill="#262626" textLength="10.5" lengthAdjust="spacingAndGlyphs">5</text>
<text x="1726.4" y="3670.9" font-size="22.4" font-weight="bold" text-anchor="middle" fill="#262626" textLength="10.5" lengthAdjust="spacingAndGlyphs">6</text>
<text x="1256.6" y="3649.9" font-size="22.4" font-weight="bold" text-anchor="end" fill="#262626" textLength="10.5" lengthAdjust="spacingAndGlyphs">0</text>
<text x="1256.6" y="3574.1" font-size="22.4" font-weight="bold" text-anchor="end" fill="#262626" textLength="21.1" lengthAdjust="spacingAndGlyphs">20</text>
<text x="1256.6" y="3498.2" font-size="22.4" font-weight="bold" text-anchor="end" fill="#262626" textLength="21.1" lengthAdjust="spacingAndGlyphs">40</text>
<text x="1256.6" y="3422.4" font-size="22.4" font-weight="bold" text-anchor="end" fill="#262626" textLength="21.1" lengthAdjust="spacingAndGlyphs">60</text>
<text x="1256.6" y="3346.5" font-size="22.4" font-weight="bold" text-anchor="end" fill="#262626" textLength="21.1" lengthAdjust="spacingAndGlyphs">80</text>
<text x="1256.6" y="3270.7" font-size="22.4" font-weight="bold" text-anchor="end" fill="#262626" textLength="31.6" lengthAdjust="spacingAndGlyphs">100</text>
<text x="1494.0" y="3253.7" font-size="23.2" font-weight="bold" text-anchor="middle" fill="#000" textLength="372.3" lengthAdjust="spacingAndGlyphs">Batch size: 100, Display frequency: 50</text>
<text x="1494.0" y="3702.3" font-size="25.6" font-weight="bold" text-anchor="middle" fill="#262626" textLength="60.3" lengthAdjust="spacingAndGlyphs">Epoch</text>
<text transform="translate(1217.9,3452.1) rotate(-90)" x="0" y="0" font-size="22.7" font-weight="bold" text-anchor="middle" fill="#262626" textLength="106.5" lengthAdjust="spacingAndGlyphs">Accuracy</text>
<rect x="1518.2" y="3527.5" width="183.3" height="102.5" fill="#fff" stroke="#000" stroke-width="1.1"/>
<path d="M1520.2 3541.7h26" stroke="#ff0000" stroke-width="2.8"/>
<text x="1548.2" y="3548.9" font-size="20.2" font-weight="normal" text-anchor="start" fill="#000" textLength="136.8" lengthAdjust="spacingAndGlyphs">sL-SR1-TR (train)</text>
<path d="M1520.2 3566.4h26" stroke="#ff0000" stroke-width="2.8" stroke-dasharray="7 5"/>
<text x="1548.2" y="3573.6" font-size="20.2" font-weight="normal" text-anchor="start" fill="#000" textLength="131.0" lengthAdjust="spacingAndGlyphs">sL-SR1-TR (test)</text>
<path d="M1520.2 3591.1h26" stroke="#0000ff" stroke-width="2.0"/>
<text x="1548.2" y="3598.3" font-size="20.2" font-weight="normal" text-anchor="start" fill="#000" textLength="150.3" lengthAdjust="spacingAndGlyphs">sL-BFGS-TR (train)</text>
<path d="M1520.2 3615.8h26" stroke="#0000ff" stroke-width="2.0" stroke-dasharray="7 5"/>
<text x="1548.2" y="3623.0" font-size="20.2" font-weight="normal" text-anchor="start" fill="#000" textLength="144.5" lengthAdjust="spacingAndGlyphs">sL-BFGS-TR (test)</text>
<path d="M1911.6 3262.5V3641.7M2004.7 3262.5V3641.7M2097.8 3262.5V3641.7M2190.9 3262.5V3641.7M1818.5 3565.9H2284.0M1818.5 3490.0H2284.0M1818.5 3414.2H2284.0M1818.5 3338.3H2284.0" stroke="#e3e3e3" stroke-width="1.2" fill="none"/>
<g clip-path="url(#cl2)" fill="none" stroke-width="2.8" stroke-linejoin="round">
<path d="M1818.5 3611.4 1822.1 3571.4 1825.7 3515.5 1829.3 3503.9 1832.9 3480.2 1836.5 3476.8 1840.2 3461.8 1843.8 3459.8 1847.4 3454.0 1851.0 3458.5 1854.6 3451.2 1858.2 3440.2 1861.8 3446.5 1865.4 3425.8 1869.0 3430.1 1872.6 3428.7 1876.2 3422.7 1879.8 3422.4 1883.5 3412.1 1887.1 3411.6 1890.7 3413.4 1894.3 3417.5 1897.9 3412.5 1901.5 3404.8 1905.1 3398.2 1908.7 3403.6 1912.3 3395.8 1915.9 3405.3 1919.5 3396.5 1923.1 3398.9 1926.8 3398.7 1930.4 3399.9 1934.0 3401.7 1937.6 3402.3 1941.2 3391.9 1944.8 3398.1 1948.4 3390.6 1952.0 3381.2 1955.6 3382.1 1959.2 3377.4 1962.8 3376.6 1966.4 3383.9 1970.1 3372.7 1973.7 3381.9 1977.3 3370.0 1980.9 3375.9 1984.5 3377.2 1988.1 3369.7 1991.7 3363.9 1995.3 3366.9 1998.9 3374.0 2002.5 3373.0 2006.1 3361.1 2009.8 3370.7 2013.4 3368.9 2017.0 3361.6 2020.6 3364.2 2024.2 3357.9 2027.8 3358.8 2031.4 3361.5 2035.0 3358.8 2038.6 3359.3 2042.2 3355.8 2045.8 3368.7 2049.4 3352.8 2053.1 3355.1 2056.7 3351.1 2060.3 3351.2 2063.9 3349.8 2067.5 3352.9 2071.1 3350.5 2074.7 3357.8 2078.3 3353.4 2081.9 3347.4 2085.5 3360.9 2089.1 3353.3 2092.7 3345.7 2096.4 3348.4 2100.0 3362.7 2103.6 3356.9 2107.2 3343.0 2110.8 3337.7 2114.4 3344.2 2118.0 3345.4 2121.6 3337.6 2125.2 3344.2 2128.8 3349.2 2132.4 3342.4 2136.1 3331.6 2139.7 3345.2 2143.3 3345.1 2146.9 3349.8 2150.5 3340.7 2154.1 3347.2 2157.7 3339.0 2161.3 3335.3 2164.9 3332.4 2168.5 3335.7 2172.1 3338.3 2175.7 3342.5 2179.4 3333.7 2183.0 3339.5 2186.6 3331.6 2190.2 3336.7 2193.8 3335.4 2197.4 3329.2 2201.0 3340.6 2204.6 3325.5 2208.2 3332.3 2211.8 3332.1 2215.4 3321.1 2219.0 3331.2 2222.7 3326.5 2226.3 3330.6 2229.9 3330.4 2233.5 3330.2 2237.1 3326.1 2240.7 3327.0 2244.3 3318.1 2247.9 3325.5 2251.5 3328.3 2255.1 3324.0 2258.7 3309.2 2262.3 3322.9 2266.0 3317.5 2269.6 3315.8 2273.2 3323.7 2276.8 3326.0 2280.4 3317.9 2284.0 3324.3" stroke="#ff0000"/>
<path d="M1818.5 3611.4 1822.1 3574.2 1825.7 3536.2 1829.3 3510.4 1832.9 3496.4 1836.5 3482.2 1840.2 3470.0 1843.8 3466.1 1847.4 3462.5 1851.0 3457.3 1854.6 3453.7 1858.2 3446.6 1861.8 3443.0 1865.4 3439.4 1869.0 3440.4 1872.6 3429.8 1876.2 3429.3 1879.8 3427.7 1883.5 3430.2 1887.1 3427.6 1890.7 3422.0 1894.3 3422.2 1897.9 3416.1 1901.5 3414.9 1905.1 3412.2 1908.7 3409.2 1912.3 3414.4 1915.9 3403.8 1919.5 3406.0 1923.1 3403.8 1926.8 3405.6 1930.4 3402.5 1934.0 3398.4 1937.6 3401.7 1941.2 3399.2 1944.8 3397.9 1948.4 3397.1 1952.0 3392.9 1955.6 3392.2 1959.2 3391.8 1962.8 3393.0 1966.4 3387.6 1970.1 3387.2 1973.7 3386.9 1977.3 3390.6 1980.9 3387.5 1984.5 3386.1 1988.1 3389.1 1991.7 3385.3 1995.3 3387.3 1998.9 3388.5 2002.5 3382.7 2006.1 3382.3 2009.8 3382.3 2013.4 3383.6 2017.0 3377.0 2020.6 3378.8 2024.2 3379.3 2027.8 3378.2 2031.4 3377.0 2035.0 3379.3 2038.6 3380.0 2042.2 3376.1 2045.8 3375.8 2049.4 3374.3 2053.1 3378.3 2056.7 3376.4 2060.3 3372.7 2063.9 3373.1 2067.5 3372.8 2071.1 3375.0 2074.7 3371.2 2078.3 3369.1 2081.9 3369.5 2085.5 3368.3 2089.1 3370.8 2092.7 3372.8 2096.4 3367.6 2100.0 3368.1 2103.6 3372.0 2107.2 3371.7 2110.8 3367.6 2114.4 3361.5 2118.0 3365.4 2121.6 3365.8 2125.2 3364.9 2128.8 3368.4 2132.4 3368.1 2136.1 3367.9 2139.7 3366.5 2143.3 3367.0 2146.9 3368.0 2150.5 3361.4 2154.1 3362.0 2157.7 3364.2 2161.3 3368.2 2164.9 3365.2 2168.5 3358.2 2172.1 3363.9 2175.7 3363.1 2179.4 3365.7 2183.0 3357.6 2186.6 3358.0 2190.2 3359.3 2193.8 3362.9 2197.4 3367.0 2201.0 3363.9 2204.6 3362.5 2208.2 3360.6 2211.8 3360.9 2215.4 3358.6 2219.0 3360.8 2222.7 3363.2 2226.3 3363.0 2229.9 3363.4 2233.5 3357.7 2237.1 3355.8 2240.7 3362.0 2244.3 3363.3 2247.9 3360.7 2251.5 3361.4 2255.1 3359.9 2258.7 3363.6 2262.3 3357.7 2266.0 3359.8 2269.6 3357.9 2273.2 3359.3 2276.8 3358.4 2280.4 3362.5 2284.0 3362.5" stroke="#ff0000" stroke-dasharray="7 5"/>
<path d="M1818.5 3611.4 1822.1 3559.4 1825.7 3524.1 1829.3 3496.6 1832.9 3492.1 1836.5 3476.4 1840.2 3462.9 1843.8 3461.7 1847.4 3458.1 1851.0 3460.1 1854.6 3442.2 1858.2 3441.6 1861.8 3432.7 1865.4 3437.4 1869.0 3429.8 1872.6 3420.3 1876.2 3425.0 1879.8 3419.8 1883.5 3417.4 1887.1 3422.3 1890.7 3419.4 1894.3 3414.6 1897.9 3415.4 1901.5 3412.4 1905.1 3400.8 1908.7 3405.2 1912.3 3403.2 1915.9 3408.3 1919.5 3394.4 1923.1 3400.9 1926.8 3401.0 1930.4 3402.1 1934.0 3402.5 1937.6 3404.7 1941.2 3401.5 1944.8 3392.6 1948.4 3400.4 1952.0 3392.3 1955.6 3388.5 1959.2 3386.6 1962.8 3385.6 1966.4 3388.6 1970.1 3391.2 1973.7 3377.2 1977.3 3382.8 1980.9 3382.6 1984.5 3386.7 1988.1 3378.7 1991.7 3370.8 1995.3 3391.5 1998.9 3374.9 2002.5 3378.9 2006.1 3371.6 2009.8 3381.0 2013.4 3374.9 2017.0 3376.8 2020.6 3384.2 2024.2 3373.3 2027.8 3382.4 2031.4 3372.0 2035.0 3377.8 2038.6 3380.1 2042.2 3373.2 2045.8 3382.0 2049.4 3370.9 2053.1 3369.9 2056.7 3370.0 2060.3 3368.8 2063.9 3376.3 2067.5 3375.0 2071.1 3375.9 2074.7 3367.3 2078.3 3376.5 2081.9 3376.9 2085.5 3376.7 2089.1 3376.4 2092.7 3377.0 2096.4 3384.7 2100.0 3377.8 2103.6 3377.2 2107.2 3374.3 2110.8 3374.4 2114.4 3381.7 2118.0 3381.8 2121.6 3375.9 2125.2 3377.8 2128.8 3373.3 2132.4 3371.0 2136.1 3367.6 2139.7 3376.3 2143.3 3369.0 2146.9 3388.4 2150.5 3379.4 2154.1 3368.9 2157.7 3358.1 2161.3 3380.6 2164.9 3375.1 2168.5 3377.0 2172.1 3373.4 2175.7 3381.6 2179.4 3375.4 2183.0 3384.6 2186.6 3373.1 2190.2 3370.0 2193.8 3384.6 2197.4 3382.7 2201.0 3377.4 2204.6 3374.5 2208.2 3375.9 2211.8 3370.5 2215.4 3366.7 2219.0 3367.5 2222.7 3365.6 2226.3 3368.0 2229.9 3365.3 2233.5 3376.0 2237.1 3377.0 2240.7 3375.5 2244.3 3371.7 2247.9 3368.1 2251.5 3385.9 2255.1 3377.4 2258.7 3373.9 2262.3 3375.7 2266.0 3371.7 2269.6 3372.6 2273.2 3374.7 2276.8 3366.3 2280.4 3364.4 2284.0 3365.8" stroke="#0000ff" stroke-width="2"/>
<path d="M1818.5 3611.4 1822.1 3550.7 1825.7 3513.0 1829.3 3497.1 1832.9 3490.0 1836.5 3478.4 1840.2 3465.8 1843.8 3462.9 1847.4 3456.4 1851.0 3453.7 1854.6 3451.9 1858.2 3445.2 1861.8 3441.0 1865.4 3435.4 1869.0 3432.5 1872.6 3428.7 1876.2 3425.2 1879.8 3422.0 1883.5 3420.7 1887.1 3418.4 1890.7 3417.6 1894.3 3415.7 1897.9 3415.4 1901.5 3415.1 1905.1 3412.5 1908.7 3412.2 1912.3 3409.9 1915.9 3406.8 1919.5 3409.4 1923.1 3408.1 1926.8 3408.0 1930.4 3403.1 1934.0 3403.8 1937.6 3398.9 1941.2 3402.2 1944.8 3400.4 1948.4 3397.1 1952.0 3398.2 1955.6 3396.6 1959.2 3393.6 1962.8 3393.4 1966.4 3393.8 1970.1 3392.9 1973.7 3393.0 1977.3 3392.4 1980.9 3393.0 1984.5 3391.0 1988.1 3390.6 1991.7 3389.1 1995.3 3389.5 1998.9 3389.5 2002.5 3389.2 2006.1 3388.4 2009.8 3388.9 2013.4 3389.3 2017.0 3389.4 2020.6 3389.1 2024.2 3387.6 2027.8 3387.2 2031.4 3388.5 2035.0 3388.4 2038.6 3388.2 2042.2 3385.6 2045.8 3387.6 2049.4 3386.9 2053.1 3388.6 2056.7 3386.2 2060.3 3386.4 2063.9 3387.1 2067.5 3387.3 2071.1 3385.5 2074.7 3388.1 2078.3 3387.3 2081.9 3387.6 2085.5 3386.4 2089.1 3388.8 2092.7 3384.7 2096.4 3383.8 2100.0 3385.2 2103.6 3382.9 2107.2 3384.1 2110.8 3385.0 2114.4 3387.1 2118.0 3385.1 2121.6 3384.9 2125.2 3388.6 2128.8 3387.4 2132.4 3386.6 2136.1 3386.0 2139.7 3386.9 2143.3 3386.5 2146.9 3386.2 2150.5 3383.3 2154.1 3384.9 2157.7 3385.2 2161.3 3383.4 2164.9 3384.8 2168.5 3384.5 2172.1 3385.1 2175.7 3384.2 2179.4 3383.2 2183.0 3383.6 2186.6 3385.7 2190.2 3384.5 2193.8 3386.4 2197.4 3386.6 2201.0 3383.6 2204.6 3383.5 2208.2 3385.8 2211.8 3384.5 2215.4 3383.9 2219.0 3386.1 2222.7 3384.7 2226.3 3383.1 2229.9 3384.2 2233.5 3384.8 2237.1 3384.6 2240.7 3384.2 2244.3 3385.8 2247.9 3383.2 2251.5 3385.1 2255.1 3384.6 2258.7 3384.5 2262.3 3384.8 2266.0 3384.1 2269.6 3383.2 2273.2 3386.3 2276.8 3382.3 2280.4 3383.5 2284.0 3385.9" stroke="#0000ff" stroke-dasharray="7 5" stroke-width="2"/>
</g>
<path d="M1818.5 3641.7v-5.0M1818.5 3262.5v5.0M1911.6 3641.7v-5.0M1911.6 3262.5v5.0M2004.7 3641.7v-5.0M2004.7 3262.5v5.0M2097.8 3641.7v-5.0M2097.8 3262.5v5.0M2190.9 3641.7v-5.0M2190.9 3262.5v5.0M2284.0 3641.7v-5.0M2284.0 3262.5v5.0M1818.5 3641.7h5.0M2284.0 3641.7h-5.0M1818.5 3565.9h5.0M2284.0 3565.9h-5.0M1818.5 3490.0h5.0M2284.0 3490.0h-5.0M1818.5 3414.2h5.0M2284.0 3414.2h-5.0M1818.5 3338.3h5.0M2284.0 3338.3h-5.0M1818.5 3262.5h5.0M2284.0 3262.5h-5.0" stroke="#262626" stroke-width="1.1" fill="none"/>
<rect x="1818.5" y="3262.5" width="465.5" height="379.2" stroke="#262626" stroke-width="1.3" fill="none"/>
<text x="1818.5" y="3670.9" font-size="22.4" font-weight="bold" text-anchor="middle" fill="#262626" textLength="10.5" lengthAdjust="spacingAndGlyphs">0</text>
<text x="1911.6" y="3670.9" font-size="22.4" font-weight="bold" text-anchor="middle" fill="#262626" textLength="10.5" lengthAdjust="spacingAndGlyphs">2</text>
<text x="2004.7" y="3670.9" font-size="22.4" font-weight="bold" text-anchor="middle" fill="#262626" textLength="10.5" lengthAdjust="spacingAndGlyphs">4</text>
<text x="2097.8" y="3670.9" font-size="22.4" font-weight="bold" text-anchor="middle" fill="#262626" textLength="10.5" lengthAdjust="spacingAndGlyphs">6</text>
<text x="2190.9" y="3670.9" font-size="22.4" font-weight="bold" text-anchor="middle" fill="#262626" textLength="10.5" lengthAdjust="spacingAndGlyphs">8</text>
<text x="2284.0" y="3670.9" font-size="22.4" font-weight="bold" text-anchor="middle" fill="#262626" textLength="21.1" lengthAdjust="spacingAndGlyphs">10</text>
<text x="1813.5" y="3649.9" font-size="22.4" font-weight="bold" text-anchor="end" fill="#262626" textLength="10.5" lengthAdjust="spacingAndGlyphs">0</text>
<text x="1813.5" y="3574.1" font-size="22.4" font-weight="bold" text-anchor="end" fill="#262626" textLength="21.1" lengthAdjust="spacingAndGlyphs">20</text>
<text x="1813.5" y="3498.2" font-size="22.4" font-weight="bold" text-anchor="end" fill="#262626" textLength="21.1" lengthAdjust="spacingAndGlyphs">40</text>
<text x="1813.5" y="3422.4" font-size="22.4" font-weight="bold" text-anchor="end" fill="#262626" textLength="21.1" lengthAdjust="spacingAndGlyphs">60</text>
<text x="1813.5" y="3346.5" font-size="22.4" font-weight="bold" text-anchor="end" fill="#262626" textLength="21.1" lengthAdjust="spacingAndGlyphs">80</text>
<text x="1813.5" y="3270.7" font-size="22.4" font-weight="bold" text-anchor="end" fill="#262626" textLength="31.6" lengthAdjust="spacingAndGlyphs">100</text>
<text x="2051.2" y="3253.7" font-size="23.2" font-weight="bold" text-anchor="middle" fill="#000" textLength="383.7" lengthAdjust="spacingAndGlyphs">Batch size: 1000, Display frequency: 10</text>
<text x="2051.2" y="3702.3" font-size="25.6" font-weight="bold" text-anchor="middle" fill="#262626" textLength="60.3" lengthAdjust="spacingAndGlyphs">Epoch</text>
<text transform="translate(1774.8,3452.1) rotate(-90)" x="0" y="0" font-size="22.7" font-weight="bold" text-anchor="middle" fill="#262626" textLength="106.5" lengthAdjust="spacingAndGlyphs">Accuracy</text>
<rect x="2076.6" y="3527.5" width="183.0" height="102.5" fill="#fff" stroke="#000" stroke-width="1.1"/>
<path d="M2078.6 3541.7h26" stroke="#ff0000" stroke-width="2.8"/>
<text x="2106.6" y="3548.9" font-size="20.2" font-weight="normal" text-anchor="start" fill="#000" textLength="136.5" lengthAdjust="spacingAndGlyphs">sL-SR1-TR (train)</text>
<path d="M2078.6 3566.4h26" stroke="#ff0000" stroke-width="2.8" stroke-dasharray="7 5"/>
<text x="2106.6" y="3573.6" font-size="20.2" font-weight="normal" text-anchor="start" fill="#000" textLength="130.8" lengthAdjust="spacingAndGlyphs">sL-SR1-TR (test)</text>
<path d="M2078.6 3591.1h26" stroke="#0000ff" stroke-width="2.0"/>
<text x="2106.6" y="3598.3" font-size="20.2" font-weight="normal" text-anchor="start" fill="#000" textLength="150.0" lengthAdjust="spacingAndGlyphs">sL-BFGS-TR (train)</text>
<path d="M2078.6 3615.8h26" stroke="#0000ff" stroke-width="2.0" stroke-dasharray="7 5"/>
<text x="2106.6" y="3623.0" font-size="20.2" font-weight="normal" text-anchor="start" fill="#000" textLength="144.2" lengthAdjust="spacingAndGlyphs">sL-BFGS-TR (test)</text>
<text x="238.2" y="607.8" class="cap" font-size="71.5" fill="#000" textLength="71.7" lengthAdjust="spacingAndGlyphs">(a)</text>
<text x="354.5" y="607.8" class="cap" font-size="71.5" fill="#000" textLength="603.5" lengthAdjust="spacingAndGlyphs">MNIST with LeNet-like</text>
<text x="1389.5" y="607.8" class="cap" font-size="71.5" fill="#000" textLength="71.7" lengthAdjust="spacingAndGlyphs">(b)</text>
<text x="1503.5" y="607.8" class="cap" font-size="71.5" fill="#000" textLength="659.5" lengthAdjust="spacingAndGlyphs">F-MNIST with LeNet-like</text>
<text x="207.8" y="1231.9" class="cap" font-size="71.5" fill="#000" textLength="68.2" lengthAdjust="spacingAndGlyphs">(c)</text>
<text x="322.0" y="1231.9" class="cap" font-size="71.5" fill="#000" textLength="668.0" lengthAdjust="spacingAndGlyphs">F-MNIST with ResNet-20</text>
<text x="1275.5" y="1231.9" class="cap" font-size="71.5" fill="#000" textLength="71.7" lengthAdjust="spacingAndGlyphs">(d)</text>
<text x="1393.5" y="1231.9" class="cap" font-size="71.5" fill="#000" textLength="884.5" lengthAdjust="spacingAndGlyphs">F-MNIST with ResNet-20(no BN)</text>
<text x="211.2" y="1852.7" class="cap" font-size="71.5" fill="#000" textLength="68.2" lengthAdjust="spacingAndGlyphs">(e)</text>
<text x="329.5" y="1852.7" class="cap" font-size="71.5" fill="#000" textLength="656.5" lengthAdjust="spacingAndGlyphs">CIFAR10 with ResNet-20</text>
<text x="1280.5" y="1852.7" class="cap" font-size="71.5" fill="#000" textLength="58.0" lengthAdjust="spacingAndGlyphs">(f)</text>
<text x="1398.5" y="1852.7" class="cap" font-size="71.5" fill="#000" textLength="863.0" lengthAdjust="spacingAndGlyphs">CIFAR10 with ResNet-20(no BN)</text>
<text x="187.7" y="2475.1" class="cap" font-size="71.5" fill="#000" textLength="71.7" lengthAdjust="spacingAndGlyphs">(g)</text>
<text x="303.0" y="2475.1" class="cap" font-size="71.5" fill="#000" textLength="706.0" lengthAdjust="spacingAndGlyphs">MNIST with ConvNet3FC2</text>
<text x="1255.5" y="2475.1" class="cap" font-size="71.5" fill="#000" textLength="71.7" lengthAdjust="spacingAndGlyphs">(h)</text>
<text x="1375.0" y="2475.1" class="cap" font-size="71.5" fill="#000" textLength="923.5" lengthAdjust="spacingAndGlyphs">MNIST with ConvNet3FC2(no BN)</text>
<text x="151.1" y="3115.7" class="cap" font-size="71.5" fill="#000" textLength="58.0" lengthAdjust="spacingAndGlyphs">(i)</text>
<text x="257.0" y="3115.7" class="cap" font-size="71.5" fill="#000" textLength="762.0" lengthAdjust="spacingAndGlyphs">F-MNIST with ConvNet3FC2</text>
<text x="1221.7" y="3115.7" class="cap" font-size="71.5" fill="#000" textLength="58.0" lengthAdjust="spacingAndGlyphs">(j)</text>
<text x="1327.5" y="3115.7" class="cap" font-size="71.5" fill="#000" textLength="981.0" lengthAdjust="spacingAndGlyphs">F-MNIST with ConvNet3FC2(no BN)</text>
<text x="163.2" y="3799.7" class="cap" font-size="71.5" fill="#000" textLength="68.2" lengthAdjust="spacingAndGlyphs">(k)</text>
<text x="258.5" y="3799.7" class="cap" font-size="71.5" fill="#000" textLength="753.5" lengthAdjust="spacingAndGlyphs">CIFAR10 with ConvNet3FC2</text>
<text x="1227.8" y="3799.7" class="cap" font-size="71.5" fill="#000" textLength="58.0" lengthAdjust="spacingAndGlyphs">(l)</text>
<text x="1332.5" y="3799.7" class="cap" font-size="71.5" fill="#000" textLength="968.5" lengthAdjust="spacingAndGlyphs">CIFAR10 with ConvNet3FC2(no BN)</text>
</svg></body></html>
